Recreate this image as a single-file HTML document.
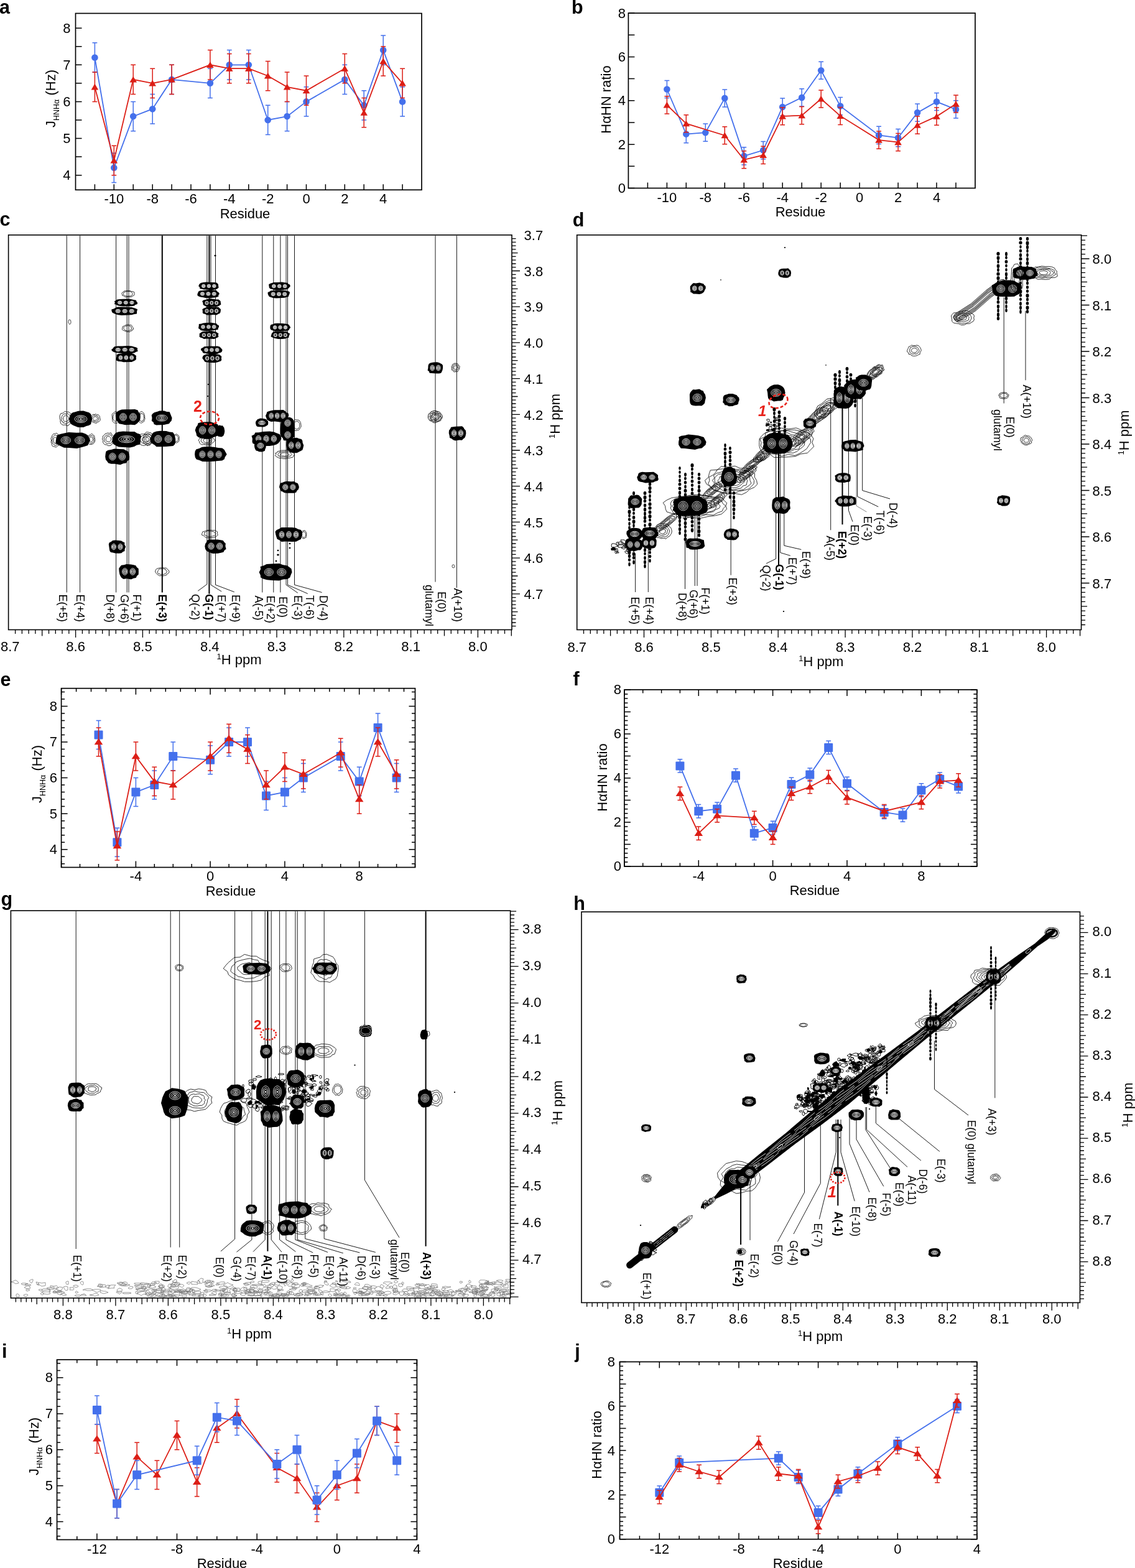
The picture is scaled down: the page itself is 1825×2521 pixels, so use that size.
<!DOCTYPE html>
<html><head><meta charset="utf-8"><style>
html,body{margin:0;padding:0;background:#fff;}
svg{display:block;}
text{font-family:'Liberation Sans', Arial, sans-serif;fill:#000;}
</style></head><body>
<svg width="1825" height="2521" viewBox="0 0 1825 2521">
<rect width="1825" height="2521" fill="#fff"/>
<rect x="121.5" y="21.5" width="556.5" height="283.8" fill="none" stroke="#000" stroke-width="1.7"/>
<path d="M152.4 305.3v-9M183.3 305.3v-9M214.2 305.3v-9M245.2 305.3v-9M276.1 305.3v-9M307.0 305.3v-9M337.9 305.3v-9M368.8 305.3v-9M399.8 305.3v-9M430.7 305.3v-9M461.6 305.3v-9M492.5 305.3v-9M523.4 305.3v-9M554.3 305.3v-9M585.2 305.3v-9M616.2 305.3v-9M647.1 305.3v-9M121.5 281.7h10M121.5 252.1h10M121.5 222.5h10M121.5 193.0h10M121.5 163.4h10M121.5 133.8h10M121.5 104.3h10M121.5 74.7h10M121.5 45.2h10" stroke="#000" stroke-width="1.5" fill="none"/>
<text x="183.3" y="326.5" text-anchor="middle" font-size="22">-10</text>
<text x="245.2" y="326.5" text-anchor="middle" font-size="22">-8</text>
<text x="307.0" y="326.5" text-anchor="middle" font-size="22">-6</text>
<text x="368.8" y="326.5" text-anchor="middle" font-size="22">-4</text>
<text x="430.7" y="326.5" text-anchor="middle" font-size="22">-2</text>
<text x="492.5" y="326.5" text-anchor="middle" font-size="22">0</text>
<text x="554.3" y="326.5" text-anchor="middle" font-size="22">2</text>
<text x="616.2" y="326.5" text-anchor="middle" font-size="22">4</text>
<text x="113.5" y="289.1" text-anchor="end" font-size="22">4</text>
<text x="113.5" y="229.9" text-anchor="end" font-size="22">5</text>
<text x="113.5" y="170.8" text-anchor="end" font-size="22">6</text>
<text x="113.5" y="111.7" text-anchor="end" font-size="22">7</text>
<text x="113.5" y="52.6" text-anchor="end" font-size="22">8</text>
<text x="394.0" y="350.5" text-anchor="middle" font-size="22">Residue</text>
<text transform="translate(88.5,158.5) rotate(-90)" text-anchor="middle" font-size="22">J<tspan font-size="12.5" dy="6">HNHα</tspan><tspan dy="-6"> (Hz)</tspan></text>
<path d="M152.4 68.8V116.1M148.5 68.8h7.8M148.5 116.1h7.8M183.3 246.2V293.5M179.4 246.2h7.8M179.4 293.5h7.8M214.2 163.4V210.7M210.3 163.4h7.8M210.3 210.7h7.8M245.2 151.6V198.9M241.3 151.6h7.8M241.3 198.9h7.8M276.1 104.3V151.6M272.2 104.3h7.8M272.2 151.6h7.8M337.9 110.2V157.5M334.0 110.2h7.8M334.0 157.5h7.8M368.8 80.6V127.9M364.9 80.6h7.8M364.9 127.9h7.8M399.8 80.6V127.9M395.9 80.6h7.8M395.9 127.9h7.8M430.7 169.3V216.6M426.8 169.3h7.8M426.8 216.6h7.8M461.6 163.4V210.7M457.7 163.4h7.8M457.7 210.7h7.8M492.5 139.8V187.1M488.6 139.8h7.8M488.6 187.1h7.8M554.3 104.3V151.6M550.4 104.3h7.8M550.4 151.6h7.8M585.2 145.7V193.0M581.4 145.7h7.8M581.4 193.0h7.8M616.2 57.0V104.3M612.3 57.0h7.8M612.3 104.3h7.8M647.1 139.8V187.1M643.2 139.8h7.8M643.2 187.1h7.8" stroke="#4470ec" stroke-width="1.5" fill="none"/>
<polyline points="152.4,92.5 183.3,269.8 214.2,187.1 245.2,175.2 276.1,127.9 337.9,133.8 368.8,104.3 399.8,104.3 430.7,193.0 461.6,187.1 492.5,163.4 554.3,127.9 585.2,169.3 616.2,80.6 647.1,163.4" stroke="#4470ec" stroke-width="1.8" fill="none"/>
<circle cx="152.4" cy="92.5" r="5.3" fill="#4470ec"/>
<circle cx="183.3" cy="269.8" r="5.3" fill="#4470ec"/>
<circle cx="214.2" cy="187.1" r="5.3" fill="#4470ec"/>
<circle cx="245.2" cy="175.2" r="5.3" fill="#4470ec"/>
<circle cx="276.1" cy="127.9" r="5.3" fill="#4470ec"/>
<circle cx="337.9" cy="133.8" r="5.3" fill="#4470ec"/>
<circle cx="368.8" cy="104.3" r="5.3" fill="#4470ec"/>
<circle cx="399.8" cy="104.3" r="5.3" fill="#4470ec"/>
<circle cx="430.7" cy="193.0" r="5.3" fill="#4470ec"/>
<circle cx="461.6" cy="187.1" r="5.3" fill="#4470ec"/>
<circle cx="492.5" cy="163.4" r="5.3" fill="#4470ec"/>
<circle cx="554.3" cy="127.9" r="5.3" fill="#4470ec"/>
<circle cx="585.2" cy="169.3" r="5.3" fill="#4470ec"/>
<circle cx="616.2" cy="80.6" r="5.3" fill="#4470ec"/>
<circle cx="647.1" cy="163.4" r="5.3" fill="#4470ec"/>
<path d="M152.4 116.1V163.4M148.5 116.1h7.8M148.5 163.4h7.8M183.3 234.3V281.7M179.4 234.3h7.8M179.4 281.7h7.8M214.2 104.3V151.6M210.3 104.3h7.8M210.3 151.6h7.8M245.2 110.2V157.5M241.3 110.2h7.8M241.3 157.5h7.8M276.1 104.3V151.6M272.2 104.3h7.8M272.2 151.6h7.8M337.9 80.6V127.9M334.0 80.6h7.8M334.0 127.9h7.8M368.8 86.5V133.8M364.9 86.5h7.8M364.9 133.8h7.8M399.8 86.5V133.8M395.9 86.5h7.8M395.9 133.8h7.8M430.7 98.4V145.7M426.8 98.4h7.8M426.8 145.7h7.8M461.6 116.1V163.4M457.7 116.1h7.8M457.7 163.4h7.8M492.5 122.0V169.3M488.6 122.0h7.8M488.6 169.3h7.8M554.3 86.5V133.8M550.4 86.5h7.8M550.4 133.8h7.8M585.2 157.5V204.8M581.4 157.5h7.8M581.4 204.8h7.8M616.2 74.7V122.0M612.3 74.7h7.8M612.3 122.0h7.8M647.1 110.2V157.5M643.2 110.2h7.8M643.2 157.5h7.8" stroke="#dc1e16" stroke-width="1.5" fill="none"/>
<polyline points="152.4,139.8 183.3,258.0 214.2,127.9 245.2,133.8 276.1,127.9 337.9,104.3 368.8,110.2 399.8,110.2 430.7,122.0 461.6,139.8 492.5,145.7 554.3,110.2 585.2,181.1 616.2,98.4 647.1,133.8" stroke="#dc1e16" stroke-width="1.8" fill="none"/>
<path d="M152.4 134.6L158.2 144.4L146.6 144.4Z" fill="#dc1e16"/>
<path d="M183.3 252.8L189.1 262.6L177.5 262.6Z" fill="#dc1e16"/>
<path d="M214.2 122.7L220.1 132.5L208.4 132.5Z" fill="#dc1e16"/>
<path d="M245.2 128.6L251.0 138.4L239.4 138.4Z" fill="#dc1e16"/>
<path d="M276.1 122.7L281.9 132.5L270.3 132.5Z" fill="#dc1e16"/>
<path d="M337.9 99.1L343.7 108.9L332.1 108.9Z" fill="#dc1e16"/>
<path d="M368.8 105.0L374.6 114.8L363.0 114.8Z" fill="#dc1e16"/>
<path d="M399.8 105.0L405.6 114.8L393.9 114.8Z" fill="#dc1e16"/>
<path d="M430.7 116.8L436.5 126.6L424.9 126.6Z" fill="#dc1e16"/>
<path d="M461.6 134.6L467.4 144.4L455.8 144.4Z" fill="#dc1e16"/>
<path d="M492.5 140.5L498.3 150.3L486.7 150.3Z" fill="#dc1e16"/>
<path d="M554.3 105.0L560.1 114.8L548.5 114.8Z" fill="#dc1e16"/>
<path d="M585.2 175.9L591.0 185.7L579.5 185.7Z" fill="#dc1e16"/>
<path d="M616.2 93.2L622.0 103.0L610.4 103.0Z" fill="#dc1e16"/>
<path d="M647.1 128.6L652.9 138.4L641.3 138.4Z" fill="#dc1e16"/>
<rect x="1010.4" y="21.1" width="557.6" height="281.4" fill="none" stroke="#000" stroke-width="1.7"/>
<path d="M1041.4 302.5v-9M1072.4 302.5v-9M1103.3 302.5v-9M1134.3 302.5v-9M1165.3 302.5v-9M1196.3 302.5v-9M1227.2 302.5v-9M1258.2 302.5v-9M1289.2 302.5v-9M1320.2 302.5v-9M1351.2 302.5v-9M1382.1 302.5v-9M1413.1 302.5v-9M1444.1 302.5v-9M1475.1 302.5v-9M1506.0 302.5v-9M1537.0 302.5v-9M1010.4 302.5h10M1010.4 267.3h10M1010.4 232.2h10M1010.4 197.0h10M1010.4 161.8h10M1010.4 126.6h10M1010.4 91.5h10M1010.4 56.3h10M1010.4 21.1h10" stroke="#000" stroke-width="1.5" fill="none"/>
<text x="1072.4" y="325.0" text-anchor="middle" font-size="22">-10</text>
<text x="1134.3" y="325.0" text-anchor="middle" font-size="22">-8</text>
<text x="1196.3" y="325.0" text-anchor="middle" font-size="22">-6</text>
<text x="1258.2" y="325.0" text-anchor="middle" font-size="22">-4</text>
<text x="1320.2" y="325.0" text-anchor="middle" font-size="22">-2</text>
<text x="1382.1" y="325.0" text-anchor="middle" font-size="22">0</text>
<text x="1444.1" y="325.0" text-anchor="middle" font-size="22">2</text>
<text x="1506.0" y="325.0" text-anchor="middle" font-size="22">4</text>
<text x="1006.0" y="309.9" text-anchor="end" font-size="22">0</text>
<text x="1006.0" y="239.6" text-anchor="end" font-size="22">2</text>
<text x="1006.0" y="169.2" text-anchor="end" font-size="22">4</text>
<text x="1006.0" y="98.9" text-anchor="end" font-size="22">6</text>
<text x="1006.0" y="28.5" text-anchor="end" font-size="22">8</text>
<text x="1287.0" y="348.0" text-anchor="middle" font-size="22">Residue</text>
<text transform="translate(982.3,160.0) rotate(-90)" text-anchor="middle" font-size="22">HαHN ratio</text>
<path d="M1072.4 129.4V157.6M1068.5 129.4h7.8M1068.5 157.6h7.8M1103.3 201.5V229.7M1099.4 201.5h7.8M1099.4 229.7h7.8M1134.3 199.1V227.2M1130.4 199.1h7.8M1130.4 227.2h7.8M1165.3 143.9V172.0M1161.4 143.9h7.8M1161.4 172.0h7.8M1196.3 236.7V264.9M1192.4 236.7h7.8M1192.4 264.9h7.8M1227.2 227.6V255.7M1223.3 227.6h7.8M1223.3 255.7h7.8M1258.2 157.9V186.1M1254.3 157.9h7.8M1254.3 186.1h7.8M1289.2 142.8V170.9M1285.3 142.8h7.8M1285.3 170.9h7.8M1320.2 99.2V127.3M1316.3 99.2h7.8M1316.3 127.3h7.8M1351.2 156.5V184.7M1347.3 156.5h7.8M1347.3 184.7h7.8M1413.1 203.3V231.4M1409.2 203.3h7.8M1409.2 231.4h7.8M1444.1 207.5V235.7M1440.2 207.5h7.8M1440.2 235.7h7.8M1475.1 167.1V195.2M1471.2 167.1h7.8M1471.2 195.2h7.8M1506.0 149.5V177.6M1502.1 149.5h7.8M1502.1 177.6h7.8M1537.0 161.8V189.9M1533.1 161.8h7.8M1533.1 189.9h7.8" stroke="#4470ec" stroke-width="1.5" fill="none"/>
<polyline points="1072.4,143.5 1103.3,215.6 1134.3,213.2 1165.3,157.9 1196.3,250.8 1227.2,241.6 1258.2,172.0 1289.2,156.9 1320.2,113.3 1351.2,170.6 1413.1,217.4 1444.1,221.6 1475.1,181.1 1506.0,163.6 1537.0,175.9" stroke="#4470ec" stroke-width="1.8" fill="none"/>
<circle cx="1072.4" cy="143.5" r="5.3" fill="#4470ec"/>
<circle cx="1103.3" cy="215.6" r="5.3" fill="#4470ec"/>
<circle cx="1134.3" cy="213.2" r="5.3" fill="#4470ec"/>
<circle cx="1165.3" cy="157.9" r="5.3" fill="#4470ec"/>
<circle cx="1196.3" cy="250.8" r="5.3" fill="#4470ec"/>
<circle cx="1227.2" cy="241.6" r="5.3" fill="#4470ec"/>
<circle cx="1258.2" cy="172.0" r="5.3" fill="#4470ec"/>
<circle cx="1289.2" cy="156.9" r="5.3" fill="#4470ec"/>
<circle cx="1320.2" cy="113.3" r="5.3" fill="#4470ec"/>
<circle cx="1351.2" cy="170.6" r="5.3" fill="#4470ec"/>
<circle cx="1413.1" cy="217.4" r="5.3" fill="#4470ec"/>
<circle cx="1444.1" cy="221.6" r="5.3" fill="#4470ec"/>
<circle cx="1475.1" cy="181.1" r="5.3" fill="#4470ec"/>
<circle cx="1506.0" cy="163.6" r="5.3" fill="#4470ec"/>
<circle cx="1537.0" cy="175.9" r="5.3" fill="#4470ec"/>
<path d="M1072.4 154.8V182.9M1068.5 154.8h7.8M1068.5 182.9h7.8M1103.3 184.7V212.8M1099.4 184.7h7.8M1099.4 212.8h7.8M1165.3 203.7V231.8M1161.4 203.7h7.8M1161.4 231.8h7.8M1196.3 242.7V270.8M1192.4 242.7h7.8M1192.4 270.8h7.8M1227.2 235.3V263.5M1223.3 235.3h7.8M1223.3 263.5h7.8M1258.2 172.7V200.8M1254.3 172.7h7.8M1254.3 200.8h7.8M1289.2 171.6V199.8M1285.3 171.6h7.8M1285.3 199.8h7.8M1320.2 144.9V173.1M1316.3 144.9h7.8M1316.3 173.1h7.8M1351.2 172.4V200.5M1347.3 172.4h7.8M1347.3 200.5h7.8M1413.1 211.0V239.2M1409.2 211.0h7.8M1409.2 239.2h7.8M1444.1 214.6V242.7M1440.2 214.6h7.8M1440.2 242.7h7.8M1475.1 187.1V215.3M1471.2 187.1h7.8M1471.2 215.3h7.8M1506.0 173.1V201.2M1502.1 173.1h7.8M1502.1 201.2h7.8M1537.0 153.0V181.1M1533.1 153.0h7.8M1533.1 181.1h7.8" stroke="#dc1e16" stroke-width="1.5" fill="none"/>
<polyline points="1072.4,168.8 1103.3,198.7 1165.3,217.7 1196.3,256.8 1227.2,249.4 1258.2,186.8 1289.2,185.7 1320.2,159.0 1351.2,186.4 1413.1,225.1 1444.1,228.6 1475.1,201.2 1506.0,187.1 1537.0,167.1" stroke="#dc1e16" stroke-width="1.8" fill="none"/>
<path d="M1072.4 163.6L1078.2 173.4L1066.6 173.4Z" fill="#dc1e16"/>
<path d="M1103.3 193.5L1109.1 203.3L1097.5 203.3Z" fill="#dc1e16"/>
<path d="M1165.3 212.5L1171.1 222.3L1159.5 222.3Z" fill="#dc1e16"/>
<path d="M1196.3 251.6L1202.1 261.4L1190.5 261.4Z" fill="#dc1e16"/>
<path d="M1227.2 244.2L1233.0 254.0L1221.4 254.0Z" fill="#dc1e16"/>
<path d="M1258.2 181.6L1264.0 191.4L1252.4 191.4Z" fill="#dc1e16"/>
<path d="M1289.2 180.5L1295.0 190.3L1283.4 190.3Z" fill="#dc1e16"/>
<path d="M1320.2 153.8L1326.0 163.6L1314.4 163.6Z" fill="#dc1e16"/>
<path d="M1351.2 181.2L1357.0 191.0L1345.4 191.0Z" fill="#dc1e16"/>
<path d="M1413.1 219.9L1418.9 229.7L1407.3 229.7Z" fill="#dc1e16"/>
<path d="M1444.1 223.4L1449.9 233.2L1438.3 233.2Z" fill="#dc1e16"/>
<path d="M1475.1 196.0L1480.9 205.8L1469.3 205.8Z" fill="#dc1e16"/>
<path d="M1506.0 181.9L1511.8 191.7L1500.2 191.7Z" fill="#dc1e16"/>
<path d="M1537.0 161.9L1542.8 171.7L1531.2 171.7Z" fill="#dc1e16"/>
<rect x="98.6" y="1106.7" width="568.9" height="287.8" fill="none" stroke="#000" stroke-width="1.7"/>
<path d="M98.6 1394.5v-10M128.5 1394.5v-5.5M158.5 1394.5v-5.5M188.4 1394.5v-5.5M218.4 1394.5v-10M248.3 1394.5v-5.5M278.3 1394.5v-5.5M308.2 1394.5v-5.5M338.1 1394.5v-10M368.1 1394.5v-5.5M398.0 1394.5v-5.5M428.0 1394.5v-5.5M457.9 1394.5v-10M487.8 1394.5v-5.5M517.8 1394.5v-5.5M547.7 1394.5v-5.5M577.7 1394.5v-10M607.6 1394.5v-5.5M637.6 1394.5v-5.5M667.5 1394.5v-5.5M98.6 1106.7v10M122.6 1106.7v5.5M146.5 1106.7v5.5M170.5 1106.7v5.5M194.4 1106.7v5.5M218.4 1106.7v10M242.3 1106.7v5.5M266.3 1106.7v5.5M290.2 1106.7v5.5M314.2 1106.7v5.5M338.1 1106.7v10M362.1 1106.7v5.5M386.0 1106.7v5.5M410.0 1106.7v5.5M434.0 1106.7v5.5M457.9 1106.7v10M481.9 1106.7v5.5M505.8 1106.7v5.5M529.8 1106.7v5.5M553.7 1106.7v5.5M577.7 1106.7v10M601.6 1106.7v5.5M625.6 1106.7v5.5M649.5 1106.7v5.5M98.6 1388.7h5.5M667.5 1388.7h-5.5M98.6 1377.2h5.5M667.5 1377.2h-5.5M98.6 1365.7h10M667.5 1365.7h-10M98.6 1354.2h5.5M667.5 1354.2h-5.5M98.6 1342.7h5.5M667.5 1342.7h-5.5M98.6 1331.2h5.5M667.5 1331.2h-5.5M98.6 1319.7h5.5M667.5 1319.7h-5.5M98.6 1308.2h10M667.5 1308.2h-10M98.6 1296.6h5.5M667.5 1296.6h-5.5M98.6 1285.1h5.5M667.5 1285.1h-5.5M98.6 1273.6h5.5M667.5 1273.6h-5.5M98.6 1262.1h5.5M667.5 1262.1h-5.5M98.6 1250.6h10M667.5 1250.6h-10M98.6 1239.1h5.5M667.5 1239.1h-5.5M98.6 1227.6h5.5M667.5 1227.6h-5.5M98.6 1216.1h5.5M667.5 1216.1h-5.5M98.6 1204.6h5.5M667.5 1204.6h-5.5M98.6 1193.0h10M667.5 1193.0h-10M98.6 1181.5h5.5M667.5 1181.5h-5.5M98.6 1170.0h5.5M667.5 1170.0h-5.5M98.6 1158.5h5.5M667.5 1158.5h-5.5M98.6 1147.0h5.5M667.5 1147.0h-5.5M98.6 1135.5h10M667.5 1135.5h-10M98.6 1124.0h5.5M667.5 1124.0h-5.5M98.6 1112.5h5.5M667.5 1112.5h-5.5" stroke="#000" stroke-width="1.5" fill="none"/>
<text x="218.4" y="1416.0" text-anchor="middle" font-size="22">-4</text>
<text x="338.1" y="1416.0" text-anchor="middle" font-size="22">0</text>
<text x="457.9" y="1416.0" text-anchor="middle" font-size="22">4</text>
<text x="577.7" y="1416.0" text-anchor="middle" font-size="22">8</text>
<text x="92.0" y="1373.1" text-anchor="end" font-size="22">4</text>
<text x="92.0" y="1315.6" text-anchor="end" font-size="22">5</text>
<text x="92.0" y="1258.0" text-anchor="end" font-size="22">6</text>
<text x="92.0" y="1200.4" text-anchor="end" font-size="22">7</text>
<text x="92.0" y="1142.9" text-anchor="end" font-size="22">8</text>
<text x="371.0" y="1440.0" text-anchor="middle" font-size="22">Residue</text>
<text transform="translate(67.0,1244.5) rotate(-90)" text-anchor="middle" font-size="22">J<tspan font-size="12.5" dy="6">HNHα</tspan><tspan dy="-6"> (Hz)</tspan></text>
<path d="M158.5 1158.5V1204.6M154.6 1158.5h7.8M154.6 1204.6h7.8M188.4 1331.2V1377.2M184.5 1331.2h7.8M184.5 1377.2h7.8M218.4 1250.6V1296.6M214.5 1250.6h7.8M214.5 1296.6h7.8M248.3 1239.1V1285.1M244.4 1239.1h7.8M244.4 1285.1h7.8M278.3 1193.0V1239.1M274.4 1193.0h7.8M274.4 1239.1h7.8M338.1 1198.8V1244.8M334.2 1198.8h7.8M334.2 1244.8h7.8M368.1 1170.0V1216.1M364.2 1170.0h7.8M364.2 1216.1h7.8M398.0 1170.0V1216.1M394.1 1170.0h7.8M394.1 1216.1h7.8M428.0 1256.4V1302.4M424.1 1256.4h7.8M424.1 1302.4h7.8M457.9 1250.6V1296.6M454.0 1250.6h7.8M454.0 1296.6h7.8M487.8 1227.6V1273.6M483.9 1227.6h7.8M483.9 1273.6h7.8M547.7 1193.0V1239.1M543.8 1193.0h7.8M543.8 1239.1h7.8M577.7 1233.3V1279.4M573.8 1233.3h7.8M573.8 1279.4h7.8M607.6 1147.0V1193.0M603.7 1147.0h7.8M603.7 1193.0h7.8M637.6 1227.6V1273.6M633.7 1227.6h7.8M633.7 1273.6h7.8" stroke="#4470ec" stroke-width="1.5" fill="none"/>
<polyline points="158.5,1181.5 188.4,1354.2 218.4,1273.6 248.3,1262.1 278.3,1216.1 338.1,1221.8 368.1,1193.0 398.0,1193.0 428.0,1279.4 457.9,1273.6 487.8,1250.6 547.7,1216.1 577.7,1256.4 607.6,1170.0 637.6,1250.6" stroke="#4470ec" stroke-width="1.8" fill="none"/>
<rect x="151.5" y="1174.5" width="14" height="14" rx="1" fill="#4470ec"/>
<rect x="181.4" y="1347.2" width="14" height="14" rx="1" fill="#4470ec"/>
<rect x="211.4" y="1266.6" width="14" height="14" rx="1" fill="#4470ec"/>
<rect x="241.3" y="1255.1" width="14" height="14" rx="1" fill="#4470ec"/>
<rect x="271.3" y="1209.1" width="14" height="14" rx="1" fill="#4470ec"/>
<rect x="331.1" y="1214.8" width="14" height="14" rx="1" fill="#4470ec"/>
<rect x="361.1" y="1186.0" width="14" height="14" rx="1" fill="#4470ec"/>
<rect x="391.0" y="1186.0" width="14" height="14" rx="1" fill="#4470ec"/>
<rect x="421.0" y="1272.4" width="14" height="14" rx="1" fill="#4470ec"/>
<rect x="450.9" y="1266.6" width="14" height="14" rx="1" fill="#4470ec"/>
<rect x="480.8" y="1243.6" width="14" height="14" rx="1" fill="#4470ec"/>
<rect x="540.7" y="1209.1" width="14" height="14" rx="1" fill="#4470ec"/>
<rect x="570.7" y="1249.4" width="14" height="14" rx="1" fill="#4470ec"/>
<rect x="600.6" y="1163.0" width="14" height="14" rx="1" fill="#4470ec"/>
<rect x="630.6" y="1243.6" width="14" height="14" rx="1" fill="#4470ec"/>
<path d="M158.5 1170.0V1216.1M154.6 1170.0h7.8M154.6 1216.1h7.8M188.4 1336.9V1383.0M184.5 1336.9h7.8M184.5 1383.0h7.8M218.4 1193.0V1239.1M214.5 1193.0h7.8M214.5 1239.1h7.8M248.3 1233.3V1279.4M244.4 1233.3h7.8M244.4 1279.4h7.8M278.3 1239.1V1285.1M274.4 1239.1h7.8M274.4 1285.1h7.8M338.1 1193.0V1239.1M334.2 1193.0h7.8M334.2 1239.1h7.8M368.1 1164.3V1210.3M364.2 1164.3h7.8M364.2 1210.3h7.8M398.0 1181.5V1227.6M394.1 1181.5h7.8M394.1 1227.6h7.8M428.0 1239.1V1285.1M424.1 1239.1h7.8M424.1 1285.1h7.8M457.9 1210.3V1256.4M454.0 1210.3h7.8M454.0 1256.4h7.8M487.8 1221.8V1267.9M483.9 1221.8h7.8M483.9 1267.9h7.8M547.7 1187.3V1233.3M543.8 1187.3h7.8M543.8 1233.3h7.8M577.7 1262.1V1308.2M573.8 1262.1h7.8M573.8 1308.2h7.8M607.6 1170.0V1216.1M603.7 1170.0h7.8M603.7 1216.1h7.8M637.6 1221.8V1267.9M633.7 1221.8h7.8M633.7 1267.9h7.8" stroke="#dc1e16" stroke-width="1.5" fill="none"/>
<polyline points="158.5,1193.0 188.4,1360.0 218.4,1216.1 248.3,1256.4 278.3,1262.1 338.1,1216.1 368.1,1187.3 398.0,1204.6 428.0,1262.1 457.9,1233.3 487.8,1244.8 547.7,1210.3 577.7,1285.1 607.6,1193.0 637.6,1244.8" stroke="#dc1e16" stroke-width="1.8" fill="none"/>
<path d="M158.5 1187.0L165.3 1197.2L151.7 1197.2Z" fill="#dc1e16"/>
<path d="M188.4 1354.0L195.2 1364.2L181.6 1364.2Z" fill="#dc1e16"/>
<path d="M218.4 1210.1L225.2 1220.3L211.6 1220.3Z" fill="#dc1e16"/>
<path d="M248.3 1250.4L255.1 1260.6L241.5 1260.6Z" fill="#dc1e16"/>
<path d="M278.3 1256.1L285.1 1266.3L271.5 1266.3Z" fill="#dc1e16"/>
<path d="M338.1 1210.1L344.9 1220.3L331.3 1220.3Z" fill="#dc1e16"/>
<path d="M368.1 1181.3L374.9 1191.5L361.3 1191.5Z" fill="#dc1e16"/>
<path d="M398.0 1198.6L404.8 1208.8L391.2 1208.8Z" fill="#dc1e16"/>
<path d="M428.0 1256.1L434.8 1266.3L421.2 1266.3Z" fill="#dc1e16"/>
<path d="M457.9 1227.3L464.7 1237.5L451.1 1237.5Z" fill="#dc1e16"/>
<path d="M487.8 1238.8L494.6 1249.0L481.0 1249.0Z" fill="#dc1e16"/>
<path d="M547.7 1204.3L554.5 1214.5L540.9 1214.5Z" fill="#dc1e16"/>
<path d="M577.7 1279.1L584.5 1289.3L570.9 1289.3Z" fill="#dc1e16"/>
<path d="M607.6 1187.0L614.4 1197.2L600.8 1197.2Z" fill="#dc1e16"/>
<path d="M637.6 1238.8L644.4 1249.0L630.8 1249.0Z" fill="#dc1e16"/>
<rect x="1003.9" y="1108.9" width="567.0" height="284.1" fill="none" stroke="#000" stroke-width="1.7"/>
<path d="M1003.9 1393.0v-10M1003.9 1108.9v10M1033.7 1393.0v-5.5M1033.7 1108.9v5.5M1063.6 1393.0v-5.5M1063.6 1108.9v5.5M1093.4 1393.0v-5.5M1093.4 1108.9v5.5M1123.3 1393.0v-10M1123.3 1108.9v10M1153.1 1393.0v-5.5M1153.1 1108.9v5.5M1183.0 1393.0v-5.5M1183.0 1108.9v5.5M1212.8 1393.0v-5.5M1212.8 1108.9v5.5M1242.6 1393.0v-10M1242.6 1108.9v10M1272.5 1393.0v-5.5M1272.5 1108.9v5.5M1302.3 1393.0v-5.5M1302.3 1108.9v5.5M1332.2 1393.0v-5.5M1332.2 1108.9v5.5M1362.0 1393.0v-10M1362.0 1108.9v10M1391.8 1393.0v-5.5M1391.8 1108.9v5.5M1421.7 1393.0v-5.5M1421.7 1108.9v5.5M1451.5 1393.0v-5.5M1451.5 1108.9v5.5M1481.4 1393.0v-10M1481.4 1108.9v10M1511.2 1393.0v-5.5M1511.2 1108.9v5.5M1541.1 1393.0v-5.5M1541.1 1108.9v5.5M1570.9 1393.0v-5.5M1570.9 1108.9v5.5M1003.9 1393.0h10M1570.9 1393.0h-10M1003.9 1385.9h5.5M1570.9 1385.9h-5.5M1003.9 1378.8h5.5M1570.9 1378.8h-5.5M1003.9 1371.7h5.5M1570.9 1371.7h-5.5M1003.9 1364.6h5.5M1570.9 1364.6h-5.5M1003.9 1357.5h10M1570.9 1357.5h-10M1003.9 1350.4h5.5M1570.9 1350.4h-5.5M1003.9 1343.3h5.5M1570.9 1343.3h-5.5M1003.9 1336.2h5.5M1570.9 1336.2h-5.5M1003.9 1329.1h5.5M1570.9 1329.1h-5.5M1003.9 1322.0h10M1570.9 1322.0h-10M1003.9 1314.9h5.5M1570.9 1314.9h-5.5M1003.9 1307.8h5.5M1570.9 1307.8h-5.5M1003.9 1300.7h5.5M1570.9 1300.7h-5.5M1003.9 1293.6h5.5M1570.9 1293.6h-5.5M1003.9 1286.5h10M1570.9 1286.5h-10M1003.9 1279.4h5.5M1570.9 1279.4h-5.5M1003.9 1272.3h5.5M1570.9 1272.3h-5.5M1003.9 1265.2h5.5M1570.9 1265.2h-5.5M1003.9 1258.1h5.5M1570.9 1258.1h-5.5M1003.9 1251.0h10M1570.9 1251.0h-10M1003.9 1243.8h5.5M1570.9 1243.8h-5.5M1003.9 1236.7h5.5M1570.9 1236.7h-5.5M1003.9 1229.6h5.5M1570.9 1229.6h-5.5M1003.9 1222.5h5.5M1570.9 1222.5h-5.5M1003.9 1215.4h10M1570.9 1215.4h-10M1003.9 1208.3h5.5M1570.9 1208.3h-5.5M1003.9 1201.2h5.5M1570.9 1201.2h-5.5M1003.9 1194.1h5.5M1570.9 1194.1h-5.5M1003.9 1187.0h5.5M1570.9 1187.0h-5.5M1003.9 1179.9h10M1570.9 1179.9h-10M1003.9 1172.8h5.5M1570.9 1172.8h-5.5M1003.9 1165.7h5.5M1570.9 1165.7h-5.5M1003.9 1158.6h5.5M1570.9 1158.6h-5.5M1003.9 1151.5h5.5M1570.9 1151.5h-5.5M1003.9 1144.4h10M1570.9 1144.4h-10M1003.9 1137.3h5.5M1570.9 1137.3h-5.5M1003.9 1130.2h5.5M1570.9 1130.2h-5.5M1003.9 1123.1h5.5M1570.9 1123.1h-5.5M1003.9 1116.0h5.5M1570.9 1116.0h-5.5M1003.9 1108.9h10M1570.9 1108.9h-10" stroke="#000" stroke-width="1.5" fill="none"/>
<text x="1123.3" y="1416.0" text-anchor="middle" font-size="22">-4</text>
<text x="1242.6" y="1416.0" text-anchor="middle" font-size="22">0</text>
<text x="1362.0" y="1416.0" text-anchor="middle" font-size="22">4</text>
<text x="1481.4" y="1416.0" text-anchor="middle" font-size="22">8</text>
<text x="999.0" y="1400.4" text-anchor="end" font-size="22">0</text>
<text x="999.0" y="1329.4" text-anchor="end" font-size="22">2</text>
<text x="999.0" y="1258.4" text-anchor="end" font-size="22">4</text>
<text x="999.0" y="1187.3" text-anchor="end" font-size="22">6</text>
<text x="999.0" y="1116.3" text-anchor="end" font-size="22">8</text>
<text x="1310.0" y="1438.5" text-anchor="middle" font-size="22">Residue</text>
<text transform="translate(975.5,1250.0) rotate(-90)" text-anchor="middle" font-size="22">HαHN ratio</text>
<path d="M1093.4 1220.8V1242.1M1089.5 1220.8h7.8M1089.5 1242.1h7.8M1123.3 1293.6V1314.9M1119.4 1293.6h7.8M1119.4 1314.9h7.8M1153.1 1290.0V1311.3M1149.2 1290.0h7.8M1149.2 1311.3h7.8M1183.0 1236.0V1257.3M1179.1 1236.0h7.8M1179.1 1257.3h7.8M1212.8 1329.1V1350.4M1208.9 1329.1h7.8M1208.9 1350.4h7.8M1242.6 1320.2V1341.5M1238.7 1320.2h7.8M1238.7 1341.5h7.8M1272.5 1250.2V1271.5M1268.6 1250.2h7.8M1268.6 1271.5h7.8M1302.3 1235.0V1256.3M1298.4 1235.0h7.8M1298.4 1256.3h7.8M1332.2 1191.3V1212.6M1328.3 1191.3h7.8M1328.3 1212.6h7.8M1362.0 1249.2V1270.5M1358.1 1249.2h7.8M1358.1 1270.5h7.8M1421.7 1295.3V1316.6M1417.8 1295.3h7.8M1417.8 1316.6h7.8M1451.5 1300.0V1321.3M1447.6 1300.0h7.8M1447.6 1321.3h7.8M1481.4 1259.8V1281.1M1477.5 1259.8h7.8M1477.5 1281.1h7.8M1511.2 1242.1V1263.4M1507.3 1242.1h7.8M1507.3 1263.4h7.8M1541.1 1253.8V1275.1M1537.2 1253.8h7.8M1537.2 1275.1h7.8" stroke="#4470ec" stroke-width="1.5" fill="none"/>
<polyline points="1093.4,1231.4 1123.3,1304.2 1153.1,1300.7 1183.0,1246.7 1212.8,1339.7 1242.6,1330.9 1272.5,1260.9 1302.3,1245.6 1332.2,1201.9 1362.0,1259.8 1421.7,1306.0 1451.5,1310.6 1481.4,1270.5 1511.2,1252.7 1541.1,1264.4" stroke="#4470ec" stroke-width="1.8" fill="none"/>
<rect x="1086.4" y="1224.4" width="14" height="14" rx="1" fill="#4470ec"/>
<rect x="1116.3" y="1297.2" width="14" height="14" rx="1" fill="#4470ec"/>
<rect x="1146.1" y="1293.7" width="14" height="14" rx="1" fill="#4470ec"/>
<rect x="1176.0" y="1239.7" width="14" height="14" rx="1" fill="#4470ec"/>
<rect x="1205.8" y="1332.7" width="14" height="14" rx="1" fill="#4470ec"/>
<rect x="1235.6" y="1323.9" width="14" height="14" rx="1" fill="#4470ec"/>
<rect x="1265.5" y="1253.9" width="14" height="14" rx="1" fill="#4470ec"/>
<rect x="1295.3" y="1238.6" width="14" height="14" rx="1" fill="#4470ec"/>
<rect x="1325.2" y="1194.9" width="14" height="14" rx="1" fill="#4470ec"/>
<rect x="1355.0" y="1252.8" width="14" height="14" rx="1" fill="#4470ec"/>
<rect x="1414.7" y="1299.0" width="14" height="14" rx="1" fill="#4470ec"/>
<rect x="1444.5" y="1303.6" width="14" height="14" rx="1" fill="#4470ec"/>
<rect x="1474.4" y="1263.5" width="14" height="14" rx="1" fill="#4470ec"/>
<rect x="1504.2" y="1245.7" width="14" height="14" rx="1" fill="#4470ec"/>
<rect x="1534.1" y="1257.4" width="14" height="14" rx="1" fill="#4470ec"/>
<path d="M1093.4 1265.2V1286.5M1089.5 1265.2h7.8M1089.5 1286.5h7.8M1123.3 1329.1V1350.4M1119.4 1329.1h7.8M1119.4 1350.4h7.8M1153.1 1300.7V1322.0M1149.2 1300.7h7.8M1149.2 1322.0h7.8M1212.8 1304.2V1325.5M1208.9 1304.2h7.8M1208.9 1325.5h7.8M1242.6 1336.2V1357.5M1238.7 1336.2h7.8M1238.7 1357.5h7.8M1272.5 1265.2V1286.5M1268.6 1265.2h7.8M1268.6 1286.5h7.8M1302.3 1254.5V1275.8M1298.4 1254.5h7.8M1298.4 1275.8h7.8M1332.2 1238.5V1259.8M1328.3 1238.5h7.8M1328.3 1259.8h7.8M1362.0 1271.5V1292.9M1358.1 1271.5h7.8M1358.1 1292.9h7.8M1421.7 1293.6V1314.9M1417.8 1293.6h7.8M1417.8 1314.9h7.8M1481.4 1279.4V1300.7M1477.5 1279.4h7.8M1477.5 1300.7h7.8M1511.2 1245.6V1266.9M1507.3 1245.6h7.8M1507.3 1266.9h7.8M1541.1 1243.8V1265.2M1537.2 1243.8h7.8M1537.2 1265.2h7.8" stroke="#dc1e16" stroke-width="1.5" fill="none"/>
<polyline points="1093.4,1275.8 1123.3,1339.7 1153.1,1311.3 1212.8,1314.9 1242.6,1346.8 1272.5,1275.8 1302.3,1265.2 1332.2,1249.2 1362.0,1282.2 1421.7,1304.2 1481.4,1290.0 1511.2,1256.3 1541.1,1254.5" stroke="#dc1e16" stroke-width="1.8" fill="none"/>
<path d="M1093.4 1269.8L1100.2 1280.0L1086.6 1280.0Z" fill="#dc1e16"/>
<path d="M1123.3 1333.7L1130.1 1343.9L1116.5 1343.9Z" fill="#dc1e16"/>
<path d="M1153.1 1305.3L1159.9 1315.5L1146.3 1315.5Z" fill="#dc1e16"/>
<path d="M1212.8 1308.9L1219.6 1319.1L1206.0 1319.1Z" fill="#dc1e16"/>
<path d="M1242.6 1340.8L1249.4 1351.0L1235.8 1351.0Z" fill="#dc1e16"/>
<path d="M1272.5 1269.8L1279.3 1280.0L1265.7 1280.0Z" fill="#dc1e16"/>
<path d="M1302.3 1259.2L1309.1 1269.4L1295.5 1269.4Z" fill="#dc1e16"/>
<path d="M1332.2 1243.2L1339.0 1253.4L1325.4 1253.4Z" fill="#dc1e16"/>
<path d="M1362.0 1276.2L1368.8 1286.4L1355.2 1286.4Z" fill="#dc1e16"/>
<path d="M1421.7 1298.2L1428.5 1308.4L1414.9 1308.4Z" fill="#dc1e16"/>
<path d="M1481.4 1284.0L1488.2 1294.2L1474.6 1294.2Z" fill="#dc1e16"/>
<path d="M1511.2 1250.3L1518.0 1260.5L1504.4 1260.5Z" fill="#dc1e16"/>
<path d="M1541.1 1248.5L1547.9 1258.7L1534.3 1258.7Z" fill="#dc1e16"/>
<rect x="91.6" y="2186.1" width="578.8" height="289.4" fill="none" stroke="#000" stroke-width="1.7"/>
<path d="M91.6 2475.5v-5.5M91.6 2186.1v5.5M123.8 2475.5v-5.5M123.8 2186.1v5.5M155.9 2475.5v-10M155.9 2186.1v10M188.1 2475.5v-5.5M188.1 2186.1v5.5M220.2 2475.5v-5.5M220.2 2186.1v5.5M252.4 2475.5v-5.5M252.4 2186.1v5.5M284.5 2475.5v-10M284.5 2186.1v10M316.7 2475.5v-5.5M316.7 2186.1v5.5M348.8 2475.5v-5.5M348.8 2186.1v5.5M381.0 2475.5v-5.5M381.0 2186.1v5.5M413.2 2475.5v-10M413.2 2186.1v10M445.3 2475.5v-5.5M445.3 2186.1v5.5M477.5 2475.5v-5.5M477.5 2186.1v5.5M509.6 2475.5v-5.5M509.6 2186.1v5.5M541.8 2475.5v-10M541.8 2186.1v10M573.9 2475.5v-5.5M573.9 2186.1v5.5M606.1 2475.5v-5.5M606.1 2186.1v5.5M638.2 2475.5v-5.5M638.2 2186.1v5.5M670.4 2475.5v-10M670.4 2186.1v10M91.6 2469.7h5.5M670.4 2469.7h-5.5M91.6 2458.1h5.5M670.4 2458.1h-5.5M91.6 2446.6h10M670.4 2446.6h-10M91.6 2435.0h5.5M670.4 2435.0h-5.5M91.6 2423.4h5.5M670.4 2423.4h-5.5M91.6 2411.8h5.5M670.4 2411.8h-5.5M91.6 2400.3h5.5M670.4 2400.3h-5.5M91.6 2388.7h10M670.4 2388.7h-10M91.6 2377.1h5.5M670.4 2377.1h-5.5M91.6 2365.5h5.5M670.4 2365.5h-5.5M91.6 2354.0h5.5M670.4 2354.0h-5.5M91.6 2342.4h5.5M670.4 2342.4h-5.5M91.6 2330.8h10M670.4 2330.8h-10M91.6 2319.2h5.5M670.4 2319.2h-5.5M91.6 2307.6h5.5M670.4 2307.6h-5.5M91.6 2296.1h5.5M670.4 2296.1h-5.5M91.6 2284.5h5.5M670.4 2284.5h-5.5M91.6 2272.9h10M670.4 2272.9h-10M91.6 2261.3h5.5M670.4 2261.3h-5.5M91.6 2249.8h5.5M670.4 2249.8h-5.5M91.6 2238.2h5.5M670.4 2238.2h-5.5M91.6 2226.6h5.5M670.4 2226.6h-5.5M91.6 2215.0h10M670.4 2215.0h-10M91.6 2203.5h5.5M670.4 2203.5h-5.5M91.6 2191.9h5.5M670.4 2191.9h-5.5" stroke="#000" stroke-width="1.5" fill="none"/>
<text x="155.9" y="2498.0" text-anchor="middle" font-size="22">-12</text>
<text x="284.5" y="2498.0" text-anchor="middle" font-size="22">-8</text>
<text x="413.2" y="2498.0" text-anchor="middle" font-size="22">-4</text>
<text x="541.8" y="2498.0" text-anchor="middle" font-size="22">0</text>
<text x="670.4" y="2498.0" text-anchor="middle" font-size="22">4</text>
<text x="85.0" y="2454.0" text-anchor="end" font-size="22">4</text>
<text x="85.0" y="2396.1" text-anchor="end" font-size="22">5</text>
<text x="85.0" y="2338.2" text-anchor="end" font-size="22">6</text>
<text x="85.0" y="2280.3" text-anchor="end" font-size="22">7</text>
<text x="85.0" y="2222.4" text-anchor="end" font-size="22">8</text>
<text x="357.0" y="2521.0" text-anchor="middle" font-size="22">Residue</text>
<text transform="translate(61.5,2325.5) rotate(-90)" text-anchor="middle" font-size="22">J<tspan font-size="12.5" dy="6">HNHα</tspan><tspan dy="-6"> (Hz)</tspan></text>
<path d="M155.9 2290.3V2336.6M152.0 2290.3h7.8M152.0 2336.6h7.8M188.1 2394.5V2440.8M184.2 2394.5h7.8M184.2 2440.8h7.8M220.2 2319.2V2365.5M216.3 2319.2h7.8M216.3 2365.5h7.8M252.4 2348.2V2394.5M248.5 2348.2h7.8M248.5 2394.5h7.8M284.5 2284.5V2330.8M280.6 2284.5h7.8M280.6 2330.8h7.8M316.7 2359.7V2406.0M312.8 2359.7h7.8M312.8 2406.0h7.8M348.8 2272.9V2319.2M344.9 2272.9h7.8M344.9 2319.2h7.8M381.0 2249.8V2296.1M377.1 2249.8h7.8M377.1 2296.1h7.8M445.3 2336.6V2382.9M441.4 2336.6h7.8M441.4 2382.9h7.8M477.5 2354.0V2400.3M473.6 2354.0h7.8M473.6 2400.3h7.8M509.6 2400.3V2446.6M505.7 2400.3h7.8M505.7 2446.6h7.8M541.8 2365.5V2411.8M537.9 2365.5h7.8M537.9 2411.8h7.8M573.9 2354.0V2400.3M570.0 2354.0h7.8M570.0 2400.3h7.8M606.1 2261.3V2307.6M602.2 2261.3h7.8M602.2 2307.6h7.8M638.2 2272.9V2319.2M634.3 2272.9h7.8M634.3 2319.2h7.8" stroke="#dc1e16" stroke-width="1.5" fill="none"/>
<polyline points="155.9,2313.4 188.1,2417.6 220.2,2342.4 252.4,2371.3 284.5,2307.6 316.7,2382.9 348.8,2296.1 381.0,2272.9 445.3,2359.7 477.5,2377.1 509.6,2423.4 541.8,2388.7 573.9,2377.1 606.1,2284.5 638.2,2296.1" stroke="#dc1e16" stroke-width="1.8" fill="none"/>
<path d="M155.9 2307.4L162.7 2317.6L149.1 2317.6Z" fill="#dc1e16"/>
<path d="M188.1 2411.6L194.9 2421.8L181.3 2421.8Z" fill="#dc1e16"/>
<path d="M220.2 2336.4L227.0 2346.6L213.4 2346.6Z" fill="#dc1e16"/>
<path d="M252.4 2365.3L259.2 2375.5L245.6 2375.5Z" fill="#dc1e16"/>
<path d="M284.5 2301.6L291.3 2311.8L277.7 2311.8Z" fill="#dc1e16"/>
<path d="M316.7 2376.9L323.5 2387.1L309.9 2387.1Z" fill="#dc1e16"/>
<path d="M348.8 2290.1L355.6 2300.3L342.0 2300.3Z" fill="#dc1e16"/>
<path d="M381.0 2266.9L387.8 2277.1L374.2 2277.1Z" fill="#dc1e16"/>
<path d="M445.3 2353.7L452.1 2363.9L438.5 2363.9Z" fill="#dc1e16"/>
<path d="M477.5 2371.1L484.3 2381.3L470.7 2381.3Z" fill="#dc1e16"/>
<path d="M509.6 2417.4L516.4 2427.6L502.8 2427.6Z" fill="#dc1e16"/>
<path d="M541.8 2382.7L548.6 2392.9L535.0 2392.9Z" fill="#dc1e16"/>
<path d="M573.9 2371.1L580.7 2381.3L567.1 2381.3Z" fill="#dc1e16"/>
<path d="M606.1 2278.5L612.9 2288.7L599.3 2288.7Z" fill="#dc1e16"/>
<path d="M638.2 2290.1L645.0 2300.3L631.4 2300.3Z" fill="#dc1e16"/>
<path d="M155.9 2244.0V2290.3M152.0 2244.0h7.8M152.0 2290.3h7.8M188.1 2394.5V2440.8M184.2 2394.5h7.8M184.2 2440.8h7.8M220.2 2348.2V2394.5M216.3 2348.2h7.8M216.3 2394.5h7.8M316.7 2325.0V2371.3M312.8 2325.0h7.8M312.8 2371.3h7.8M348.8 2255.6V2301.9M344.9 2255.6h7.8M344.9 2301.9h7.8M381.0 2261.3V2307.6M377.1 2261.3h7.8M377.1 2307.6h7.8M445.3 2330.8V2377.1M441.4 2330.8h7.8M441.4 2377.1h7.8M477.5 2307.6V2354.0M473.6 2307.6h7.8M473.6 2354.0h7.8M509.6 2388.7V2435.0M505.7 2388.7h7.8M505.7 2435.0h7.8M541.8 2348.2V2394.5M537.9 2348.2h7.8M537.9 2394.5h7.8M573.9 2313.4V2359.7M570.0 2313.4h7.8M570.0 2359.7h7.8M606.1 2261.3V2307.6M602.2 2261.3h7.8M602.2 2307.6h7.8M638.2 2325.0V2371.3M634.3 2325.0h7.8M634.3 2371.3h7.8" stroke="#4470ec" stroke-width="1.5" fill="none"/>
<polyline points="155.9,2267.1 188.1,2417.6 220.2,2371.3 316.7,2348.2 348.8,2278.7 381.0,2284.5 445.3,2354.0 477.5,2330.8 509.6,2411.8 541.8,2371.3 573.9,2336.6 606.1,2284.5 638.2,2348.2" stroke="#4470ec" stroke-width="1.8" fill="none"/>
<rect x="148.9" y="2260.1" width="14" height="14" rx="1" fill="#4470ec"/>
<rect x="181.1" y="2410.6" width="14" height="14" rx="1" fill="#4470ec"/>
<rect x="213.2" y="2364.3" width="14" height="14" rx="1" fill="#4470ec"/>
<rect x="309.7" y="2341.2" width="14" height="14" rx="1" fill="#4470ec"/>
<rect x="341.8" y="2271.7" width="14" height="14" rx="1" fill="#4470ec"/>
<rect x="374.0" y="2277.5" width="14" height="14" rx="1" fill="#4470ec"/>
<rect x="438.3" y="2347.0" width="14" height="14" rx="1" fill="#4470ec"/>
<rect x="470.5" y="2323.8" width="14" height="14" rx="1" fill="#4470ec"/>
<rect x="502.6" y="2404.8" width="14" height="14" rx="1" fill="#4470ec"/>
<rect x="534.8" y="2364.3" width="14" height="14" rx="1" fill="#4470ec"/>
<rect x="566.9" y="2329.6" width="14" height="14" rx="1" fill="#4470ec"/>
<rect x="599.1" y="2277.5" width="14" height="14" rx="1" fill="#4470ec"/>
<rect x="631.2" y="2341.2" width="14" height="14" rx="1" fill="#4470ec"/>
<rect x="996.5" y="2189.5" width="574.4" height="285.2" fill="none" stroke="#000" stroke-width="1.7"/>
<path d="M996.5 2474.7v-5.5M996.5 2189.5v5.5M1028.4 2474.7v-5.5M1028.4 2189.5v5.5M1060.3 2474.7v-10M1060.3 2189.5v10M1092.2 2474.7v-5.5M1092.2 2189.5v5.5M1124.1 2474.7v-5.5M1124.1 2189.5v5.5M1156.1 2474.7v-5.5M1156.1 2189.5v5.5M1188.0 2474.7v-10M1188.0 2189.5v10M1219.9 2474.7v-5.5M1219.9 2189.5v5.5M1251.8 2474.7v-5.5M1251.8 2189.5v5.5M1283.7 2474.7v-5.5M1283.7 2189.5v5.5M1315.6 2474.7v-10M1315.6 2189.5v10M1347.5 2474.7v-5.5M1347.5 2189.5v5.5M1379.4 2474.7v-5.5M1379.4 2189.5v5.5M1411.3 2474.7v-5.5M1411.3 2189.5v5.5M1443.3 2474.7v-10M1443.3 2189.5v10M1475.2 2474.7v-5.5M1475.2 2189.5v5.5M1507.1 2474.7v-5.5M1507.1 2189.5v5.5M1539.0 2474.7v-5.5M1539.0 2189.5v5.5M1570.9 2474.7v-10M1570.9 2189.5v10M996.5 2474.7h10M1570.9 2474.7h-10M996.5 2467.6h5.5M1570.9 2467.6h-5.5M996.5 2460.4h5.5M1570.9 2460.4h-5.5M996.5 2453.3h5.5M1570.9 2453.3h-5.5M996.5 2446.2h5.5M1570.9 2446.2h-5.5M996.5 2439.0h10M1570.9 2439.0h-10M996.5 2431.9h5.5M1570.9 2431.9h-5.5M996.5 2424.8h5.5M1570.9 2424.8h-5.5M996.5 2417.7h5.5M1570.9 2417.7h-5.5M996.5 2410.5h5.5M1570.9 2410.5h-5.5M996.5 2403.4h10M1570.9 2403.4h-10M996.5 2396.3h5.5M1570.9 2396.3h-5.5M996.5 2389.1h5.5M1570.9 2389.1h-5.5M996.5 2382.0h5.5M1570.9 2382.0h-5.5M996.5 2374.9h5.5M1570.9 2374.9h-5.5M996.5 2367.8h10M1570.9 2367.8h-10M996.5 2360.6h5.5M1570.9 2360.6h-5.5M996.5 2353.5h5.5M1570.9 2353.5h-5.5M996.5 2346.4h5.5M1570.9 2346.4h-5.5M996.5 2339.2h5.5M1570.9 2339.2h-5.5M996.5 2332.1h10M1570.9 2332.1h-10M996.5 2325.0h5.5M1570.9 2325.0h-5.5M996.5 2317.8h5.5M1570.9 2317.8h-5.5M996.5 2310.7h5.5M1570.9 2310.7h-5.5M996.5 2303.6h5.5M1570.9 2303.6h-5.5M996.5 2296.4h10M1570.9 2296.4h-10M996.5 2289.3h5.5M1570.9 2289.3h-5.5M996.5 2282.2h5.5M1570.9 2282.2h-5.5M996.5 2275.1h5.5M1570.9 2275.1h-5.5M996.5 2267.9h5.5M1570.9 2267.9h-5.5M996.5 2260.8h10M1570.9 2260.8h-10M996.5 2253.7h5.5M1570.9 2253.7h-5.5M996.5 2246.5h5.5M1570.9 2246.5h-5.5M996.5 2239.4h5.5M1570.9 2239.4h-5.5M996.5 2232.3h5.5M1570.9 2232.3h-5.5M996.5 2225.2h10M1570.9 2225.2h-10M996.5 2218.0h5.5M1570.9 2218.0h-5.5M996.5 2210.9h5.5M1570.9 2210.9h-5.5M996.5 2203.8h5.5M1570.9 2203.8h-5.5M996.5 2196.6h5.5M1570.9 2196.6h-5.5M996.5 2189.5h10M1570.9 2189.5h-10" stroke="#000" stroke-width="1.5" fill="none"/>
<text x="1060.3" y="2498.0" text-anchor="middle" font-size="22">-12</text>
<text x="1188.0" y="2498.0" text-anchor="middle" font-size="22">-8</text>
<text x="1315.6" y="2498.0" text-anchor="middle" font-size="22">-4</text>
<text x="1443.3" y="2498.0" text-anchor="middle" font-size="22">0</text>
<text x="1570.9" y="2498.0" text-anchor="middle" font-size="22">4</text>
<text x="989.0" y="2482.1" text-anchor="end" font-size="22">0</text>
<text x="989.0" y="2410.8" text-anchor="end" font-size="22">2</text>
<text x="989.0" y="2339.5" text-anchor="end" font-size="22">4</text>
<text x="989.0" y="2268.2" text-anchor="end" font-size="22">6</text>
<text x="989.0" y="2196.9" text-anchor="end" font-size="22">8</text>
<text x="1283.0" y="2521.0" text-anchor="middle" font-size="22">Residue</text>
<text transform="translate(967.0,2323.0) rotate(-90)" text-anchor="middle" font-size="22">HαHN ratio</text>
<path d="M1060.3 2389.1V2410.5M1056.4 2389.1h7.8M1056.4 2410.5h7.8M1092.2 2341.0V2362.4M1088.3 2341.0h7.8M1088.3 2362.4h7.8M1251.8 2333.9V2355.3M1247.9 2333.9h7.8M1247.9 2355.3h7.8M1283.7 2364.2V2385.6M1279.8 2364.2h7.8M1279.8 2385.6h7.8M1315.6 2421.2V2442.6M1311.7 2421.2h7.8M1311.7 2442.6h7.8M1347.5 2383.8V2405.2M1343.6 2383.8h7.8M1343.6 2405.2h7.8M1379.4 2358.8V2380.2M1375.5 2358.8h7.8M1375.5 2380.2h7.8M1443.3 2310.7V2332.1M1439.4 2310.7h7.8M1439.4 2332.1h7.8M1539.0 2250.1V2271.5M1535.1 2250.1h7.8M1535.1 2271.5h7.8" stroke="#4470ec" stroke-width="1.5" fill="none"/>
<polyline points="1060.3,2399.8 1092.2,2351.7 1251.8,2344.6 1283.7,2374.9 1315.6,2431.9 1347.5,2394.5 1379.4,2369.5 1443.3,2321.4 1539.0,2260.8" stroke="#4470ec" stroke-width="1.8" fill="none"/>
<rect x="1053.3" y="2392.8" width="14" height="14" rx="1" fill="#4470ec"/>
<rect x="1085.2" y="2344.7" width="14" height="14" rx="1" fill="#4470ec"/>
<rect x="1244.8" y="2337.6" width="14" height="14" rx="1" fill="#4470ec"/>
<rect x="1276.7" y="2367.9" width="14" height="14" rx="1" fill="#4470ec"/>
<rect x="1308.6" y="2424.9" width="14" height="14" rx="1" fill="#4470ec"/>
<rect x="1340.5" y="2387.5" width="14" height="14" rx="1" fill="#4470ec"/>
<rect x="1372.4" y="2362.5" width="14" height="14" rx="1" fill="#4470ec"/>
<rect x="1436.3" y="2314.4" width="14" height="14" rx="1" fill="#4470ec"/>
<rect x="1532.0" y="2253.8" width="14" height="14" rx="1" fill="#4470ec"/>
<path d="M1060.3 2396.3V2417.7M1056.4 2396.3h7.8M1056.4 2417.7h7.8M1092.2 2344.6V2366.0M1088.3 2344.6h7.8M1088.3 2366.0h7.8M1124.1 2355.3V2376.7M1120.2 2355.3h7.8M1120.2 2376.7h7.8M1156.1 2364.2V2385.6M1152.2 2364.2h7.8M1152.2 2385.6h7.8M1219.9 2308.9V2330.3M1216.0 2308.9h7.8M1216.0 2330.3h7.8M1251.8 2358.8V2380.2M1247.9 2358.8h7.8M1247.9 2380.2h7.8M1283.7 2362.4V2383.8M1279.8 2362.4h7.8M1279.8 2383.8h7.8M1315.6 2444.4V2465.8M1311.7 2444.4h7.8M1311.7 2465.8h7.8M1347.5 2371.3V2392.7M1343.6 2371.3h7.8M1343.6 2392.7h7.8M1379.4 2362.4V2383.8M1375.5 2362.4h7.8M1375.5 2383.8h7.8M1411.3 2349.9V2371.3M1407.4 2349.9h7.8M1407.4 2371.3h7.8M1443.3 2316.1V2337.4M1439.4 2316.1h7.8M1439.4 2337.4h7.8M1475.2 2326.8V2348.1M1471.3 2326.8h7.8M1471.3 2348.1h7.8M1507.1 2362.4V2383.8M1503.2 2362.4h7.8M1503.2 2383.8h7.8M1539.0 2241.2V2262.6M1535.1 2241.2h7.8M1535.1 2262.6h7.8" stroke="#dc1e16" stroke-width="1.5" fill="none"/>
<polyline points="1060.3,2407.0 1092.2,2355.3 1124.1,2366.0 1156.1,2374.9 1219.9,2319.6 1251.8,2369.5 1283.7,2373.1 1315.6,2455.1 1347.5,2382.0 1379.4,2373.1 1411.3,2360.6 1443.3,2326.8 1475.2,2337.4 1507.1,2373.1 1539.0,2251.9" stroke="#dc1e16" stroke-width="1.8" fill="none"/>
<path d="M1060.3 2401.0L1067.1 2411.2L1053.5 2411.2Z" fill="#dc1e16"/>
<path d="M1092.2 2349.3L1099.0 2359.5L1085.4 2359.5Z" fill="#dc1e16"/>
<path d="M1124.1 2360.0L1130.9 2370.2L1117.3 2370.2Z" fill="#dc1e16"/>
<path d="M1156.1 2368.9L1162.9 2379.1L1149.3 2379.1Z" fill="#dc1e16"/>
<path d="M1219.9 2313.6L1226.7 2323.8L1213.1 2323.8Z" fill="#dc1e16"/>
<path d="M1251.8 2363.5L1258.6 2373.7L1245.0 2373.7Z" fill="#dc1e16"/>
<path d="M1283.7 2367.1L1290.5 2377.3L1276.9 2377.3Z" fill="#dc1e16"/>
<path d="M1315.6 2449.1L1322.4 2459.3L1308.8 2459.3Z" fill="#dc1e16"/>
<path d="M1347.5 2376.0L1354.3 2386.2L1340.7 2386.2Z" fill="#dc1e16"/>
<path d="M1379.4 2367.1L1386.2 2377.3L1372.6 2377.3Z" fill="#dc1e16"/>
<path d="M1411.3 2354.6L1418.1 2364.8L1404.5 2364.8Z" fill="#dc1e16"/>
<path d="M1443.3 2320.8L1450.1 2331.0L1436.5 2331.0Z" fill="#dc1e16"/>
<path d="M1475.2 2331.4L1482.0 2341.6L1468.4 2341.6Z" fill="#dc1e16"/>
<path d="M1507.1 2367.1L1513.9 2377.3L1500.3 2377.3Z" fill="#dc1e16"/>
<path d="M1539.0 2245.9L1545.8 2256.1L1532.2 2256.1Z" fill="#dc1e16"/>
<polyline points="107.3,378.8 107.3,952.5" fill="none" stroke="#000" stroke-width="0.9"/>
<polyline points="128.6,378.8 128.6,952.5" fill="none" stroke="#000" stroke-width="0.9"/>
<polyline points="186.6,378.8 186.6,952.5" fill="none" stroke="#000" stroke-width="0.9"/>
<polyline points="204.2,378.8 204.2,952.5" fill="none" stroke="#000" stroke-width="0.9"/>
<polyline points="207.0,378.8 207.0,952.5" fill="none" stroke="#000" stroke-width="0.9"/>
<polyline points="260.8,378.8 260.8,952.5" fill="none" stroke="#000" stroke-width="2.0"/>
<polyline points="332.9,378.8 332.9,939.3 318.2,950.2" fill="none" stroke="#000" stroke-width="0.9"/>
<polyline points="336.4,378.8 336.4,954.8" fill="none" stroke="#000" stroke-width="2.0"/>
<polyline points="339.0,378.8 339.0,940.3 356.2,951.0" fill="none" stroke="#000" stroke-width="0.9"/>
<polyline points="346.5,378.8 346.5,940.3 376.8,951.8" fill="none" stroke="#000" stroke-width="0.9"/>
<polyline points="421.8,378.8 421.8,952.5" fill="none" stroke="#000" stroke-width="0.9"/>
<polyline points="439.8,378.8 439.8,952.5" fill="none" stroke="#000" stroke-width="0.9"/>
<polyline points="450.9,378.8 450.9,952.5" fill="none" stroke="#000" stroke-width="0.9"/>
<polyline points="460.1,378.8 460.1,940.3 478.8,953.3" fill="none" stroke="#000" stroke-width="0.9"/>
<polyline points="462.5,378.8 462.5,940.3 494.8,954.5" fill="none" stroke="#000" stroke-width="0.9"/>
<polyline points="473.5,378.8 473.5,940.3 517.6,952.5" fill="none" stroke="#000" stroke-width="0.9"/>
<polyline points="700.0,378.8 700.0,935.6" fill="none" stroke="#000" stroke-width="0.9"/>
<polyline points="734.4,378.8 734.4,945.0" fill="none" stroke="#000" stroke-width="0.9"/>
<path d="M115.4 673.0 115.3 675.7 115.5 678.7 113.8 680.6 111.6 681.7 110 684.2 107.4 684.4 104.8 683.1 102.2 683.4 99.7 682.8 97.9 681.0 97 678.4 97 675.6 96.3 673.0 95.9 670.0 96.5 667.3 97.7 664.9 100.5 664.4 102.4 663.2 104.6 661.3 107.3 662.6 109.9 662.1 112 663.6 113.9 665.2 115.1 667.5 115.5 670.2Z" fill="none" stroke="#000" stroke-width="0.8"/><path d="M113.6 673.0 113 675.0 112.5 676.9 111.5 678.4 110 679.2 108.5 680.0 107 681.4 105 681.3 103.5 679.9 101.5 680.1 101 677.9 99.1 677.1 98.7 675.1 99.2 673.0 98.6 670.8 99.8 669.3 100.3 667.5 101.7 666.3 103.3 665.5 105.1 665.4 106.9 665.7 108.9 664.9 110.5 666.0 111.8 667.3 112.6 669.1 112.4 671.1Z" fill="none" stroke="#000" stroke-width="0.8"/><path d="M110.7 673.0 110.1 674.2 110.1 675.5 109.6 676.5 108.4 676.7 107.7 677.6 106.6 677.9 105.4 677.5 104.4 677.5 103.3 677.3 102.4 676.5 102.1 675.3 101.8 674.2 101.6 673.0 101.7 671.7 102 670.6 102.7 669.7 103.3 668.7 104.4 668.7 105.4 668.2 106.6 668.1 107.7 668.2 108.5 669.1 109.4 669.7 109.9 670.7 110.5 671.7Z" fill="none" stroke="#000" stroke-width="0.8"/>
<path d="M160.9 673.0 161.3 674.9 160.5 676.5 159.1 677.8 157.4 678.4 156.1 679.8 154.1 680.4 152 679.7 150.2 679.1 148.6 678.5 147.1 677.6 145.3 676.6 145.2 674.8 144.4 673.0 145.8 671.3 145.5 669.4 147.2 668.5 148.3 667.2 149.9 666.2 152 666.5 154.1 665.6 155.7 667.0 158.1 666.7 159.2 668.1 160.3 669.5 160.5 671.3Z" fill="none" stroke="#000" stroke-width="0.8"/><path d="M158.4 673.0 158.9 674.4 157.7 675.2 157.5 676.5 156.5 677.3 155.3 678.0 153.8 677.9 152.3 677.6 151 677.3 149.8 677.0 148.5 676.5 147.6 675.6 147.2 674.3 147.1 673.0 147.6 671.8 148.3 670.8 148.5 669.5 149.6 668.8 150.7 668.0 152.2 667.9 153.7 668.2 155.3 668.0 156.2 669.1 157.4 669.6 158 670.6 158.5 671.7Z" fill="none" stroke="#000" stroke-width="0.8"/><path d="M156.2 673.0 156.2 673.7 156.3 674.6 155.7 675.1 155.2 675.7 154.2 675.6 153.4 675.8 152.5 676.2 151.6 676.1 150.8 675.7 150.5 675.0 149.8 674.5 149.5 673.8 149.5 673.0 149.4 672.2 149.8 671.5 150.5 671.1 150.9 670.4 151.7 670.0 152.5 670.0 153.5 669.7 154.3 670.2 155 670.5 155.8 670.8 156.3 671.5 156.7 672.2Z" fill="none" stroke="#000" stroke-width="0.8"/>
<path d="M148.3 673.7 146.8 678.5 146.2 682.0 142.9 684.0 138.8 685.0 134.3 687.0 125.6 687.1 121.1 685.2 117.4 683.8 114.3 681.8 112.2 678.8 110.9 673.7 112.4 668.6 114.1 665.4 117 663.2 121.2 662.2 125.8 660.8 134.3 660.5 138.9 662.1 143.1 663.2 145.9 665.4 147.1 668.7Z" fill="#000"/><ellipse cx="130.0" cy="673.7" rx="9.9" ry="5.8" fill="none" stroke="#fff" stroke-width="0.8"/><ellipse cx="130.0" cy="673.7" rx="6.9" ry="4.1" fill="none" stroke="#fff" stroke-width="0.8"/><ellipse cx="130.0" cy="673.7" rx="4.2" ry="2.4" fill="none" stroke="#fff" stroke-width="0.9"/><ellipse cx="130.0" cy="673.7" rx="1.5" ry="1.0" fill="#fff"/>
<path d="M95.7 708.0 95.6 710.7 95.1 713.2 94.7 716.0 92.9 716.7 91.5 717.9 90 719.2 88.1 718.2 86.5 718.0 84.7 717.5 83.5 715.7 83.1 713.0 82 710.9 82.6 708.0 81.9 705.0 82.9 702.8 83.6 700.4 85 699.0 86.3 697.2 88.1 697.9 90 696.4 91.8 696.9 93.3 698.3 94.7 700.0 95.1 702.8 96.2 705.0Z" fill="none" stroke="#000" stroke-width="0.8"/><path d="M94.3 708.0 93.7 710.0 93.8 712.1 92.5 712.9 91.8 714.4 91 715.9 89.7 716.1 88.3 716.5 87.3 714.8 86.2 714.3 85.1 713.5 84.2 712.1 84.2 710.0 83.5 708.0 84.4 706.1 84.8 704.4 84.9 702.3 86 701.4 87 700.3 88.3 699.7 89.7 699.7 91 700.1 92.1 701.0 92.7 702.8 93.6 704.1 94.1 705.9Z" fill="none" stroke="#000" stroke-width="0.8"/><path d="M91.9 708.0 92.2 709.3 91.7 710.3 91.4 711.3 90.9 712.1 90.2 712.9 89.4 713.1 88.6 713.0 87.8 712.8 87.3 711.7 86.5 711.5 86.4 710.2 86.2 709.2 86 708.0 86 706.7 86.3 705.7 86.5 704.5 87.2 703.9 87.7 703.1 88.6 702.9 89.4 703.6 90.1 703.6 90.7 704.3 91.4 704.7 91.6 705.8 92.1 706.7Z" fill="none" stroke="#000" stroke-width="0.8"/>
<path d="M152.7 706.5 152.8 708.7 152.1 710.5 151.3 712.1 150.1 713.2 148.8 714.0 147.3 714.5 145.7 714.5 144.1 714.5 142.8 713.3 141.4 712.4 140.7 710.6 140 708.8 140.4 706.5 140.7 704.5 140.4 702.2 141.7 701.0 143 700.0 144.3 699.2 145.7 698.5 147.4 697.4 149 698.3 150 700.0 151.6 700.6 152 702.6 152.3 704.5Z" fill="none" stroke="#000" stroke-width="0.8"/><path d="M150.8 706.5 151.2 708.1 150.9 709.6 150.2 710.8 149.3 711.8 148.1 711.9 147.2 713.1 145.8 713.1 144.8 712.1 144 711.1 143.3 710.3 142.4 709.4 141.9 708.1 142.1 706.5 142.3 705.0 142 703.3 143.1 702.5 143.7 701.3 144.9 701.2 145.9 700.4 147.1 700.5 148.3 700.5 149.2 701.5 150.1 702.3 150.4 703.7 151.3 704.9Z" fill="none" stroke="#000" stroke-width="0.8"/><path d="M149.4 706.5 149.4 707.5 149.1 708.3 148.7 709.0 148.2 709.7 147.6 710.2 146.9 710.3 146.1 710.5 145.5 709.9 144.9 709.4 144.1 709.2 144.1 708.2 143.9 707.4 143.7 706.5 143.8 705.5 144.1 704.8 144.3 703.9 144.7 703.2 145.4 702.8 146.1 702.5 146.9 702.6 147.5 703.2 148.1 703.4 148.8 703.8 148.9 704.8 149.3 705.5Z" fill="none" stroke="#000" stroke-width="0.8"/>
<path d="M144.9 707.8 142.7 712.6 141.3 715.9 136.1 717.7 130.6 719.2 123.6 720.9 110.9 720.0 102.8 719.7 98 717.6 94.1 715.5 89.4 712.9 89.8 707.9 90.8 703.0 92 699.6 97.5 697.8 103.3 696.5 110.5 695.1 123.2 695.7 131.9 695.4 137.4 697.4 141.1 699.8 143 703.1Z" fill="#000"/><ellipse cx="105.8" cy="707.8" rx="7.7" ry="5.8" fill="none" stroke="#fff" stroke-width="0.8"/><ellipse cx="105.8" cy="707.8" rx="5.4" ry="4.1" fill="none" stroke="#fff" stroke-width="0.8"/><ellipse cx="105.8" cy="707.8" rx="3.2" ry="2.4" fill="none" stroke="#fff" stroke-width="0.9"/><ellipse cx="105.8" cy="707.8" rx="1.2" ry="1.0" fill="#fff"/><ellipse cx="128.2" cy="707.8" rx="7.7" ry="5.8" fill="none" stroke="#fff" stroke-width="0.8"/><ellipse cx="128.2" cy="707.8" rx="5.4" ry="4.1" fill="none" stroke="#fff" stroke-width="0.8"/><ellipse cx="128.2" cy="707.8" rx="3.2" ry="2.4" fill="none" stroke="#fff" stroke-width="0.9"/><ellipse cx="128.2" cy="707.8" rx="1.2" ry="1.0" fill="#fff"/>
<path d="M191.7 671.0 191.7 673.3 191.5 675.5 190.8 677.4 189.7 678.9 188.4 680.1 186.8 680.3 185.2 680.0 183.6 680.0 182.3 678.8 181.1 677.6 180.7 675.3 180.6 673.2 180.4 671.0 180.2 668.7 180.2 666.3 181.3 664.7 182.7 663.9 183.8 662.7 185.2 661.7 186.8 661.6 188.2 662.8 189.4 663.8 190.9 664.5 191.8 666.3 192 668.6Z" fill="none" stroke="#000" stroke-width="0.8"/><path d="M190.5 671.0 190 672.6 189.8 674.1 189.4 675.6 188.6 676.7 187.6 677.2 186.5 677.0 185.4 677.2 184.4 677.1 183.4 676.4 182.6 675.5 182.2 674.1 181.5 672.8 182 671.0 181.7 669.3 182.2 667.9 182.7 666.5 183.5 665.8 184.3 664.6 185.4 664.0 186.6 664.6 187.7 664.5 188.7 665.2 189.4 666.5 190 667.8 190 669.4Z" fill="none" stroke="#000" stroke-width="0.8"/>
<path d="M232.7 671.0 233.1 673.4 232.2 675.2 231.8 677.3 230.6 678.3 229.5 679.1 228.2 679.4 226.7 680.5 225.5 679.4 224.2 678.7 223.2 677.2 222.6 675.4 221.9 673.4 221.6 671.0 221.7 668.5 222.9 666.9 223.2 664.7 224.3 663.5 225.5 662.6 226.7 661.8 228.3 661.5 229.5 662.9 230.7 663.6 231.5 665.1 232.1 666.9 232.7 668.8Z" fill="none" stroke="#000" stroke-width="0.8"/><path d="M231.5 671.0 231.5 672.7 230.9 674.1 230.3 675.1 230 676.7 228.9 676.9 228 677.6 227 677.2 226 677.0 225.3 676.2 224.3 675.6 224 674.1 223.6 672.7 223.2 671.0 223.8 669.4 223.9 667.8 224.5 666.6 225.1 665.5 226 664.9 227 664.7 228 665.1 229 664.9 229.8 665.7 230.4 666.8 231.2 667.7 231 669.5Z" fill="none" stroke="#000" stroke-width="0.8"/>
<path d="M225.8 670.5 225.2 675.5 222.8 678.3 220.3 680.9 216.8 683.2 210.4 682.8 201.4 683.3 196.1 682.1 191.3 681.2 189.4 678.2 186.9 675.5 185.9 670.6 185.8 665.3 188 662.2 191.5 660.1 195.6 658.4 201.6 658.2 210.5 658.2 216.8 658.0 221.5 659.4 222.9 662.7 225.6 665.5Z" fill="#000"/><ellipse cx="198.0" cy="670.5" rx="5.5" ry="5.8" fill="none" stroke="#fff" stroke-width="0.8"/><ellipse cx="198.0" cy="670.5" rx="3.8" ry="4.1" fill="none" stroke="#fff" stroke-width="0.8"/><ellipse cx="198.0" cy="670.5" rx="2.3" ry="2.4" fill="none" stroke="#fff" stroke-width="0.9"/><ellipse cx="198.0" cy="670.5" rx="0.8" ry="1.0" fill="#fff"/><ellipse cx="214.0" cy="670.5" rx="5.5" ry="5.8" fill="none" stroke="#fff" stroke-width="0.8"/><ellipse cx="214.0" cy="670.5" rx="3.8" ry="4.1" fill="none" stroke="#fff" stroke-width="0.8"/><ellipse cx="214.0" cy="670.5" rx="2.3" ry="2.4" fill="none" stroke="#fff" stroke-width="0.9"/><ellipse cx="214.0" cy="670.5" rx="0.8" ry="1.0" fill="#fff"/>
<path d="M183.9 706.0 183.2 708.4 182.3 710.4 181.8 712.9 179.8 713.9 178.3 716.1 175.9 716.7 173.2 716.5 171.1 714.9 168.5 715.0 166.9 713.2 165.5 711.2 165.8 708.4 164.5 706.0 165.2 703.4 165.6 700.9 167.6 699.5 168.9 697.6 171.1 697.0 173.2 696.1 175.7 696.7 178.4 695.8 179.6 698.4 181.2 699.7 182.4 701.5 184 703.4Z" fill="none" stroke="#000" stroke-width="0.8"/><path d="M181.3 706.0 181.7 708.0 180.3 709.3 179.9 711.1 178.7 712.3 177.2 713.1 175.4 712.7 173.5 713.7 171.7 713.3 170.6 711.9 169.3 710.9 167.9 709.8 168 707.8 167.3 706.0 167.5 704.1 168.4 702.5 169.2 701.0 170.6 700.2 172.1 699.7 173.6 699.0 175.4 698.8 177.1 699.1 178.9 699.5 179.3 701.5 180.4 702.7 180.9 704.2Z" fill="none" stroke="#000" stroke-width="0.8"/><path d="M178.9 706.0 178.3 707.1 178.3 708.2 177.5 708.9 176.8 709.5 176 710.1 175.1 710.5 174 710.0 172.9 710.1 171.8 710.0 171.2 709.1 170.5 708.3 170.2 707.2 170.3 706.0 170.2 704.8 171.1 704.0 171.4 703.1 171.8 702.0 172.9 701.7 173.9 701.2 175.1 701.4 176 702.1 176.8 702.5 177.4 703.2 178.1 703.9 178.4 704.9Z" fill="none" stroke="#000" stroke-width="0.8"/>
<path d="M246.8 706.5 245.4 708.9 244.8 711.2 242.5 712.5 240.9 714.3 238.4 715.2 235.5 715.1 232.3 716.3 229.2 716.1 226.4 715.0 224.2 713.4 222.4 711.5 221.7 709.1 222.1 706.5 222 704.0 223.4 701.9 224.4 699.7 226.4 698.0 229.6 697.8 232.5 697.9 235.5 697.8 238.6 697.3 241.3 698.2 243.2 700.0 245.4 701.6 245.7 704.1Z" fill="none" stroke="#000" stroke-width="0.8"/><path d="M243.4 706.5 243.1 708.4 241.7 709.8 240.4 711.1 239.3 712.4 237.4 713.4 235.1 713.2 232.8 713.7 230.9 712.7 228.9 712.3 227.7 710.9 227 709.5 225.3 708.3 225.7 706.5 225.7 704.8 226.4 703.2 227 701.6 228.8 700.7 230.7 699.9 232.7 699.1 235.2 699.5 237.5 699.6 239.1 700.7 240.3 702.0 241.2 703.4 242.6 704.7Z" fill="none" stroke="#000" stroke-width="0.8"/><path d="M239.7 706.5 239 707.5 238.4 708.4 238.2 709.4 237.1 710.0 235.8 710.1 234.8 710.9 233.2 711.0 231.9 710.8 231.1 709.8 230.2 709.2 229.5 708.4 228.8 707.6 228.3 706.5 228.5 705.4 229.5 704.6 229.7 703.5 231 703.1 232 702.6 233.3 702.2 234.7 702.5 235.8 702.9 237 703.1 238.1 703.6 238.4 704.6 239.1 705.4Z" fill="none" stroke="#000" stroke-width="0.8"/>
<path d="M225.9 706.2 225.9 711.0 225.2 714.5 219.6 715.8 215.9 718.1 209.3 719.4 197.9 718.9 190.6 718.6 186.3 716.4 182.7 714.2 180.4 711.1 180.6 706.3 181.8 701.7 183.7 698.7 185.9 695.9 190.9 694.2 197.9 693.6 208.9 694.1 216.4 694.0 220.2 696.4 224.9 698.1 227 701.3Z" fill="#000"/><ellipse cx="203.5" cy="706.2" rx="12.9" ry="5.6" fill="none" stroke="#fff" stroke-width="0.8"/><ellipse cx="203.5" cy="706.2" rx="9.0" ry="3.9" fill="none" stroke="#fff" stroke-width="0.8"/><ellipse cx="203.5" cy="706.2" rx="5.4" ry="2.4" fill="none" stroke="#fff" stroke-width="0.9"/><ellipse cx="203.5" cy="706.2" rx="1.9" ry="1.0" fill="#fff"/>
<path d="M246.3 705.5 245.6 708.1 244.9 710.4 244.2 712.8 242.3 713.5 241.1 715.8 239.1 715.7 236.8 716.8 235.1 714.9 233.6 713.8 231.5 713.1 230.7 710.7 229.7 708.4 230.1 705.5 230.8 703.0 231.1 700.6 232.4 699.0 233.2 696.6 234.8 694.9 236.9 694.8 239.1 695.1 241 695.6 243 696.1 244.3 698.2 244.9 700.6 245.4 702.9Z" fill="none" stroke="#000" stroke-width="0.8"/><path d="M243.8 705.5 244 707.6 243.2 709.2 242.5 710.7 241.5 712.0 240.1 712.3 238.8 713.5 237.3 712.7 235.8 712.8 234.9 711.3 233.5 710.8 232.7 709.3 231.9 707.6 232.7 705.5 231.9 703.4 233 701.9 233.9 700.7 234.7 699.3 235.7 698.0 237.2 697.4 238.7 698.3 240.1 698.7 241.3 699.3 242.1 700.7 243.6 701.5 243.4 703.6Z" fill="none" stroke="#000" stroke-width="0.8"/><path d="M241.8 705.5 241.6 706.8 240.9 707.6 240.7 708.6 240 709.2 239.2 709.5 238.4 709.7 237.5 710.0 236.8 709.5 235.9 709.3 235.3 708.7 234.7 707.8 234.8 706.6 234.5 705.5 234.8 704.4 235.1 703.4 235.3 702.4 235.8 701.5 236.7 701.4 237.5 701.0 238.4 701.3 239.2 701.4 240 701.8 240.6 702.4 241.1 703.3 241.2 704.4Z" fill="none" stroke="#000" stroke-width="0.8"/>
<path d="M288.1 705.0 288.1 706.9 287.8 708.7 287 710.0 286 710.9 284.8 711.5 283.7 712.4 282.4 711.4 281.2 711.4 279.9 711.3 279 710.0 278.9 708.1 278.3 706.7 277.8 705.0 278 703.2 278.6 701.6 278.9 699.9 280.3 699.7 281.1 698.5 282.4 698.6 283.7 697.6 284.7 699.0 285.9 699.3 286.9 700.1 287.7 701.4 288.2 703.1Z" fill="none" stroke="#000" stroke-width="0.8"/><path d="M286.4 705.0 286.3 706.2 286.4 707.6 285.7 708.4 285 709.0 284.4 710.1 283.5 709.7 282.5 710.2 281.7 709.4 280.8 709.4 280.2 708.5 280 707.3 279.3 706.4 279.7 705.0 279.5 703.7 279.9 702.6 280.1 701.4 280.9 700.9 281.6 700.2 282.5 700.0 283.5 700.1 284.3 700.4 285.1 700.8 285.7 701.6 286.1 702.6 286.7 703.6Z" fill="none" stroke="#000" stroke-width="0.8"/>
<path d="M282.2 705.8 282.2 710.7 281.2 714.2 278.4 716.9 272.7 717.4 267.1 718.1 257.9 718.2 251.5 718.3 248.6 715.5 245.3 713.6 242.1 710.9 241.2 705.8 243.3 700.9 244.5 697.6 247.1 694.9 251.7 693.4 257.7 692.7 267.2 693.1 272.4 694.5 277.9 694.9 279.9 697.8 281.1 701.1Z" fill="#000"/><ellipse cx="254.3" cy="705.8" rx="5.6" ry="5.8" fill="none" stroke="#fff" stroke-width="0.8"/><ellipse cx="254.3" cy="705.8" rx="3.9" ry="4.1" fill="none" stroke="#fff" stroke-width="0.8"/><ellipse cx="254.3" cy="705.8" rx="2.4" ry="2.4" fill="none" stroke="#fff" stroke-width="0.9"/><ellipse cx="254.3" cy="705.8" rx="0.8" ry="1.0" fill="#fff"/><ellipse cx="270.7" cy="705.8" rx="5.6" ry="5.8" fill="none" stroke="#fff" stroke-width="0.8"/><ellipse cx="270.7" cy="705.8" rx="3.9" ry="4.1" fill="none" stroke="#fff" stroke-width="0.8"/><ellipse cx="270.7" cy="705.8" rx="2.4" ry="2.4" fill="none" stroke="#fff" stroke-width="0.9"/><ellipse cx="270.7" cy="705.8" rx="0.8" ry="1.0" fill="#fff"/>
<path d="M276.6 672.1 275.7 676.4 273.5 678.8 271.9 681.3 268.1 682.1 263.8 683.0 256.5 683.3 251.3 683.4 247.6 682.0 246.8 678.9 243.8 676.7 244.5 672.1 243.7 667.5 245.8 664.8 248.5 663.0 252.3 662.1 256.4 660.6 264 660.5 268.2 661.9 272.7 662.3 273.9 665.2 275 668.0Z" fill="#000"/><ellipse cx="260.2" cy="672.1" rx="8.9" ry="5.1" fill="none" stroke="#fff" stroke-width="0.8"/><ellipse cx="260.2" cy="672.1" rx="6.2" ry="3.6" fill="none" stroke="#fff" stroke-width="0.8"/><ellipse cx="260.2" cy="672.1" rx="3.7" ry="2.2" fill="none" stroke="#fff" stroke-width="0.9"/><ellipse cx="260.2" cy="672.1" rx="1.3" ry="0.9" fill="#fff"/>
<path d="M208.2 734.2 207.8 739.1 204.6 741.5 202.9 744.4 198.2 745.2 193.4 747.3 184.5 745.7 178.7 745.7 174.2 744.5 172.3 741.7 170 739.0 169.2 734.2 169.7 729.4 170.5 725.8 173.9 723.7 178.8 722.9 184.1 721.6 193.1 722.0 199 722.3 202.7 724.2 206.3 726.1 207.3 729.4Z" fill="#000"/><ellipse cx="180.9" cy="734.2" rx="5.3" ry="5.6" fill="none" stroke="#fff" stroke-width="0.8"/><ellipse cx="180.9" cy="734.2" rx="3.7" ry="3.9" fill="none" stroke="#fff" stroke-width="0.8"/><ellipse cx="180.9" cy="734.2" rx="2.2" ry="2.3" fill="none" stroke="#fff" stroke-width="0.9"/><ellipse cx="180.9" cy="734.2" rx="0.8" ry="1.0" fill="#fff"/><ellipse cx="196.4" cy="734.2" rx="5.3" ry="5.6" fill="none" stroke="#fff" stroke-width="0.8"/><ellipse cx="196.4" cy="734.2" rx="3.7" ry="3.9" fill="none" stroke="#fff" stroke-width="0.8"/><ellipse cx="196.4" cy="734.2" rx="2.2" ry="2.3" fill="none" stroke="#fff" stroke-width="0.9"/><ellipse cx="196.4" cy="734.2" rx="0.8" ry="1.0" fill="#fff"/>
<path d="M202.2 879.1 200.6 883.0 200.5 886.1 197.5 887.3 195.3 889.2 191.3 889.7 185.1 889.5 181.5 888.6 178.1 888.0 176.4 885.8 175.9 883.0 175.4 879.2 174.8 875.0 175.9 872.2 178.7 870.9 181.1 869.1 185.1 868.6 191.2 869.0 195.1 869.5 197.4 871.1 200.4 872.3 200.2 875.4Z" fill="#000"/><ellipse cx="182.9" cy="879.1" rx="3.6" ry="4.7" fill="none" stroke="#fff" stroke-width="0.8"/><ellipse cx="182.9" cy="879.1" rx="2.5" ry="3.3" fill="none" stroke="#fff" stroke-width="0.8"/><ellipse cx="182.9" cy="879.1" rx="1.5" ry="2.0" fill="none" stroke="#fff" stroke-width="0.9"/><ellipse cx="182.9" cy="879.1" rx="0.6" ry="0.8" fill="#fff"/><ellipse cx="193.5" cy="879.1" rx="3.6" ry="4.7" fill="none" stroke="#fff" stroke-width="0.8"/><ellipse cx="193.5" cy="879.1" rx="2.5" ry="3.3" fill="none" stroke="#fff" stroke-width="0.8"/><ellipse cx="193.5" cy="879.1" rx="1.5" ry="2.0" fill="none" stroke="#fff" stroke-width="0.9"/><ellipse cx="193.5" cy="879.1" rx="0.6" ry="0.8" fill="#fff"/>
<path d="M222.9 919.0 222.7 923.8 220 926.1 218.8 929.1 214.8 929.8 210.8 931.4 203.6 930.3 198.5 930.9 195.5 928.9 193.8 926.4 192.4 923.5 191.6 919.0 191.2 914.1 193 911.2 195.1 908.7 199.3 908.2 203.4 906.9 210.6 907.4 214.8 908.2 218.4 909.3 219.9 911.9 222.7 914.2Z" fill="#000"/><ellipse cx="200.8" cy="919.0" rx="4.3" ry="5.4" fill="none" stroke="#fff" stroke-width="0.8"/><ellipse cx="200.8" cy="919.0" rx="3.0" ry="3.8" fill="none" stroke="#fff" stroke-width="0.8"/><ellipse cx="200.8" cy="919.0" rx="1.8" ry="2.3" fill="none" stroke="#fff" stroke-width="0.9"/><ellipse cx="200.8" cy="919.0" rx="0.6" ry="1.0" fill="#fff"/><ellipse cx="213.3" cy="919.0" rx="4.3" ry="5.4" fill="none" stroke="#fff" stroke-width="0.8"/><ellipse cx="213.3" cy="919.0" rx="3.0" ry="3.8" fill="none" stroke="#fff" stroke-width="0.8"/><ellipse cx="213.3" cy="919.0" rx="1.8" ry="2.3" fill="none" stroke="#fff" stroke-width="0.9"/><ellipse cx="213.3" cy="919.0" rx="0.6" ry="1.0" fill="#fff"/>
<path d="M271.9 919.0 271.7 920.9 269.9 922.3 268.1 923.3 267.2 925.0 264.7 925.3 262.3 925.9 259.5 925.4 256.7 925.8 254.8 924.7 253.1 923.6 251.7 922.3 250.5 920.8 249.6 919.0 250.1 917.2 250.8 915.5 252.5 914.2 255.1 913.7 257.1 912.9 259.6 912.9 262.1 912.8 264.4 913.2 267.2 913.2 268.8 914.5 269.7 915.9 271.4 917.2Z" fill="none" stroke="#000" stroke-width="0.8"/><path d="M268.9 919.0 267.5 920.2 267.4 921.4 266.2 922.1 264.9 922.8 263.5 923.3 261.8 923.9 259.9 923.7 258.1 923.6 256.8 922.8 255 922.4 253.7 921.6 253.3 920.3 253.8 919.0 253.7 917.8 254.7 916.9 255.3 915.8 256.2 914.7 258.2 914.7 259.8 914.2 261.9 913.8 263.6 914.5 265 915.2 266.7 915.7 266.9 916.9 267.5 917.9Z" fill="none" stroke="#000" stroke-width="0.8"/>
<path d="M216.3 472.5 215.9 473.8 215.3 475.0 213.7 475.9 212.3 476.9 209.8 477.3 207.2 477.2 204.5 477.6 201.8 477.6 199.8 476.8 198.7 475.6 196.6 475.0 196.6 473.7 195.9 472.5 196 471.1 197.1 470.1 198.7 469.2 199.5 467.9 202.2 467.8 204.5 467.2 207.3 467.4 209.7 467.8 211.5 468.6 214 468.9 215.9 469.8 215.9 471.1Z" fill="none" stroke="#000" stroke-width="0.8"/><path d="M213.6 472.5 212.5 473.3 212.9 474.3 211.9 475.1 210.7 475.8 208.8 476.1 206.9 476.0 204.9 476.3 203.1 476.0 201.3 475.7 200.1 475.0 199.2 474.3 198.1 473.5 198.5 472.5 198.8 471.5 198.9 470.6 200.1 469.8 201.3 469.2 202.9 468.7 204.9 468.7 207 468.5 208.9 468.7 210.7 469.1 211.8 469.9 212.3 470.7 212.8 471.6Z" fill="none" stroke="#000" stroke-width="0.8"/>
<path d="M221.1 486.5 220.8 488.9 217.6 490.1 216.2 491.6 212 492.2 206.6 492.5 198.1 492.4 193.1 491.9 189.3 491.2 187.4 490.0 183.9 488.9 184.8 486.6 183.9 484.2 186.5 482.9 188.5 481.6 192.9 481.1 198.1 480.7 206.8 480.4 211.4 481.2 215 482.0 219 482.7 219.3 484.4Z" fill="#000"/><ellipse cx="192.6" cy="486.5" rx="3.3" ry="2.6" fill="none" stroke="#fff" stroke-width="0.8"/><ellipse cx="192.6" cy="486.5" rx="2.3" ry="1.8" fill="none" stroke="#fff" stroke-width="0.8"/><ellipse cx="192.6" cy="486.5" rx="1.4" ry="1.1" fill="none" stroke="#fff" stroke-width="0.9"/><ellipse cx="192.6" cy="486.5" rx="0.6" ry="0.6" fill="#fff"/><ellipse cx="202.3" cy="486.5" rx="3.3" ry="2.6" fill="none" stroke="#fff" stroke-width="0.8"/><ellipse cx="202.3" cy="486.5" rx="2.3" ry="1.8" fill="none" stroke="#fff" stroke-width="0.8"/><ellipse cx="202.3" cy="486.5" rx="1.4" ry="1.1" fill="none" stroke="#fff" stroke-width="0.9"/><ellipse cx="202.3" cy="486.5" rx="0.6" ry="0.6" fill="#fff"/><ellipse cx="212.0" cy="486.5" rx="3.3" ry="2.6" fill="none" stroke="#fff" stroke-width="0.8"/><ellipse cx="212.0" cy="486.5" rx="2.3" ry="1.8" fill="none" stroke="#fff" stroke-width="0.8"/><ellipse cx="212.0" cy="486.5" rx="1.4" ry="1.1" fill="none" stroke="#fff" stroke-width="0.9"/><ellipse cx="212.0" cy="486.5" rx="0.6" ry="0.6" fill="#fff"/>
<path d="M220.2 500.1 220.1 502.5 220 504.5 215.3 505.2 211.6 506.2 205.5 506.6 195.6 507.0 190 506.2 186 505.2 183.3 504.0 180.5 502.6 179.5 500.1 179.3 497.4 183.6 496.2 185.6 494.8 189.3 493.6 195.7 493.4 205.4 493.8 211.4 494.1 215 495.1 218.3 496.1 221.2 497.5Z" fill="#000"/><ellipse cx="189.7" cy="500.1" rx="3.8" ry="2.9" fill="none" stroke="#fff" stroke-width="0.8"/><ellipse cx="189.7" cy="500.1" rx="2.7" ry="2.0" fill="none" stroke="#fff" stroke-width="0.8"/><ellipse cx="189.7" cy="500.1" rx="1.6" ry="1.2" fill="none" stroke="#fff" stroke-width="0.9"/><ellipse cx="189.7" cy="500.1" rx="0.6" ry="0.6" fill="#fff"/><ellipse cx="200.7" cy="500.1" rx="3.8" ry="2.9" fill="none" stroke="#fff" stroke-width="0.8"/><ellipse cx="200.7" cy="500.1" rx="2.7" ry="2.0" fill="none" stroke="#fff" stroke-width="0.8"/><ellipse cx="200.7" cy="500.1" rx="1.6" ry="1.2" fill="none" stroke="#fff" stroke-width="0.9"/><ellipse cx="200.7" cy="500.1" rx="0.6" ry="0.6" fill="#fff"/><ellipse cx="211.7" cy="500.1" rx="3.8" ry="2.9" fill="none" stroke="#fff" stroke-width="0.8"/><ellipse cx="211.7" cy="500.1" rx="2.7" ry="2.0" fill="none" stroke="#fff" stroke-width="0.8"/><ellipse cx="211.7" cy="500.1" rx="1.6" ry="1.2" fill="none" stroke="#fff" stroke-width="0.9"/><ellipse cx="211.7" cy="500.1" rx="0.6" ry="0.6" fill="#fff"/>
<path d="M214.4 527.8 214.6 529.3 212.5 530.3 212.3 531.7 210.1 532.1 209 533.6 206.6 533.3 204.2 533.6 202.4 532.7 200.6 532.2 199.2 531.4 197.2 530.6 196.3 529.3 196.8 527.8 196.9 526.3 197.4 524.9 199.3 524.2 200.6 523.3 202.3 522.7 204.2 522.0 206.6 521.8 208.5 522.6 210.9 522.6 212.2 523.8 212.6 525.2 213.8 526.3Z" fill="none" stroke="#000" stroke-width="0.8"/><path d="M211.7 527.8 211.9 528.9 211 529.7 210 530.4 208.9 531.0 207.7 531.6 206.2 531.9 204.5 532.0 203 531.7 201.8 531.1 200.5 530.6 200 529.7 199.2 528.8 198.9 527.8 198.7 526.6 199.8 525.8 200.7 525.0 201.6 524.2 203.2 524.1 204.6 523.8 206.3 523.4 207.7 524.0 209.2 524.2 210 525.0 211.2 525.7 211 526.8Z" fill="none" stroke="#000" stroke-width="0.8"/>
<path d="M220.8 562.2 221.8 564.7 218.2 565.9 216.4 567.3 211.7 567.9 205.4 568.0 196.1 567.9 190.6 567.5 186.2 566.9 182.9 565.9 180.5 564.6 179 562.3 181.8 560.1 182.6 558.5 184.6 557.1 189.4 556.4 196.1 556.6 205.8 556.0 211.8 556.5 215.3 557.6 219.1 558.5 221.3 559.9Z" fill="#000"/><ellipse cx="189.7" cy="562.2" rx="3.8" ry="2.7" fill="none" stroke="#fff" stroke-width="0.8"/><ellipse cx="189.7" cy="562.2" rx="2.7" ry="1.9" fill="none" stroke="#fff" stroke-width="0.8"/><ellipse cx="189.7" cy="562.2" rx="1.6" ry="1.1" fill="none" stroke="#fff" stroke-width="0.9"/><ellipse cx="189.7" cy="562.2" rx="0.6" ry="0.6" fill="#fff"/><ellipse cx="200.7" cy="562.2" rx="3.8" ry="2.7" fill="none" stroke="#fff" stroke-width="0.8"/><ellipse cx="200.7" cy="562.2" rx="2.7" ry="1.9" fill="none" stroke="#fff" stroke-width="0.8"/><ellipse cx="200.7" cy="562.2" rx="1.6" ry="1.1" fill="none" stroke="#fff" stroke-width="0.9"/><ellipse cx="200.7" cy="562.2" rx="0.6" ry="0.6" fill="#fff"/><ellipse cx="211.7" cy="562.2" rx="3.8" ry="2.7" fill="none" stroke="#fff" stroke-width="0.8"/><ellipse cx="211.7" cy="562.2" rx="2.7" ry="1.9" fill="none" stroke="#fff" stroke-width="0.8"/><ellipse cx="211.7" cy="562.2" rx="1.6" ry="1.1" fill="none" stroke="#fff" stroke-width="0.9"/><ellipse cx="211.7" cy="562.2" rx="0.6" ry="0.6" fill="#fff"/>
<path d="M218.8 575.0 219 577.8 217.1 579.4 214.5 580.7 211.7 581.9 206.6 582.0 198.8 582.3 194.7 581.3 190.3 581.0 187.5 579.8 186 577.9 187.2 575.0 187.6 572.3 187.6 570.2 190.3 568.9 194.7 568.6 199 567.8 206.7 567.6 211.8 567.9 215.2 568.9 217 570.5 219.1 572.1Z" fill="#000"/><ellipse cx="193.9" cy="575.0" rx="3.0" ry="3.3" fill="none" stroke="#fff" stroke-width="0.8"/><ellipse cx="193.9" cy="575.0" rx="2.1" ry="2.3" fill="none" stroke="#fff" stroke-width="0.8"/><ellipse cx="193.9" cy="575.0" rx="1.3" ry="1.4" fill="none" stroke="#fff" stroke-width="0.9"/><ellipse cx="193.9" cy="575.0" rx="0.6" ry="0.6" fill="#fff"/><ellipse cx="202.8" cy="575.0" rx="3.0" ry="3.3" fill="none" stroke="#fff" stroke-width="0.8"/><ellipse cx="202.8" cy="575.0" rx="2.1" ry="2.3" fill="none" stroke="#fff" stroke-width="0.8"/><ellipse cx="202.8" cy="575.0" rx="1.3" ry="1.4" fill="none" stroke="#fff" stroke-width="0.9"/><ellipse cx="202.8" cy="575.0" rx="0.6" ry="0.6" fill="#fff"/><ellipse cx="211.7" cy="575.0" rx="3.0" ry="3.3" fill="none" stroke="#fff" stroke-width="0.8"/><ellipse cx="211.7" cy="575.0" rx="2.1" ry="2.3" fill="none" stroke="#fff" stroke-width="0.8"/><ellipse cx="211.7" cy="575.0" rx="1.3" ry="1.4" fill="none" stroke="#fff" stroke-width="0.9"/><ellipse cx="211.7" cy="575.0" rx="0.6" ry="0.6" fill="#fff"/>
<path d="M351.1 459.9 351.7 462.3 350.1 463.8 348 465.0 344.3 465.7 339.8 466.3 332.4 465.5 327.5 465.6 324.6 464.7 321.2 463.9 321.2 462.1 319.2 459.9 320.2 457.5 321.3 455.9 323.4 454.7 327.1 453.9 331.9 453.5 339.5 453.9 344.3 454.1 348.3 454.6 350 456.0 351 457.6Z" fill="#000"/><ellipse cx="327.3" cy="459.9" rx="2.9" ry="2.7" fill="none" stroke="#fff" stroke-width="0.8"/><ellipse cx="327.3" cy="459.9" rx="2.1" ry="1.9" fill="none" stroke="#fff" stroke-width="0.8"/><ellipse cx="327.3" cy="459.9" rx="1.2" ry="1.2" fill="none" stroke="#fff" stroke-width="0.9"/><ellipse cx="327.3" cy="459.9" rx="0.6" ry="0.6" fill="#fff"/><ellipse cx="335.9" cy="459.9" rx="2.9" ry="2.7" fill="none" stroke="#fff" stroke-width="0.8"/><ellipse cx="335.9" cy="459.9" rx="2.1" ry="1.9" fill="none" stroke="#fff" stroke-width="0.8"/><ellipse cx="335.9" cy="459.9" rx="1.2" ry="1.2" fill="none" stroke="#fff" stroke-width="0.9"/><ellipse cx="335.9" cy="459.9" rx="0.6" ry="0.6" fill="#fff"/><ellipse cx="344.4" cy="459.9" rx="2.9" ry="2.7" fill="none" stroke="#fff" stroke-width="0.8"/><ellipse cx="344.4" cy="459.9" rx="2.1" ry="1.9" fill="none" stroke="#fff" stroke-width="0.8"/><ellipse cx="344.4" cy="459.9" rx="1.2" ry="1.2" fill="none" stroke="#fff" stroke-width="0.9"/><ellipse cx="344.4" cy="459.9" rx="0.6" ry="0.6" fill="#fff"/>
<path d="M352.9 472.4 351.1 474.7 351.4 476.7 348.4 477.8 344.4 478.5 339.2 479.0 330.6 479.0 326 478.1 322.4 477.4 319.6 476.4 317.4 474.9 317.5 472.5 318.6 470.1 319.3 468.5 321.9 467.3 326.2 466.9 331 466.5 339.2 465.9 344.2 466.5 348.4 467.1 349.3 468.8 351.5 470.1Z" fill="#000"/><ellipse cx="325.5" cy="472.4" rx="3.2" ry="2.8" fill="none" stroke="#fff" stroke-width="0.8"/><ellipse cx="325.5" cy="472.4" rx="2.3" ry="2.0" fill="none" stroke="#fff" stroke-width="0.8"/><ellipse cx="325.5" cy="472.4" rx="1.4" ry="1.2" fill="none" stroke="#fff" stroke-width="0.9"/><ellipse cx="325.5" cy="472.4" rx="0.6" ry="0.6" fill="#fff"/><ellipse cx="334.9" cy="472.4" rx="3.2" ry="2.8" fill="none" stroke="#fff" stroke-width="0.8"/><ellipse cx="334.9" cy="472.4" rx="2.3" ry="2.0" fill="none" stroke="#fff" stroke-width="0.8"/><ellipse cx="334.9" cy="472.4" rx="1.4" ry="1.2" fill="none" stroke="#fff" stroke-width="0.9"/><ellipse cx="334.9" cy="472.4" rx="0.6" ry="0.6" fill="#fff"/><ellipse cx="344.3" cy="472.4" rx="3.2" ry="2.8" fill="none" stroke="#fff" stroke-width="0.8"/><ellipse cx="344.3" cy="472.4" rx="2.3" ry="2.0" fill="none" stroke="#fff" stroke-width="0.8"/><ellipse cx="344.3" cy="472.4" rx="1.4" ry="1.2" fill="none" stroke="#fff" stroke-width="0.9"/><ellipse cx="344.3" cy="472.4" rx="0.6" ry="0.6" fill="#fff"/>
<path d="M354.9 487.0 355.4 489.6 353.2 491.1 351.1 492.3 348.2 493.2 343.8 493.6 336.7 493.7 332.2 493.3 330.1 492.0 327.8 490.9 326.5 489.4 326.4 487.1 325.2 484.5 326.7 482.8 329.8 482.0 332.9 481.3 336.7 480.3 343.7 480.7 347.4 481.5 351.5 481.6 353.3 483.0 354.7 484.6Z" fill="#000"/><ellipse cx="332.5" cy="487.0" rx="2.7" ry="2.9" fill="none" stroke="#fff" stroke-width="0.8"/><ellipse cx="332.5" cy="487.0" rx="1.9" ry="2.0" fill="none" stroke="#fff" stroke-width="0.8"/><ellipse cx="332.5" cy="487.0" rx="0.6" ry="0.6" fill="#fff"/><ellipse cx="340.3" cy="487.0" rx="2.7" ry="2.9" fill="none" stroke="#fff" stroke-width="0.8"/><ellipse cx="340.3" cy="487.0" rx="1.9" ry="2.0" fill="none" stroke="#fff" stroke-width="0.8"/><ellipse cx="340.3" cy="487.0" rx="0.6" ry="0.6" fill="#fff"/><ellipse cx="348.1" cy="487.0" rx="2.7" ry="2.9" fill="none" stroke="#fff" stroke-width="0.8"/><ellipse cx="348.1" cy="487.0" rx="1.9" ry="2.0" fill="none" stroke="#fff" stroke-width="0.8"/><ellipse cx="348.1" cy="487.0" rx="0.6" ry="0.6" fill="#fff"/>
<path d="M354.8 499.9 354.3 502.5 353.1 504.1 350.5 505.1 348.4 506.6 343.5 506.1 336.9 506.5 332.2 506.5 330.1 505.1 326.8 504.3 325.7 502.6 325.9 499.9 325.3 497.2 327.5 495.7 330.3 494.8 332.4 493.4 337 493.5 343.5 493.7 348.3 493.4 351.7 494.1 353.2 495.7 355 497.2Z" fill="#000"/><ellipse cx="332.5" cy="499.9" rx="2.7" ry="3.0" fill="none" stroke="#fff" stroke-width="0.8"/><ellipse cx="332.5" cy="499.9" rx="1.9" ry="2.1" fill="none" stroke="#fff" stroke-width="0.8"/><ellipse cx="332.5" cy="499.9" rx="0.6" ry="0.6" fill="#fff"/><ellipse cx="340.3" cy="499.9" rx="2.7" ry="3.0" fill="none" stroke="#fff" stroke-width="0.8"/><ellipse cx="340.3" cy="499.9" rx="1.9" ry="2.1" fill="none" stroke="#fff" stroke-width="0.8"/><ellipse cx="340.3" cy="499.9" rx="0.6" ry="0.6" fill="#fff"/><ellipse cx="348.1" cy="499.9" rx="2.7" ry="3.0" fill="none" stroke="#fff" stroke-width="0.8"/><ellipse cx="348.1" cy="499.9" rx="1.9" ry="2.1" fill="none" stroke="#fff" stroke-width="0.8"/><ellipse cx="348.1" cy="499.9" rx="0.6" ry="0.6" fill="#fff"/>
<path d="M352.1 525.5 350.6 527.9 350.8 529.8 346.7 530.4 343.4 531.2 339 531.6 331.3 532.3 326.4 531.8 322.6 531.1 321.6 529.4 319.1 528.0 319.4 525.5 319.8 523.1 319.8 521.1 323.8 520.4 326.9 519.5 331.6 519.1 339.4 518.7 343.8 519.5 348 520.0 349 521.7 351.7 522.9Z" fill="#000"/><ellipse cx="326.5" cy="525.5" rx="3.0" ry="2.9" fill="none" stroke="#fff" stroke-width="0.8"/><ellipse cx="326.5" cy="525.5" rx="2.1" ry="2.0" fill="none" stroke="#fff" stroke-width="0.8"/><ellipse cx="326.5" cy="525.5" rx="1.3" ry="1.2" fill="none" stroke="#fff" stroke-width="0.9"/><ellipse cx="326.5" cy="525.5" rx="0.6" ry="0.6" fill="#fff"/><ellipse cx="335.4" cy="525.5" rx="3.0" ry="2.9" fill="none" stroke="#fff" stroke-width="0.8"/><ellipse cx="335.4" cy="525.5" rx="2.1" ry="2.0" fill="none" stroke="#fff" stroke-width="0.8"/><ellipse cx="335.4" cy="525.5" rx="1.3" ry="1.2" fill="none" stroke="#fff" stroke-width="0.9"/><ellipse cx="335.4" cy="525.5" rx="0.6" ry="0.6" fill="#fff"/><ellipse cx="344.2" cy="525.5" rx="3.0" ry="2.9" fill="none" stroke="#fff" stroke-width="0.8"/><ellipse cx="344.2" cy="525.5" rx="2.1" ry="2.0" fill="none" stroke="#fff" stroke-width="0.8"/><ellipse cx="344.2" cy="525.5" rx="1.3" ry="1.2" fill="none" stroke="#fff" stroke-width="0.9"/><ellipse cx="344.2" cy="525.5" rx="0.6" ry="0.6" fill="#fff"/>
<path d="M350.7 538.8 351.5 541.3 349.6 542.7 347.1 543.8 344.4 544.9 339.5 544.7 332.7 544.5 327.7 544.9 325.5 543.6 322.5 542.7 320.5 541.3 320.8 538.8 320.7 536.2 322.9 534.9 324.6 533.5 328 532.8 332.6 532.7 339.8 532.1 344.3 532.7 347.5 533.5 349.3 534.9 351.5 536.2Z" fill="#000"/><ellipse cx="327.9" cy="538.8" rx="2.8" ry="2.8" fill="none" stroke="#fff" stroke-width="0.8"/><ellipse cx="327.9" cy="538.8" rx="2.0" ry="2.0" fill="none" stroke="#fff" stroke-width="0.8"/><ellipse cx="327.9" cy="538.8" rx="0.6" ry="0.6" fill="#fff"/><ellipse cx="336.1" cy="538.8" rx="2.8" ry="2.8" fill="none" stroke="#fff" stroke-width="0.8"/><ellipse cx="336.1" cy="538.8" rx="2.0" ry="2.0" fill="none" stroke="#fff" stroke-width="0.8"/><ellipse cx="336.1" cy="538.8" rx="0.6" ry="0.6" fill="#fff"/><ellipse cx="344.2" cy="538.8" rx="2.8" ry="2.8" fill="none" stroke="#fff" stroke-width="0.8"/><ellipse cx="344.2" cy="538.8" rx="2.0" ry="2.0" fill="none" stroke="#fff" stroke-width="0.8"/><ellipse cx="344.2" cy="538.8" rx="0.6" ry="0.6" fill="#fff"/>
<path d="M357.6 562.6 356.9 565.2 355.2 566.8 352 567.7 349.3 568.9 344.3 569.3 336.4 569.2 332.3 568.3 327.8 568.1 325.9 566.7 325.4 565.0 322.9 562.7 323.6 560.1 326.7 558.8 328 557.3 332.2 556.9 336.7 556.5 343.9 556.7 349.3 556.4 352.7 557.3 354.5 558.7 355.9 560.2Z" fill="#000"/><ellipse cx="331.6" cy="562.6" rx="3.0" ry="2.9" fill="none" stroke="#fff" stroke-width="0.8"/><ellipse cx="331.6" cy="562.6" rx="2.1" ry="2.0" fill="none" stroke="#fff" stroke-width="0.8"/><ellipse cx="331.6" cy="562.6" rx="1.3" ry="1.2" fill="none" stroke="#fff" stroke-width="0.9"/><ellipse cx="331.6" cy="562.6" rx="0.6" ry="0.6" fill="#fff"/><ellipse cx="340.4" cy="562.6" rx="3.0" ry="2.9" fill="none" stroke="#fff" stroke-width="0.8"/><ellipse cx="340.4" cy="562.6" rx="2.1" ry="2.0" fill="none" stroke="#fff" stroke-width="0.8"/><ellipse cx="340.4" cy="562.6" rx="1.3" ry="1.2" fill="none" stroke="#fff" stroke-width="0.9"/><ellipse cx="340.4" cy="562.6" rx="0.6" ry="0.6" fill="#fff"/><ellipse cx="349.1" cy="562.6" rx="3.0" ry="2.9" fill="none" stroke="#fff" stroke-width="0.8"/><ellipse cx="349.1" cy="562.6" rx="2.1" ry="2.0" fill="none" stroke="#fff" stroke-width="0.8"/><ellipse cx="349.1" cy="562.6" rx="1.3" ry="1.2" fill="none" stroke="#fff" stroke-width="0.9"/><ellipse cx="349.1" cy="562.6" rx="0.6" ry="0.6" fill="#fff"/>
<path d="M355.9 576.0 356.3 578.8 355.1 580.6 352.2 581.6 349.2 582.6 345 583.3 337.9 582.9 333.6 582.5 329.8 582.0 328.4 580.3 327.3 578.6 325.3 576.0 326 573.1 327.6 571.3 330 570.0 333.9 569.7 338 569.1 344.8 569.1 348.9 569.5 352.6 570.0 354.4 571.5 356.3 573.1Z" fill="#000"/><ellipse cx="333.2" cy="576.0" rx="2.8" ry="3.3" fill="none" stroke="#fff" stroke-width="0.8"/><ellipse cx="333.2" cy="576.0" rx="2.0" ry="2.3" fill="none" stroke="#fff" stroke-width="0.8"/><ellipse cx="333.2" cy="576.0" rx="0.6" ry="0.6" fill="#fff"/><ellipse cx="341.4" cy="576.0" rx="2.8" ry="3.3" fill="none" stroke="#fff" stroke-width="0.8"/><ellipse cx="341.4" cy="576.0" rx="2.0" ry="2.3" fill="none" stroke="#fff" stroke-width="0.8"/><ellipse cx="341.4" cy="576.0" rx="0.6" ry="0.6" fill="#fff"/><ellipse cx="349.5" cy="576.0" rx="2.8" ry="3.3" fill="none" stroke="#fff" stroke-width="0.8"/><ellipse cx="349.5" cy="576.0" rx="2.0" ry="2.3" fill="none" stroke="#fff" stroke-width="0.8"/><ellipse cx="349.5" cy="576.0" rx="0.6" ry="0.6" fill="#fff"/>
<path d="M350.8 691.8 352.2 697.2 350.3 700.6 346.1 702.1 342.4 703.6 337.7 705.7 328.7 705.4 323.1 704.6 319.1 702.9 316.2 700.4 315.5 696.8 313.7 691.8 315.3 686.7 317.6 683.8 318.6 680.2 323.3 679.0 328.8 678.6 337.6 678.2 342.6 679.6 346.9 680.8 350.6 682.8 350.9 686.7Z" fill="#000"/><ellipse cx="325.6" cy="691.8" rx="5.2" ry="6.1" fill="none" stroke="#fff" stroke-width="0.8"/><ellipse cx="325.6" cy="691.8" rx="3.6" ry="4.2" fill="none" stroke="#fff" stroke-width="0.8"/><ellipse cx="325.6" cy="691.8" rx="2.2" ry="2.5" fill="none" stroke="#fff" stroke-width="0.9"/><ellipse cx="325.6" cy="691.8" rx="0.8" ry="1.1" fill="#fff"/><ellipse cx="340.7" cy="691.8" rx="5.2" ry="6.1" fill="none" stroke="#fff" stroke-width="0.8"/><ellipse cx="340.7" cy="691.8" rx="3.6" ry="4.2" fill="none" stroke="#fff" stroke-width="0.8"/><ellipse cx="340.7" cy="691.8" rx="2.2" ry="2.5" fill="none" stroke="#fff" stroke-width="0.9"/><ellipse cx="340.7" cy="691.8" rx="0.8" ry="1.1" fill="#fff"/>
<path d="M361.3 693.0 360.8 696.5 360.1 698.6 359.3 700.4 357.9 701.5 356.1 702.5 353 701.9 351 701.8 349.8 700.3 348.6 698.8 348.6 696.3 347.8 693.0 348.2 689.5 348.8 687.3 349.6 685.4 351 684.4 352.9 683.6 355.9 684.6 358 684.3 359 686.0 360.2 687.3 360.7 689.6Z" fill="#000"/>
<path d="M345.5 708.3 344.2 710.2 342.4 711.5 340.9 712.8 339.3 714.1 337 715.2 333.9 715.1 330.7 715.4 328.1 714.7 324.5 714.9 322.3 713.6 320.6 712.1 320.9 710.1 319.2 708.3 320.1 706.4 321.1 704.7 323.4 703.6 324.7 701.9 327.9 701.7 330.6 700.7 333.9 701.4 337.1 701.3 339.2 702.6 341.1 703.7 342.6 705.0 345 706.3Z" fill="none" stroke="#000" stroke-width="0.8"/><path d="M340.6 708.3 340.3 709.5 340.5 710.9 338.7 711.6 337.3 712.5 335.8 713.5 333.5 713.1 331.2 713.3 328.9 713.4 327.5 712.4 325.4 711.9 324.9 710.7 323.3 709.7 323.3 708.3 323.4 706.9 323.9 705.6 325.4 704.6 327 703.8 328.9 703.2 331.1 702.8 333.5 703.3 335.6 703.4 337.4 704.0 338.9 704.8 340.8 705.6 340.6 707.0Z" fill="none" stroke="#000" stroke-width="0.8"/><path d="M338.2 708.3 337.9 709.2 336.8 709.7 336.3 710.4 335.3 710.8 334.6 711.6 333.1 711.7 331.6 711.7 330.3 711.3 329.2 711.0 328.3 710.4 327.8 709.8 327.4 709.1 327.4 708.3 326.8 707.4 327.6 706.8 327.9 705.9 329 705.5 330.3 705.3 331.7 705.4 333.1 705.1 334.4 705.3 335.5 705.6 336.3 706.2 336.9 706.8 337.5 707.5Z" fill="none" stroke="#000" stroke-width="0.8"/>
<path d="M364.7 730.6 361.7 735.0 360.8 738.2 357.2 740.6 350.6 741.0 344 741.8 332.9 742.2 325.4 741.9 320.8 740.0 315.8 738.4 313.8 735.3 313.1 730.6 313.6 725.8 315.3 722.6 320.4 720.9 324.8 718.8 332.5 718.1 344.3 718.8 351 719.9 357.3 720.6 360.6 723.0 362.2 726.1Z" fill="#000"/><ellipse cx="325.3" cy="730.6" rx="4.6" ry="5.4" fill="none" stroke="#fff" stroke-width="0.8"/><ellipse cx="325.3" cy="730.6" rx="3.2" ry="3.7" fill="none" stroke="#fff" stroke-width="0.8"/><ellipse cx="325.3" cy="730.6" rx="1.9" ry="2.2" fill="none" stroke="#fff" stroke-width="0.9"/><ellipse cx="325.3" cy="730.6" rx="0.7" ry="1.0" fill="#fff"/><ellipse cx="338.5" cy="730.6" rx="4.6" ry="5.4" fill="none" stroke="#fff" stroke-width="0.8"/><ellipse cx="338.5" cy="730.6" rx="3.2" ry="3.7" fill="none" stroke="#fff" stroke-width="0.8"/><ellipse cx="338.5" cy="730.6" rx="1.9" ry="2.2" fill="none" stroke="#fff" stroke-width="0.9"/><ellipse cx="338.5" cy="730.6" rx="0.7" ry="1.0" fill="#fff"/><ellipse cx="351.8" cy="730.6" rx="4.6" ry="5.4" fill="none" stroke="#fff" stroke-width="0.8"/><ellipse cx="351.8" cy="730.6" rx="3.2" ry="3.7" fill="none" stroke="#fff" stroke-width="0.8"/><ellipse cx="351.8" cy="730.6" rx="1.9" ry="2.2" fill="none" stroke="#fff" stroke-width="0.9"/><ellipse cx="351.8" cy="730.6" rx="0.7" ry="1.0" fill="#fff"/>
<path d="M362.4 878.1 363.6 882.7 360.7 885.0 359.3 887.8 355.2 888.8 350.4 889.8 342.2 889.9 337.7 888.4 334.4 886.9 331.6 885.2 330.1 882.4 329.3 878.2 330.3 873.9 332.2 871.4 333.3 868.6 337.5 867.6 342.6 867.6 350 867.6 354.7 868.2 358.7 869.0 360.4 871.4 362.8 873.8Z" fill="#000"/><ellipse cx="339.5" cy="878.1" rx="4.7" ry="5.1" fill="none" stroke="#fff" stroke-width="0.8"/><ellipse cx="339.5" cy="878.1" rx="3.3" ry="3.6" fill="none" stroke="#fff" stroke-width="0.8"/><ellipse cx="339.5" cy="878.1" rx="2.0" ry="2.1" fill="none" stroke="#fff" stroke-width="0.9"/><ellipse cx="339.5" cy="878.1" rx="0.7" ry="0.9" fill="#fff"/><ellipse cx="353.1" cy="878.1" rx="4.7" ry="5.1" fill="none" stroke="#fff" stroke-width="0.8"/><ellipse cx="353.1" cy="878.1" rx="3.3" ry="3.6" fill="none" stroke="#fff" stroke-width="0.8"/><ellipse cx="353.1" cy="878.1" rx="2.0" ry="2.1" fill="none" stroke="#fff" stroke-width="0.9"/><ellipse cx="353.1" cy="878.1" rx="0.7" ry="0.9" fill="#fff"/>
<path d="M349.1 858.4 350.5 860.1 348.8 861.5 347.3 862.8 345.1 863.8 342.3 864.5 339.1 864.5 335.8 864.7 332.6 864.6 330 863.8 328.8 862.3 327.3 861.2 324.5 860.1 324.6 858.4 325.3 856.7 325.6 855.1 328.5 854.3 330.7 853.4 333 852.5 335.9 852.2 339.1 852.4 341.8 852.8 345.3 852.7 347.6 853.8 349.6 855.0 349.6 856.7Z" fill="none" stroke="#000" stroke-width="0.8"/><path d="M346.2 858.4 346.5 859.6 345.6 860.6 344.3 861.4 342.4 861.9 340.6 862.3 338.6 862.6 336.2 863.2 334.3 862.4 332.6 861.9 331.2 861.2 329.8 860.5 328.2 859.6 329.3 858.4 328.9 857.2 328.8 855.9 330.7 855.3 331.9 854.3 333.9 853.7 336.2 853.4 338.6 854.1 340.7 854.3 343 854.4 343.9 855.5 345.2 856.2 346.4 857.1Z" fill="none" stroke="#000" stroke-width="0.8"/>
<path d="M466.9 460.1 464.9 462.5 463.4 464.0 460.9 465.0 457.4 465.7 453 466.3 445.5 466.2 440.8 465.9 437.8 465.0 434.4 464.2 432.8 462.6 432.5 460.1 432.1 457.5 434 455.9 437.2 455.0 440.4 454.0 445.6 454.1 453.3 453.5 457.6 454.3 461.9 454.7 463.3 456.3 465.8 457.6Z" fill="#000"/><ellipse cx="440.4" cy="460.1" rx="3.0" ry="2.8" fill="none" stroke="#fff" stroke-width="0.8"/><ellipse cx="440.4" cy="460.1" rx="2.1" ry="2.0" fill="none" stroke="#fff" stroke-width="0.8"/><ellipse cx="440.4" cy="460.1" rx="1.3" ry="1.2" fill="none" stroke="#fff" stroke-width="0.9"/><ellipse cx="440.4" cy="460.1" rx="0.6" ry="0.6" fill="#fff"/><ellipse cx="449.2" cy="460.1" rx="3.0" ry="2.8" fill="none" stroke="#fff" stroke-width="0.8"/><ellipse cx="449.2" cy="460.1" rx="2.1" ry="2.0" fill="none" stroke="#fff" stroke-width="0.8"/><ellipse cx="449.2" cy="460.1" rx="1.3" ry="1.2" fill="none" stroke="#fff" stroke-width="0.9"/><ellipse cx="449.2" cy="460.1" rx="0.6" ry="0.6" fill="#fff"/><ellipse cx="458.1" cy="460.1" rx="3.0" ry="2.8" fill="none" stroke="#fff" stroke-width="0.8"/><ellipse cx="458.1" cy="460.1" rx="2.1" ry="2.0" fill="none" stroke="#fff" stroke-width="0.8"/><ellipse cx="458.1" cy="460.1" rx="1.3" ry="1.2" fill="none" stroke="#fff" stroke-width="0.9"/><ellipse cx="458.1" cy="460.1" rx="0.6" ry="0.6" fill="#fff"/>
<path d="M465.4 472.8 464.3 475.1 463.8 476.9 460.4 477.8 457.3 478.7 452.4 479.0 444.3 479.6 439.1 479.1 435.9 478.1 433 477.0 431.8 475.3 430.7 472.8 430.6 470.1 433.6 468.7 435.5 467.3 440 467.0 444.5 466.2 452.3 466.5 457.2 466.8 460.4 467.7 464.6 468.4 466 470.1Z" fill="#000"/><ellipse cx="439.3" cy="472.8" rx="3.2" ry="2.9" fill="none" stroke="#fff" stroke-width="0.8"/><ellipse cx="439.3" cy="472.8" rx="2.2" ry="2.1" fill="none" stroke="#fff" stroke-width="0.8"/><ellipse cx="439.3" cy="472.8" rx="1.3" ry="1.2" fill="none" stroke="#fff" stroke-width="0.9"/><ellipse cx="439.3" cy="472.8" rx="0.6" ry="0.6" fill="#fff"/><ellipse cx="448.5" cy="472.8" rx="3.2" ry="2.9" fill="none" stroke="#fff" stroke-width="0.8"/><ellipse cx="448.5" cy="472.8" rx="2.2" ry="2.1" fill="none" stroke="#fff" stroke-width="0.8"/><ellipse cx="448.5" cy="472.8" rx="1.3" ry="1.2" fill="none" stroke="#fff" stroke-width="0.9"/><ellipse cx="448.5" cy="472.8" rx="0.6" ry="0.6" fill="#fff"/><ellipse cx="457.7" cy="472.8" rx="3.2" ry="2.9" fill="none" stroke="#fff" stroke-width="0.8"/><ellipse cx="457.7" cy="472.8" rx="2.2" ry="2.1" fill="none" stroke="#fff" stroke-width="0.8"/><ellipse cx="457.7" cy="472.8" rx="1.3" ry="1.2" fill="none" stroke="#fff" stroke-width="0.9"/><ellipse cx="457.7" cy="472.8" rx="0.6" ry="0.6" fill="#fff"/>
<path d="M467.3 526.4 465.3 528.8 464.7 530.5 462.5 531.8 458.2 532.0 454 532.4 446.9 532.6 442.2 532.5 439.2 531.5 436.1 530.6 434.7 528.9 434.3 526.4 434.6 523.8 435.7 522.1 439 521.2 441.8 520.0 446.7 519.7 454.2 520.0 458.5 520.6 462.5 521.0 464.6 522.3 465.6 524.0Z" fill="#000"/><ellipse cx="442.1" cy="526.4" rx="2.9" ry="2.9" fill="none" stroke="#fff" stroke-width="0.8"/><ellipse cx="442.1" cy="526.4" rx="2.0" ry="2.0" fill="none" stroke="#fff" stroke-width="0.8"/><ellipse cx="442.1" cy="526.4" rx="1.2" ry="1.2" fill="none" stroke="#fff" stroke-width="0.9"/><ellipse cx="442.1" cy="526.4" rx="0.6" ry="0.6" fill="#fff"/><ellipse cx="450.5" cy="526.4" rx="2.9" ry="2.9" fill="none" stroke="#fff" stroke-width="0.8"/><ellipse cx="450.5" cy="526.4" rx="2.0" ry="2.0" fill="none" stroke="#fff" stroke-width="0.8"/><ellipse cx="450.5" cy="526.4" rx="1.2" ry="1.2" fill="none" stroke="#fff" stroke-width="0.9"/><ellipse cx="450.5" cy="526.4" rx="0.6" ry="0.6" fill="#fff"/><ellipse cx="459.0" cy="526.4" rx="2.9" ry="2.9" fill="none" stroke="#fff" stroke-width="0.8"/><ellipse cx="459.0" cy="526.4" rx="2.0" ry="2.0" fill="none" stroke="#fff" stroke-width="0.8"/><ellipse cx="459.0" cy="526.4" rx="1.2" ry="1.2" fill="none" stroke="#fff" stroke-width="0.9"/><ellipse cx="459.0" cy="526.4" rx="0.6" ry="0.6" fill="#fff"/>
<path d="M465.3 538.8 464.4 541.0 464.4 542.8 461 543.5 458.4 544.5 454.3 544.9 447.2 545.1 443.6 544.2 440.5 543.5 438.1 542.5 435.5 541.3 436.2 538.8 436.8 536.4 437.8 534.9 439.8 533.6 442.5 532.6 447.2 532.4 454.2 532.6 458.5 533.0 462.2 533.5 463.1 535.1 466.1 536.2Z" fill="#000"/><ellipse cx="442.8" cy="538.8" rx="2.8" ry="2.8" fill="none" stroke="#fff" stroke-width="0.8"/><ellipse cx="442.8" cy="538.8" rx="1.9" ry="2.0" fill="none" stroke="#fff" stroke-width="0.8"/><ellipse cx="442.8" cy="538.8" rx="0.6" ry="0.6" fill="#fff"/><ellipse cx="450.8" cy="538.8" rx="2.8" ry="2.8" fill="none" stroke="#fff" stroke-width="0.8"/><ellipse cx="450.8" cy="538.8" rx="1.9" ry="2.0" fill="none" stroke="#fff" stroke-width="0.8"/><ellipse cx="450.8" cy="538.8" rx="0.6" ry="0.6" fill="#fff"/><ellipse cx="458.8" cy="538.8" rx="2.8" ry="2.8" fill="none" stroke="#fff" stroke-width="0.8"/><ellipse cx="458.8" cy="538.8" rx="1.9" ry="2.0" fill="none" stroke="#fff" stroke-width="0.8"/><ellipse cx="458.8" cy="538.8" rx="0.6" ry="0.6" fill="#fff"/>
<path d="M464.2 668.5 462.6 672.1 460.6 674.2 458.6 676.1 455.5 677.9 450.1 678.4 441.7 677.5 435.9 677.9 432.1 676.6 429.2 674.8 428.4 672.2 427 668.5 428.6 664.9 429.4 662.3 432.8 660.9 436.9 660.1 441.6 659.3 449.7 659.3 455.5 659.1 458.6 660.9 460.3 662.9 463.8 664.7Z" fill="#000"/><ellipse cx="436.2" cy="668.5" rx="3.3" ry="4.3" fill="none" stroke="#fff" stroke-width="0.8"/><ellipse cx="436.2" cy="668.5" rx="2.3" ry="3.0" fill="none" stroke="#fff" stroke-width="0.8"/><ellipse cx="436.2" cy="668.5" rx="1.4" ry="1.8" fill="none" stroke="#fff" stroke-width="0.9"/><ellipse cx="436.2" cy="668.5" rx="0.6" ry="0.8" fill="#fff"/><ellipse cx="445.7" cy="668.5" rx="3.3" ry="4.3" fill="none" stroke="#fff" stroke-width="0.8"/><ellipse cx="445.7" cy="668.5" rx="2.3" ry="3.0" fill="none" stroke="#fff" stroke-width="0.8"/><ellipse cx="445.7" cy="668.5" rx="1.4" ry="1.8" fill="none" stroke="#fff" stroke-width="0.9"/><ellipse cx="445.7" cy="668.5" rx="0.6" ry="0.8" fill="#fff"/><ellipse cx="455.2" cy="668.5" rx="3.3" ry="4.3" fill="none" stroke="#fff" stroke-width="0.8"/><ellipse cx="455.2" cy="668.5" rx="2.3" ry="3.0" fill="none" stroke="#fff" stroke-width="0.8"/><ellipse cx="455.2" cy="668.5" rx="1.4" ry="1.8" fill="none" stroke="#fff" stroke-width="0.9"/><ellipse cx="455.2" cy="668.5" rx="0.6" ry="0.8" fill="#fff"/>
<path d="M431.3 679.8 431 682.6 429.6 684.1 427.8 685.1 425.9 685.9 423.3 686.6 418.8 686.3 415.9 686.2 413.4 685.7 412 684.3 411.5 682.5 410.9 679.9 411.5 677.2 412.8 675.8 413.9 674.3 416 673.6 418.6 672.6 423.3 672.9 426.2 673.4 428.2 674.3 429.2 675.8 430.9 677.1Z" fill="#000"/><ellipse cx="421.0" cy="679.8" rx="5.5" ry="3.1" fill="none" stroke="#fff" stroke-width="0.8"/><ellipse cx="421.0" cy="679.8" rx="3.8" ry="2.2" fill="none" stroke="#fff" stroke-width="0.8"/><ellipse cx="421.0" cy="679.8" rx="2.3" ry="1.3" fill="none" stroke="#fff" stroke-width="0.9"/><ellipse cx="421.0" cy="679.8" rx="0.8" ry="0.6" fill="#fff"/>
<path d="M452.4 705.4 449.7 709.7 447.7 712.4 444.7 714.6 439.9 716.0 433.5 717.0 422.5 717.1 415.9 716.2 411.1 714.7 406.5 713.0 405.5 709.9 405.9 705.4 404.5 700.7 409 698.6 410.3 695.6 416.6 695.2 422.7 694.1 433.6 693.6 440.4 694.4 444.6 696.3 449.2 697.9 451.5 700.7Z" fill="#000"/><ellipse cx="415.7" cy="705.4" rx="4.2" ry="5.1" fill="none" stroke="#fff" stroke-width="0.8"/><ellipse cx="415.7" cy="705.4" rx="3.0" ry="3.6" fill="none" stroke="#fff" stroke-width="0.8"/><ellipse cx="415.7" cy="705.4" rx="1.8" ry="2.2" fill="none" stroke="#fff" stroke-width="0.9"/><ellipse cx="415.7" cy="705.4" rx="0.6" ry="0.9" fill="#fff"/><ellipse cx="428.0" cy="705.4" rx="4.2" ry="5.1" fill="none" stroke="#fff" stroke-width="0.8"/><ellipse cx="428.0" cy="705.4" rx="3.0" ry="3.6" fill="none" stroke="#fff" stroke-width="0.8"/><ellipse cx="428.0" cy="705.4" rx="1.8" ry="2.2" fill="none" stroke="#fff" stroke-width="0.9"/><ellipse cx="428.0" cy="705.4" rx="0.6" ry="0.9" fill="#fff"/><ellipse cx="440.3" cy="705.4" rx="4.2" ry="5.1" fill="none" stroke="#fff" stroke-width="0.8"/><ellipse cx="440.3" cy="705.4" rx="3.0" ry="3.6" fill="none" stroke="#fff" stroke-width="0.8"/><ellipse cx="440.3" cy="705.4" rx="1.8" ry="2.2" fill="none" stroke="#fff" stroke-width="0.9"/><ellipse cx="440.3" cy="705.4" rx="0.6" ry="0.9" fill="#fff"/>
<path d="M427.9 716.5 427.4 720.1 426.4 722.1 425.9 724.7 423.8 725.8 421 726.4 416.5 726.3 414.1 725.1 411.7 724.5 410.5 722.6 409.5 720.3 408.9 716.5 409.4 712.7 410.7 710.5 412.1 708.9 413.8 707.3 416.7 707.6 420.8 707.7 423.4 707.9 425.7 708.5 427.4 710.1 427.3 713.0Z" fill="#000"/><ellipse cx="418.8" cy="716.5" rx="5.1" ry="4.3" fill="none" stroke="#fff" stroke-width="0.8"/><ellipse cx="418.8" cy="716.5" rx="3.6" ry="3.0" fill="none" stroke="#fff" stroke-width="0.8"/><ellipse cx="418.8" cy="716.5" rx="2.1" ry="1.8" fill="none" stroke="#fff" stroke-width="0.9"/><ellipse cx="418.8" cy="716.5" rx="0.8" ry="0.8" fill="#fff"/>
<path d="M473.9 689.7 473 696.6 473.3 702.5 470.4 704.3 468.4 707.3 465.3 709.4 459.9 708.3 456.2 708.3 454.6 704.3 452 702.1 450.9 697.3 450.7 689.7 451.3 682.3 452.3 677.6 454.2 674.5 456.7 672.5 459.9 671.3 465.2 670.7 468.5 671.7 471.1 673.9 472.6 677.7 473.2 682.6Z" fill="#000"/><ellipse cx="462.5" cy="680.2" rx="4.8" ry="5.2" fill="none" stroke="#fff" stroke-width="0.8"/><ellipse cx="462.5" cy="680.2" rx="3.4" ry="3.7" fill="none" stroke="#fff" stroke-width="0.8"/><ellipse cx="462.5" cy="680.2" rx="2.0" ry="2.2" fill="none" stroke="#fff" stroke-width="0.9"/><ellipse cx="462.5" cy="680.2" rx="0.7" ry="0.9" fill="#fff"/><ellipse cx="462.5" cy="699.2" rx="4.8" ry="5.2" fill="none" stroke="#fff" stroke-width="0.8"/><ellipse cx="462.5" cy="699.2" rx="3.4" ry="3.7" fill="none" stroke="#fff" stroke-width="0.8"/><ellipse cx="462.5" cy="699.2" rx="2.0" ry="2.2" fill="none" stroke="#fff" stroke-width="0.9"/><ellipse cx="462.5" cy="699.2" rx="0.7" ry="0.9" fill="#fff"/>
<path d="M484 683.5 484.2 685.8 483.1 687.5 482.1 689.1 481.2 690.8 479.7 691.7 477.9 691.8 476 692.5 474.2 692.0 473.2 690.0 471.3 689.6 470.3 687.9 470.5 685.6 469.9 683.5 470 681.3 471.1 679.6 471.8 677.8 472.7 676.1 474.2 674.8 476.1 675.0 477.9 675.2 479.7 675.3 481.3 676.0 482.4 677.7 483.3 679.3 483.7 681.3Z" fill="none" stroke="#000" stroke-width="0.8"/><path d="M481.7 683.5 482 685.1 481.5 686.4 480.8 687.6 480.2 689.0 478.8 689.1 477.7 689.9 476.3 690.1 475.2 688.9 474.2 688.4 472.9 688.0 472.7 686.3 472.1 685.1 471.8 683.5 472.4 682.0 472.5 680.5 473 679.1 473.9 678.1 475.3 678.2 476.3 677.5 477.6 677.7 478.9 677.6 480 678.3 480.7 679.5 481.5 680.6 481.9 681.9Z" fill="none" stroke="#000" stroke-width="0.8"/>
<path d="M488.3 716.0 487.3 720.5 486.3 723.5 483.6 725.1 480.7 726.5 477.3 728.3 470.5 728.1 466.5 727.2 464.3 725.0 461.2 723.7 461.1 720.3 460.2 716.0 460.5 711.5 460.9 708.1 464.4 707.1 466.3 704.5 470.6 704.2 477.3 703.7 480.9 705.3 484.6 705.9 486.3 708.5 486.6 711.7Z" fill="#000"/><ellipse cx="468.3" cy="716.0" rx="3.8" ry="5.3" fill="none" stroke="#fff" stroke-width="0.8"/><ellipse cx="468.3" cy="716.0" rx="2.7" ry="3.7" fill="none" stroke="#fff" stroke-width="0.8"/><ellipse cx="468.3" cy="716.0" rx="1.6" ry="2.2" fill="none" stroke="#fff" stroke-width="0.9"/><ellipse cx="468.3" cy="716.0" rx="0.6" ry="0.9" fill="#fff"/><ellipse cx="479.4" cy="716.0" rx="3.8" ry="5.3" fill="none" stroke="#fff" stroke-width="0.8"/><ellipse cx="479.4" cy="716.0" rx="2.7" ry="3.7" fill="none" stroke="#fff" stroke-width="0.8"/><ellipse cx="479.4" cy="716.0" rx="1.6" ry="2.2" fill="none" stroke="#fff" stroke-width="0.9"/><ellipse cx="479.4" cy="716.0" rx="0.6" ry="0.9" fill="#fff"/>
<path d="M474 730.5 472 732.1 472 733.8 470.3 735.3 466.9 736.0 463.6 736.6 460.2 737.4 455.8 737.5 452.3 736.7 448.6 736.3 446 735.1 443.8 733.8 442.2 732.3 444.2 730.5 442.6 728.7 445.8 727.6 446.1 725.9 449.4 725.2 452.2 724.2 456 724.1 460 724.0 464.1 723.9 466.8 725.1 469 726.2 470.8 727.5 472.1 728.9Z" fill="none" stroke="#000" stroke-width="0.8"/><path d="M469.1 730.5 468 731.6 467.8 732.8 465.7 733.5 463.9 734.1 462.4 735.3 459.4 735.1 456.5 735.2 454 734.9 451.8 734.3 450.4 733.4 447.6 732.9 447.2 731.7 446.8 730.5 447.8 729.3 448.2 728.2 449.2 727.1 451.9 726.7 453.9 726.1 456.6 726.1 459.6 725.5 462.1 726.0 464.3 726.6 466.9 727.1 467 728.4 468.3 729.3Z" fill="none" stroke="#000" stroke-width="0.8"/><path d="M464.6 730.5 464.8 731.3 464 731.9 462.8 732.3 462.2 733.1 460.5 733.2 458.8 733.2 457.1 733.5 455.7 733.0 453.8 733.1 453.1 732.4 452.3 731.8 451.3 731.3 451.3 730.5 452 729.8 452.6 729.2 452.6 728.4 454 728.0 455.7 728.0 457.1 727.8 458.8 727.9 460.7 727.6 461.7 728.2 463 728.6 463.6 729.2 464.4 729.8Z" fill="none" stroke="#000" stroke-width="0.8"/>
<path d="M480.9 783.2 479.7 787.1 477.3 789.0 476.4 791.5 473 792.7 468.3 792.8 461.4 792.8 457 792.3 454.5 790.6 451.6 789.4 450.7 786.9 449 783.3 449.7 779.4 450.8 776.8 454.5 775.8 457.3 774.4 461.4 773.8 468.1 774.2 472.9 773.9 475.3 775.8 478.6 776.9 479.9 779.4Z" fill="#000"/><ellipse cx="458.8" cy="783.2" rx="4.2" ry="4.4" fill="none" stroke="#fff" stroke-width="0.8"/><ellipse cx="458.8" cy="783.2" rx="2.9" ry="3.1" fill="none" stroke="#fff" stroke-width="0.8"/><ellipse cx="458.8" cy="783.2" rx="1.7" ry="1.8" fill="none" stroke="#fff" stroke-width="0.9"/><ellipse cx="458.8" cy="783.2" rx="0.6" ry="0.8" fill="#fff"/><ellipse cx="470.9" cy="783.2" rx="4.2" ry="4.4" fill="none" stroke="#fff" stroke-width="0.8"/><ellipse cx="470.9" cy="783.2" rx="2.9" ry="3.1" fill="none" stroke="#fff" stroke-width="0.8"/><ellipse cx="470.9" cy="783.2" rx="1.7" ry="1.8" fill="none" stroke="#fff" stroke-width="0.9"/><ellipse cx="470.9" cy="783.2" rx="0.6" ry="0.8" fill="#fff"/>
<path d="M486.2 859.5 484.7 863.8 483.7 866.9 479.9 868.7 476.3 870.8 469.5 871.0 459.8 870.4 452.6 871.0 449.5 868.4 445.7 866.7 444.6 863.7 443.3 859.5 442.5 854.8 444.9 852.0 449 850.3 452.6 848.1 459.5 848.0 469.5 848.0 475.6 848.8 479.1 850.8 483.9 852.0 485.7 855.0Z" fill="#000"/><ellipse cx="453.0" cy="859.5" rx="3.9" ry="5.2" fill="none" stroke="#fff" stroke-width="0.8"/><ellipse cx="453.0" cy="859.5" rx="2.8" ry="3.6" fill="none" stroke="#fff" stroke-width="0.8"/><ellipse cx="453.0" cy="859.5" rx="1.7" ry="2.2" fill="none" stroke="#fff" stroke-width="0.9"/><ellipse cx="453.0" cy="859.5" rx="0.6" ry="0.9" fill="#fff"/><ellipse cx="464.5" cy="859.5" rx="3.9" ry="5.2" fill="none" stroke="#fff" stroke-width="0.8"/><ellipse cx="464.5" cy="859.5" rx="2.8" ry="3.6" fill="none" stroke="#fff" stroke-width="0.8"/><ellipse cx="464.5" cy="859.5" rx="1.7" ry="2.2" fill="none" stroke="#fff" stroke-width="0.9"/><ellipse cx="464.5" cy="859.5" rx="0.6" ry="0.9" fill="#fff"/><ellipse cx="476.0" cy="859.5" rx="3.9" ry="5.2" fill="none" stroke="#fff" stroke-width="0.8"/><ellipse cx="476.0" cy="859.5" rx="2.8" ry="3.6" fill="none" stroke="#fff" stroke-width="0.8"/><ellipse cx="476.0" cy="859.5" rx="1.7" ry="2.2" fill="none" stroke="#fff" stroke-width="0.9"/><ellipse cx="476.0" cy="859.5" rx="0.6" ry="0.9" fill="#fff"/>
<path d="M492.7 859.5 492.5 861.0 492.3 862.5 492.2 864.2 490.9 864.5 490 865.1 489.1 865.8 487.9 865.9 486.8 865.6 485.9 864.9 485 864.1 484.6 862.6 484.1 861.2 484.2 859.5 484 857.8 484.6 856.4 485.1 855.2 486 854.4 486.8 853.3 487.9 853.3 489.1 853.0 490.3 852.9 491 854.3 491.9 855.1 492.6 856.3 492.9 857.8Z" fill="none" stroke="#000" stroke-width="0.8"/><path d="M491.7 859.5 491.8 860.7 491.2 861.6 490.8 862.5 490.3 863.1 489.7 863.7 489 864.4 488.1 864.0 487.3 863.9 486.7 863.2 486.2 862.5 485.5 861.9 485.1 860.8 485.1 859.5 485.5 858.3 485.5 857.1 486.1 856.4 486.6 855.6 487.4 855.5 488 854.5 488.9 854.9 489.6 855.4 490.2 855.9 490.9 856.4 491.2 857.4 491.4 858.4Z" fill="none" stroke="#000" stroke-width="0.8"/>
<path d="M469.5 919.9 467.4 924.9 466.2 928.5 462 930.9 455.2 931.5 448.8 933.6 436.6 933.0 429.3 932.2 423.6 930.7 419.1 928.5 418.8 924.7 416.6 919.9 419.2 915.1 418.6 911.0 424.2 909.3 428.7 907.0 436.6 906.6 448.9 906.0 455.1 908.3 461.2 909.2 464.9 911.6 468.5 914.5Z" fill="#000"/><ellipse cx="432.4" cy="919.9" rx="7.0" ry="5.9" fill="none" stroke="#fff" stroke-width="0.8"/><ellipse cx="432.4" cy="919.9" rx="4.9" ry="4.1" fill="none" stroke="#fff" stroke-width="0.8"/><ellipse cx="432.4" cy="919.9" rx="3.0" ry="2.5" fill="none" stroke="#fff" stroke-width="0.9"/><ellipse cx="432.4" cy="919.9" rx="1.1" ry="1.1" fill="#fff"/><ellipse cx="452.8" cy="919.9" rx="7.0" ry="5.9" fill="none" stroke="#fff" stroke-width="0.8"/><ellipse cx="452.8" cy="919.9" rx="4.9" ry="4.1" fill="none" stroke="#fff" stroke-width="0.8"/><ellipse cx="452.8" cy="919.9" rx="3.0" ry="2.5" fill="none" stroke="#fff" stroke-width="0.9"/><ellipse cx="452.8" cy="919.9" rx="1.1" ry="1.1" fill="#fff"/>
<ellipse cx="447.0" cy="892.0" rx="1.8" ry="1.5" fill="#000"/>
<ellipse cx="447.0" cy="885.0" rx="1.4" ry="1.2" fill="#000"/>
<ellipse cx="444.0" cy="902.0" rx="1.4" ry="1.2" fill="#000"/>
<ellipse cx="466.0" cy="874.0" rx="1.4" ry="1.2" fill="#000"/>
<ellipse cx="466.0" cy="881.0" rx="1.4" ry="1.2" fill="#000"/>
<path d="M712.1 591.5 711.5 595.1 710.4 597.4 709.2 599.7 706.2 600.4 702.6 600.4 697.4 600.3 694.1 600.0 690.7 599.7 689.9 597.2 687.6 595.4 688.4 591.5 688.5 587.9 689.3 585.4 691.3 583.8 694.1 583.1 697.3 582.5 702.7 582.3 705.9 583.1 708.2 584.3 710.7 585.4 712.1 587.7Z" fill="#000"/><ellipse cx="695.2" cy="591.5" rx="3.3" ry="4.3" fill="none" stroke="#fff" stroke-width="0.8"/><ellipse cx="695.2" cy="591.5" rx="2.3" ry="3.0" fill="none" stroke="#fff" stroke-width="0.8"/><ellipse cx="695.2" cy="591.5" rx="1.4" ry="1.8" fill="none" stroke="#fff" stroke-width="0.9"/><ellipse cx="695.2" cy="591.5" rx="0.6" ry="0.8" fill="#fff"/><ellipse cx="704.8" cy="591.5" rx="3.3" ry="4.3" fill="none" stroke="#fff" stroke-width="0.8"/><ellipse cx="704.8" cy="591.5" rx="2.3" ry="3.0" fill="none" stroke="#fff" stroke-width="0.8"/><ellipse cx="704.8" cy="591.5" rx="1.4" ry="1.8" fill="none" stroke="#fff" stroke-width="0.9"/><ellipse cx="704.8" cy="591.5" rx="0.6" ry="0.8" fill="#fff"/>
<path d="M738.8 591.0 738.6 592.7 738 594.2 737.1 595.4 736.4 596.9 735 597.7 733.3 597.6 731.7 597.8 729.9 598.0 728.8 596.6 727.9 595.4 726.2 594.7 726.2 592.8 726.3 591.0 726 589.2 727.2 587.9 727.4 586.1 728.8 585.4 730.1 584.5 731.6 584.0 733.3 584.3 734.9 584.5 736.3 585.2 737.1 586.6 738 587.8 739.3 589.1Z" fill="none" stroke="#000" stroke-width="0.8"/><path d="M736.9 591.0 737.4 592.4 736.7 593.5 735.8 594.2 735.1 595.0 734.2 595.7 733.1 595.9 731.8 596.3 730.8 595.6 729.6 595.5 728.7 594.7 728.1 593.6 728.4 592.2 727.5 591.0 728.2 589.8 728.2 588.5 729.1 587.8 729.6 586.6 730.7 586.0 731.8 585.8 733.1 585.9 734.1 586.6 735 587.2 736.3 587.3 736.8 588.5 736.7 589.8Z" fill="none" stroke="#000" stroke-width="0.8"/><path d="M735.2 591.0 735.1 591.7 735.1 592.5 734.8 593.2 734.2 593.5 733.5 593.8 732.9 594.3 732.1 594.0 731.4 593.9 730.9 593.5 730.5 592.9 729.8 592.6 729.5 591.8 729.8 591.0 729.7 590.2 729.8 589.4 730.2 588.8 730.9 588.6 731.5 588.2 732.1 588.1 732.9 587.8 733.5 588.2 734.2 588.3 734.8 588.8 735.3 589.4 735.5 590.2Z" fill="none" stroke="#000" stroke-width="0.8"/>
<path d="M711.2 670.0 710.8 672.3 709.1 674.0 708.5 676.2 706.1 677.1 703.8 677.9 701.5 679.1 698.4 679.7 695.7 678.8 694 677.0 691.1 676.5 689.8 674.5 688.5 672.5 688.5 670.0 688.7 667.6 689.5 665.3 691.9 664.1 693.1 662.0 695.7 661.1 698.4 660.3 701.5 660.7 704 661.7 706.6 662.4 708.1 664.1 709.5 665.8 710.7 667.7Z" fill="none" stroke="#000" stroke-width="1.0"/><path d="M708.9 670.0 709.4 672.0 708.2 673.6 706.7 674.9 705.6 676.6 703.6 677.5 701.1 676.9 698.7 677.6 696.4 677.4 694.9 675.9 692.6 675.4 691.6 673.7 691.9 671.7 690.7 670.0 691.9 668.2 691.7 666.3 692.9 664.8 694.9 664.1 696.5 662.8 698.9 663.1 701.3 662.0 703.4 663.0 704.9 664.4 707.1 664.8 708 666.5 708.3 668.2Z" fill="none" stroke="#000" stroke-width="1.0"/><path d="M707.7 670.0 706.7 671.4 705.8 672.6 705.3 673.9 704.3 675.0 702.6 675.4 701 675.9 699 676.1 697.5 675.1 695.7 675.0 694.1 674.3 693.2 673.0 693.3 671.4 692.6 670.0 693.4 668.6 694 667.3 695.1 666.4 695.6 664.8 697.2 664.2 699.1 664.3 700.9 664.5 702.8 664.2 704 665.3 705.4 666.0 706 667.4 706.9 668.5Z" fill="none" stroke="#000" stroke-width="1.0"/><path d="M705.5 670.0 705.5 671.2 704.9 672.2 703.9 672.9 703 673.5 702.1 674.3 700.7 674.2 699.3 674.4 697.9 674.3 697.1 673.4 696.3 672.7 695.4 672.0 694.9 671.1 694.6 670.0 694.6 668.8 695 667.8 696 667.1 696.8 666.2 698.2 666.4 699.4 666.1 700.6 666.1 702 665.9 703.2 666.3 704.2 666.9 704.3 668.1 705.4 668.8Z" fill="none" stroke="#000" stroke-width="1.0"/><path d="M703.3 670.0 703.1 670.7 703 671.3 702.5 671.8 702 672.3 701.1 672.3 700.4 672.6 699.6 672.7 698.9 672.3 698.1 672.2 697.7 671.7 697.3 671.2 696.8 670.7 696.6 670.0 696.9 669.3 697.2 668.7 697.6 668.3 698.2 667.9 698.8 667.5 699.5 667.1 700.5 667.2 701.2 667.5 701.9 667.7 702.6 668.1 703 668.7 702.9 669.4Z" fill="none" stroke="#000" stroke-width="1.0"/>
<path d="M749.4 696.5 748.5 700.9 747.3 703.7 745 705.5 742.9 707.8 738.5 707.4 732.2 708.5 728.5 707.2 726.3 705.3 723.1 704.1 722.8 700.8 721.7 696.5 722 691.9 724 689.4 725.2 686.7 728.8 686.2 732.5 685.7 738.5 685.6 742.9 685.2 745.3 687.2 746.6 689.7 748.8 692.0Z" fill="#000"/><ellipse cx="730.1" cy="696.5" rx="3.7" ry="5.2" fill="none" stroke="#fff" stroke-width="0.8"/><ellipse cx="730.1" cy="696.5" rx="2.6" ry="3.6" fill="none" stroke="#fff" stroke-width="0.8"/><ellipse cx="730.1" cy="696.5" rx="1.6" ry="2.2" fill="none" stroke="#fff" stroke-width="0.9"/><ellipse cx="730.1" cy="696.5" rx="0.6" ry="0.9" fill="#fff"/><ellipse cx="740.9" cy="696.5" rx="3.7" ry="5.2" fill="none" stroke="#fff" stroke-width="0.8"/><ellipse cx="740.9" cy="696.5" rx="2.6" ry="3.6" fill="none" stroke="#fff" stroke-width="0.8"/><ellipse cx="740.9" cy="696.5" rx="1.6" ry="2.2" fill="none" stroke="#fff" stroke-width="0.9"/><ellipse cx="740.9" cy="696.5" rx="0.6" ry="0.9" fill="#fff"/>
<path d="M114 517.5 113.9 518.4 113.9 519.3 113.6 520.0 113.2 520.5 112.8 521.1 112.3 521.2 111.7 521.3 111.3 520.5 110.9 520.2 110.5 519.8 110.2 519.3 110 518.4 109.9 517.5 110.2 516.7 110.2 515.8 110.4 514.9 110.7 514.4 111.3 514.3 111.7 514.2 112.3 514.2 112.8 514.2 113.1 514.8 113.6 515.1 113.7 515.9 113.8 516.6Z" fill="none" stroke="#000" stroke-width="0.8"/>
<ellipse cx="346.0" cy="411.0" rx="1.6" ry="1.3" fill="#000"/>
<ellipse cx="334.0" cy="637.0" rx="1.2" ry="1.0" fill="#000"/>
<ellipse cx="335.0" cy="618.0" rx="1.2" ry="1.0" fill="#000"/>
<path d="M731.1 910.5 731 911.2 730.7 911.6 730.6 912.2 730.1 912.5 729.7 912.7 729.3 912.9 728.8 912.8 728.3 912.6 727.8 912.6 727.4 912.3 727.4 911.6 727.2 911.1 726.9 910.5 727.1 909.9 727.2 909.3 727.4 908.7 727.7 908.2 728.3 908.3 728.7 908.1 729.3 907.9 729.8 908.1 730.2 908.4 730.5 908.8 730.8 909.3 730.8 909.9Z" fill="none" stroke="#000" stroke-width="0.8"/>
<text x="311.0" y="661.5" font-size="25" font-weight="bold" fill="#e8231c" style="fill:#e8231c">2</text><ellipse cx="337.0" cy="672.0" rx="15.0" ry="10.5" fill="none" stroke="#e8231c" stroke-width="2.6" stroke-dasharray="5 3" transform="rotate(0 337.0 672.0)"/>
<rect x="13.6" y="377.8" width="809.4" height="634.7" fill="none" stroke="#000" stroke-width="1.6"/>
<path d="M822.3 1012.5v10M811.5 1012.5v6.5M800.7 1012.5v6.5M790.0 1012.5v6.5M779.2 1012.5v6.5M768.4 1012.5v12.5M757.6 1012.5v6.5M746.8 1012.5v6.5M736.1 1012.5v6.5M725.3 1012.5v6.5M714.5 1012.5v10M703.7 1012.5v6.5M692.9 1012.5v6.5M682.2 1012.5v6.5M671.4 1012.5v6.5M660.6 1012.5v12.5M649.8 1012.5v6.5M639.0 1012.5v6.5M628.3 1012.5v6.5M617.5 1012.5v6.5M606.7 1012.5v10M595.9 1012.5v6.5M585.1 1012.5v6.5M574.4 1012.5v6.5M563.6 1012.5v6.5M552.8 1012.5v12.5M542.0 1012.5v6.5M531.2 1012.5v6.5M520.5 1012.5v6.5M509.7 1012.5v6.5M498.9 1012.5v10M488.1 1012.5v6.5M477.3 1012.5v6.5M466.6 1012.5v6.5M455.8 1012.5v6.5M445.0 1012.5v12.5M434.2 1012.5v6.5M423.4 1012.5v6.5M412.7 1012.5v6.5M401.9 1012.5v6.5M391.1 1012.5v10M380.3 1012.5v6.5M369.5 1012.5v6.5M358.8 1012.5v6.5M348.0 1012.5v6.5M337.2 1012.5v12.5M326.4 1012.5v6.5M315.6 1012.5v6.5M304.9 1012.5v6.5M294.1 1012.5v6.5M283.3 1012.5v10M272.5 1012.5v6.5M261.7 1012.5v6.5M251.0 1012.5v6.5M240.2 1012.5v6.5M229.4 1012.5v12.5M218.6 1012.5v6.5M207.8 1012.5v6.5M197.1 1012.5v6.5M186.3 1012.5v6.5M175.5 1012.5v10M164.7 1012.5v6.5M153.9 1012.5v6.5M143.2 1012.5v6.5M132.4 1012.5v6.5M121.6 1012.5v12.5M110.8 1012.5v6.5M100.0 1012.5v6.5M89.3 1012.5v6.5M78.5 1012.5v6.5M67.7 1012.5v10M56.9 1012.5v6.5M46.1 1012.5v6.5M35.4 1012.5v6.5M24.6 1012.5v6.5M823.0 383.6h6.5M823.0 389.3h6.5M823.0 395.1h6.5M823.0 400.9h6.5M823.0 406.6h9.5M823.0 412.4h6.5M823.0 418.2h6.5M823.0 424.0h6.5M823.0 429.7h6.5M823.0 435.5h13M823.0 441.3h6.5M823.0 447.0h6.5M823.0 452.8h6.5M823.0 458.6h6.5M823.0 464.3h9.5M823.0 470.1h6.5M823.0 475.9h6.5M823.0 481.7h6.5M823.0 487.4h6.5M823.0 493.2h13M823.0 499.0h6.5M823.0 504.7h6.5M823.0 510.5h6.5M823.0 516.3h6.5M823.0 522.0h9.5M823.0 527.8h6.5M823.0 533.6h6.5M823.0 539.4h6.5M823.0 545.1h6.5M823.0 550.9h13M823.0 556.7h6.5M823.0 562.4h6.5M823.0 568.2h6.5M823.0 574.0h6.5M823.0 579.7h9.5M823.0 585.5h6.5M823.0 591.3h6.5M823.0 597.1h6.5M823.0 602.8h6.5M823.0 608.6h13M823.0 614.4h6.5M823.0 620.1h6.5M823.0 625.9h6.5M823.0 631.7h6.5M823.0 637.5h9.5M823.0 643.2h6.5M823.0 649.0h6.5M823.0 654.8h6.5M823.0 660.5h6.5M823.0 666.3h13M823.0 672.1h6.5M823.0 677.8h6.5M823.0 683.6h6.5M823.0 689.4h6.5M823.0 695.1h9.5M823.0 700.9h6.5M823.0 706.7h6.5M823.0 712.5h6.5M823.0 718.2h6.5M823.0 724.0h13M823.0 729.8h6.5M823.0 735.5h6.5M823.0 741.3h6.5M823.0 747.1h6.5M823.0 752.8h9.5M823.0 758.6h6.5M823.0 764.4h6.5M823.0 770.2h6.5M823.0 775.9h6.5M823.0 781.7h13M823.0 787.5h6.5M823.0 793.2h6.5M823.0 799.0h6.5M823.0 804.8h6.5M823.0 810.5h9.5M823.0 816.3h6.5M823.0 822.1h6.5M823.0 827.9h6.5M823.0 833.6h6.5M823.0 839.4h13M823.0 845.2h6.5M823.0 850.9h6.5M823.0 856.7h6.5M823.0 862.5h6.5M823.0 868.2h9.5M823.0 874.0h6.5M823.0 879.8h6.5M823.0 885.6h6.5M823.0 891.3h6.5M823.0 897.1h13M823.0 902.9h6.5M823.0 908.6h6.5M823.0 914.4h6.5M823.0 920.2h6.5M823.0 926.0h9.5M823.0 931.7h6.5M823.0 937.5h6.5M823.0 943.3h6.5M823.0 949.0h6.5M823.0 954.8h13M823.0 960.6h6.5M823.0 966.3h6.5M823.0 972.1h6.5M823.0 977.9h6.5M823.0 983.6h9.5M823.0 989.4h6.5M823.0 995.2h6.5M823.0 1001.0h6.5M823.0 1006.7h6.5" stroke="#000" stroke-width="1.3" fill="none"/>
<text x="16.2" y="1046.5" text-anchor="middle" font-size="22">8.7</text>
<text x="121.6" y="1046.5" text-anchor="middle" font-size="22">8.6</text>
<text x="229.4" y="1046.5" text-anchor="middle" font-size="22">8.5</text>
<text x="337.2" y="1046.5" text-anchor="middle" font-size="22">8.4</text>
<text x="445.0" y="1046.5" text-anchor="middle" font-size="22">8.3</text>
<text x="552.8" y="1046.5" text-anchor="middle" font-size="22">8.2</text>
<text x="660.6" y="1046.5" text-anchor="middle" font-size="22">8.1</text>
<text x="768.4" y="1046.5" text-anchor="middle" font-size="22">8.0</text>
<text x="842.6" y="386.0" font-size="22">3.7</text>
<text x="842.6" y="443.7" font-size="22">3.8</text>
<text x="842.6" y="501.4" font-size="22">3.9</text>
<text x="842.6" y="559.1" font-size="22">4.0</text>
<text x="842.6" y="616.8" font-size="22">4.1</text>
<text x="842.6" y="674.5" font-size="22">4.2</text>
<text x="842.6" y="732.2" font-size="22">4.3</text>
<text x="842.6" y="789.9" font-size="22">4.4</text>
<text x="842.6" y="847.6" font-size="22">4.5</text>
<text x="842.6" y="905.3" font-size="22">4.6</text>
<text x="842.6" y="963.0" font-size="22">4.7</text>
<text x="348.5" y="1067.5" font-size="22"><tspan font-size="13" dy="-8">1</tspan><tspan dy="8">H ppm</tspan></text>
<text transform="translate(900.1,705.0) rotate(-90)" font-size="22"><tspan font-size="13" dy="-8">1</tspan><tspan dy="8">H ppm</tspan></text>
<text transform="translate(95.0,955.5) rotate(90)" font-size="18" text-anchor="start">E(+5)</text>
<text transform="translate(123.0,955.5) rotate(90)" font-size="18" text-anchor="start">E(+4)</text>
<text transform="translate(170.6,955.5) rotate(90)" font-size="18" text-anchor="start">D(+8)</text>
<text transform="translate(194.4,955.5) rotate(90)" font-size="18" text-anchor="start">G(+6)</text>
<text transform="translate(214.0,955.5) rotate(90)" font-size="18" text-anchor="start">F(+1)</text>
<text transform="translate(254.6,955.5) rotate(90)" font-size="18" font-weight="bold" text-anchor="start">E(+3)</text>
<text transform="translate(308.3,955.0) rotate(90)" font-size="18" text-anchor="start">Q(-2)</text>
<text transform="translate(330.4,955.0) rotate(90)" font-size="18" font-weight="bold" text-anchor="start">G(-1)</text>
<text transform="translate(350.1,956.0) rotate(90)" font-size="18" text-anchor="start">E(+7)</text>
<text transform="translate(372.8,956.0) rotate(90)" font-size="18" text-anchor="start">E(+9)</text>
<text transform="translate(409.6,957.5) rotate(90)" font-size="18" text-anchor="start">A(-5)</text>
<text transform="translate(429.4,957.5) rotate(90)" font-size="18" text-anchor="start">E(+2)</text>
<text transform="translate(449.1,959.0) rotate(90)" font-size="18" text-anchor="start">E(0)</text>
<text transform="translate(472.7,957.0) rotate(90)" font-size="18" text-anchor="start">E(-3)</text>
<text transform="translate(491.8,957.0) rotate(90)" font-size="18" text-anchor="start">T(-6)</text>
<text transform="translate(513.9,957.0) rotate(90)" font-size="18" text-anchor="start">D(-4)</text>
<text transform="translate(729.5,945.5) rotate(90)" font-size="18" text-anchor="start">A(+10)</text>
<text transform="translate(703.5,951.0) rotate(90)" font-size="18" text-anchor="start">E(0)</text>
<text transform="translate(683.5,940.0) rotate(90)" font-size="18" text-anchor="start">glutamyl</text>
<polyline points="1021.6,889.7 1021.6,952.0" fill="none" stroke="#000" stroke-width="0.9"/>
<polyline points="1042.3,870.0 1042.3,952.0" fill="none" stroke="#000" stroke-width="0.9"/>
<polyline points="1101.5,829.8 1101.5,947.0" fill="none" stroke="#000" stroke-width="0.9"/>
<polyline points="1117.3,820.0 1117.3,942.0" fill="none" stroke="#000" stroke-width="0.9"/>
<polyline points="1121.0,820.0 1121.0,942.0" fill="none" stroke="#000" stroke-width="0.9"/>
<polyline points="1175.2,780.0 1175.2,924.7" fill="none" stroke="#000" stroke-width="0.9"/>
<polyline points="1247.6,726.0 1247.6,898.4 1232.1,906.0" fill="none" stroke="#000" stroke-width="0.9"/>
<polyline points="1252.0,726.0 1252.0,908.4" fill="none" stroke="#000" stroke-width="2.0"/>
<polyline points="1254.6,726.0 1254.6,888.5 1270.8,893.4" fill="none" stroke="#000" stroke-width="0.9"/>
<polyline points="1260.8,726.0 1260.8,877.2 1288.3,883.5" fill="none" stroke="#000" stroke-width="0.9"/>
<polyline points="1335.7,640.0 1335.7,852.3" fill="none" stroke="#000" stroke-width="0.9"/>
<polyline points="1354.5,640.0 1354.5,843.3" fill="none" stroke="#000" stroke-width="2.0"/>
<polyline points="1364.5,640.0 1364.5,820.8 1371.0,838.8" fill="none" stroke="#000" stroke-width="0.9"/>
<polyline points="1377.0,640.0 1377.0,813.3 1393.4,823.0" fill="none" stroke="#777" stroke-width="0.9"/>
<polyline points="1378.6,640.0 1378.6,798.3 1412.2,814.8" fill="none" stroke="#000" stroke-width="0.9"/>
<polyline points="1386.7,640.0 1386.7,788.6 1431.0,802.0" fill="none" stroke="#000" stroke-width="0.9"/>
<polyline points="1614.2,478.0 1614.2,648.5" fill="none" stroke="#000" stroke-width="0.9"/>
<polyline points="1649.0,500.0 1649.0,611.3" fill="none" stroke="#000" stroke-width="0.9"/>
<g transform="rotate(-38 1072.0 840.0)"><path d="M1094.5 840.0 1093.3 841.4 1093.9 843.0 1088.7 843.7 1086.7 845.2 1080.6 845.4 1075.3 846.1 1068.9 845.7 1062.9 845.7 1058.3 844.9 1052.4 844.4 1049.9 843.0 1049.5 841.5 1049.6 840.0 1048.7 838.5 1051.9 837.3 1053.5 835.9 1057.2 834.8 1063 834.4 1068.9 834.2 1075.3 833.9 1081.3 834.2 1086.4 834.9 1090.5 835.9 1093.3 837.1 1094.1 838.5Z" fill="none" stroke="#000" stroke-width="0.8"/><path d="M1091.7 840.0 1090.1 841.2 1091.2 842.6 1086.5 843.2 1083.7 844.2 1079.9 845.0 1074.5 844.6 1069.2 845.2 1065.3 844.2 1060.5 844.1 1056.5 843.5 1053.3 842.5 1053.3 841.2 1051.3 840.0 1052.1 838.7 1054.6 837.6 1055.7 836.4 1061.4 836.2 1064.7 835.4 1069.6 835.5 1074.8 834.8 1079.7 835.2 1083.6 835.9 1088.1 836.4 1089 837.7 1092.8 838.6Z" fill="none" stroke="#000" stroke-width="0.8"/><path d="M1087.7 840.0 1088.1 841.1 1085.5 841.8 1084.2 842.7 1080.9 843.2 1077.7 843.6 1073.9 843.6 1070 843.8 1066.3 843.6 1062.4 843.4 1060.2 842.6 1059.1 841.8 1056.8 841.0 1057.2 840.0 1057.2 839.0 1057.1 838.0 1060.9 837.5 1063.3 836.9 1065.9 836.2 1069.7 835.8 1074.2 835.9 1077.4 836.6 1080.9 836.8 1084.1 837.3 1086.5 838.0 1086.2 839.1Z" fill="none" stroke="#000" stroke-width="0.8"/><path d="M1082.8 840.0 1083.3 840.7 1082.4 841.4 1080.4 841.9 1078.1 842.2 1075.9 842.4 1073.6 843.0 1070.5 842.8 1067.7 842.7 1065.4 842.4 1064.1 841.8 1062 841.4 1060 840.8 1060.6 840.0 1060.5 839.2 1061.9 838.6 1063.6 838.1 1065.9 837.8 1067.7 837.3 1070.5 837.3 1073.5 837.3 1076.3 837.3 1078.7 837.6 1080.4 838.1 1081.8 838.7 1082.5 839.3Z" fill="none" stroke="#000" stroke-width="0.8"/><path d="M1078.9 840.0 1078.6 840.4 1077.9 840.8 1077 841.1 1076.3 841.5 1074.5 841.6 1072.9 841.6 1071.1 841.7 1069.4 841.7 1067.6 841.6 1066.2 841.3 1066.2 840.8 1065.1 840.5 1065 840.0 1064.7 839.5 1065.4 839.1 1067 838.9 1068.2 838.6 1069.3 838.3 1071 838.1 1072.9 838.3 1074.6 838.4 1075.8 838.6 1077.6 838.8 1078.6 839.1 1078.7 839.6Z" fill="none" stroke="#000" stroke-width="0.8"/></g>
<g transform="rotate(-38 1152.0 805.0)"><path d="M1172.1 805.0 1171.2 806.5 1171.3 808.1 1166.1 808.8 1163.6 809.9 1160 811.0 1154.5 810.5 1149.1 811.3 1143.9 811.1 1140.1 810.1 1137.8 808.8 1133.9 807.9 1134 806.4 1130.9 805.0 1131.2 803.4 1134.5 802.1 1137.2 801.0 1139.5 799.7 1144.8 799.6 1149.4 799.2 1154.6 799.3 1159.7 799.2 1164.7 799.6 1166.2 801.2 1170.3 802.0 1172.8 803.3Z" fill="none" stroke="#000" stroke-width="0.8"/><path d="M1167.1 805.0 1168.1 806.3 1166.6 807.4 1164.1 808.2 1161.9 809.2 1158.2 809.7 1154.3 810.2 1150 809.5 1145.8 809.7 1141.7 809.4 1140.3 808.1 1136.2 807.6 1137 806.2 1136.1 805.0 1135.4 803.7 1136.1 802.4 1138.5 801.4 1143.1 801.2 1145.9 800.4 1149.8 800.1 1154.1 800.3 1158.1 800.4 1162.1 800.7 1164.2 801.7 1166.9 802.6 1168.7 803.7Z" fill="none" stroke="#000" stroke-width="0.8"/><path d="M1164.7 805.0 1165 806.0 1162.6 806.7 1162 807.7 1159.9 808.4 1156.9 808.7 1153.7 808.8 1150.3 808.8 1147.1 808.7 1144.7 808.1 1141.7 807.8 1141.3 806.7 1138.6 806.1 1139.6 805.0 1138.5 803.9 1141.1 803.2 1142.2 802.4 1144.2 801.7 1147.2 801.4 1150.1 800.8 1153.9 800.9 1156.9 801.3 1159.7 801.7 1161.1 802.6 1164.3 803.0 1163.9 804.1Z" fill="none" stroke="#000" stroke-width="0.8"/><path d="M1160.7 805.0 1160.6 805.7 1159.9 806.3 1158.7 806.8 1157.3 807.3 1155.4 807.5 1153.2 807.7 1150.7 807.9 1148.7 807.5 1146.7 807.3 1145 806.9 1143.8 806.3 1142.3 805.8 1142.5 805.0 1143 804.3 1143.2 803.6 1144.9 803.1 1146.6 802.7 1148.6 802.4 1150.8 802.4 1153.4 802.0 1155.6 802.3 1157.4 802.7 1158.6 803.2 1160.3 803.6 1161.3 804.3Z" fill="none" stroke="#000" stroke-width="0.8"/><path d="M1157.4 805.0 1157.9 805.5 1157.5 805.9 1156.5 806.2 1155.4 806.4 1154.4 806.8 1152.7 806.7 1151.2 806.8 1149.9 806.5 1148.6 806.4 1147.3 806.3 1146.4 805.9 1145.9 805.5 1145.9 805.0 1146.4 804.6 1147.1 804.2 1147.5 803.8 1148.5 803.5 1150 803.5 1151.2 803.2 1152.8 803.3 1154.4 803.2 1155.4 803.6 1156.1 803.9 1157.4 804.1 1158.2 804.5Z" fill="none" stroke="#000" stroke-width="0.8"/></g>
<g transform="rotate(-38 1146.0 788.0)"><path d="M1167.8 788.0 1168.3 789.6 1166.8 791.1 1163 792.1 1159.1 793.1 1154.3 793.7 1148.9 793.9 1143.1 793.9 1137.5 793.8 1133.6 792.8 1128.1 792.3 1128.1 790.7 1123 789.7 1123.1 788.0 1124.3 786.4 1126.7 785.1 1130.4 784.2 1133.8 783.3 1138.1 782.6 1143.1 782.2 1148.8 782.4 1154.2 782.4 1159.3 782.8 1161.9 784.1 1166.8 784.9 1167.2 786.5Z" fill="none" stroke="#000" stroke-width="0.8"/><path d="M1163.6 788.0 1162.1 789.2 1163.2 790.5 1159.5 791.3 1157.3 792.4 1153.4 793.1 1148.3 792.6 1143.4 793.3 1139.8 792.2 1136.1 791.8 1132.4 791.3 1129.8 790.4 1129.3 789.2 1126.6 788.0 1127.8 786.7 1129.8 785.6 1131.6 784.5 1135.7 784.0 1138.8 783.1 1143.8 783.5 1148.4 783.2 1152.9 783.3 1156 784.1 1159.9 784.6 1161.6 785.7 1162.2 786.8Z" fill="none" stroke="#000" stroke-width="0.8"/><path d="M1159 788.0 1161 789.1 1158.9 789.9 1157.2 790.7 1154.8 791.4 1151.5 791.7 1147.8 791.7 1144.2 791.7 1140.8 791.6 1137.2 791.4 1135.9 790.5 1133.9 789.8 1133.1 788.9 1132.1 788.0 1131.1 786.9 1132.8 786.0 1135.6 785.5 1137.3 784.6 1140.8 784.4 1144 784.0 1148.1 783.8 1151.2 784.4 1153.8 785.0 1156.6 785.4 1157.8 786.3 1160.3 787.0Z" fill="none" stroke="#000" stroke-width="0.8"/><path d="M1155.9 788.0 1155.4 788.7 1155.7 789.4 1153.3 789.8 1151.5 790.1 1149.9 790.7 1147.3 790.6 1144.6 790.8 1142.1 790.7 1139.9 790.4 1137.8 790.0 1137.5 789.3 1136.6 788.7 1135.9 788.0 1135.4 787.2 1136.4 786.6 1138.3 786.1 1139.8 785.6 1142.1 785.3 1144.5 784.9 1147.5 785.0 1150 785.2 1152.6 785.4 1154.4 785.9 1154.9 786.7 1155.7 787.3Z" fill="none" stroke="#000" stroke-width="0.8"/><path d="M1152 788.0 1151.8 788.4 1151.5 788.8 1150.8 789.2 1149.5 789.4 1148.3 789.6 1146.9 789.7 1145.2 789.6 1143.6 789.7 1142.3 789.4 1141.1 789.2 1140 788.9 1139.8 788.4 1139.7 788.0 1139.2 787.5 1139.7 787.1 1140.8 786.7 1142.4 786.6 1143.5 786.3 1145.1 786.2 1146.9 786.3 1148.5 786.3 1149.8 786.5 1151.2 786.7 1151.8 787.1 1152.8 787.5Z" fill="none" stroke="#000" stroke-width="0.8"/></g>
<g transform="rotate(-38 1200.0 762.0)"><path d="M1219.5 762.0 1220.7 763.9 1217 765.2 1216.3 767.1 1212.5 768.2 1207.8 768.8 1202.7 768.9 1197.5 768.6 1192 769.0 1187.4 768.3 1183.9 767.0 1182.5 765.3 1180.9 763.8 1181.5 762.0 1181.4 760.3 1180.9 758.4 1186.1 757.7 1187.4 755.7 1191.9 754.9 1197.4 755.3 1202.5 755.6 1207.5 755.4 1212.6 755.7 1216.2 757.0 1218.5 758.5 1218.9 760.2Z" fill="none" stroke="#000" stroke-width="0.8"/><path d="M1216.7 762.0 1217.9 763.7 1215.1 764.9 1212.9 766.0 1209.3 766.6 1206.9 768.1 1202.1 767.5 1197.7 768.0 1193.7 767.5 1190.4 766.8 1187 766.1 1184.7 764.9 1184.7 763.4 1184.4 762.0 1184.9 760.6 1185.7 759.3 1187.6 758.1 1189.5 756.8 1193.1 756.0 1197.7 756.0 1202.2 756.2 1206.5 756.3 1209.2 757.4 1213 757.9 1216.4 758.9 1215.4 760.6Z" fill="none" stroke="#000" stroke-width="0.8"/><path d="M1213 762.0 1214.3 763.3 1212.1 764.3 1210.6 765.3 1207.7 765.8 1205.1 766.5 1201.8 766.7 1198 767.2 1194.3 767.0 1191.5 766.2 1189.1 765.4 1187.1 764.5 1185.2 763.4 1184.7 762.0 1185.4 760.7 1187.6 759.6 1189.4 758.7 1191.4 757.7 1195 757.6 1198 756.7 1201.8 757.3 1205.4 757.3 1208.4 757.8 1211.6 758.4 1211.7 759.8 1214.4 760.7Z" fill="none" stroke="#000" stroke-width="0.8"/><path d="M1211.1 762.0 1210.3 763.0 1210.7 764.0 1208.2 764.6 1206.3 765.1 1204.3 765.8 1201.5 765.8 1198.6 765.8 1195.9 765.6 1193.8 765.1 1191.3 764.7 1189.5 764.0 1188.9 763.0 1188 762.0 1188.7 761.0 1189.1 759.9 1191.1 759.2 1193.1 758.6 1196.1 758.6 1198.6 758.4 1201.6 757.9 1203.8 758.6 1206.7 758.7 1207.9 759.5 1210.1 760.1 1210.5 761.0Z" fill="none" stroke="#000" stroke-width="0.8"/><path d="M1207.8 762.0 1208.7 762.8 1207.4 763.4 1206 763.9 1204.7 764.4 1203.4 765.0 1201 764.7 1199 764.7 1196.8 764.8 1195 764.5 1193.4 764.1 1192.4 763.4 1192.5 762.7 1191.2 762.0 1192 761.3 1192.2 760.5 1193.6 760.0 1195.5 759.8 1196.9 759.2 1198.8 758.9 1201.1 759.2 1203.3 759.1 1204.6 759.7 1206.8 759.9 1207.2 760.6 1207.7 761.3Z" fill="none" stroke="#000" stroke-width="0.8"/><path d="M1205.2 762.0 1204.9 762.5 1204.3 762.8 1204.3 763.3 1203.1 763.6 1202 763.7 1200.7 763.8 1199.3 763.8 1198.2 763.6 1197 763.5 1196.1 763.2 1194.8 763.0 1194.4 762.5 1194.2 762.0 1195.2 761.6 1195.6 761.2 1196 760.7 1196.7 760.4 1198.1 760.3 1199.3 760.2 1200.7 760.2 1201.9 760.4 1202.9 760.6 1203.7 760.8 1205 761.0 1204.9 761.5Z" fill="none" stroke="#000" stroke-width="0.8"/></g>
<g transform="rotate(-38 1210.0 746.0)"><path d="M1233.1 746.0 1232.3 747.4 1233.4 749.0 1230.3 750.3 1223.5 750.6 1218.7 751.2 1213.2 751.7 1206.7 751.8 1200.8 751.5 1195.4 751.0 1190.3 750.2 1189 748.7 1185.2 747.6 1183.3 746.0 1187.1 744.5 1186.1 742.9 1190.9 741.9 1196.3 741.3 1200.5 740.3 1206.6 739.9 1213.2 740.4 1219.2 740.5 1225 740.9 1229.4 741.8 1231.9 743.1 1234.4 744.5Z" fill="none" stroke="#000" stroke-width="0.8"/><path d="M1229.2 746.0 1229.2 747.2 1226.7 748.2 1226.4 749.5 1222.6 750.3 1217.8 750.7 1212.9 751.1 1207.4 750.6 1202.3 750.6 1197.6 750.2 1193.6 749.5 1192.7 748.2 1189.3 747.3 1188.1 746.0 1188.4 744.6 1191.9 743.7 1194.1 742.6 1199 742.2 1202.3 741.3 1207.4 741.3 1213 740.7 1217.3 741.6 1221.2 742.2 1225.4 742.7 1228 743.7 1230.9 744.7Z" fill="none" stroke="#000" stroke-width="0.8"/><path d="M1227 746.0 1224.6 746.9 1225.5 748.0 1223.3 748.8 1218.7 749.0 1216 749.6 1212.1 749.7 1207.8 749.9 1204 749.6 1201.2 749.0 1198.1 748.5 1195 748.0 1193.2 747.1 1193.8 746.0 1194.1 745.0 1195.4 744.1 1197.9 743.4 1200.7 742.8 1203.6 742.2 1208 742.5 1212.2 742.1 1215.6 742.6 1219.6 742.7 1222.3 743.4 1225.3 744.0 1224.9 745.1Z" fill="none" stroke="#000" stroke-width="0.8"/><path d="M1220.9 746.0 1221.3 746.7 1221.5 747.5 1218.4 747.8 1216.6 748.3 1214.8 748.9 1211.5 748.6 1208.4 748.8 1205.8 748.6 1203.1 748.4 1200.7 748.0 1199.7 747.3 1199.4 746.7 1198.8 746.0 1198.9 745.3 1198.8 744.5 1200.4 743.9 1202.7 743.5 1205.3 743.2 1208.4 743.2 1211.7 743.0 1214.1 743.5 1217.5 743.4 1218.6 744.2 1221.2 744.5 1222.3 745.2Z" fill="none" stroke="#000" stroke-width="0.8"/><path d="M1217.2 746.0 1216.6 746.4 1216.8 746.9 1215.5 747.2 1214.2 747.4 1212.5 747.5 1211.1 747.9 1209.1 747.6 1207.1 747.7 1205.7 747.5 1204.1 747.3 1204 746.8 1203.1 746.4 1202.3 746.0 1203.1 745.6 1203.1 745.1 1204.8 744.9 1205.7 744.5 1207.4 744.4 1209 744.2 1211 744.2 1212.7 744.4 1214.4 744.5 1215.5 744.8 1217 745.1 1217.5 745.5Z" fill="none" stroke="#000" stroke-width="0.8"/></g>
<g transform="rotate(-38 1290.0 702.0)"><path d="M1312.9 702.0 1310.5 704.2 1310.9 706.6 1305.9 707.8 1303.1 709.6 1298.4 710.7 1292.9 710.8 1286.9 711.4 1282 710.2 1277.5 709.3 1271.9 708.6 1270.6 706.3 1268.7 704.3 1269.2 702.0 1268.4 699.7 1270.2 697.6 1272.8 695.7 1277.3 694.6 1281.1 692.8 1286.8 692.4 1293.1 692.7 1297.6 694.2 1303 694.5 1305.3 696.4 1310.3 697.5 1312.3 699.6Z" fill="none" stroke="#000" stroke-width="0.8"/><path d="M1310.3 702.0 1308.7 704.0 1307.2 705.8 1305.3 707.6 1300.4 708.1 1297.7 709.9 1292.5 709.5 1287.2 710.5 1283.4 708.7 1278 709.0 1274.5 707.6 1273.3 705.7 1271.3 704.0 1269.2 702.0 1270.5 699.9 1274.1 698.5 1275.5 696.7 1279.1 695.7 1283.2 695.0 1287.3 693.8 1292.7 693.9 1297.7 694.1 1301 695.6 1304 696.9 1308.4 697.9 1308.4 700.0Z" fill="none" stroke="#000" stroke-width="0.8"/><path d="M1307.9 702.0 1306.2 703.7 1304.1 705.1 1301.8 706.3 1299.1 707.3 1295.6 707.8 1292.1 708.4 1287.8 708.7 1283.9 708.3 1279.6 708.0 1276.7 706.9 1276.2 705.1 1273.1 703.8 1274.4 702.0 1274.2 700.3 1275.1 698.7 1278.5 697.8 1280.3 696.3 1284.2 696.0 1287.7 695.1 1292.2 695.4 1295.9 695.9 1299.5 696.5 1302 697.6 1303.7 699.0 1306.3 700.2Z" fill="none" stroke="#000" stroke-width="0.8"/><path d="M1304.5 702.0 1302.4 703.3 1302.1 704.7 1301 706.0 1297.8 706.5 1295.2 707.3 1291.7 707.1 1288.1 707.7 1285 707.2 1281.5 707.0 1279 706.0 1277.4 704.8 1276.6 703.5 1276.6 702.0 1276.2 700.5 1277.3 699.2 1280.1 698.4 1282 697.4 1284.5 696.4 1288.3 696.8 1291.8 696.4 1294.8 697.1 1297.4 697.7 1299.9 698.4 1303.1 699.1 1303.9 700.5Z" fill="none" stroke="#000" stroke-width="0.8"/><path d="M1300.5 702.0 1301.1 703.2 1299.8 704.2 1298 704.9 1295.9 705.4 1294.3 706.5 1291.4 706.4 1288.6 706.4 1286.2 705.9 1283.5 705.8 1281.7 705.0 1281.1 704.0 1279.4 703.2 1278.9 702.0 1278.9 700.8 1279.9 699.8 1281.5 698.9 1283.9 698.5 1286.2 698.1 1288.6 697.7 1291.5 697.5 1294.2 697.7 1296.6 698.1 1298.2 699.0 1299.2 700.0 1301.3 700.8Z" fill="none" stroke="#000" stroke-width="0.8"/><path d="M1298.7 702.0 1297.4 702.8 1296.7 703.5 1296.6 704.4 1295.1 705.0 1293.2 705.3 1291.2 705.5 1288.8 705.6 1287 705.1 1285.4 704.7 1283.7 704.3 1283.3 703.5 1281.6 702.9 1281.9 702.0 1281.6 701.1 1282.6 700.4 1284.1 699.8 1285.1 699.1 1287.1 699.0 1288.9 698.6 1291 698.9 1292.9 699.1 1295.1 699.1 1296.6 699.6 1297.6 700.3 1298.4 701.1Z" fill="none" stroke="#000" stroke-width="0.8"/><path d="M1295.1 702.0 1295.3 702.6 1294.6 703.0 1293.9 703.4 1293.3 703.9 1291.9 703.9 1290.7 704.0 1289.3 704.0 1287.8 704.3 1286.9 703.8 1285.9 703.5 1285.3 703.0 1284.7 702.6 1284.9 702.0 1285.1 701.5 1285.2 700.9 1286.1 700.6 1286.6 700.0 1287.8 699.8 1289.2 699.6 1290.8 699.7 1292 699.9 1293 700.3 1294.2 700.5 1295 700.9 1294.9 701.5Z" fill="none" stroke="#000" stroke-width="0.8"/></g>
<g transform="rotate(-38 1226.0 732.0)"><path d="M1242.3 732.0 1242.3 734.2 1239.6 735.7 1237.6 737.2 1235.1 738.5 1232.3 739.9 1228.1 739.7 1223.9 739.9 1220.5 738.9 1217.1 738.3 1214.6 737.1 1211.8 735.9 1210.9 734.0 1208.7 732.0 1209.9 729.9 1210.6 727.8 1213.1 726.3 1217.1 725.7 1220.1 724.6 1224 724.4 1228.1 724.1 1232.4 723.9 1234.8 725.8 1237.6 726.8 1240 728.2 1242.3 729.8Z" fill="none" stroke="#000" stroke-width="0.8"/><path d="M1238.8 732.0 1238.8 733.7 1239.2 735.6 1236.9 736.9 1233.4 737.2 1230.8 738.1 1227.9 739.0 1224 739.3 1221.2 738.1 1218.5 737.4 1216.4 736.3 1213.8 735.3 1212.4 733.8 1212.5 732.0 1213.3 730.3 1214.2 728.8 1215.8 727.5 1218.1 726.4 1221.3 726.1 1224.2 725.3 1227.9 724.8 1231.5 725.1 1234.6 725.9 1236.5 727.3 1238.7 728.6 1239 730.3Z" fill="none" stroke="#000" stroke-width="0.8"/><path d="M1236.4 732.0 1236.4 733.4 1235.8 734.7 1235.2 736.1 1233 737.0 1230.5 737.6 1227.6 738.0 1224.4 737.9 1221.7 737.4 1219.5 736.6 1218.1 735.5 1216.4 734.6 1215.4 733.4 1214.2 732.0 1216 730.7 1215.3 729.1 1218 728.4 1219.3 727.3 1221.8 726.8 1224.4 726.2 1227.5 726.5 1230 726.9 1232.1 727.7 1234.3 728.3 1237 729.0 1236.6 730.6Z" fill="none" stroke="#000" stroke-width="0.8"/><path d="M1235.1 732.0 1235.3 733.2 1234.7 734.4 1232.3 734.8 1231.7 736.0 1229.6 736.5 1227.2 736.4 1224.7 736.7 1222.6 736.3 1221.1 735.5 1219.3 735.0 1218 734.2 1216.5 733.3 1216.5 732.0 1217.3 730.8 1217.4 729.7 1218.8 728.8 1221.2 728.6 1222.8 728.0 1224.8 727.5 1227.2 727.5 1229.5 727.6 1231 728.4 1233.4 728.7 1233.8 729.9 1234.1 730.9Z" fill="none" stroke="#000" stroke-width="0.8"/><path d="M1232.7 732.0 1233 732.9 1231.8 733.6 1231.4 734.4 1230.2 735.0 1228.4 735.1 1226.9 735.4 1225.1 735.4 1223.4 735.2 1222.4 734.6 1220.9 734.3 1219.9 733.6 1219.6 732.8 1219.2 732.0 1219 731.1 1219.8 730.3 1220.6 729.6 1222.2 729.3 1223.7 729.1 1225.1 728.7 1226.9 728.6 1228.7 728.6 1229.9 729.2 1230.7 729.9 1232 730.4 1232.1 731.2Z" fill="none" stroke="#000" stroke-width="0.8"/><path d="M1230 732.0 1230 732.5 1229.7 733.0 1229.4 733.5 1228.3 733.6 1227.6 734.0 1226.5 734.0 1225.4 734.1 1224.4 734.0 1223.4 733.9 1222.6 733.5 1222.1 733.1 1222.1 732.5 1221.4 732.0 1221.9 731.5 1222.2 731.0 1222.9 730.6 1223.7 730.4 1224.3 729.9 1225.5 730.0 1226.6 729.8 1227.6 730.0 1228.4 730.3 1229.5 730.5 1229.9 730.9 1229.9 731.5Z" fill="none" stroke="#000" stroke-width="0.8"/></g>
<g transform="rotate(-38 1318.0 667.0)"><path d="M1348 667.0 1346.2 669.2 1343.1 671.1 1342.4 673.5 1335.7 674.5 1329.3 675.5 1322.1 676.2 1314.3 675.2 1307.6 674.8 1299.9 674.7 1293.2 673.6 1292.9 671.1 1286.9 669.5 1289.3 667.0 1288.9 664.7 1290.9 662.6 1296.7 661.3 1300.5 659.5 1307 658.7 1313.9 657.9 1322.4 657.3 1328.2 659.3 1335.7 659.5 1342.3 660.5 1343 662.9 1346.8 664.7Z" fill="none" stroke="#000" stroke-width="0.8"/><path d="M1346.2 667.0 1342.3 668.9 1341.7 670.9 1339.3 672.7 1333.8 673.7 1328.6 675.0 1321.5 674.7 1314.2 675.3 1307.6 674.8 1301.5 674.1 1299.7 671.9 1295.2 670.7 1290.5 669.2 1291 667.0 1293.6 665.1 1296.3 663.5 1297.4 661.5 1302.8 660.5 1307.8 659.3 1314.2 658.5 1321.7 658.8 1327 660.2 1332.5 660.8 1336.6 662.0 1343.3 662.9 1343.8 665.0Z" fill="none" stroke="#000" stroke-width="0.8"/><path d="M1339.5 667.0 1340.8 668.8 1339.8 670.5 1336.1 671.8 1332.1 673.0 1326.3 673.2 1321.2 674.1 1315.2 673.2 1309.4 673.5 1304.8 672.6 1302 671.3 1299.1 670.1 1295.2 668.8 1295.4 667.0 1297.3 665.4 1299.4 664.0 1300.3 662.3 1304.7 661.3 1309.4 660.5 1315.1 660.5 1321.1 660.2 1326.1 660.9 1332 661.0 1335.6 662.3 1336.6 664.0 1339.8 665.3Z" fill="none" stroke="#000" stroke-width="0.8"/><path d="M1335 667.0 1336.4 668.5 1333.9 669.6 1331.6 670.6 1328.2 671.3 1324.4 671.8 1320.7 673.0 1315.6 672.3 1311 672.3 1306.7 671.8 1303.5 670.9 1302.3 669.5 1298.6 668.5 1299 667.0 1300 665.6 1301.6 664.3 1303.9 663.2 1307.5 662.5 1311.4 662.0 1315.6 661.6 1320.6 661.3 1324.4 662.1 1329.8 662.0 1332.4 663.2 1334.3 664.3 1334.6 665.7Z" fill="none" stroke="#000" stroke-width="0.8"/><path d="M1332.6 667.0 1333.8 668.3 1332.4 669.3 1329.3 670.0 1326.1 670.5 1323.7 671.3 1320 671.5 1316.1 671.2 1312.2 671.4 1309.4 670.7 1306.9 670.0 1304.7 669.2 1302.3 668.2 1303.7 667.0 1303.3 665.8 1304.1 664.7 1306.7 664.0 1310 663.6 1312.8 663.1 1315.9 662.4 1319.8 662.9 1323.3 663.0 1326.1 663.6 1328.4 664.2 1330.9 664.9 1333.3 665.8Z" fill="none" stroke="#000" stroke-width="0.8"/><path d="M1330.1 667.0 1329.1 667.9 1327.1 668.5 1326.6 669.3 1324.1 669.6 1321.8 669.9 1319.4 670.1 1316.6 670.1 1313.7 670.2 1311.5 669.8 1310 669.1 1307.9 668.6 1307.6 667.8 1307.6 667.0 1307 666.1 1307.4 665.3 1310 664.9 1311.4 664.2 1313.6 663.7 1316.6 663.9 1319.4 663.8 1322 664.0 1324.9 664.1 1325.7 664.9 1327.9 665.4 1328.1 666.2Z" fill="none" stroke="#000" stroke-width="0.8"/><path d="M1325.3 667.0 1325 667.6 1324 668.0 1324.1 668.6 1322.6 668.9 1321 669.2 1319 669.2 1316.9 669.4 1315.4 669.0 1313.7 668.8 1312.3 668.5 1311.1 668.1 1310.9 667.6 1311.2 667.0 1311 666.4 1311.9 666.0 1312.3 665.5 1314 665.3 1315.1 664.8 1317 664.7 1318.9 664.9 1320.5 665.1 1322.2 665.2 1323.8 665.5 1324.4 666.0 1325.7 666.4Z" fill="none" stroke="#000" stroke-width="0.8"/></g>
<g transform="rotate(-38 1408.0 598.0)"><path d="M1421 598.0 1420.6 599.7 1419.6 601.1 1419.5 603.1 1415.5 603.3 1413.6 605.0 1409.7 604.4 1406.1 604.9 1403.1 604.1 1399.3 604.2 1397.5 602.7 1395.9 601.3 1395.3 599.7 1394.6 598.0 1394.1 596.2 1394.8 594.4 1396.6 592.9 1399.3 591.8 1402.5 591.0 1406.2 591.4 1410 590.7 1412.8 591.9 1416.5 591.9 1418.9 593.2 1419.4 594.9 1421.6 596.2Z" fill="none" stroke="#000" stroke-width="0.8"/><path d="M1418.8 598.0 1419.5 599.5 1419 601.0 1416.2 601.6 1415.3 603.2 1412.6 603.8 1409.5 603.6 1406.6 603.4 1403.4 603.7 1401.5 602.6 1398.9 602.0 1397.1 601.0 1397.2 599.4 1396.3 598.0 1395.8 596.4 1398.5 595.4 1399.8 594.4 1401.2 593.2 1403.9 592.8 1406.6 592.6 1409.7 591.8 1411.9 593.1 1414.5 593.4 1416.2 594.4 1417.4 595.4 1418.7 596.6Z" fill="none" stroke="#000" stroke-width="0.8"/><path d="M1416.5 598.0 1416.1 599.1 1416.1 600.2 1414.8 601.0 1413.2 601.7 1411.3 602.2 1409.2 602.3 1406.8 602.6 1404.4 602.5 1402.6 601.8 1401.5 600.9 1400.5 600.0 1398.9 599.2 1398.7 598.0 1398.7 596.8 1400.6 596.0 1401.3 595.0 1402.9 594.4 1404.7 593.9 1406.8 593.7 1409.2 593.7 1411.7 593.4 1413.1 594.4 1415 594.9 1415.8 595.9 1416.7 596.8Z" fill="none" stroke="#000" stroke-width="0.8"/><path d="M1414.3 598.0 1414.8 598.9 1413.9 599.6 1413 600.2 1412 600.8 1410.6 601.3 1408.9 601.5 1407.1 601.3 1405.3 601.4 1404.1 600.8 1402.5 600.4 1402.3 599.6 1401.2 598.9 1401.6 598.0 1401.6 597.2 1401.9 596.3 1403.4 595.9 1404.3 595.4 1405.3 594.6 1407.1 594.6 1408.9 594.6 1410.3 595.2 1411.9 595.3 1413.4 595.6 1414.2 596.3 1414.1 597.2Z" fill="none" stroke="#000" stroke-width="0.8"/><path d="M1412.3 598.0 1412.2 598.6 1411.9 599.1 1411 599.3 1410.4 599.7 1409.5 599.9 1408.5 600.0 1407.5 600.0 1406.6 599.8 1405.5 599.8 1404.7 599.5 1404.6 598.9 1404.1 598.5 1403.6 598.0 1403.6 597.4 1404 596.9 1404.8 596.6 1405.7 596.4 1406.6 596.2 1407.4 595.9 1408.6 595.8 1409.5 596.1 1410.6 596.1 1411.4 596.5 1411.6 597.0 1411.8 597.5Z" fill="none" stroke="#000" stroke-width="0.8"/></g>
<g transform="rotate(-38 1115.0 818.0)"><path d="M1135.5 818.0 1136.2 820.0 1134.9 821.9 1130.5 823.0 1128.3 824.9 1123.9 826.2 1117.9 825.9 1112.2 825.6 1107 825.3 1101.8 824.8 1098.2 823.4 1094.2 822.1 1092.3 820.2 1094.2 818.0 1094.4 816.0 1093.9 813.8 1097.5 812.3 1101.9 811.2 1106.7 810.4 1111.8 809.3 1118 809.9 1123.8 810.0 1127.7 811.4 1131.5 812.6 1134.7 814.1 1136.3 816.0Z" fill="none" stroke="#000" stroke-width="0.8"/><path d="M1134.2 818.0 1133.2 819.7 1131.4 821.2 1129.7 822.8 1125.7 823.5 1121.8 824.2 1117.7 825.3 1112.3 825.3 1107.6 824.8 1104.3 823.6 1101.7 822.3 1099.6 821.0 1096.9 819.7 1096.8 818.0 1096.9 816.3 1099.3 814.9 1101.4 813.6 1103.5 812.1 1108.2 811.8 1112.7 811.8 1117.3 811.8 1121.9 811.7 1125.8 812.4 1129.1 813.4 1131.1 814.8 1131.8 816.4Z" fill="none" stroke="#000" stroke-width="0.8"/><path d="M1129.5 818.0 1129.2 819.4 1128.4 820.6 1126 821.6 1123.8 822.6 1120.3 822.9 1117.2 823.8 1113 823.4 1108.7 823.8 1105.7 822.8 1103.9 821.6 1101.3 820.7 1100.4 819.4 1098.5 818.0 1100.5 816.6 1101.1 815.3 1102.7 814.0 1105.7 813.2 1108.8 812.3 1112.8 812.1 1117.2 812.0 1120.5 813.0 1124.7 813.0 1127.4 814.0 1129.6 815.1 1130.1 816.6Z" fill="none" stroke="#000" stroke-width="0.8"/><path d="M1126.3 818.0 1126.1 819.1 1126.2 820.2 1124.5 821.1 1121.8 821.5 1119.6 822.2 1116.6 822.2 1113.4 822.4 1110 822.6 1107.3 822.0 1106 820.9 1103.8 820.2 1103.8 819.1 1101.9 818.0 1102.8 816.8 1104.9 816.0 1104.8 814.7 1108.2 814.5 1110.1 813.5 1113.4 813.7 1116.5 813.9 1119.9 813.6 1122.1 814.3 1124.9 814.8 1126 815.8 1126.8 816.9Z" fill="none" stroke="#000" stroke-width="0.8"/><path d="M1124 818.0 1123.5 818.8 1122.8 819.5 1121.5 820.1 1120.6 820.9 1118.3 821.0 1116.2 821.3 1113.7 821.5 1111.3 821.3 1109.2 821.0 1108.1 820.2 1106.9 819.6 1106.4 818.8 1105.3 818.0 1105.4 817.1 1106.6 816.3 1107.5 815.6 1109.3 815.0 1111.6 814.9 1113.7 814.5 1116.2 814.9 1118.3 815.0 1120.7 815.1 1121.9 815.8 1123.1 816.4 1123.9 817.1Z" fill="none" stroke="#000" stroke-width="0.8"/><path d="M1120.5 818.0 1120.8 818.6 1120 819.0 1119.1 819.3 1118.5 819.8 1117.2 820.0 1115.8 820.1 1114.2 820.2 1112.9 820.0 1111.7 819.7 1110.9 819.3 1110.2 818.9 1109.5 818.5 1109.5 818.0 1109.7 817.5 1109.9 817.0 1110.4 816.5 1111.4 816.1 1113 816.2 1114.2 815.8 1115.8 816.0 1117.2 816.0 1118.4 816.2 1119.7 816.5 1119.9 817.0 1120.3 817.5Z" fill="none" stroke="#000" stroke-width="0.8"/></g>
<path d="M1237 682 1236 684 1234 684 1232 684 1232 682 1232 680 1234 680 1236 680ZM1252 678 1252 680 1249 680 1247 680 1246 678 1248 677 1249 676 1252 677ZM1242 684 1241 685 1238 685 1236 685 1236 684 1237 683 1238 682 1241 682ZM1250 674 1250 674 1249 676 1246 675 1247 674 1247 672 1249 671 1251 672ZM1241 688 1241 690 1238 691 1237 690 1236 688 1237 687 1238 686 1241 686ZM1249 685 1247 686 1246 687 1245 686 1245 685 1244 683 1246 683 1248 683ZM1237 676 1237 678 1235 678 1234 677 1233 676 1233 674 1235 674 1237 674ZM1248 674 1248 676 1246 676 1245 676 1245 674 1245 673 1246 672 1248 672ZM1253 688 1253 690 1250 690 1248 690 1247 688 1249 686 1250 685 1253 686Z" fill="none" stroke="#000" stroke-width="0.9"/><path d="M1237 691 1237 693 1235 693 1232 693 1232 691 1233 690 1235 690 1237 690ZM1237 683 1235 684 1233 686 1231 685 1231 683 1232 682 1233 681 1236 681ZM1254 685 1253 686 1252 686 1250 686 1251 685 1250 684 1252 684 1253 684ZM1241 679 1241 680 1239 680 1238 679 1238 679 1238 678 1239 678 1241 678ZM1246 691 1245 693 1243 693 1241 693 1240 691 1241 689 1243 689 1244 690Z" fill="#000"/>
<ellipse cx="1012.0" cy="803.3" rx="1.9" ry="3.3" fill="#000"/><ellipse cx="1012.0" cy="809.5" rx="1.9" ry="3.0" fill="#000"/><ellipse cx="1012.0" cy="815.7" rx="1.8" ry="2.7" fill="#000"/><ellipse cx="1012.0" cy="822.9" rx="2.5" ry="3.4" fill="#000"/><ellipse cx="1012.0" cy="828.9" rx="1.8" ry="2.9" fill="#000"/><ellipse cx="1012.0" cy="835.2" rx="2.1" ry="2.7" fill="#000"/><ellipse cx="1012.0" cy="842.1" rx="1.7" ry="3.1" fill="#000"/><ellipse cx="1012.0" cy="848.6" rx="1.8" ry="3.1" fill="#000"/><ellipse cx="1012.0" cy="855.3" rx="1.7" ry="3.3" fill="#000"/><ellipse cx="1012.0" cy="861.6" rx="2.6" ry="3.1" fill="#000"/><ellipse cx="1012.0" cy="868.3" rx="2.3" ry="3.3" fill="#000"/><ellipse cx="1012.0" cy="874.7" rx="2.2" ry="3.2" fill="#000"/><ellipse cx="1012.0" cy="881.3" rx="2.4" ry="3.3" fill="#000"/><ellipse cx="1012.0" cy="887.9" rx="2.4" ry="3.4" fill="#000"/><ellipse cx="1012.0" cy="894.1" rx="2.2" ry="3.1" fill="#000"/><ellipse cx="1012.0" cy="900.2" rx="2.1" ry="2.7" fill="#000"/><ellipse cx="1012.0" cy="907.3" rx="1.7" ry="3.3" fill="#000"/>
<ellipse cx="1019.0" cy="793.2" rx="2.0" ry="3.2" fill="#000"/><ellipse cx="1019.0" cy="799.4" rx="2.0" ry="2.9" fill="#000"/><ellipse cx="1019.0" cy="806.1" rx="1.9" ry="3.1" fill="#000"/><ellipse cx="1019.0" cy="812.3" rx="2.4" ry="2.8" fill="#000"/><ellipse cx="1019.0" cy="819.0" rx="2.2" ry="3.0" fill="#000"/><ellipse cx="1019.0" cy="825.2" rx="1.9" ry="2.7" fill="#000"/><ellipse cx="1019.0" cy="831.9" rx="2.3" ry="2.9" fill="#000"/><ellipse cx="1019.0" cy="838.8" rx="2.5" ry="3.3" fill="#000"/><ellipse cx="1019.0" cy="845.1" rx="1.7" ry="3.1" fill="#000"/><ellipse cx="1019.0" cy="851.7" rx="1.8" ry="3.2" fill="#000"/><ellipse cx="1019.0" cy="858.2" rx="1.9" ry="3.2" fill="#000"/><ellipse cx="1019.0" cy="864.7" rx="1.9" ry="3.2" fill="#000"/><ellipse cx="1019.0" cy="870.8" rx="2.1" ry="2.8" fill="#000"/><ellipse cx="1019.0" cy="877.2" rx="1.7" ry="2.7" fill="#000"/><ellipse cx="1019.0" cy="884.0" rx="2.0" ry="3.0" fill="#000"/><ellipse cx="1019.0" cy="890.8" rx="2.4" ry="3.3" fill="#000"/><ellipse cx="1019.0" cy="896.7" rx="2.2" ry="2.7" fill="#000"/><ellipse cx="1019.0" cy="903.9" rx="1.8" ry="3.4" fill="#000"/>
<ellipse cx="1037.0" cy="792.9" rx="2.4" ry="2.9" fill="#000"/><ellipse cx="1037.0" cy="799.7" rx="2.5" ry="3.2" fill="#000"/><ellipse cx="1037.0" cy="805.6" rx="2.3" ry="2.6" fill="#000"/><ellipse cx="1037.0" cy="812.5" rx="2.2" ry="3.0" fill="#000"/><ellipse cx="1037.0" cy="819.3" rx="2.2" ry="3.3" fill="#000"/><ellipse cx="1037.0" cy="825.9" rx="1.9" ry="3.4" fill="#000"/><ellipse cx="1037.0" cy="832.4" rx="2.2" ry="3.4" fill="#000"/><ellipse cx="1037.0" cy="838.1" rx="2.3" ry="2.6" fill="#000"/><ellipse cx="1037.0" cy="844.8" rx="1.8" ry="2.8" fill="#000"/><ellipse cx="1037.0" cy="851.6" rx="1.8" ry="3.1" fill="#000"/><ellipse cx="1037.0" cy="858.3" rx="2.2" ry="3.3" fill="#000"/><ellipse cx="1037.0" cy="864.4" rx="2.4" ry="2.9" fill="#000"/><ellipse cx="1037.0" cy="871.3" rx="1.9" ry="3.3" fill="#000"/><ellipse cx="1037.0" cy="877.7" rx="2.4" ry="3.2" fill="#000"/><ellipse cx="1037.0" cy="884.3" rx="2.1" ry="3.3" fill="#000"/><ellipse cx="1037.0" cy="890.3" rx="1.8" ry="2.8" fill="#000"/><ellipse cx="1037.0" cy="897.1" rx="1.9" ry="3.1" fill="#000"/><ellipse cx="1037.0" cy="903.7" rx="2.1" ry="3.2" fill="#000"/><ellipse cx="1037.0" cy="910.2" rx="1.8" ry="3.2" fill="#000"/>
<ellipse cx="1045.0" cy="778.2" rx="2.2" ry="3.2" fill="#000"/><ellipse cx="1045.0" cy="784.7" rx="2.5" ry="3.2" fill="#000"/><ellipse cx="1045.0" cy="790.7" rx="2.4" ry="2.7" fill="#000"/><ellipse cx="1045.0" cy="797.6" rx="1.8" ry="3.1" fill="#000"/><ellipse cx="1045.0" cy="803.8" rx="1.9" ry="2.8" fill="#000"/><ellipse cx="1045.0" cy="810.5" rx="2.5" ry="3.0" fill="#000"/><ellipse cx="1045.0" cy="816.8" rx="2.6" ry="2.8" fill="#000"/><ellipse cx="1045.0" cy="823.5" rx="2.4" ry="3.0" fill="#000"/><ellipse cx="1045.0" cy="830.3" rx="2.5" ry="3.3" fill="#000"/><ellipse cx="1045.0" cy="836.1" rx="2.0" ry="2.6" fill="#000"/><ellipse cx="1045.0" cy="843.3" rx="2.5" ry="3.3" fill="#000"/><ellipse cx="1045.0" cy="849.5" rx="2.2" ry="3.0" fill="#000"/><ellipse cx="1045.0" cy="856.0" rx="2.2" ry="3.0" fill="#000"/><ellipse cx="1045.0" cy="862.7" rx="1.9" ry="3.2" fill="#000"/><ellipse cx="1045.0" cy="868.7" rx="1.9" ry="2.7" fill="#000"/><ellipse cx="1045.0" cy="875.1" rx="2.1" ry="2.6" fill="#000"/><ellipse cx="1045.0" cy="882.3" rx="2.3" ry="3.3" fill="#000"/><ellipse cx="1045.0" cy="888.2" rx="1.9" ry="2.7" fill="#000"/><ellipse cx="1045.0" cy="894.6" rx="2.3" ry="2.6" fill="#000"/><ellipse cx="1045.0" cy="901.5" rx="1.7" ry="3.0" fill="#000"/>
<ellipse cx="1093.0" cy="752.8" rx="1.8" ry="2.8" fill="#000"/><ellipse cx="1093.0" cy="759.2" rx="1.7" ry="2.7" fill="#000"/><ellipse cx="1093.0" cy="765.9" rx="1.7" ry="2.9" fill="#000"/><ellipse cx="1093.0" cy="772.5" rx="1.9" ry="3.0" fill="#000"/><ellipse cx="1093.0" cy="778.6" rx="2.4" ry="2.6" fill="#000"/><ellipse cx="1093.0" cy="785.3" rx="2.3" ry="2.8" fill="#000"/><ellipse cx="1093.0" cy="792.4" rx="2.1" ry="3.4" fill="#000"/><ellipse cx="1093.0" cy="798.4" rx="2.2" ry="2.9" fill="#000"/><ellipse cx="1093.0" cy="804.9" rx="2.0" ry="2.9" fill="#000"/><ellipse cx="1093.0" cy="811.6" rx="2.3" ry="3.1" fill="#000"/><ellipse cx="1093.0" cy="818.4" rx="2.4" ry="3.4" fill="#000"/><ellipse cx="1093.0" cy="824.3" rx="2.0" ry="2.8" fill="#000"/><ellipse cx="1093.0" cy="831.4" rx="2.6" ry="3.4" fill="#000"/><ellipse cx="1093.0" cy="837.8" rx="1.9" ry="3.3" fill="#000"/><ellipse cx="1093.0" cy="844.1" rx="1.9" ry="3.1" fill="#000"/><ellipse cx="1093.0" cy="850.7" rx="2.1" ry="3.2" fill="#000"/><ellipse cx="1093.0" cy="857.0" rx="1.8" ry="3.0" fill="#000"/>
<ellipse cx="1102.0" cy="763.1" rx="2.0" ry="3.1" fill="#000"/><ellipse cx="1102.0" cy="769.3" rx="1.9" ry="2.8" fill="#000"/><ellipse cx="1102.0" cy="775.7" rx="2.2" ry="2.7" fill="#000"/><ellipse cx="1102.0" cy="782.5" rx="1.8" ry="3.0" fill="#000"/><ellipse cx="1102.0" cy="789.0" rx="2.5" ry="3.0" fill="#000"/><ellipse cx="1102.0" cy="795.4" rx="2.2" ry="2.9" fill="#000"/><ellipse cx="1102.0" cy="802.2" rx="2.3" ry="3.2" fill="#000"/><ellipse cx="1102.0" cy="808.7" rx="2.0" ry="3.2" fill="#000"/><ellipse cx="1102.0" cy="815.3" rx="2.3" ry="3.3" fill="#000"/><ellipse cx="1102.0" cy="821.4" rx="2.3" ry="2.9" fill="#000"/><ellipse cx="1102.0" cy="828.0" rx="2.1" ry="3.0" fill="#000"/><ellipse cx="1102.0" cy="834.2" rx="2.4" ry="2.7" fill="#000"/><ellipse cx="1102.0" cy="841.3" rx="2.3" ry="3.3" fill="#000"/><ellipse cx="1102.0" cy="847.2" rx="2.1" ry="2.7" fill="#000"/><ellipse cx="1102.0" cy="853.9" rx="1.9" ry="2.9" fill="#000"/><ellipse cx="1102.0" cy="860.8" rx="2.1" ry="3.3" fill="#000"/><ellipse cx="1102.0" cy="866.9" rx="2.5" ry="2.9" fill="#000"/>
<ellipse cx="1113.0" cy="748.2" rx="2.5" ry="3.2" fill="#000"/><ellipse cx="1113.0" cy="754.3" rx="1.9" ry="2.8" fill="#000"/><ellipse cx="1113.0" cy="761.1" rx="1.8" ry="3.1" fill="#000"/><ellipse cx="1113.0" cy="767.3" rx="1.7" ry="2.8" fill="#000"/><ellipse cx="1113.0" cy="773.7" rx="2.3" ry="2.7" fill="#000"/><ellipse cx="1113.0" cy="780.2" rx="2.1" ry="2.7" fill="#000"/><ellipse cx="1113.0" cy="787.0" rx="2.0" ry="3.0" fill="#000"/><ellipse cx="1113.0" cy="793.2" rx="2.3" ry="2.7" fill="#000"/><ellipse cx="1113.0" cy="800.3" rx="2.5" ry="3.3" fill="#000"/><ellipse cx="1113.0" cy="806.1" rx="2.0" ry="2.6" fill="#000"/><ellipse cx="1113.0" cy="812.7" rx="2.2" ry="2.7" fill="#000"/><ellipse cx="1113.0" cy="819.4" rx="2.5" ry="2.9" fill="#000"/><ellipse cx="1113.0" cy="826.2" rx="1.8" ry="3.2" fill="#000"/><ellipse cx="1113.0" cy="832.5" rx="2.3" ry="3.0" fill="#000"/><ellipse cx="1113.0" cy="838.8" rx="2.4" ry="2.8" fill="#000"/><ellipse cx="1113.0" cy="845.3" rx="2.2" ry="2.8" fill="#000"/><ellipse cx="1113.0" cy="852.4" rx="2.2" ry="3.4" fill="#000"/>
<ellipse cx="1124.0" cy="762.8" rx="2.1" ry="2.8" fill="#000"/><ellipse cx="1124.0" cy="769.2" rx="2.3" ry="2.7" fill="#000"/><ellipse cx="1124.0" cy="775.7" rx="2.3" ry="2.7" fill="#000"/><ellipse cx="1124.0" cy="782.7" rx="1.9" ry="3.2" fill="#000"/><ellipse cx="1124.0" cy="789.0" rx="2.5" ry="3.0" fill="#000"/><ellipse cx="1124.0" cy="795.3" rx="2.0" ry="2.8" fill="#000"/><ellipse cx="1124.0" cy="801.6" rx="2.4" ry="2.6" fill="#000"/><ellipse cx="1124.0" cy="808.8" rx="2.0" ry="3.3" fill="#000"/><ellipse cx="1124.0" cy="814.6" rx="1.9" ry="2.6" fill="#000"/><ellipse cx="1124.0" cy="821.8" rx="1.7" ry="3.3" fill="#000"/><ellipse cx="1124.0" cy="827.6" rx="2.0" ry="2.6" fill="#000"/><ellipse cx="1124.0" cy="834.4" rx="2.3" ry="2.9" fill="#000"/><ellipse cx="1124.0" cy="840.9" rx="2.1" ry="2.9" fill="#000"/><ellipse cx="1124.0" cy="847.8" rx="1.8" ry="3.3" fill="#000"/><ellipse cx="1124.0" cy="854.3" rx="2.4" ry="3.3" fill="#000"/><ellipse cx="1124.0" cy="860.4" rx="2.1" ry="2.9" fill="#000"/>
<ellipse cx="1166.0" cy="716.1" rx="1.7" ry="3.1" fill="#000"/><ellipse cx="1166.0" cy="722.1" rx="2.3" ry="2.6" fill="#000"/><ellipse cx="1166.0" cy="729.2" rx="2.3" ry="3.2" fill="#000"/><ellipse cx="1166.0" cy="735.6" rx="1.9" ry="3.1" fill="#000"/><ellipse cx="1166.0" cy="742.4" rx="1.9" ry="3.4" fill="#000"/><ellipse cx="1166.0" cy="748.6" rx="1.7" ry="3.1" fill="#000"/><ellipse cx="1166.0" cy="755.2" rx="2.2" ry="3.2" fill="#000"/><ellipse cx="1166.0" cy="761.2" rx="2.2" ry="2.7" fill="#000"/><ellipse cx="1166.0" cy="768.2" rx="2.2" ry="3.2" fill="#000"/><ellipse cx="1166.0" cy="774.6" rx="2.4" ry="3.1" fill="#000"/><ellipse cx="1166.0" cy="780.8" rx="2.5" ry="2.8" fill="#000"/><ellipse cx="1166.0" cy="787.2" rx="2.4" ry="2.7" fill="#000"/>
<ellipse cx="1174.0" cy="720.8" rx="1.9" ry="2.8" fill="#000"/><ellipse cx="1174.0" cy="727.3" rx="2.5" ry="2.8" fill="#000"/><ellipse cx="1174.0" cy="734.3" rx="1.8" ry="3.3" fill="#000"/><ellipse cx="1174.0" cy="740.3" rx="2.2" ry="2.8" fill="#000"/><ellipse cx="1174.0" cy="746.8" rx="2.3" ry="2.8" fill="#000"/><ellipse cx="1174.0" cy="753.3" rx="2.1" ry="2.8" fill="#000"/><ellipse cx="1174.0" cy="759.6" rx="2.1" ry="2.6" fill="#000"/><ellipse cx="1174.0" cy="766.4" rx="2.5" ry="2.9" fill="#000"/><ellipse cx="1174.0" cy="772.7" rx="1.9" ry="2.7" fill="#000"/><ellipse cx="1174.0" cy="779.6" rx="1.8" ry="3.1" fill="#000"/><ellipse cx="1174.0" cy="786.3" rx="2.2" ry="3.3" fill="#000"/><ellipse cx="1174.0" cy="792.3" rx="2.3" ry="2.8" fill="#000"/><ellipse cx="1174.0" cy="798.9" rx="2.2" ry="2.9" fill="#000"/>
<ellipse cx="1180.0" cy="792.8" rx="2.1" ry="2.8" fill="#000"/><ellipse cx="1180.0" cy="799.7" rx="2.1" ry="3.2" fill="#000"/><ellipse cx="1180.0" cy="806.4" rx="2.3" ry="3.4" fill="#000"/><ellipse cx="1180.0" cy="812.5" rx="2.5" ry="3.0" fill="#000"/><ellipse cx="1180.0" cy="819.0" rx="2.4" ry="3.0" fill="#000"/><ellipse cx="1180.0" cy="825.4" rx="1.8" ry="2.9" fill="#000"/><ellipse cx="1180.0" cy="831.9" rx="1.8" ry="2.9" fill="#000"/>
<ellipse cx="1245.0" cy="658.3" rx="2.5" ry="3.3" fill="#000"/><ellipse cx="1245.0" cy="664.6" rx="1.9" ry="3.1" fill="#000"/><ellipse cx="1245.0" cy="670.6" rx="1.8" ry="2.6" fill="#000"/><ellipse cx="1245.0" cy="677.3" rx="2.2" ry="2.8" fill="#000"/><ellipse cx="1245.0" cy="683.6" rx="2.3" ry="2.6" fill="#000"/><ellipse cx="1245.0" cy="690.6" rx="2.5" ry="3.1" fill="#000"/><ellipse cx="1245.0" cy="696.8" rx="2.5" ry="2.8" fill="#000"/>
<ellipse cx="1253.0" cy="663.0" rx="2.4" ry="3.0" fill="#000"/><ellipse cx="1253.0" cy="669.4" rx="2.4" ry="2.9" fill="#000"/><ellipse cx="1253.0" cy="675.8" rx="2.5" ry="2.8" fill="#000"/><ellipse cx="1253.0" cy="682.2" rx="2.5" ry="2.7" fill="#000"/><ellipse cx="1253.0" cy="688.8" rx="1.9" ry="2.8" fill="#000"/><ellipse cx="1253.0" cy="695.2" rx="2.4" ry="2.7" fill="#000"/><ellipse cx="1253.0" cy="702.1" rx="2.2" ry="3.1" fill="#000"/>
<ellipse cx="1262.0" cy="673.0" rx="2.2" ry="3.0" fill="#000"/><ellipse cx="1262.0" cy="679.4" rx="1.9" ry="2.9" fill="#000"/><ellipse cx="1262.0" cy="685.7" rx="1.9" ry="2.7" fill="#000"/><ellipse cx="1262.0" cy="692.8" rx="2.4" ry="3.3" fill="#000"/><ellipse cx="1262.0" cy="699.0" rx="1.9" ry="3.0" fill="#000"/>
<ellipse cx="1343.0" cy="603.1" rx="2.6" ry="3.1" fill="#000"/><ellipse cx="1343.0" cy="609.4" rx="2.6" ry="2.9" fill="#000"/><ellipse cx="1343.0" cy="616.2" rx="2.3" ry="3.2" fill="#000"/><ellipse cx="1343.0" cy="622.7" rx="1.9" ry="3.2" fill="#000"/><ellipse cx="1343.0" cy="629.4" rx="2.2" ry="3.4" fill="#000"/><ellipse cx="1343.0" cy="635.6" rx="1.7" ry="3.1" fill="#000"/><ellipse cx="1343.0" cy="642.4" rx="2.1" ry="3.4" fill="#000"/>
<ellipse cx="1350.0" cy="598.3" rx="2.0" ry="3.3" fill="#000"/><ellipse cx="1350.0" cy="604.3" rx="1.9" ry="2.8" fill="#000"/><ellipse cx="1350.0" cy="611.4" rx="2.3" ry="3.4" fill="#000"/><ellipse cx="1350.0" cy="617.8" rx="2.1" ry="3.3" fill="#000"/><ellipse cx="1350.0" cy="623.9" rx="2.2" ry="2.9" fill="#000"/><ellipse cx="1350.0" cy="630.5" rx="2.2" ry="3.0" fill="#000"/><ellipse cx="1350.0" cy="637.3" rx="1.8" ry="3.3" fill="#000"/>
<ellipse cx="1362.0" cy="593.1" rx="2.4" ry="3.1" fill="#000"/><ellipse cx="1362.0" cy="599.3" rx="1.8" ry="2.8" fill="#000"/><ellipse cx="1362.0" cy="605.7" rx="2.3" ry="2.7" fill="#000"/><ellipse cx="1362.0" cy="612.4" rx="2.0" ry="2.9" fill="#000"/><ellipse cx="1362.0" cy="618.9" rx="2.0" ry="2.9" fill="#000"/><ellipse cx="1362.0" cy="625.5" rx="2.5" ry="3.0" fill="#000"/><ellipse cx="1362.0" cy="632.0" rx="2.3" ry="3.0" fill="#000"/><ellipse cx="1362.0" cy="638.8" rx="2.1" ry="3.3" fill="#000"/><ellipse cx="1362.0" cy="645.3" rx="2.1" ry="3.3" fill="#000"/>
<ellipse cx="1368.0" cy="602.8" rx="2.4" ry="2.8" fill="#000"/><ellipse cx="1368.0" cy="609.2" rx="2.0" ry="2.7" fill="#000"/><ellipse cx="1368.0" cy="616.4" rx="2.1" ry="3.4" fill="#000"/><ellipse cx="1368.0" cy="622.6" rx="2.1" ry="3.1" fill="#000"/><ellipse cx="1368.0" cy="628.8" rx="2.0" ry="2.8" fill="#000"/><ellipse cx="1368.0" cy="635.6" rx="2.5" ry="3.1" fill="#000"/><ellipse cx="1368.0" cy="642.4" rx="1.7" ry="3.4" fill="#000"/>
<ellipse cx="1375.0" cy="613.2" rx="2.5" ry="3.2" fill="#000"/><ellipse cx="1375.0" cy="619.2" rx="1.9" ry="2.7" fill="#000"/><ellipse cx="1375.0" cy="626.2" rx="1.9" ry="3.2" fill="#000"/><ellipse cx="1375.0" cy="632.6" rx="2.2" ry="3.1" fill="#000"/><ellipse cx="1375.0" cy="639.3" rx="2.4" ry="3.3" fill="#000"/><ellipse cx="1375.0" cy="645.2" rx="2.4" ry="2.7" fill="#000"/><ellipse cx="1375.0" cy="652.0" rx="1.8" ry="3.0" fill="#000"/>
<ellipse cx="1605.0" cy="407.9" rx="2.6" ry="2.9" fill="#000"/><ellipse cx="1605.0" cy="414.8" rx="2.4" ry="3.3" fill="#000"/><ellipse cx="1605.0" cy="420.9" rx="1.7" ry="2.9" fill="#000"/><ellipse cx="1605.0" cy="427.8" rx="2.3" ry="3.3" fill="#000"/><ellipse cx="1605.0" cy="434.0" rx="1.9" ry="3.0" fill="#000"/><ellipse cx="1605.0" cy="440.4" rx="2.6" ry="2.9" fill="#000"/><ellipse cx="1605.0" cy="447.3" rx="2.5" ry="3.3" fill="#000"/><ellipse cx="1605.0" cy="453.4" rx="1.9" ry="2.9" fill="#000"/><ellipse cx="1605.0" cy="460.1" rx="2.4" ry="3.1" fill="#000"/><ellipse cx="1605.0" cy="466.2" rx="1.8" ry="2.7" fill="#000"/><ellipse cx="1605.0" cy="473.4" rx="2.1" ry="3.4" fill="#000"/><ellipse cx="1605.0" cy="479.7" rx="1.8" ry="3.2" fill="#000"/><ellipse cx="1605.0" cy="485.7" rx="2.3" ry="2.7" fill="#000"/><ellipse cx="1605.0" cy="492.8" rx="2.1" ry="3.3" fill="#000"/><ellipse cx="1605.0" cy="499.3" rx="1.7" ry="3.3" fill="#000"/><ellipse cx="1605.0" cy="505.9" rx="2.1" ry="3.4" fill="#000"/><ellipse cx="1605.0" cy="512.0" rx="2.2" ry="3.0" fill="#000"/>
<ellipse cx="1618.0" cy="408.4" rx="2.0" ry="3.4" fill="#000"/><ellipse cx="1618.0" cy="414.3" rx="1.8" ry="2.8" fill="#000"/><ellipse cx="1618.0" cy="420.8" rx="2.4" ry="2.8" fill="#000"/><ellipse cx="1618.0" cy="427.3" rx="1.8" ry="2.8" fill="#000"/><ellipse cx="1618.0" cy="433.7" rx="1.8" ry="2.7" fill="#000"/><ellipse cx="1618.0" cy="440.9" rx="2.1" ry="3.4" fill="#000"/><ellipse cx="1618.0" cy="446.9" rx="1.9" ry="2.9" fill="#000"/><ellipse cx="1618.0" cy="453.7" rx="2.2" ry="3.2" fill="#000"/><ellipse cx="1618.0" cy="459.8" rx="2.4" ry="2.8" fill="#000"/><ellipse cx="1618.0" cy="466.7" rx="1.9" ry="3.2" fill="#000"/><ellipse cx="1618.0" cy="472.7" rx="2.2" ry="2.7" fill="#000"/><ellipse cx="1618.0" cy="479.7" rx="2.2" ry="3.2" fill="#000"/><ellipse cx="1618.0" cy="485.9" rx="1.9" ry="2.9" fill="#000"/><ellipse cx="1618.0" cy="492.8" rx="1.7" ry="3.3" fill="#000"/><ellipse cx="1618.0" cy="499.0" rx="1.8" ry="3.0" fill="#000"/>
<ellipse cx="1641.0" cy="383.7" rx="2.3" ry="2.7" fill="#000"/><ellipse cx="1641.0" cy="390.2" rx="2.6" ry="2.7" fill="#000"/><ellipse cx="1641.0" cy="396.7" rx="1.7" ry="2.7" fill="#000"/><ellipse cx="1641.0" cy="403.3" rx="2.1" ry="2.8" fill="#000"/><ellipse cx="1641.0" cy="410.2" rx="2.1" ry="3.2" fill="#000"/><ellipse cx="1641.0" cy="416.2" rx="2.5" ry="2.7" fill="#000"/><ellipse cx="1641.0" cy="423.2" rx="1.9" ry="3.2" fill="#000"/><ellipse cx="1641.0" cy="429.2" rx="2.4" ry="2.7" fill="#000"/><ellipse cx="1641.0" cy="435.8" rx="2.2" ry="2.8" fill="#000"/><ellipse cx="1641.0" cy="442.8" rx="2.4" ry="3.3" fill="#000"/><ellipse cx="1641.0" cy="448.6" rx="1.7" ry="2.6" fill="#000"/><ellipse cx="1641.0" cy="455.2" rx="1.9" ry="2.7" fill="#000"/><ellipse cx="1641.0" cy="461.9" rx="1.9" ry="2.9" fill="#000"/><ellipse cx="1641.0" cy="468.7" rx="2.4" ry="3.2" fill="#000"/><ellipse cx="1641.0" cy="474.7" rx="2.2" ry="2.7" fill="#000"/><ellipse cx="1641.0" cy="481.2" rx="2.0" ry="2.7" fill="#000"/><ellipse cx="1641.0" cy="488.2" rx="1.9" ry="3.2" fill="#000"/><ellipse cx="1641.0" cy="494.7" rx="2.0" ry="3.2" fill="#000"/><ellipse cx="1641.0" cy="501.2" rx="1.7" ry="3.2" fill="#000"/>
<ellipse cx="1652.0" cy="383.9" rx="2.2" ry="2.9" fill="#000"/><ellipse cx="1652.0" cy="390.9" rx="2.5" ry="3.4" fill="#000"/><ellipse cx="1652.0" cy="397.4" rx="2.1" ry="3.4" fill="#000"/><ellipse cx="1652.0" cy="403.5" rx="1.7" ry="3.0" fill="#000"/><ellipse cx="1652.0" cy="410.1" rx="1.8" ry="3.1" fill="#000"/><ellipse cx="1652.0" cy="416.8" rx="1.9" ry="3.3" fill="#000"/><ellipse cx="1652.0" cy="423.2" rx="2.3" ry="3.2" fill="#000"/><ellipse cx="1652.0" cy="429.2" rx="1.7" ry="2.7" fill="#000"/><ellipse cx="1652.0" cy="436.3" rx="2.0" ry="3.3" fill="#000"/><ellipse cx="1652.0" cy="442.5" rx="2.4" ry="3.0" fill="#000"/><ellipse cx="1652.0" cy="449.4" rx="1.8" ry="3.4" fill="#000"/><ellipse cx="1652.0" cy="455.3" rx="2.0" ry="2.8" fill="#000"/><ellipse cx="1652.0" cy="461.8" rx="2.1" ry="2.8" fill="#000"/><ellipse cx="1652.0" cy="468.2" rx="2.1" ry="2.7" fill="#000"/><ellipse cx="1652.0" cy="475.3" rx="2.5" ry="3.3" fill="#000"/><ellipse cx="1652.0" cy="481.4" rx="2.0" ry="2.9" fill="#000"/><ellipse cx="1652.0" cy="487.7" rx="2.3" ry="2.7" fill="#000"/><ellipse cx="1652.0" cy="494.7" rx="2.5" ry="3.2" fill="#000"/><ellipse cx="1652.0" cy="500.9" rx="2.1" ry="2.9" fill="#000"/>
<path d="M993 884 994 886 991 887 988 885 987 884 989 882 991 882 993 882ZM994 875 994 878 993 879 992 876 991 875 991 872 993 872 994 871ZM992 886 992 889 990 890 989 889 989 886 989 885 990 882 991 884ZM1016 885 1013 886 1011 888 1008 887 1008 885 1007 883 1011 882 1014 883ZM1002 878 1001 879 999 880 994 880 994 878 995 876 999 876 1003 876ZM1006 881 1005 882 1003 883 1001 882 999 881 1001 880 1003 880 1005 880ZM1013 877 1011 880 1008 880 1004 880 1003 877 1005 875 1008 874 1010 875ZM995 888 995 889 993 889 991 889 992 888 992 887 993 887 994 887ZM993 877 991 879 988 880 984 880 983 877 984 874 988 874 990 875ZM1012 888 1011 890 1008 890 1006 889 1005 888 1005 886 1008 886 1011 886ZM1002 873 1002 875 999 875 995 875 995 873 996 871 999 871 1001 871ZM1006 871 1005 874 1001 873 999 873 999 871 998 868 1001 868 1004 868ZM1007 876 1007 878 1006 878 1004 878 1004 876 1004 874 1006 875 1007 875Z" fill="none" stroke="#000" stroke-width="0.9"/><path d="M990 882 989 884 987 885 983 885 982 882 985 880 987 879 988 880Z" fill="#000"/>
<path d="M1080.3 854.0 1079.8 857.1 1078.2 859.7 1076.5 862.2 1073.4 863.6 1071.1 866.3 1066.9 865.2 1063 865.9 1059.8 864.4 1056.1 864.2 1054.1 861.8 1051.7 859.8 1049.9 857.2 1049.2 854.0 1050.5 850.9 1052.4 848.5 1054.6 846.6 1056.2 844.0 1059.3 842.5 1062.8 841.2 1067 842.4 1070.9 842.1 1074.3 843.5 1075.7 846.3 1078.5 848.2 1079.6 850.9Z" fill="none" stroke="#000" stroke-width="0.8"/><path d="M1076.8 854.0 1075.8 856.3 1075.2 858.4 1074 860.4 1072 862.0 1069.6 863.3 1066.5 862.6 1063.3 863.9 1060.8 862.5 1058.3 861.6 1056.3 860.2 1053.9 858.8 1053 856.5 1054.2 854.0 1054.5 851.8 1055.2 849.7 1055.4 847.2 1058.4 846.5 1060.6 845.2 1063.6 845.5 1066.5 844.9 1069.5 844.9 1072.2 845.8 1073.5 848.0 1074.7 849.8 1076 851.7Z" fill="none" stroke="#000" stroke-width="0.8"/><path d="M1073.4 854.0 1072.5 855.6 1072.7 857.4 1071.1 858.3 1070 859.6 1067.9 859.9 1066.1 860.5 1063.8 861.0 1061.9 860.2 1060.3 859.3 1058.8 858.4 1057.6 857.2 1056.2 855.9 1057 854.0 1056.4 852.2 1057.5 850.7 1058.9 849.6 1059.9 848.1 1062 847.9 1063.9 847.7 1066.1 847.6 1068 848.0 1069.5 848.9 1071 849.7 1072.4 850.8 1073.5 852.2Z" fill="none" stroke="#000" stroke-width="0.8"/><path d="M1070.3 854.0 1069.6 855.0 1069.9 856.1 1068.7 856.6 1068.2 857.7 1067 858.0 1065.7 858.1 1064.3 858.4 1063.2 857.6 1062.1 857.3 1061.5 856.5 1060.9 855.8 1059.9 855.1 1060 854.0 1060.2 853.0 1060.7 852.1 1061 851.1 1062.3 850.9 1063.2 850.4 1064.3 849.7 1065.7 849.7 1066.8 850.5 1067.9 850.6 1068.7 851.4 1069.9 851.9 1069.7 853.0Z" fill="none" stroke="#000" stroke-width="0.8"/>
<path d="M1032.4 858.5 1032.8 862.2 1031.4 864.4 1029.6 866.2 1027.3 867.9 1023.6 868.6 1017.5 868.4 1014.4 866.8 1012 865.7 1010.3 864.1 1008.9 862.0 1007.3 858.5 1007.6 854.6 1009.7 852.6 1011.6 851.0 1013.9 849.4 1017.5 848.7 1023.4 848.9 1027 849.6 1029.6 850.8 1031 852.8 1033.4 854.6Z" fill="#000"/><ellipse cx="1020.5" cy="858.5" rx="6.9" ry="4.3" fill="none" stroke="#fff" stroke-width="0.8"/><ellipse cx="1020.5" cy="858.5" rx="4.8" ry="3.0" fill="none" stroke="#fff" stroke-width="0.8"/><ellipse cx="1020.5" cy="858.5" rx="2.9" ry="1.8" fill="none" stroke="#fff" stroke-width="0.9"/><ellipse cx="1020.5" cy="858.5" rx="1.0" ry="0.8" fill="#fff"/>
<path d="M1058.5 857.5 1058.2 861.4 1055.6 863.1 1054.8 865.6 1051.2 866.0 1047.4 866.3 1041.5 866.7 1037.2 866.7 1034.2 865.5 1032.6 863.5 1031.9 861.0 1031.2 857.5 1031.7 853.9 1032.9 851.6 1034 849.3 1037.2 848.3 1041.3 848.0 1047.7 848.0 1051.9 848.1 1055 849.3 1055.7 851.9 1057.1 854.0Z" fill="#000"/><ellipse cx="1044.5" cy="857.5" rx="7.4" ry="4.3" fill="none" stroke="#fff" stroke-width="0.8"/><ellipse cx="1044.5" cy="857.5" rx="5.2" ry="3.0" fill="none" stroke="#fff" stroke-width="0.8"/><ellipse cx="1044.5" cy="857.5" rx="3.1" ry="1.8" fill="none" stroke="#fff" stroke-width="0.9"/><ellipse cx="1044.5" cy="857.5" rx="1.1" ry="0.8" fill="#fff"/>
<path d="M1032 875.5 1033.2 879.7 1031.7 882.3 1029.8 884.5 1025.8 884.6 1022.2 885.8 1015.9 885.5 1011.6 885.5 1008.6 884.2 1007.4 881.7 1005.4 879.6 1004.7 875.5 1006.1 871.6 1006 868.5 1008.3 866.5 1011.9 865.9 1015.5 864.4 1022 865.7 1025.8 866.3 1028.7 867.4 1031.5 868.7 1033.1 871.3Z" fill="#000"/><ellipse cx="1013.4" cy="875.5" rx="3.9" ry="4.7" fill="none" stroke="#fff" stroke-width="0.8"/><ellipse cx="1013.4" cy="875.5" rx="2.7" ry="3.3" fill="none" stroke="#fff" stroke-width="0.8"/><ellipse cx="1013.4" cy="875.5" rx="1.6" ry="2.0" fill="none" stroke="#fff" stroke-width="0.9"/><ellipse cx="1013.4" cy="875.5" rx="0.6" ry="0.9" fill="#fff"/><ellipse cx="1024.6" cy="875.5" rx="3.9" ry="4.7" fill="none" stroke="#fff" stroke-width="0.8"/><ellipse cx="1024.6" cy="875.5" rx="2.7" ry="3.3" fill="none" stroke="#fff" stroke-width="0.8"/><ellipse cx="1024.6" cy="875.5" rx="1.6" ry="2.0" fill="none" stroke="#fff" stroke-width="0.9"/><ellipse cx="1024.6" cy="875.5" rx="0.6" ry="0.9" fill="#fff"/>
<path d="M1055.5 873.0 1055.3 876.4 1054.4 878.6 1053 880.6 1050.1 881.6 1046.3 881.7 1040.6 881.9 1037.4 880.9 1034.9 879.9 1032.6 878.6 1031.3 876.5 1030.9 873.0 1031.9 869.7 1032.9 867.5 1034 865.4 1036.6 864.1 1040.6 864.0 1046.3 864.3 1049.9 864.8 1053.1 865.3 1055 867.1 1055.7 869.5Z" fill="#000"/><ellipse cx="1038.5" cy="873.0" rx="3.4" ry="4.0" fill="none" stroke="#fff" stroke-width="0.8"/><ellipse cx="1038.5" cy="873.0" rx="2.4" ry="2.8" fill="none" stroke="#fff" stroke-width="0.8"/><ellipse cx="1038.5" cy="873.0" rx="1.4" ry="1.7" fill="none" stroke="#fff" stroke-width="0.9"/><ellipse cx="1038.5" cy="873.0" rx="0.6" ry="0.7" fill="#fff"/><ellipse cx="1048.5" cy="873.0" rx="3.4" ry="4.0" fill="none" stroke="#fff" stroke-width="0.8"/><ellipse cx="1048.5" cy="873.0" rx="2.4" ry="2.8" fill="none" stroke="#fff" stroke-width="0.8"/><ellipse cx="1048.5" cy="873.0" rx="1.4" ry="1.7" fill="none" stroke="#fff" stroke-width="0.9"/><ellipse cx="1048.5" cy="873.0" rx="0.6" ry="0.7" fill="#fff"/>
<path d="M1166.9 813.5 1168.7 818.3 1164.8 822.5 1159.9 826.7 1149.4 829.1 1138 830.6 1126.7 833.1 1112.6 832.4 1101.3 830.2 1092.4 827.6 1081.4 825.9 1072 822.9 1070.2 818.3 1069.6 813.5 1066.2 808.3 1072 804.1 1079.8 800.5 1091.3 798.8 1102.2 797.6 1112.9 795.6 1126.1 795.6 1136.8 797.6 1147.4 799.0 1160.7 800.0 1164.3 804.6 1168.7 808.7Z" fill="none" stroke="#000" stroke-width="0.8"/><path d="M1166.8 813.5 1162.9 817.7 1161.3 821.8 1153.6 824.6 1147.4 828.1 1134.8 827.6 1125.6 830.2 1113.6 829.4 1102.9 828.8 1092.7 827.5 1083 825.4 1080.9 821.2 1078.3 817.5 1079.2 813.5 1078.2 809.5 1080 805.7 1084.9 802.2 1093 799.7 1103.7 798.9 1113.9 798.4 1125.8 796.4 1137 797.4 1145.6 799.9 1154.2 802.2 1160.3 805.4 1162.1 809.4Z" fill="none" stroke="#000" stroke-width="0.8"/><path d="M1158.1 813.5 1156.4 817.1 1150.1 819.6 1147.5 822.6 1139.7 824.0 1134.2 827.0 1124.5 827.1 1114 828.4 1104.3 827.5 1099 824.2 1090.5 823.0 1087.7 819.8 1083.3 817.0 1080.7 813.5 1084 810.1 1085.9 806.8 1090.4 804.0 1098.1 802.3 1106.2 801.3 1114.3 799.4 1125 798.7 1132.5 801.5 1143.5 801.0 1149.1 803.8 1156 806.3 1155 810.1Z" fill="none" stroke="#000" stroke-width="0.8"/><path d="M1151.8 813.5 1151.3 816.6 1149.3 819.4 1145 821.8 1138.5 823.4 1131.2 824.3 1123.9 825.3 1114.9 825.9 1107.5 824.5 1099.7 823.8 1094.8 821.6 1093.9 818.6 1090.3 816.3 1089.8 813.5 1091.6 810.8 1092.3 808.1 1094 805.2 1100.9 803.8 1108.3 803.2 1115.2 801.8 1123.8 801.8 1131.4 802.5 1137.1 804.3 1145 805.2 1149.1 807.6 1147.9 810.8Z" fill="none" stroke="#000" stroke-width="0.8"/><path d="M1142.4 813.5 1144.8 816.0 1140.3 817.6 1137.9 819.5 1134.9 821.5 1128.3 821.6 1122.9 822.6 1116.4 822.0 1110.6 821.7 1104.4 821.4 1100.2 819.8 1099 817.6 1093.7 816.0 1092.8 813.5 1093.2 811.0 1099.1 809.5 1101.7 807.7 1104.8 805.8 1110.3 805.1 1116.3 804.7 1122.8 804.5 1129.6 804.2 1134.2 805.8 1138.5 807.3 1141.6 809.1 1144.1 811.1Z" fill="none" stroke="#000" stroke-width="0.8"/><path d="M1136.9 813.5 1138.2 815.3 1136.2 816.8 1132.6 817.8 1129.5 818.7 1126.4 819.9 1122.1 820.6 1117.1 820.1 1112 820.4 1109.3 818.8 1104.4 818.4 1103.3 816.7 1101.5 815.2 1102.3 813.5 1101 811.7 1102.4 810.1 1105 808.8 1107.7 807.3 1112.9 807.4 1117 806.6 1121.8 807.2 1126 807.5 1131.2 807.4 1133.6 808.9 1136.6 810.1 1137 811.8Z" fill="none" stroke="#000" stroke-width="0.8"/><path d="M1132.5 813.5 1131.8 814.7 1130.6 815.7 1129.2 816.7 1126.2 817.0 1124.5 818.1 1121.1 817.8 1118 817.7 1114.6 818.1 1112.4 817.2 1110.8 816.3 1108.4 815.7 1107.1 814.7 1106.2 813.5 1108.1 812.4 1109 811.4 1109.4 810.2 1112.2 809.7 1114.5 808.9 1117.9 809.1 1121 809.4 1124 809.4 1126.7 809.8 1129.7 810.2 1131.5 811.1 1132.3 812.3Z" fill="none" stroke="#000" stroke-width="0.8"/>
<path d="M1137.2 813.5 1138 820.3 1134.9 824.4 1129.1 826.6 1123.3 828.4 1115.4 828.7 1103.5 828.8 1094.5 829.7 1088.3 827.7 1085.8 823.7 1081.7 820.2 1083.6 813.5 1082.3 807.0 1084.6 802.8 1090.7 800.9 1095.7 798.6 1103.5 798.1 1116.1 796.5 1124.6 797.2 1128.6 800.7 1133.9 803.0 1137.1 806.9Z" fill="#000"/><ellipse cx="1098.5" cy="813.5" rx="7.6" ry="7.4" fill="none" stroke="#fff" stroke-width="0.8"/><ellipse cx="1098.5" cy="813.5" rx="5.3" ry="5.2" fill="none" stroke="#fff" stroke-width="0.8"/><ellipse cx="1098.5" cy="813.5" rx="3.2" ry="3.1" fill="none" stroke="#fff" stroke-width="0.9"/><ellipse cx="1098.5" cy="813.5" rx="1.1" ry="1.3" fill="#fff"/><ellipse cx="1120.5" cy="813.5" rx="7.6" ry="7.4" fill="none" stroke="#fff" stroke-width="0.8"/><ellipse cx="1120.5" cy="813.5" rx="5.3" ry="5.2" fill="none" stroke="#fff" stroke-width="0.8"/><ellipse cx="1120.5" cy="813.5" rx="3.2" ry="3.1" fill="none" stroke="#fff" stroke-width="0.9"/><ellipse cx="1120.5" cy="813.5" rx="1.1" ry="1.3" fill="#fff"/>
<path d="M1216.6 772.5 1217.7 778.5 1213 783.5 1205.2 786.8 1200.3 791.5 1192.5 795.3 1181.1 793.3 1170.6 794.4 1161.6 792.3 1153.7 789.9 1146.1 787.1 1142.3 782.5 1136.1 778.3 1133.4 772.5 1139.3 767.2 1140.2 761.8 1142.3 756.0 1153.9 755.3 1159.6 749.9 1170.7 750.9 1181.7 749.3 1190.2 752.9 1201.3 752.7 1206.6 757.5 1213.5 761.3 1213.3 767.1Z" fill="none" stroke="#000" stroke-width="0.8"/><path d="M1212.5 772.5 1212.2 777.8 1208.2 782.1 1204 786.2 1196.4 788.4 1188.6 789.8 1181 792.8 1171.1 792.6 1162.1 791.6 1153.8 789.9 1146.6 786.9 1142.7 782.4 1138.7 777.9 1140.9 772.5 1139.9 767.3 1146.4 763.7 1150.4 760.0 1153.4 754.8 1162.4 753.8 1171.4 753.8 1180.4 754.6 1188.9 754.8 1196.9 756.2 1204.8 758.4 1206.5 763.4 1209.9 767.6Z" fill="none" stroke="#000" stroke-width="0.8"/><path d="M1206 772.5 1208 777.1 1204.1 780.9 1199.5 784.0 1195.2 787.5 1187.5 788.4 1179.9 788.3 1171.9 789.3 1163.6 789.5 1158.5 786.2 1153.9 783.3 1147.7 780.9 1148.5 776.5 1145.4 772.5 1148.6 768.5 1147.5 764.0 1152.3 760.9 1158.9 759.2 1165 757.4 1172 756.4 1179.9 756.8 1187.6 756.4 1192.5 759.6 1199.8 760.9 1205 763.9 1205.6 768.2Z" fill="none" stroke="#000" stroke-width="0.8"/><path d="M1201.8 772.5 1200.9 776.1 1200.2 779.7 1194.2 781.4 1191.9 784.9 1185.7 785.9 1179.7 787.6 1172.5 786.8 1165.7 786.7 1162.4 783.1 1156.7 781.9 1154.2 779.0 1149.8 776.3 1149.2 772.5 1149.3 768.6 1151.6 765.3 1155.4 762.4 1162.3 761.8 1165.9 758.6 1172.5 758.2 1179.7 757.6 1186 758.7 1191.1 760.7 1193.8 763.8 1198.3 765.9 1199.7 769.1Z" fill="none" stroke="#000" stroke-width="0.8"/><path d="M1196.7 772.5 1196.5 775.5 1193.3 777.7 1191.1 779.9 1188.3 782.1 1184.1 783.7 1178.9 784.5 1173.5 782.7 1167.9 783.7 1163.1 782.5 1159.7 780.5 1157.4 778.0 1155.4 775.5 1154.2 772.5 1156.8 769.7 1157.1 766.9 1161.4 765.4 1163.8 763.0 1168.7 762.4 1173.3 761.6 1178.9 760.7 1183.4 762.3 1188.3 762.9 1190.5 765.4 1192.8 767.5 1196.8 769.5Z" fill="none" stroke="#000" stroke-width="0.8"/><path d="M1192.5 772.5 1190.2 774.6 1190 776.7 1188.4 778.6 1185.6 780.0 1181.9 780.6 1178 780.7 1173.8 781.4 1170.4 780.2 1166.6 779.8 1163.8 778.5 1162 776.7 1161.9 774.5 1161.5 772.5 1161.3 770.4 1162.7 768.5 1164.5 766.9 1167.4 765.8 1170.8 765.3 1173.9 763.9 1178.2 763.5 1181.7 764.7 1184.2 766.1 1187.3 767.0 1189.8 768.4 1190.5 770.4Z" fill="none" stroke="#000" stroke-width="0.8"/><path d="M1185.3 772.5 1185 773.8 1185.2 775.2 1183.5 776.2 1181.9 777.1 1179.9 777.9 1177.3 777.6 1174.6 778.2 1171.9 778.1 1170 777.1 1167.8 776.5 1167.4 775.1 1165.8 774.0 1166.4 772.5 1167 771.2 1167.6 770.0 1168.9 769.0 1169.8 767.7 1172.4 767.5 1174.8 767.4 1177.4 766.9 1179.5 767.6 1182.2 767.6 1183.9 768.6 1185 769.8 1185.8 771.1Z" fill="none" stroke="#000" stroke-width="0.8"/>
<path d="M1185.5 766.6 1184.2 772.7 1183.4 776.7 1181.2 779.1 1178.6 781.1 1175 781.9 1169.3 782.2 1166.2 780.3 1163.6 778.7 1161.1 776.7 1159.3 773.1 1159.3 766.7 1160.8 760.9 1161.8 757.3 1163.4 754.4 1165.7 752.1 1169.3 751.2 1175.3 750.2 1178.5 752.4 1181.7 753.4 1182.7 757.2 1183.5 761.0Z" fill="#000"/><ellipse cx="1172.2" cy="766.6" rx="6.9" ry="7.0" fill="none" stroke="#fff" stroke-width="0.8"/><ellipse cx="1172.2" cy="766.6" rx="4.8" ry="4.9" fill="none" stroke="#fff" stroke-width="0.8"/><ellipse cx="1172.2" cy="766.6" rx="2.9" ry="3.0" fill="none" stroke="#fff" stroke-width="0.9"/><ellipse cx="1172.2" cy="766.6" rx="1.0" ry="1.3" fill="#fff"/>
<path d="M1305.9 711.5 1308.6 717.9 1303.4 723.2 1298.2 728.3 1287.2 730.0 1279.2 733.7 1268.4 734.6 1256.4 735.3 1244.5 735.4 1237.7 730.1 1226.2 728.6 1222.7 722.9 1220.9 717.3 1220.8 711.5 1221.1 705.7 1224.8 700.7 1230 696.2 1237.6 692.8 1245.1 688.4 1256.5 688.2 1268 689.8 1280.2 688.0 1289 691.6 1297.6 695.0 1304.3 699.5 1307.9 705.2Z" fill="none" stroke="#000" stroke-width="0.8"/><path d="M1303.6 711.5 1300.1 716.8 1297.2 721.4 1291.8 725.3 1285.8 729.0 1278.2 732.4 1267.4 730.6 1256.9 733.5 1248.4 730.2 1238.5 729.5 1232 725.9 1227 721.6 1223.2 717.0 1224.2 711.5 1221.8 705.8 1230.2 702.2 1230.7 696.5 1238.1 693.2 1248.9 693.5 1257.6 692.2 1267.7 691.2 1277.8 691.2 1286.9 693.2 1291 698.1 1296.1 701.9 1303.4 705.8Z" fill="none" stroke="#000" stroke-width="0.8"/><path d="M1293.9 711.5 1293.3 715.8 1289.9 719.3 1285.6 722.4 1281.5 725.8 1275.2 728.4 1266.6 727.7 1258.1 728.9 1249.2 729.1 1241.5 727.3 1237.1 723.4 1231.9 720.2 1230.1 716.0 1226.8 711.5 1233 707.4 1231.1 702.5 1235 698.5 1243.1 697.0 1249 693.6 1257.7 692.8 1267.3 692.7 1274.9 695.0 1281.9 697.0 1288.6 699.2 1293.7 702.6 1292.1 707.4Z" fill="none" stroke="#000" stroke-width="0.8"/><path d="M1292.6 711.5 1289.8 715.3 1285.6 718.1 1284.8 722.0 1277.4 722.7 1272.7 725.0 1266.3 726.5 1258.7 726.6 1252.5 724.8 1246.7 723.3 1241.2 721.5 1236.1 719.1 1236 715.2 1233 711.5 1234.5 707.6 1236 703.9 1243 702.3 1246.9 699.8 1252.2 697.8 1258.7 696.7 1266.5 695.8 1272 698.9 1278.4 699.6 1282 702.3 1286.8 704.5 1289.1 707.8Z" fill="none" stroke="#000" stroke-width="0.8"/><path d="M1283.1 711.5 1285.6 714.7 1280.5 716.7 1279.6 719.6 1275.6 721.3 1271.3 723.2 1265.2 722.1 1259.3 724.1 1254.2 722.6 1250.5 720.5 1247 718.8 1241.6 717.5 1241 714.5 1238.4 711.5 1242.6 708.7 1244 706.2 1245.6 703.6 1249.1 701.4 1253.8 699.9 1259.4 699.4 1265.4 700.1 1270.7 700.6 1275.1 702.1 1278.7 703.9 1280.5 706.4 1285.1 708.3Z" fill="none" stroke="#000" stroke-width="0.8"/><path d="M1280 711.5 1279.1 713.8 1277 715.7 1275.6 717.7 1271.3 718.1 1268.2 719.1 1264.6 719.9 1260.4 719.7 1256.7 719.2 1252.6 719.0 1250.1 717.4 1246.7 716.0 1245.8 713.8 1246.4 711.5 1247.1 709.3 1248.9 707.6 1251 706.1 1253.2 704.5 1256.8 704.0 1260.5 703.6 1264.7 703.0 1269 702.9 1272.8 703.8 1274.6 705.8 1278.3 707.0 1279.7 709.1Z" fill="none" stroke="#000" stroke-width="0.8"/><path d="M1273.3 711.5 1274 713.1 1271.6 714.1 1270.2 715.1 1269.1 716.5 1267 717.4 1264 717.5 1261.1 717.0 1258.7 716.5 1256 716.4 1254.3 715.4 1252.2 714.4 1251.5 713.0 1250.9 711.5 1251.7 710.0 1252.1 708.5 1254.9 707.9 1255.9 706.5 1258.7 706.5 1261 705.5 1264 705.7 1266.9 705.7 1269.4 706.3 1270.1 707.9 1271.4 708.9 1273.7 709.9Z" fill="none" stroke="#000" stroke-width="0.8"/>
<path d="M1274.6 713.0 1273.1 719.8 1270.5 723.9 1266.2 726.3 1261.9 728.8 1255.2 729.3 1244.7 729.8 1238.8 728.0 1232.2 727.6 1230 723.6 1226.5 719.9 1228 713.0 1226.5 706.1 1229.6 702.2 1233.5 699.4 1237.9 696.9 1244.5 695.5 1255.2 696.6 1261.1 698.2 1267.1 698.9 1269.9 702.4 1272.9 706.2Z" fill="#000"/><ellipse cx="1240.8" cy="713.0" rx="6.3" ry="7.7" fill="none" stroke="#fff" stroke-width="0.8"/><ellipse cx="1240.8" cy="713.0" rx="4.4" ry="5.4" fill="none" stroke="#fff" stroke-width="0.8"/><ellipse cx="1240.8" cy="713.0" rx="2.7" ry="3.2" fill="none" stroke="#fff" stroke-width="0.9"/><ellipse cx="1240.8" cy="713.0" rx="0.9" ry="1.4" fill="#fff"/><ellipse cx="1259.2" cy="713.0" rx="6.3" ry="7.7" fill="none" stroke="#fff" stroke-width="0.8"/><ellipse cx="1259.2" cy="713.0" rx="4.4" ry="5.4" fill="none" stroke="#fff" stroke-width="0.8"/><ellipse cx="1259.2" cy="713.0" rx="2.7" ry="3.2" fill="none" stroke="#fff" stroke-width="0.9"/><ellipse cx="1259.2" cy="713.0" rx="0.9" ry="1.4" fill="#fff"/>
<path d="M1312.4 680.7 1312.2 683.9 1311.6 686.2 1309.5 687.2 1307.7 688.6 1304.7 689.1 1299.9 688.8 1296.9 688.5 1295.1 687.2 1292.7 686.2 1292 684.0 1291.9 680.7 1291.6 677.3 1293.1 675.4 1294.3 673.5 1296.9 672.9 1299.8 672.2 1304.5 672.8 1307.4 673.2 1309.3 674.4 1311.6 675.3 1311.9 677.6Z" fill="#000"/><ellipse cx="1302.2" cy="680.7" rx="5.6" ry="3.7" fill="none" stroke="#fff" stroke-width="0.8"/><ellipse cx="1302.2" cy="680.7" rx="3.9" ry="2.6" fill="none" stroke="#fff" stroke-width="0.8"/><ellipse cx="1302.2" cy="680.7" rx="2.4" ry="1.6" fill="none" stroke="#fff" stroke-width="0.9"/><ellipse cx="1302.2" cy="680.7" rx="0.8" ry="0.7" fill="#fff"/>
<g transform="rotate(-38 1329.0 656.0)"><path d="M1352.7 656.0 1349.7 658.6 1350.2 661.5 1345.1 662.9 1343.5 665.9 1337 665.6 1332 666.7 1326.1 666.3 1319.8 667.0 1315.6 665.1 1312.4 663.1 1307.9 661.5 1307.8 658.7 1307.8 656.0 1306.4 653.1 1308.6 650.7 1312 648.8 1315.6 646.9 1319.7 644.8 1326.1 645.7 1331.9 645.6 1338.1 645.0 1342.2 647.0 1345.3 649.0 1350.6 650.4 1349.5 653.4Z" fill="none" stroke="#000" stroke-width="0.8"/><path d="M1345.4 656.0 1347.7 658.4 1346.2 660.5 1343.6 662.2 1340.2 663.6 1335.9 664.3 1331.2 664.0 1326.4 665.2 1322.7 663.6 1318.5 663.1 1314.7 662.1 1313.3 660.1 1310.5 658.3 1310 656.0 1311.3 653.8 1312.5 651.7 1314.9 650.0 1318.1 648.6 1321.8 647.4 1326.6 647.4 1331.4 647.6 1335.6 648.1 1339.5 648.9 1342.6 650.2 1345.3 651.8 1345 654.0Z" fill="none" stroke="#000" stroke-width="0.8"/><path d="M1341.7 656.0 1341.4 657.6 1341.4 659.2 1338.5 660.0 1336.6 661.2 1333.7 661.6 1330.9 662.6 1327.4 661.8 1323.8 662.3 1321 661.4 1318.4 660.5 1316.7 659.2 1315.5 657.7 1315.5 656.0 1316.3 654.4 1317.5 653.0 1319.2 651.8 1321.5 650.9 1323.9 649.9 1327.4 650.3 1330.7 650.0 1334.1 649.8 1336 651.3 1339 651.7 1340.2 653.1 1341.9 654.4Z" fill="none" stroke="#000" stroke-width="0.8"/><path d="M1336.2 656.0 1337 657.0 1336.4 657.9 1334.7 658.4 1333.7 659.2 1331.9 659.5 1330.1 659.8 1328 659.7 1326.2 659.4 1324.8 658.9 1322.6 658.7 1321.7 657.9 1321.1 657.0 1321.9 656.0 1321.4 655.0 1321.4 654.0 1322.6 653.3 1324.7 653.1 1326.2 652.7 1328 652.5 1330.1 652.3 1332.2 652.2 1333.2 653.1 1334.7 653.6 1335.4 654.3 1336 655.1Z" fill="none" stroke="#000" stroke-width="0.8"/></g>
<g transform="rotate(-38 1408.0 598.0)"><path d="M1422.8 598.0 1422.5 599.9 1421.3 601.6 1421.2 603.9 1416.6 604.1 1414.4 606.0 1410 605.4 1405.9 605.9 1402.4 605.0 1398 605.1 1396 603.4 1394.1 601.8 1393.5 599.9 1392.7 598.0 1392.1 595.9 1392.9 593.9 1395 592.2 1398.1 591.0 1401.7 590.0 1406 590.5 1410.3 589.6 1413.5 591.1 1417.8 591.1 1420.4 592.5 1421 594.5 1423.6 595.9Z" fill="none" stroke="#000" stroke-width="0.8"/><path d="M1418.8 598.0 1419.5 599.5 1418.9 601.0 1416.2 601.6 1415.3 603.2 1412.6 603.8 1409.5 603.6 1406.6 603.4 1403.5 603.7 1401.5 602.6 1398.9 602.0 1397.1 601.0 1397.2 599.4 1396.3 598.0 1395.8 596.4 1398.5 595.4 1399.8 594.4 1401.2 593.2 1403.9 592.8 1406.6 592.7 1409.7 591.8 1411.9 593.1 1414.5 593.4 1416.1 594.4 1417.4 595.5 1418.7 596.6Z" fill="none" stroke="#000" stroke-width="0.8"/><path d="M1414.6 598.0 1414.3 598.8 1414.3 599.7 1413.3 600.4 1412 600.9 1410.6 601.3 1408.9 601.3 1407 601.5 1405.2 601.5 1403.8 601.0 1402.9 600.3 1402.1 599.6 1400.9 598.9 1400.7 598.0 1400.8 597.0 1402.2 596.4 1402.8 595.7 1404.1 595.2 1405.5 594.8 1407.1 594.7 1408.9 594.6 1410.9 594.4 1412 595.2 1413.4 595.6 1414.1 596.4 1414.8 597.1Z" fill="none" stroke="#000" stroke-width="0.8"/></g>
<path d="M1363 627 1363 630 1361 630 1360 629 1359 627 1360 625 1361 623 1362 624ZM1359 629 1358 630 1355 630 1354 629 1353 629 1353 627 1355 626 1357 627ZM1399 615 1399 617 1396 618 1393 617 1392 615 1393 613 1396 612 1398 614ZM1359 645 1359 646 1358 646 1357 646 1356 645 1357 644 1358 643 1359 644ZM1380 626 1377 627 1375 629 1371 629 1370 626 1372 623 1375 622 1377 624ZM1376 620 1376 622 1373 623 1371 622 1370 620 1371 618 1373 618 1376 618ZM1397 619 1395 620 1393 620 1391 620 1390 619 1391 619 1393 618 1395 619ZM1369 620 1370 622 1367 622 1365 621 1363 620 1364 618 1367 618 1368 618ZM1383 629 1381 630 1380 630 1378 630 1377 629 1377 627 1380 626 1382 627ZM1351 642 1350 644 1349 646 1348 644 1347 642 1348 641 1349 639 1350 640ZM1350 634 1350 637 1349 637 1347 637 1347 634 1347 631 1349 630 1350 631ZM1355 636 1354 637 1353 637 1350 637 1349 636 1351 635 1353 634 1355 635ZM1367 621 1366 623 1363 624 1359 624 1357 621 1359 618 1363 619 1366 618ZM1371 628 1370 629 1368 629 1366 629 1365 628 1366 628 1368 627 1370 628ZM1377 643 1376 646 1373 647 1371 645 1370 643 1369 640 1373 641 1375 642ZM1368 619 1367 622 1364 621 1362 622 1362 619 1362 616 1364 617 1366 617ZM1382 611 1381 612 1380 612 1378 612 1377 611 1378 609 1380 608 1382 609ZM1359 632 1358 633 1357 634 1355 633 1354 632 1355 630 1357 630 1359 630ZM1369 622 1368 623 1368 625 1367 623 1366 622 1367 621 1368 620 1369 620ZM1371 643 1370 643 1369 644 1367 643 1365 643 1366 642 1369 642 1370 642ZM1360 639 1359 639 1358 640 1355 640 1354 639 1355 638 1358 638 1360 638ZM1390 624 1389 626 1387 628 1386 626 1384 624 1386 622 1387 620 1390 621ZM1367 646 1368 649 1365 649 1364 648 1363 646 1364 645 1365 644 1367 644ZM1401 608 1401 609 1399 610 1398 609 1396 608 1397 606 1399 606 1401 607ZM1391 620 1389 622 1388 623 1386 622 1385 620 1387 619 1388 618 1390 619ZM1394 622 1394 623 1391 624 1387 624 1386 622 1388 621 1391 619 1395 620Z" fill="none" stroke="#000" stroke-width="0.9"/><path d="M1364 623 1364 625 1363 626 1362 624 1361 623 1362 622 1363 619 1364 620ZM1389 624 1390 626 1388 627 1386 626 1387 624 1387 622 1388 621 1389 622ZM1383 635 1382 636 1381 636 1378 636 1376 635 1378 633 1381 633 1383 633ZM1362 644 1362 647 1360 647 1358 647 1357 644 1358 642 1360 642 1361 642ZM1377 630 1376 632 1374 632 1373 631 1371 630 1372 628 1374 626 1376 627ZM1399 620 1397 620 1396 621 1393 621 1393 620 1394 619 1396 618 1397 619ZM1392 629 1391 631 1389 631 1388 631 1387 629 1388 627 1389 625 1391 627ZM1362 634 1362 636 1360 636 1357 637 1357 634 1357 631 1360 631 1362 632ZM1352 646 1352 648 1350 648 1349 648 1348 646 1349 643 1350 643 1352 643ZM1382 609 1381 611 1380 612 1378 611 1378 609 1379 607 1380 608 1381 608ZM1374 637 1373 638 1370 639 1368 638 1365 637 1368 636 1370 635 1373 636ZM1361 629 1361 630 1359 630 1357 630 1357 629 1357 628 1359 628 1361 628ZM1364 646 1361 648 1359 650 1357 648 1353 646 1357 644 1359 644 1361 644ZM1401 616 1401 618 1399 618 1398 617 1398 616 1398 615 1399 614 1401 614Z" fill="#000"/>
<path d="M1372.4 639.5 1372.2 646.6 1370.3 650.7 1367.7 653.8 1364.5 656.2 1359.7 657.0 1352.3 656.6 1347.5 656.2 1344.2 653.8 1341.1 651.2 1340.1 646.4 1340.7 639.5 1340.4 632.7 1342.1 628.6 1343.7 624.6 1347.2 622.2 1352.1 621.2 1359.6 622.7 1364.7 622.3 1367.6 625.4 1370.5 628.1 1370.7 633.1Z" fill="#000"/><ellipse cx="1349.6" cy="639.5" rx="4.4" ry="7.9" fill="none" stroke="#fff" stroke-width="0.8"/><ellipse cx="1349.6" cy="639.5" rx="3.1" ry="5.5" fill="none" stroke="#fff" stroke-width="0.8"/><ellipse cx="1349.6" cy="639.5" rx="1.8" ry="3.3" fill="none" stroke="#fff" stroke-width="0.9"/><ellipse cx="1349.6" cy="639.5" rx="0.7" ry="1.4" fill="#fff"/><ellipse cx="1362.4" cy="639.5" rx="4.4" ry="7.9" fill="none" stroke="#fff" stroke-width="0.8"/><ellipse cx="1362.4" cy="639.5" rx="3.1" ry="5.5" fill="none" stroke="#fff" stroke-width="0.8"/><ellipse cx="1362.4" cy="639.5" rx="1.8" ry="3.3" fill="none" stroke="#fff" stroke-width="0.9"/><ellipse cx="1362.4" cy="639.5" rx="0.7" ry="1.4" fill="#fff"/>
<path d="M1391.6 626.0 1392.1 632.4 1390 636.1 1387.2 638.8 1384.3 641.7 1378.8 641.3 1371.2 641.2 1366.6 640.2 1362.7 638.8 1359.9 636.2 1359 632.0 1358.8 626.0 1357.7 619.5 1360.4 616.1 1362.6 613.0 1366.4 611.5 1371.1 610.2 1378.8 610.6 1383.2 612.0 1387.7 612.7 1389.3 616.3 1391.2 619.9Z" fill="#000"/><ellipse cx="1368.2" cy="626.0" rx="4.7" ry="7.2" fill="none" stroke="#fff" stroke-width="0.8"/><ellipse cx="1368.2" cy="626.0" rx="3.3" ry="5.0" fill="none" stroke="#fff" stroke-width="0.8"/><ellipse cx="1368.2" cy="626.0" rx="2.0" ry="3.0" fill="none" stroke="#fff" stroke-width="0.9"/><ellipse cx="1368.2" cy="626.0" rx="0.7" ry="1.3" fill="#fff"/><ellipse cx="1381.8" cy="626.0" rx="4.7" ry="7.2" fill="none" stroke="#fff" stroke-width="0.8"/><ellipse cx="1381.8" cy="626.0" rx="3.3" ry="5.0" fill="none" stroke="#fff" stroke-width="0.8"/><ellipse cx="1381.8" cy="626.0" rx="2.0" ry="3.0" fill="none" stroke="#fff" stroke-width="0.9"/><ellipse cx="1381.8" cy="626.0" rx="0.7" ry="1.3" fill="#fff"/>
<path d="M1401.7 615.5 1401.3 620.2 1400.4 623.4 1398.8 626.1 1395.2 626.7 1391.7 628.3 1385.5 627.5 1381.7 626.9 1378.5 625.8 1377 623.1 1375.6 620.3 1375.9 615.5 1376.1 610.9 1375.9 607.1 1378.9 605.6 1381.3 603.5 1385.2 602.6 1391.8 602.5 1395.4 604.0 1398.1 605.6 1400 607.8 1402.4 610.4Z" fill="#000"/><ellipse cx="1388.5" cy="615.5" rx="7.4" ry="5.6" fill="none" stroke="#fff" stroke-width="0.8"/><ellipse cx="1388.5" cy="615.5" rx="5.2" ry="3.9" fill="none" stroke="#fff" stroke-width="0.8"/><ellipse cx="1388.5" cy="615.5" rx="3.1" ry="2.4" fill="none" stroke="#fff" stroke-width="0.9"/><ellipse cx="1388.5" cy="615.5" rx="1.1" ry="1.0" fill="#fff"/>
<path d="M1134.8 463.6 1133 466.8 1132.1 468.9 1130.6 470.5 1128.4 472.1 1124.8 472.9 1118.8 472.5 1114.9 472.4 1112.7 470.7 1110.1 469.5 1110.3 466.9 1109.7 463.7 1109.8 460.3 1111.4 458.4 1112.9 456.7 1115 455.1 1119 455.4 1124.8 454.5 1128.2 455.4 1131.1 456.3 1132.4 458.3 1134.5 460.1Z" fill="#000"/><ellipse cx="1116.8" cy="463.6" rx="3.4" ry="3.9" fill="none" stroke="#fff" stroke-width="0.8"/><ellipse cx="1116.8" cy="463.6" rx="2.4" ry="2.8" fill="none" stroke="#fff" stroke-width="0.8"/><ellipse cx="1116.8" cy="463.6" rx="1.4" ry="1.7" fill="none" stroke="#fff" stroke-width="0.9"/><ellipse cx="1116.8" cy="463.6" rx="0.6" ry="0.7" fill="#fff"/><ellipse cx="1126.7" cy="463.6" rx="3.4" ry="3.9" fill="none" stroke="#fff" stroke-width="0.8"/><ellipse cx="1126.7" cy="463.6" rx="2.4" ry="2.8" fill="none" stroke="#fff" stroke-width="0.8"/><ellipse cx="1126.7" cy="463.6" rx="1.4" ry="1.7" fill="none" stroke="#fff" stroke-width="0.9"/><ellipse cx="1126.7" cy="463.6" rx="0.6" ry="0.7" fill="#fff"/>
<path d="M1272.1 438.9 1271.5 441.9 1271.2 444.1 1268.9 445.0 1267.3 446.5 1264.2 446.8 1259.5 446.4 1256.9 445.7 1254.3 445.3 1253 443.7 1251.6 442.1 1251.3 439.0 1252.1 436.0 1252.8 434.0 1254.6 432.8 1256.8 432.1 1259.6 431.8 1264 431.7 1267.4 431.3 1268.8 433.0 1270.6 434.2 1271.6 436.0Z" fill="#000"/><ellipse cx="1257.7" cy="438.9" rx="2.8" ry="3.5" fill="none" stroke="#fff" stroke-width="0.8"/><ellipse cx="1257.7" cy="438.9" rx="2.0" ry="2.4" fill="none" stroke="#fff" stroke-width="0.8"/><ellipse cx="1257.7" cy="438.9" rx="0.6" ry="0.6" fill="#fff"/><ellipse cx="1265.9" cy="438.9" rx="2.8" ry="3.5" fill="none" stroke="#fff" stroke-width="0.8"/><ellipse cx="1265.9" cy="438.9" rx="2.0" ry="2.4" fill="none" stroke="#fff" stroke-width="0.8"/><ellipse cx="1265.9" cy="438.9" rx="0.6" ry="0.6" fill="#fff"/>
<path d="M1134.9 639.5 1133.7 644.6 1133.1 648.3 1130.9 650.6 1128.2 652.4 1124.2 652.2 1118.5 652.4 1114.6 652.1 1111.5 650.9 1109.7 648.2 1109.1 644.6 1109 639.5 1108.9 634.3 1110 630.9 1112 628.6 1114.3 626.2 1118.4 626.4 1124.5 625.5 1127.7 627.5 1130.7 628.6 1131.9 631.6 1133.9 634.2Z" fill="#000"/><ellipse cx="1121.3" cy="639.5" rx="7.1" ry="6.1" fill="none" stroke="#fff" stroke-width="0.8"/><ellipse cx="1121.3" cy="639.5" rx="4.9" ry="4.2" fill="none" stroke="#fff" stroke-width="0.8"/><ellipse cx="1121.3" cy="639.5" rx="3.0" ry="2.5" fill="none" stroke="#fff" stroke-width="0.9"/><ellipse cx="1121.3" cy="639.5" rx="1.1" ry="1.1" fill="#fff"/>
<path d="M1188.8 643.1 1187.3 646.8 1187 649.6 1184.5 651.1 1181.3 651.6 1178.1 652.9 1172 653.3 1168.9 651.6 1165.4 651.3 1164.5 648.9 1162.2 647.0 1162.8 643.2 1162.6 639.4 1163.5 636.8 1165.4 635.0 1168.5 634.2 1172 633.1 1178.2 633.1 1181.6 634.3 1184.6 635.2 1186 637.3 1188.2 639.2Z" fill="#000"/><ellipse cx="1175.1" cy="643.1" rx="7.1" ry="4.4" fill="none" stroke="#fff" stroke-width="0.8"/><ellipse cx="1175.1" cy="643.1" rx="5.0" ry="3.1" fill="none" stroke="#fff" stroke-width="0.8"/><ellipse cx="1175.1" cy="643.1" rx="3.0" ry="1.8" fill="none" stroke="#fff" stroke-width="0.9"/><ellipse cx="1175.1" cy="643.1" rx="1.1" ry="0.8" fill="#fff"/>
<path d="M1262.6 631.5 1261.5 636.6 1259.8 639.5 1258.8 642.9 1255.4 644.4 1251 644.4 1244.2 645.4 1240.5 643.4 1236.9 642.6 1235.1 639.9 1234.6 636.4 1234.2 631.6 1233 626.2 1235.7 623.7 1238 621.6 1240.8 620.1 1244.4 618.6 1251.1 618.2 1254.9 619.6 1257.8 621.2 1260.1 623.4 1261.6 626.5Z" fill="#000"/><ellipse cx="1247.7" cy="631.5" rx="7.9" ry="5.9" fill="none" stroke="#fff" stroke-width="0.8"/><ellipse cx="1247.7" cy="631.5" rx="5.5" ry="4.1" fill="none" stroke="#fff" stroke-width="0.8"/><ellipse cx="1247.7" cy="631.5" rx="3.3" ry="2.5" fill="none" stroke="#fff" stroke-width="0.9"/><ellipse cx="1247.7" cy="631.5" rx="1.2" ry="1.1" fill="#fff"/>
<path d="M1135.6 710.5 1134.5 715.3 1131.3 717.9 1128.5 720.4 1123.2 721.3 1117.5 723.0 1107.1 721.7 1101.1 721.1 1094.8 720.8 1092.9 717.9 1091.1 715.0 1091.1 710.6 1092 706.3 1091.4 702.7 1095.4 700.7 1101.2 700.1 1106.8 698.6 1116.9 699.4 1122.8 700.2 1127.1 701.6 1131.7 703.0 1133.2 706.0Z" fill="#000"/><ellipse cx="1103.1" cy="710.5" rx="6.1" ry="5.3" fill="none" stroke="#fff" stroke-width="0.8"/><ellipse cx="1103.1" cy="710.5" rx="4.3" ry="3.7" fill="none" stroke="#fff" stroke-width="0.8"/><ellipse cx="1103.1" cy="710.5" rx="2.6" ry="2.2" fill="none" stroke="#fff" stroke-width="0.9"/><ellipse cx="1103.1" cy="710.5" rx="0.9" ry="1.0" fill="#fff"/><ellipse cx="1120.9" cy="710.5" rx="6.1" ry="5.3" fill="none" stroke="#fff" stroke-width="0.8"/><ellipse cx="1120.9" cy="710.5" rx="4.3" ry="3.7" fill="none" stroke="#fff" stroke-width="0.8"/><ellipse cx="1120.9" cy="710.5" rx="2.6" ry="2.2" fill="none" stroke="#fff" stroke-width="0.9"/><ellipse cx="1120.9" cy="710.5" rx="0.9" ry="1.0" fill="#fff"/>
<path d="M1058 767.3 1058.9 770.8 1057.3 773.1 1053.3 774.0 1050.6 775.5 1045.7 776.0 1037.7 776.4 1033.2 775.3 1029 774.6 1026.2 773.1 1025.2 770.7 1024.2 767.3 1026 764.1 1026.4 761.6 1028.7 759.8 1032.5 758.7 1038.1 759.2 1045.5 759.1 1050.9 758.8 1053.7 760.4 1055.9 762.1 1058.1 763.9Z" fill="#000"/><ellipse cx="1035.0" cy="767.3" rx="4.6" ry="3.9" fill="none" stroke="#fff" stroke-width="0.8"/><ellipse cx="1035.0" cy="767.3" rx="3.2" ry="2.7" fill="none" stroke="#fff" stroke-width="0.8"/><ellipse cx="1035.0" cy="767.3" rx="1.9" ry="1.6" fill="none" stroke="#fff" stroke-width="0.9"/><ellipse cx="1035.0" cy="767.3" rx="0.7" ry="0.7" fill="#fff"/><ellipse cx="1048.5" cy="767.3" rx="4.6" ry="3.9" fill="none" stroke="#fff" stroke-width="0.8"/><ellipse cx="1048.5" cy="767.3" rx="3.2" ry="2.7" fill="none" stroke="#fff" stroke-width="0.8"/><ellipse cx="1048.5" cy="767.3" rx="1.9" ry="1.6" fill="none" stroke="#fff" stroke-width="0.9"/><ellipse cx="1048.5" cy="767.3" rx="0.7" ry="0.7" fill="#fff"/>
<path d="M1031.9 806.6 1031.7 810.6 1030.5 813.0 1029.1 815.0 1027 816.5 1023.6 816.6 1018.6 817.1 1015 817.1 1012.5 815.8 1010.7 813.7 1009.6 811.0 1009.8 806.7 1010.6 802.7 1011.7 800.2 1012.8 797.8 1015.1 796.3 1018.7 796.7 1023.9 795.4 1027.3 796.2 1029.1 798.2 1030.9 800.0 1032.3 802.4Z" fill="#000"/><ellipse cx="1021.2" cy="806.6" rx="6.2" ry="4.8" fill="none" stroke="#fff" stroke-width="0.8"/><ellipse cx="1021.2" cy="806.6" rx="4.3" ry="3.4" fill="none" stroke="#fff" stroke-width="0.8"/><ellipse cx="1021.2" cy="806.6" rx="2.6" ry="2.0" fill="none" stroke="#fff" stroke-width="0.9"/><ellipse cx="1021.2" cy="806.6" rx="0.9" ry="0.9" fill="#fff"/>
<path d="M1132.6 874.4 1133.3 878.1 1131.4 880.3 1129.1 882.1 1125.2 882.7 1121 883.5 1113.8 883.8 1109.3 883.2 1107.1 881.3 1103.4 880.4 1103.2 877.8 1102.8 874.4 1102.2 870.7 1104.5 868.7 1105.8 866.5 1109.3 865.4 1114.1 865.7 1121 865.4 1125.1 866.1 1128 867.3 1131.7 868.2 1132.1 870.8Z" fill="#000"/><ellipse cx="1117.5" cy="874.4" rx="8.4" ry="4.1" fill="none" stroke="#fff" stroke-width="0.8"/><ellipse cx="1117.5" cy="874.4" rx="5.9" ry="2.9" fill="none" stroke="#fff" stroke-width="0.8"/><ellipse cx="1117.5" cy="874.4" rx="3.5" ry="1.7" fill="none" stroke="#fff" stroke-width="0.9"/><ellipse cx="1117.5" cy="874.4" rx="1.3" ry="0.7" fill="#fff"/>
<path d="M1187.7 859.1 1188.2 862.8 1186.2 864.7 1184.7 866.4 1182.8 868.1 1179.1 868.4 1173.6 868.0 1170 867.9 1168 866.3 1165.6 865.1 1164.4 862.8 1163.7 859.2 1164.7 855.6 1166.2 853.5 1167.8 851.8 1170.4 850.9 1173.5 849.8 1179 850.1 1182.3 850.9 1185 851.7 1186.6 853.4 1188.1 855.5Z" fill="#000"/><ellipse cx="1171.5" cy="859.1" rx="3.3" ry="4.2" fill="none" stroke="#fff" stroke-width="0.8"/><ellipse cx="1171.5" cy="859.1" rx="2.3" ry="2.9" fill="none" stroke="#fff" stroke-width="0.8"/><ellipse cx="1171.5" cy="859.1" rx="1.4" ry="1.8" fill="none" stroke="#fff" stroke-width="0.9"/><ellipse cx="1171.5" cy="859.1" rx="0.6" ry="0.8" fill="#fff"/><ellipse cx="1181.1" cy="859.1" rx="3.3" ry="4.2" fill="none" stroke="#fff" stroke-width="0.8"/><ellipse cx="1181.1" cy="859.1" rx="2.3" ry="2.9" fill="none" stroke="#fff" stroke-width="0.8"/><ellipse cx="1181.1" cy="859.1" rx="1.4" ry="1.8" fill="none" stroke="#fff" stroke-width="0.9"/><ellipse cx="1181.1" cy="859.1" rx="0.6" ry="0.8" fill="#fff"/>
<path d="M1270.1 812.3 1270.9 817.8 1268.3 820.5 1266.5 823.2 1263.7 825.3 1259.4 826.3 1252.6 825.1 1247.9 825.4 1245 823.4 1243.1 820.7 1241.5 817.6 1241.2 812.3 1241.7 807.1 1242.4 803.5 1244.9 801.1 1247.9 799.2 1252.6 799.6 1259.4 798.3 1263.1 800.4 1266.4 801.6 1269.3 803.5 1270.6 806.9Z" fill="#000"/><ellipse cx="1249.9" cy="812.3" rx="4.1" ry="6.2" fill="none" stroke="#fff" stroke-width="0.8"/><ellipse cx="1249.9" cy="812.3" rx="2.9" ry="4.3" fill="none" stroke="#fff" stroke-width="0.8"/><ellipse cx="1249.9" cy="812.3" rx="1.7" ry="2.6" fill="none" stroke="#fff" stroke-width="0.9"/><ellipse cx="1249.9" cy="812.3" rx="0.6" ry="1.1" fill="#fff"/><ellipse cx="1261.8" cy="812.3" rx="4.1" ry="6.2" fill="none" stroke="#fff" stroke-width="0.8"/><ellipse cx="1261.8" cy="812.3" rx="2.9" ry="4.3" fill="none" stroke="#fff" stroke-width="0.8"/><ellipse cx="1261.8" cy="812.3" rx="1.7" ry="2.6" fill="none" stroke="#fff" stroke-width="0.9"/><ellipse cx="1261.8" cy="812.3" rx="0.6" ry="1.1" fill="#fff"/>
<path d="M1389.6 717.0 1387.5 720.4 1387.8 723.3 1383.9 724.4 1379.9 725.2 1375.5 726.5 1367.5 725.8 1362.2 725.8 1357.7 725.1 1356.6 722.6 1353.5 720.8 1353 717.0 1354 713.3 1355.2 710.8 1358.4 709.3 1362.4 708.4 1367.1 707.3 1375.7 707.1 1380.1 708.6 1384 709.5 1387.3 710.9 1388.4 713.4Z" fill="#000"/><ellipse cx="1361.9" cy="717.0" rx="3.2" ry="4.2" fill="none" stroke="#fff" stroke-width="0.8"/><ellipse cx="1361.9" cy="717.0" rx="2.3" ry="3.0" fill="none" stroke="#fff" stroke-width="0.8"/><ellipse cx="1361.9" cy="717.0" rx="1.4" ry="1.8" fill="none" stroke="#fff" stroke-width="0.9"/><ellipse cx="1361.9" cy="717.0" rx="0.6" ry="0.8" fill="#fff"/><ellipse cx="1371.3" cy="717.0" rx="3.2" ry="4.2" fill="none" stroke="#fff" stroke-width="0.8"/><ellipse cx="1371.3" cy="717.0" rx="2.3" ry="3.0" fill="none" stroke="#fff" stroke-width="0.8"/><ellipse cx="1371.3" cy="717.0" rx="1.4" ry="1.8" fill="none" stroke="#fff" stroke-width="0.9"/><ellipse cx="1371.3" cy="717.0" rx="0.6" ry="0.8" fill="#fff"/><ellipse cx="1380.8" cy="717.0" rx="3.2" ry="4.2" fill="none" stroke="#fff" stroke-width="0.8"/><ellipse cx="1380.8" cy="717.0" rx="2.3" ry="3.0" fill="none" stroke="#fff" stroke-width="0.8"/><ellipse cx="1380.8" cy="717.0" rx="1.4" ry="1.8" fill="none" stroke="#fff" stroke-width="0.9"/><ellipse cx="1380.8" cy="717.0" rx="0.6" ry="0.8" fill="#fff"/>
<path d="M1367.9 768.0 1367.5 771.0 1367.2 773.3 1365.2 774.8 1361.6 775.1 1358.2 775.9 1352.4 775.7 1348.5 775.5 1345.9 774.4 1344 773.0 1342.8 771.0 1343.2 768.0 1342.3 764.7 1344.7 763.2 1346.5 761.9 1349.1 761.0 1352.5 760.5 1358.1 760.3 1361.7 760.7 1364 761.9 1366.8 762.8 1367.5 764.9Z" fill="#000"/><ellipse cx="1350.2" cy="768.0" rx="3.5" ry="3.6" fill="none" stroke="#fff" stroke-width="0.8"/><ellipse cx="1350.2" cy="768.0" rx="2.5" ry="2.5" fill="none" stroke="#fff" stroke-width="0.8"/><ellipse cx="1350.2" cy="768.0" rx="1.5" ry="1.5" fill="none" stroke="#fff" stroke-width="0.9"/><ellipse cx="1350.2" cy="768.0" rx="0.6" ry="0.6" fill="#fff"/><ellipse cx="1360.3" cy="768.0" rx="3.5" ry="3.6" fill="none" stroke="#fff" stroke-width="0.8"/><ellipse cx="1360.3" cy="768.0" rx="2.5" ry="2.5" fill="none" stroke="#fff" stroke-width="0.8"/><ellipse cx="1360.3" cy="768.0" rx="1.5" ry="1.5" fill="none" stroke="#fff" stroke-width="0.9"/><ellipse cx="1360.3" cy="768.0" rx="0.6" ry="0.6" fill="#fff"/>
<path d="M1376.6 805.4 1376.5 808.7 1375.9 811.2 1371.8 812.1 1368.4 813.0 1364.2 814.3 1355.9 814.5 1350.8 813.9 1347.6 812.5 1345.5 810.7 1344.7 808.5 1342.1 805.4 1344.6 802.3 1346.2 800.3 1348.5 798.8 1352 797.9 1356 796.5 1363.9 797.2 1369.1 797.2 1371.9 798.7 1375.4 799.8 1376.2 802.1Z" fill="#000"/><ellipse cx="1351.1" cy="805.4" rx="3.1" ry="3.9" fill="none" stroke="#fff" stroke-width="0.8"/><ellipse cx="1351.1" cy="805.4" rx="2.2" ry="2.7" fill="none" stroke="#fff" stroke-width="0.8"/><ellipse cx="1351.1" cy="805.4" rx="1.3" ry="1.6" fill="none" stroke="#fff" stroke-width="0.9"/><ellipse cx="1351.1" cy="805.4" rx="0.6" ry="0.7" fill="#fff"/><ellipse cx="1360.1" cy="805.4" rx="3.1" ry="3.9" fill="none" stroke="#fff" stroke-width="0.8"/><ellipse cx="1360.1" cy="805.4" rx="2.2" ry="2.7" fill="none" stroke="#fff" stroke-width="0.8"/><ellipse cx="1360.1" cy="805.4" rx="1.3" ry="1.6" fill="none" stroke="#fff" stroke-width="0.9"/><ellipse cx="1360.1" cy="805.4" rx="0.6" ry="0.7" fill="#fff"/><ellipse cx="1369.1" cy="805.4" rx="3.1" ry="3.9" fill="none" stroke="#fff" stroke-width="0.8"/><ellipse cx="1369.1" cy="805.4" rx="2.2" ry="2.7" fill="none" stroke="#fff" stroke-width="0.8"/><ellipse cx="1369.1" cy="805.4" rx="1.3" ry="1.6" fill="none" stroke="#fff" stroke-width="0.9"/><ellipse cx="1369.1" cy="805.4" rx="0.6" ry="0.7" fill="#fff"/>
<path d="M1481.3 563.4 1480.2 565.4 1479.2 567.1 1479.2 569.5 1476.6 570.4 1474.5 571.7 1471.7 572.3 1468.5 572.4 1465.7 571.7 1464.2 569.7 1461 569.4 1460.8 567.1 1458.7 565.6 1458.7 563.4 1459.7 561.3 1460.5 559.4 1461.2 557.4 1463.8 556.6 1465.7 555.0 1468.7 555.7 1471.5 555.6 1474.5 555.0 1477.1 555.9 1478.7 557.6 1479.9 559.4 1480.7 561.2Z" fill="none" stroke="#000" stroke-width="0.8"/><path d="M1478.1 563.4 1477.8 564.9 1477 566.2 1476.2 567.5 1474.5 568.0 1473.3 569.4 1471.1 568.8 1469.1 569.1 1467.1 569.1 1465.3 568.5 1464.2 567.3 1462.8 566.3 1462.9 564.8 1462.3 563.4 1462.8 561.9 1463.3 560.6 1463.6 559.0 1465.3 558.2 1467 557.4 1469 557.1 1471.2 557.0 1473.1 557.7 1474.9 558.2 1476 559.4 1476.6 560.7 1477.3 561.9Z" fill="none" stroke="#000" stroke-width="0.8"/><path d="M1475 563.4 1474.7 564.3 1474.6 565.2 1473.6 565.7 1473 566.5 1472 566.9 1470.7 566.8 1469.4 567.1 1468.4 566.6 1467.4 566.2 1466.3 565.9 1465.5 565.2 1465.5 564.3 1465.1 563.4 1465.4 562.4 1466.1 561.7 1466.4 560.9 1467.4 560.5 1468.4 560.1 1469.5 559.9 1470.8 559.5 1471.8 560.1 1473.1 560.1 1473.7 560.9 1474.5 561.5 1474.8 562.4Z" fill="none" stroke="#000" stroke-width="0.8"/>
<path d="M1659.7 707.9 1658.5 709.8 1658.8 711.9 1657 713.2 1655 713.9 1653.3 714.8 1651.3 715.6 1649 715.5 1646.9 715.0 1645.2 714.0 1643.7 712.9 1642.2 711.6 1642 709.8 1640.6 707.9 1641.4 705.9 1641.5 703.9 1643.8 703.0 1645.2 701.9 1646.7 700.4 1648.9 699.7 1651.3 700.7 1653.4 700.9 1655.5 701.3 1656.8 702.8 1658.3 704.1 1659 705.9Z" fill="none" stroke="#000" stroke-width="0.8"/><path d="M1656.5 707.9 1656.9 709.4 1655.5 710.4 1655.5 712.0 1654.1 712.8 1652.7 713.3 1651.1 714.0 1649.3 713.5 1647.7 713.3 1646.1 712.8 1644.7 712.1 1644 710.8 1643.3 709.5 1644.1 707.9 1643.3 706.3 1644.7 705.3 1645 703.9 1646.3 703.2 1647.5 702.2 1649.3 702.3 1651.1 702.0 1652.5 702.7 1653.8 703.4 1655.4 703.9 1655.8 705.2 1656.5 706.5Z" fill="none" stroke="#000" stroke-width="0.8"/><path d="M1653.9 707.9 1654.2 708.8 1653.8 709.6 1653.3 710.3 1652.7 711.0 1651.7 711.2 1650.7 711.1 1649.6 711.1 1648.6 711.2 1647.7 710.9 1646.9 710.4 1646.7 709.5 1646.5 708.7 1646.1 707.9 1646 706.9 1646.7 706.3 1647.4 705.8 1647.8 705.0 1648.7 704.7 1649.6 704.6 1650.7 704.5 1651.6 704.8 1652.4 705.2 1653 705.7 1654 706.1 1654.1 707.0Z" fill="none" stroke="#000" stroke-width="0.8"/>
<path d="M1624.2 804.9 1623.5 807.9 1623 810.0 1621.5 811.5 1619.6 813.0 1616.4 813.6 1611.1 813.6 1608.5 812.1 1605.7 811.8 1604.6 809.9 1602.9 808.2 1603.7 804.9 1603.5 801.7 1604.4 799.6 1605.7 797.8 1608.4 797.4 1611.1 796.2 1616.2 796.7 1619.2 797.2 1621.6 798.0 1623.7 799.3 1624.1 801.6Z" fill="#000"/><ellipse cx="1609.5" cy="804.9" rx="3.0" ry="3.8" fill="none" stroke="#fff" stroke-width="0.8"/><ellipse cx="1609.5" cy="804.9" rx="2.1" ry="2.6" fill="none" stroke="#fff" stroke-width="0.8"/><ellipse cx="1609.5" cy="804.9" rx="1.2" ry="1.6" fill="none" stroke="#fff" stroke-width="0.9"/><ellipse cx="1609.5" cy="804.9" rx="0.6" ry="0.7" fill="#fff"/><ellipse cx="1618.0" cy="804.9" rx="3.0" ry="3.8" fill="none" stroke="#fff" stroke-width="0.8"/><ellipse cx="1618.0" cy="804.9" rx="2.1" ry="2.6" fill="none" stroke="#fff" stroke-width="0.8"/><ellipse cx="1618.0" cy="804.9" rx="1.2" ry="1.6" fill="none" stroke="#fff" stroke-width="0.9"/><ellipse cx="1618.0" cy="804.9" rx="0.6" ry="0.7" fill="#fff"/>
<path d="M1621.9 636.0 1621.2 637.2 1621.2 638.4 1620.1 639.4 1618.9 640.4 1617.1 640.8 1615.1 641.1 1612.9 641.2 1611.1 640.6 1609.1 640.4 1607.4 639.7 1607.1 638.3 1606.9 637.2 1605.8 636.0 1605.9 634.7 1607.4 633.8 1607.5 632.4 1609.2 631.8 1611 631.2 1612.9 631.1 1615.1 630.9 1616.9 631.4 1619 631.6 1619.6 632.9 1620.5 633.8 1622.1 634.7Z" fill="none" stroke="#000" stroke-width="0.8"/><path d="M1619.7 636.0 1619.9 637.0 1619.5 637.8 1618.1 638.3 1617.2 638.9 1616.1 639.3 1614.8 639.8 1613.3 639.3 1611.7 639.6 1610.8 638.8 1609.5 638.5 1608.6 637.8 1608.3 636.9 1607.8 636.0 1608.1 635.0 1608.5 634.1 1609.8 633.6 1610.9 633.3 1611.9 632.6 1613.2 632.2 1614.8 632.4 1616.3 632.4 1617.5 632.8 1618.1 633.7 1619.1 634.3 1620 635.0Z" fill="none" stroke="#000" stroke-width="0.8"/>
<path d="M1540.0 510.0 L1565.0 494.0 L1590.0 472.0 L1612.0 456.0" fill="none" stroke="#000" stroke-width="14.0" stroke-linecap="round" stroke-linejoin="round" opacity="1"/><path d="M1540.0 510.0 L1565.0 494.0 L1590.0 472.0 L1612.0 456.0" fill="none" stroke="#fff" stroke-width="12.4" stroke-linecap="round" stroke-linejoin="round" opacity="1"/><path d="M1540.0 510.0 L1565.0 494.0 L1590.0 472.0 L1612.0 456.0" fill="none" stroke="#000" stroke-width="10.5" stroke-linecap="round" stroke-linejoin="round" opacity="1"/><path d="M1540.0 510.0 L1565.0 494.0 L1590.0 472.0 L1612.0 456.0" fill="none" stroke="#fff" stroke-width="8.9" stroke-linecap="round" stroke-linejoin="round" opacity="1"/><path d="M1540.0 510.0 L1565.0 494.0 L1590.0 472.0 L1612.0 456.0" fill="none" stroke="#000" stroke-width="7.0" stroke-linecap="round" stroke-linejoin="round" opacity="1"/><path d="M1540.0 510.0 L1565.0 494.0 L1590.0 472.0 L1612.0 456.0" fill="none" stroke="#fff" stroke-width="5.4" stroke-linecap="round" stroke-linejoin="round" opacity="1"/><path d="M1540.0 510.0 L1565.0 494.0 L1590.0 472.0 L1612.0 456.0" fill="none" stroke="#000" stroke-width="3.5" stroke-linecap="round" stroke-linejoin="round" opacity="1"/><path d="M1540.0 510.0 L1565.0 494.0 L1590.0 472.0 L1612.0 456.0" fill="none" stroke="#fff" stroke-width="1.9" stroke-linecap="round" stroke-linejoin="round" opacity="1"/>
<path d="M1565.7 511.0 1566.4 513.9 1565.1 516.5 1562 518.4 1559 520.3 1554.5 520.4 1550.8 522.3 1545.6 522.6 1541.9 520.6 1537.8 520.0 1533.2 519.1 1530.8 516.7 1530.6 513.8 1530.2 511.0 1529.5 508.0 1531.1 505.4 1533.3 503.0 1538.5 502.7 1541.9 501.4 1546 500.7 1550.8 499.7 1555.7 499.8 1559.4 501.4 1561.8 503.7 1565.3 505.4 1566.5 508.1Z" fill="none" stroke="#000" stroke-width="0.8"/><path d="M1561.9 511.0 1561.8 513.2 1559.9 514.8 1559.8 517.2 1556.8 518.3 1553.8 519.4 1550.3 520.1 1546.2 520.2 1542.9 519.0 1540.2 517.9 1537.4 516.8 1536.1 515.0 1535.6 513.0 1533 511.0 1533.3 508.6 1536.3 507.1 1537.7 505.3 1540.5 504.4 1543.3 503.5 1546.4 502.8 1550 503.1 1553.5 503.1 1556.7 503.8 1559.4 505.0 1560.5 507.0 1561.5 508.9Z" fill="none" stroke="#000" stroke-width="0.8"/><path d="M1558.3 511.0 1557.3 512.4 1557.9 514.1 1556.2 515.3 1554 516.0 1551.9 516.6 1549.7 517.5 1546.9 517.1 1544.3 516.9 1542.5 515.9 1540.1 515.4 1538.4 514.2 1537.5 512.7 1537.8 511.0 1537.7 509.3 1538.6 507.9 1540 506.6 1542.7 506.2 1544.2 504.9 1546.9 505.0 1549.7 504.7 1552.2 505.0 1554.1 506.0 1556 506.9 1556.6 508.3 1557.8 509.5Z" fill="none" stroke="#000" stroke-width="0.8"/><path d="M1554.1 511.0 1553.9 511.9 1553.4 512.7 1553.1 513.6 1551.6 513.9 1550.5 514.4 1549.1 514.8 1547.4 514.6 1546 514.4 1544.9 513.9 1543.9 513.3 1542.9 512.7 1542.1 512.0 1542.5 511.0 1542.6 510.1 1543.1 509.3 1543.6 508.5 1544.6 507.8 1545.8 507.2 1547.5 507.4 1549.1 507.1 1550.7 507.3 1552 507.8 1553 508.4 1553.5 509.3 1554.8 510.0Z" fill="none" stroke="#000" stroke-width="0.8"/>
<path d="M1641 464.2 1641.7 469.4 1638.9 472.4 1634.8 474.4 1631 476.7 1624 477.1 1613.5 477.1 1606.5 476.8 1600.7 475.6 1598.1 472.6 1595.8 469.4 1595.5 464.3 1594.6 458.8 1599.2 456.3 1602.3 453.9 1607.1 452.4 1613 450.4 1624.4 450.5 1631.1 451.6 1634.9 454.1 1639.5 455.8 1642.9 458.8Z" fill="#000"/><ellipse cx="1609.2" cy="464.2" rx="6.5" ry="6.1" fill="none" stroke="#fff" stroke-width="0.8"/><ellipse cx="1609.2" cy="464.2" rx="4.6" ry="4.2" fill="none" stroke="#fff" stroke-width="0.8"/><ellipse cx="1609.2" cy="464.2" rx="2.7" ry="2.5" fill="none" stroke="#fff" stroke-width="0.9"/><ellipse cx="1609.2" cy="464.2" rx="1.0" ry="1.1" fill="#fff"/><ellipse cx="1628.2" cy="464.2" rx="6.5" ry="6.1" fill="none" stroke="#fff" stroke-width="0.8"/><ellipse cx="1628.2" cy="464.2" rx="4.6" ry="4.2" fill="none" stroke="#fff" stroke-width="0.8"/><ellipse cx="1628.2" cy="464.2" rx="2.7" ry="2.5" fill="none" stroke="#fff" stroke-width="0.9"/><ellipse cx="1628.2" cy="464.2" rx="1.0" ry="1.1" fill="#fff"/>
<path d="M1699.2 438.5 1699.7 441.1 1700.3 444.0 1696.9 446.2 1690.3 446.5 1687.1 449.0 1681.2 449.5 1674.9 449.0 1668.6 449.2 1665 446.9 1660.9 445.5 1656.6 443.8 1657 441.0 1654 438.5 1654.6 435.7 1655.7 433.0 1661.7 431.9 1664 429.4 1669.8 429.1 1674.9 427.9 1680.9 428.5 1686.8 428.4 1692.1 429.3 1695.8 431.2 1696.8 433.8 1699.4 435.9Z" fill="none" stroke="#000" stroke-width="0.8"/><path d="M1695.4 438.5 1698 440.9 1695.1 442.7 1692.4 444.4 1689.4 445.9 1685.2 446.8 1680.4 446.6 1675.4 447.4 1671.3 446.2 1666 446.3 1662.9 444.7 1661.6 442.6 1659.6 440.7 1657.7 438.5 1658.4 436.1 1661.3 434.4 1664.9 433.2 1666.2 430.8 1670.4 429.7 1675.5 430.0 1680.4 430.3 1684.5 431.0 1688.5 431.7 1691.5 433.0 1694.7 434.4 1695.9 436.3Z" fill="none" stroke="#000" stroke-width="0.8"/><path d="M1694.1 438.5 1693.7 440.4 1691.5 441.8 1689.5 443.2 1686.4 443.9 1683.5 444.8 1679.9 444.9 1675.9 445.6 1672.8 444.5 1669.2 444.2 1665.8 443.4 1665.4 441.6 1662.2 440.4 1662.7 438.5 1664.3 436.9 1664.8 435.2 1667 434.0 1668.9 432.6 1672.8 432.5 1676.1 432.1 1680 431.9 1683.3 432.4 1687.4 432.4 1688.8 434.1 1690.5 435.4 1693.3 436.7Z" fill="none" stroke="#000" stroke-width="0.8"/><path d="M1688.9 438.5 1688.2 439.7 1688.4 441.1 1686.3 441.9 1684.1 442.4 1681.9 442.9 1679.6 443.8 1676.7 443.0 1674.2 442.8 1671.7 442.6 1670.4 441.6 1669.1 440.7 1668.3 439.7 1666.8 438.5 1667.6 437.2 1667.5 435.9 1669.7 435.1 1671.5 434.3 1673.7 433.6 1676.4 433.2 1679.4 433.6 1682.4 433.5 1684.7 434.1 1686.3 435.1 1687.9 436.0 1689 437.2Z" fill="none" stroke="#000" stroke-width="0.8"/><path d="M1684.7 438.5 1684.2 439.3 1683.9 440.0 1683.4 440.7 1681.8 441.0 1680.7 441.6 1678.9 441.6 1677.1 441.6 1675.3 441.6 1673.7 441.3 1673.2 440.4 1671.7 440.1 1671.8 439.2 1670.8 438.5 1671 437.7 1671.5 436.9 1672.5 436.3 1673.7 435.7 1675.6 435.8 1677 435.2 1678.9 435.3 1680.5 435.7 1681.8 436.0 1683.1 436.4 1683.9 437.0 1684.3 437.7Z" fill="none" stroke="#000" stroke-width="0.8"/>
<path d="M1668.3 438.9 1668.6 443.1 1664.8 445.1 1663.5 447.8 1658.3 448.5 1652.9 449.8 1643 449.8 1638.2 448.0 1633 447.5 1629.4 445.8 1629.2 442.8 1629.2 438.9 1628.5 434.9 1629.4 432.0 1633.4 430.5 1637 428.7 1643.2 428.4 1652.5 428.9 1658.8 428.9 1662.4 430.6 1665.8 432.3 1666.1 435.2Z" fill="#000"/><ellipse cx="1640.0" cy="438.9" rx="5.5" ry="4.6" fill="none" stroke="#fff" stroke-width="0.8"/><ellipse cx="1640.0" cy="438.9" rx="3.8" ry="3.2" fill="none" stroke="#fff" stroke-width="0.8"/><ellipse cx="1640.0" cy="438.9" rx="2.3" ry="1.9" fill="none" stroke="#fff" stroke-width="0.9"/><ellipse cx="1640.0" cy="438.9" rx="0.8" ry="0.8" fill="#fff"/><ellipse cx="1656.0" cy="438.9" rx="5.5" ry="4.6" fill="none" stroke="#fff" stroke-width="0.8"/><ellipse cx="1656.0" cy="438.9" rx="3.8" ry="3.2" fill="none" stroke="#fff" stroke-width="0.8"/><ellipse cx="1656.0" cy="438.9" rx="2.3" ry="1.9" fill="none" stroke="#fff" stroke-width="0.9"/><ellipse cx="1656.0" cy="438.9" rx="0.8" ry="0.8" fill="#fff"/>
<path d="M1645.3 447.5 1644 452.9 1644.5 459.1 1643.2 463.9 1640.8 466.0 1638.4 466.8 1636.2 468.3 1633.7 469.3 1631.2 469.1 1628.8 467.4 1626.8 464.0 1625.5 459.1 1624.7 453.6 1625.8 447.5 1626.1 442.2 1626.4 437.0 1626.8 431.0 1629.1 428.6 1631 425.0 1633.6 424.5 1636.4 424.1 1638.5 427.7 1640.8 429.0 1642 433.4 1644.4 436.0 1644.2 442.0Z" fill="none" stroke="#000" stroke-width="0.8"/><path d="M1642.6 447.5 1641.7 451.5 1641.7 455.6 1640.4 458.3 1639 460.4 1637.9 464.0 1635.9 462.4 1634 464.6 1632.3 462.9 1630.5 462.0 1629.6 458.4 1628 456.0 1628.3 451.5 1627.9 447.5 1628.3 443.5 1628.1 439.1 1629.4 436.2 1630.7 433.7 1632.3 432.3 1634 431.6 1636 430.8 1637.9 431.0 1638.9 434.9 1640.3 436.9 1641.9 439.1 1642.6 443.0Z" fill="none" stroke="#000" stroke-width="0.8"/><path d="M1639.1 447.5 1639.4 450.1 1638.9 452.3 1638.4 454.3 1637.7 456.1 1636.6 456.4 1635.5 456.6 1634.4 456.9 1633.2 457.6 1632.3 456.2 1631.9 453.7 1630.8 452.6 1630.9 450.0 1630.8 447.5 1630.8 445.0 1630.8 442.3 1631.5 440.5 1632.3 438.8 1633.4 438.6 1634.4 437.7 1635.6 437.0 1636.6 438.2 1637.6 439.2 1638.4 440.6 1638.9 442.7 1639.6 444.8Z" fill="none" stroke="#000" stroke-width="0.8"/>
<ellipse cx="1262.0" cy="398.0" rx="1.2" ry="1.0" fill="#000"/>
<ellipse cx="1159.0" cy="450.0" rx="1.0" ry="0.8" fill="#000"/>
<ellipse cx="1328.0" cy="587.0" rx="1.0" ry="0.8" fill="#000"/>
<ellipse cx="1260.0" cy="983.0" rx="1.2" ry="1.0" fill="#000"/>
<text x="1219.0" y="668.5" font-size="24" font-weight="bold" fill="#e8231c" style="fill:#e8231c" font-style="italic">1</text><ellipse cx="1251.5" cy="645.0" rx="15.5" ry="10.5" fill="none" stroke="#e8231c" stroke-width="2.6" stroke-dasharray="5 3" transform="rotate(-20 1251.5 645.0)"/>
<rect x="927.7" y="377.8" width="810.9" height="634.7" fill="none" stroke="#000" stroke-width="1.6"/>
<path d="M1736.6 1012.5v10M1725.8 1012.5v6.5M1715.0 1012.5v6.5M1704.2 1012.5v6.5M1693.4 1012.5v6.5M1682.6 1012.5v12.5M1671.9 1012.5v6.5M1661.1 1012.5v6.5M1650.3 1012.5v6.5M1639.5 1012.5v6.5M1628.7 1012.5v10M1617.9 1012.5v6.5M1607.2 1012.5v6.5M1596.4 1012.5v6.5M1585.6 1012.5v6.5M1574.8 1012.5v12.5M1564.0 1012.5v6.5M1553.2 1012.5v6.5M1542.4 1012.5v6.5M1531.7 1012.5v6.5M1520.9 1012.5v10M1510.1 1012.5v6.5M1499.3 1012.5v6.5M1488.5 1012.5v6.5M1477.7 1012.5v6.5M1467.0 1012.5v12.5M1456.2 1012.5v6.5M1445.4 1012.5v6.5M1434.6 1012.5v6.5M1423.8 1012.5v6.5M1413.0 1012.5v10M1402.2 1012.5v6.5M1391.5 1012.5v6.5M1380.7 1012.5v6.5M1369.9 1012.5v6.5M1359.1 1012.5v12.5M1348.3 1012.5v6.5M1337.5 1012.5v6.5M1326.7 1012.5v6.5M1316.0 1012.5v6.5M1305.2 1012.5v10M1294.4 1012.5v6.5M1283.6 1012.5v6.5M1272.8 1012.5v6.5M1262.0 1012.5v6.5M1251.2 1012.5v12.5M1240.5 1012.5v6.5M1229.7 1012.5v6.5M1218.9 1012.5v6.5M1208.1 1012.5v6.5M1197.3 1012.5v10M1186.5 1012.5v6.5M1175.8 1012.5v6.5M1165.0 1012.5v6.5M1154.2 1012.5v6.5M1143.4 1012.5v12.5M1132.6 1012.5v6.5M1121.8 1012.5v6.5M1111.0 1012.5v6.5M1100.3 1012.5v6.5M1089.5 1012.5v10M1078.7 1012.5v6.5M1067.9 1012.5v6.5M1057.1 1012.5v6.5M1046.3 1012.5v6.5M1035.5 1012.5v12.5M1024.8 1012.5v6.5M1014.0 1012.5v6.5M1003.2 1012.5v6.5M992.4 1012.5v6.5M981.6 1012.5v10M970.8 1012.5v6.5M960.1 1012.5v6.5M949.3 1012.5v6.5M938.5 1012.5v6.5M1738.6 378.8h9.5M1738.6 386.2h6.5M1738.6 393.6h6.5M1738.6 401.1h6.5M1738.6 408.6h6.5M1738.6 416.0h13M1738.6 423.4h6.5M1738.6 430.9h6.5M1738.6 438.3h6.5M1738.6 445.8h6.5M1738.6 453.3h9.5M1738.6 460.7h6.5M1738.6 468.2h6.5M1738.6 475.6h6.5M1738.6 483.0h6.5M1738.6 490.5h13M1738.6 497.9h6.5M1738.6 505.4h6.5M1738.6 512.9h6.5M1738.6 520.3h6.5M1738.6 527.8h9.5M1738.6 535.2h6.5M1738.6 542.6h6.5M1738.6 550.1h6.5M1738.6 557.5h6.5M1738.6 565.0h13M1738.6 572.5h6.5M1738.6 579.9h6.5M1738.6 587.4h6.5M1738.6 594.8h6.5M1738.6 602.2h9.5M1738.6 609.7h6.5M1738.6 617.1h6.5M1738.6 624.6h6.5M1738.6 632.0h6.5M1738.6 639.5h13M1738.6 647.0h6.5M1738.6 654.4h6.5M1738.6 661.9h6.5M1738.6 669.3h6.5M1738.6 676.7h9.5M1738.6 684.2h6.5M1738.6 691.6h6.5M1738.6 699.1h6.5M1738.6 706.6h6.5M1738.6 714.0h13M1738.6 721.5h6.5M1738.6 728.9h6.5M1738.6 736.3h6.5M1738.6 743.8h6.5M1738.6 751.2h9.5M1738.6 758.7h6.5M1738.6 766.2h6.5M1738.6 773.6h6.5M1738.6 781.1h6.5M1738.6 788.5h13M1738.6 795.9h6.5M1738.6 803.4h6.5M1738.6 810.8h6.5M1738.6 818.3h6.5M1738.6 825.8h9.5M1738.6 833.2h6.5M1738.6 840.7h6.5M1738.6 848.1h6.5M1738.6 855.5h6.5M1738.6 863.0h13M1738.6 870.4h6.5M1738.6 877.9h6.5M1738.6 885.4h6.5M1738.6 892.8h6.5M1738.6 900.3h9.5M1738.6 907.7h6.5M1738.6 915.1h6.5M1738.6 922.6h6.5M1738.6 930.0h6.5M1738.6 937.5h13M1738.6 945.0h6.5M1738.6 952.4h6.5M1738.6 959.9h6.5M1738.6 967.3h6.5M1738.6 974.8h9.5M1738.6 982.2h6.5M1738.6 989.6h6.5M1738.6 997.1h6.5M1738.6 1004.5h6.5" stroke="#000" stroke-width="1.3" fill="none"/>
<text x="927.7" y="1047.5" text-anchor="middle" font-size="22">8.7</text>
<text x="1035.5" y="1047.5" text-anchor="middle" font-size="22">8.6</text>
<text x="1143.4" y="1047.5" text-anchor="middle" font-size="22">8.5</text>
<text x="1251.2" y="1047.5" text-anchor="middle" font-size="22">8.4</text>
<text x="1359.1" y="1047.5" text-anchor="middle" font-size="22">8.3</text>
<text x="1467.0" y="1047.5" text-anchor="middle" font-size="22">8.2</text>
<text x="1574.8" y="1047.5" text-anchor="middle" font-size="22">8.1</text>
<text x="1682.6" y="1047.5" text-anchor="middle" font-size="22">8.0</text>
<text x="1756.6" y="424.0" font-size="22">8.0</text>
<text x="1756.6" y="498.5" font-size="22">8.1</text>
<text x="1756.6" y="573.0" font-size="22">8.2</text>
<text x="1756.6" y="647.5" font-size="22">8.3</text>
<text x="1756.6" y="722.0" font-size="22">8.4</text>
<text x="1756.6" y="796.5" font-size="22">8.5</text>
<text x="1756.6" y="871.0" font-size="22">8.6</text>
<text x="1756.6" y="945.5" font-size="22">8.7</text>
<text x="1284.3" y="1070.5" font-size="22"><tspan font-size="13" dy="-8">1</tspan><tspan dy="8">H ppm</tspan></text>
<text transform="translate(1815.0,731.5) rotate(-90)" font-size="22"><tspan font-size="13" dy="-8">1</tspan><tspan dy="8">H ppm</tspan></text>
<text transform="translate(1015.0,959.6) rotate(90)" font-size="18" text-anchor="start">E(+5)</text>
<text transform="translate(1038.2,959.6) rotate(90)" font-size="18" text-anchor="start">E(+4)</text>
<text transform="translate(1090.6,953.0) rotate(90)" font-size="18" text-anchor="start">D(+8)</text>
<text transform="translate(1109.4,948.0) rotate(90)" font-size="18" text-anchor="start">G(+6)</text>
<text transform="translate(1128.0,944.6) rotate(90)" font-size="18" text-anchor="start">F(+1)</text>
<text transform="translate(1171.8,928.4) rotate(90)" font-size="18" text-anchor="start">E(+3)</text>
<text transform="translate(1225.5,908.4) rotate(90)" font-size="18" text-anchor="start">Q(-2)</text>
<text transform="translate(1246.7,907.0) rotate(90)" font-size="18" font-weight="bold" text-anchor="start">G(-1)</text>
<text transform="translate(1268.0,896.0) rotate(90)" font-size="18" text-anchor="start">E(+7)</text>
<text transform="translate(1290.4,886.0) rotate(90)" font-size="18" text-anchor="start">E(+9)</text>
<text transform="translate(1328.8,861.3) rotate(90)" font-size="18" text-anchor="start">A(-5)</text>
<text transform="translate(1347.5,853.8) rotate(90)" font-size="18" font-weight="bold" text-anchor="start">E(+2)</text>
<text transform="translate(1368.0,843.3) rotate(90)" font-size="18" text-anchor="start">E(0)</text>
<text transform="translate(1388.8,829.8) rotate(90)" font-size="18" text-anchor="start">E(-3)</text>
<text transform="translate(1409.0,820.8) rotate(90)" font-size="18" text-anchor="start">T(-6)</text>
<text transform="translate(1430.0,808.0) rotate(90)" font-size="18" text-anchor="start">D(-4)</text>
<text transform="translate(1644.8,618.4) rotate(90)" font-size="18" text-anchor="start">A(+10)</text>
<text transform="translate(1617.5,669.8) rotate(90)" font-size="18" text-anchor="start">E(0)</text>
<text transform="translate(1598.0,658.0) rotate(90)" font-size="18" text-anchor="start">glutamyl</text>
<polyline points="122.2,1465.2 122.2,2008.0" fill="none" stroke="#000" stroke-width="0.9"/>
<polyline points="274.2,1465.2 274.2,2005.5" fill="none" stroke="#000" stroke-width="0.9"/>
<polyline points="288.7,1465.2 288.7,2005.5" fill="none" stroke="#000" stroke-width="0.9"/>
<polyline points="377.6,1465.2 377.6,1992.1 355.0,2011.8" fill="none" stroke="#000" stroke-width="0.9"/>
<polyline points="404.9,1465.2 404.9,1993.2 380.5,2013.0" fill="none" stroke="#000" stroke-width="0.9"/>
<polyline points="426.2,1465.2 426.2,1993.2 407.1,2012.5" fill="none" stroke="#000" stroke-width="0.9"/>
<polyline points="430.4,1465.2 430.4,2011.8" fill="none" stroke="#000" stroke-width="2.0"/>
<polyline points="436.2,1465.2 436.2,1993.2 452.9,2013.0" fill="none" stroke="#000" stroke-width="0.9"/>
<polyline points="449.6,1465.2 449.6,1993.2 475.4,2012.5" fill="none" stroke="#000" stroke-width="0.9"/>
<polyline points="459.9,1465.2 459.9,1993.2 503.2,2014.0" fill="none" stroke="#000" stroke-width="0.9"/>
<polyline points="474.9,1465.2 474.9,1993.2 527.0,2013.4" fill="none" stroke="#000" stroke-width="0.9"/>
<polyline points="478.2,1465.2 478.2,1993.2 551.8,2014.8" fill="none" stroke="#000" stroke-width="0.9"/>
<polyline points="490.7,1465.2 490.7,1991.6 578.4,2014.0" fill="none" stroke="#000" stroke-width="0.9"/>
<polyline points="521.2,1465.2 521.2,1991.6 603.8,2013.4" fill="none" stroke="#000" stroke-width="0.9"/>
<polyline points="586.4,1465.2 586.4,1897.2 642.0,1989.8" fill="none" stroke="#000" stroke-width="0.9"/>
<polyline points="684.6,1465.2 684.6,2003.7" fill="none" stroke="#000" stroke-width="2.0"/>
<path d="M320 2083 321 2084 315 2084 309 2084 309 2083 310 2081 315 2081 320 2081ZM720 2083 718 2084 713 2084 711 2084 706 2083 710 2083 713 2082 719 2082ZM596 2079 592 2081 590 2081 588 2081 584 2079 588 2077 590 2075 593 2077ZM431 2074 430 2077 425 2078 420 2077 419 2074 422 2072 425 2069 430 2070ZM746 2080 747 2081 743 2082 741 2080 737 2080 740 2079 743 2078 746 2079ZM636 2074 636 2077 634 2078 633 2076 631 2074 633 2073 634 2073 636 2072ZM48 2074 46 2075 44 2076 42 2075 42 2074 42 2073 44 2073 46 2073ZM502 2067 501 2069 496 2068 492 2068 486 2067 491 2065 496 2064 498 2066ZM357 2074 355 2075 351 2076 348 2075 345 2074 347 2073 351 2074 353 2074ZM564 2070 563 2071 560 2072 556 2072 556 2070 557 2069 560 2068 562 2070ZM479 2065 478 2066 474 2066 472 2065 469 2065 471 2064 474 2062 479 2063ZM708 2075 707 2076 703 2077 700 2076 695 2075 697 2073 703 2074 707 2074ZM667 2081 667 2083 665 2084 663 2083 662 2081 662 2078 665 2079 666 2080ZM779 2080 776 2082 774 2084 770 2083 769 2080 771 2078 774 2077 776 2078ZM209 2066 206 2067 201 2068 195 2067 193 2066 196 2065 201 2066 206 2065ZM162 2074 160 2076 156 2078 152 2076 148 2074 152 2073 156 2073 161 2073ZM681 2082 675 2084 672 2085 666 2085 668 2082 669 2081 672 2080 677 2080ZM359 2081 360 2082 357 2083 356 2081 355 2081 356 2080 357 2080 359 2080ZM540 2064 540 2065 537 2065 535 2064 534 2064 534 2063 537 2062 540 2063ZM327 2084 327 2085 323 2085 320 2085 319 2084 321 2083 323 2082 327 2082ZM366 2070 363 2071 360 2072 355 2071 352 2070 354 2068 360 2068 365 2068ZM472 2059 471 2060 470 2061 468 2062 468 2059 469 2058 470 2055 471 2058ZM703 2070 697 2071 694 2073 689 2071 686 2070 691 2069 694 2067 701 2067ZM70 2080 70 2081 68 2082 66 2081 65 2080 66 2079 68 2078 70 2079ZM803 2076 802 2078 797 2079 792 2079 793 2076 795 2075 797 2073 803 2074ZM435 2072 435 2073 433 2073 431 2073 430 2072 430 2070 433 2070 435 2070ZM352 2066 351 2066 350 2066 348 2066 347 2066 347 2065 350 2065 353 2065ZM409 2080 408 2082 403 2083 399 2081 395 2080 396 2077 403 2078 406 2079ZM563 2084 562 2085 559 2085 558 2085 555 2084 557 2083 559 2082 562 2082ZM91 2078 90 2079 88 2079 86 2079 85 2078 85 2077 88 2076 90 2076ZM785 2062 786 2064 783 2066 782 2063 779 2062 781 2060 783 2059 786 2060ZM262 2081 260 2084 255 2084 251 2084 250 2081 250 2079 255 2078 260 2079ZM531 2077 526 2078 524 2078 519 2078 518 2077 520 2076 524 2075 527 2076ZM276 2077 273 2078 269 2079 265 2078 261 2077 266 2076 269 2075 272 2076ZM638 2069 638 2072 634 2071 631 2071 631 2069 632 2068 634 2065 638 2067ZM174 2078 170 2079 167 2080 164 2079 161 2078 162 2075 167 2076 170 2076ZM648 2066 647 2068 644 2069 641 2068 641 2066 641 2064 644 2064 647 2064ZM606 2069 604 2071 600 2071 597 2071 597 2069 597 2068 600 2067 604 2068ZM476 2073 475 2074 472 2074 468 2074 465 2073 469 2072 472 2071 476 2072ZM507 2071 506 2073 500 2074 496 2073 493 2071 496 2070 500 2070 502 2071ZM87 2071 86 2073 81 2073 78 2073 75 2071 78 2070 81 2070 87 2069ZM598 2072 597 2073 595 2074 592 2073 590 2072 592 2071 595 2071 597 2071ZM344 2062 343 2063 342 2064 340 2063 339 2062 341 2061 342 2060 344 2060ZM198 2063 196 2064 194 2065 191 2064 188 2063 191 2062 194 2061 197 2062ZM222 2078 221 2080 219 2080 218 2079 218 2078 218 2077 219 2076 220 2077ZM548 2083 547 2085 542 2085 540 2085 538 2083 538 2080 542 2081 545 2082ZM703 2067 704 2070 699 2071 694 2070 693 2067 694 2064 699 2064 703 2065ZM408 2077 407 2079 403 2079 399 2079 401 2077 400 2075 403 2074 408 2075ZM104 2078 100 2080 97 2082 92 2080 92 2078 93 2076 97 2076 100 2076ZM785 2062 785 2063 784 2064 782 2064 781 2062 783 2061 784 2060 786 2059ZM356 2081 357 2083 355 2082 354 2082 351 2081 353 2080 355 2079 356 2081ZM398 2073 396 2075 391 2075 387 2075 386 2073 389 2071 391 2069 395 2071ZM676 2071 675 2071 671 2071 667 2072 664 2071 667 2070 671 2069 675 2070ZM820 2061 818 2062 816 2063 813 2063 812 2061 813 2060 816 2060 818 2060ZM783 2068 780 2070 777 2073 775 2070 775 2068 774 2065 777 2065 780 2065ZM533 2082 533 2084 530 2085 529 2084 528 2082 528 2081 530 2080 532 2081ZM582 2078 581 2079 579 2079 578 2079 576 2078 578 2076 579 2076 582 2076ZM667 2079 666 2080 665 2080 664 2080 663 2079 663 2078 665 2078 667 2078ZM649 2064 648 2065 647 2066 647 2065 646 2064 646 2062 647 2061 649 2062ZM234 2075 230 2076 227 2077 223 2077 220 2075 223 2072 227 2071 231 2072ZM249 2075 248 2078 243 2079 237 2078 235 2075 238 2073 243 2072 246 2073ZM817 2068 817 2071 813 2070 810 2070 808 2068 810 2066 813 2064 817 2065ZM768 2073 768 2075 764 2076 762 2074 759 2073 761 2072 764 2071 769 2071ZM791 2082 789 2083 787 2084 785 2084 783 2082 786 2081 787 2080 789 2081ZM126 2078 125 2078 124 2079 122 2079 121 2078 122 2076 124 2076 125 2077ZM249 2066 247 2066 245 2067 240 2067 242 2066 241 2064 245 2064 249 2064ZM563 2060 564 2062 559 2062 556 2061 550 2060 554 2059 559 2059 561 2060ZM333 2062 333 2064 331 2063 330 2063 327 2062 328 2061 331 2060 332 2062ZM306 2077 306 2078 302 2078 300 2077 299 2077 300 2076 302 2076 305 2076ZM694 2082 691 2084 685 2083 682 2083 681 2082 683 2082 685 2080 690 2081ZM724 2081 722 2083 717 2085 714 2082 711 2081 713 2078 717 2078 722 2078ZM283 2067 281 2069 278 2070 274 2069 275 2067 274 2064 278 2065 279 2066ZM423 2075 422 2077 420 2079 417 2078 415 2075 417 2073 420 2072 422 2073ZM700 2080 699 2082 697 2084 693 2084 693 2080 693 2077 697 2076 699 2078ZM265 2068 262 2070 259 2071 256 2070 254 2068 257 2067 259 2066 263 2066ZM251 2082 250 2085 245 2085 242 2084 240 2082 243 2081 245 2078 248 2080ZM403 2064 402 2065 399 2066 397 2065 391 2064 396 2062 399 2062 403 2062ZM431 2079 429 2080 428 2082 426 2081 425 2079 427 2077 428 2077 430 2076ZM361 2075 360 2077 357 2077 354 2077 354 2075 354 2074 357 2074 360 2073ZM442 2065 440 2067 438 2069 434 2067 434 2065 436 2063 438 2062 442 2062ZM518 2068 519 2069 515 2070 512 2069 507 2068 512 2067 515 2066 521 2067ZM343 2060 341 2062 337 2061 334 2061 333 2060 334 2059 337 2058 339 2059ZM578 2065 578 2067 574 2066 571 2066 570 2065 572 2063 574 2062 577 2063ZM456 2074 455 2075 451 2075 447 2075 447 2074 447 2073 451 2073 453 2073ZM678 2084 676 2085 673 2085 670 2085 670 2084 670 2083 673 2082 676 2083ZM454 2071 453 2073 450 2075 447 2074 446 2071 446 2068 450 2067 454 2069ZM814 2084 814 2085 810 2085 807 2085 803 2084 806 2082 810 2081 812 2082ZM464 2083 464 2084 462 2085 461 2084 461 2083 460 2081 462 2081 464 2081ZM159 2082 156 2083 153 2084 149 2083 144 2082 150 2081 153 2079 157 2080ZM370 2079 371 2081 366 2081 362 2081 360 2079 364 2078 366 2077 370 2078ZM801 2073 800 2075 799 2075 796 2075 795 2073 797 2071 799 2070 800 2071ZM665 2074 666 2075 662 2075 659 2075 659 2074 659 2072 662 2072 666 2073ZM322 2078 324 2079 317 2080 312 2079 309 2078 314 2077 317 2076 323 2076ZM506 2075 505 2075 502 2076 498 2076 496 2075 495 2073 502 2073 506 2074ZM583 2076 581 2077 580 2078 579 2077 576 2076 578 2076 580 2075 582 2076ZM558 2070 557 2072 553 2072 549 2071 546 2070 548 2069 553 2068 556 2069ZM45 2064 43 2065 39 2066 35 2065 34 2064 36 2063 39 2063 41 2063ZM659 2082 657 2083 655 2085 652 2083 650 2082 649 2080 655 2080 658 2080ZM408 2083 407 2084 403 2084 401 2083 398 2083 400 2082 403 2082 405 2082ZM264 2083 265 2085 263 2085 262 2085 260 2083 261 2081 263 2079 265 2081ZM526 2060 525 2061 523 2061 522 2061 522 2060 522 2059 523 2059 525 2059ZM45 2082 44 2083 42 2085 39 2084 38 2082 40 2081 42 2081 44 2081ZM68 2074 67 2075 66 2076 64 2075 62 2074 63 2073 66 2073 68 2073ZM623 2083 622 2084 620 2085 618 2084 616 2083 618 2082 620 2082 622 2082ZM369 2075 371 2078 365 2079 360 2078 357 2075 362 2074 365 2071 371 2072ZM781 2077 780 2079 777 2080 772 2079 771 2077 772 2076 777 2075 780 2076ZM277 2083 279 2085 273 2084 266 2085 267 2083 269 2082 273 2082 277 2082ZM475 2066 473 2069 467 2068 464 2068 462 2066 464 2065 467 2062 473 2063ZM752 2070 752 2072 750 2074 749 2071 747 2070 749 2068 750 2066 751 2068ZM741 2075 741 2077 738 2076 733 2077 733 2075 735 2075 738 2074 740 2075ZM277 2067 275 2069 272 2070 270 2069 270 2067 271 2066 272 2064 275 2066ZM328 2080 326 2081 325 2082 322 2081 321 2080 322 2079 325 2078 328 2078ZM236 2080 230 2081 227 2083 224 2081 220 2080 223 2078 227 2076 233 2077ZM822 2080 824 2081 818 2081 813 2081 814 2080 815 2080 818 2079 821 2080ZM435 2077 432 2079 427 2078 425 2078 421 2077 422 2074 427 2075 432 2075ZM378 2083 377 2085 375 2085 374 2084 373 2083 373 2080 375 2080 377 2081ZM440 2067 438 2069 435 2071 430 2070 429 2067 432 2066 435 2063 439 2065ZM197 2074 195 2076 192 2078 189 2077 188 2074 190 2072 192 2071 195 2072ZM686 2079 686 2080 684 2080 683 2080 683 2079 682 2077 684 2076 685 2078ZM165 2066 165 2068 161 2070 158 2068 159 2066 158 2065 161 2064 163 2065ZM658 2075 655 2076 651 2077 649 2076 646 2075 648 2073 651 2072 654 2073ZM29 2061 30 2063 25 2064 22 2062 17 2061 21 2060 25 2058 28 2060ZM251 2079 249 2080 248 2082 245 2081 244 2079 246 2077 248 2077 250 2077ZM240 2064 236 2064 233 2065 227 2065 225 2064 227 2062 233 2063 236 2063ZM323 2073 319 2075 314 2075 309 2075 306 2073 308 2070 314 2070 318 2071ZM515 2070 514 2071 511 2072 506 2072 506 2070 506 2069 511 2068 513 2070ZM685 2084 686 2085 681 2085 676 2085 675 2084 676 2082 681 2082 684 2083ZM747 2073 745 2074 743 2077 739 2075 737 2073 740 2072 743 2071 746 2071ZM682 2077 680 2078 677 2079 673 2079 670 2077 675 2076 677 2075 681 2075ZM549 2068 549 2069 545 2069 541 2069 541 2068 540 2065 545 2064 548 2066ZM631 2063 626 2064 623 2067 620 2064 616 2063 618 2061 623 2061 627 2061ZM732 2079 730 2081 729 2084 727 2081 726 2079 725 2077 729 2077 731 2077ZM713 2078 710 2079 706 2080 700 2080 697 2078 704 2077 706 2076 710 2077ZM656 2078 656 2081 653 2082 652 2080 650 2078 652 2076 653 2076 654 2077ZM583 2080 583 2081 582 2083 580 2081 580 2080 580 2079 582 2077 583 2079ZM733 2081 731 2082 729 2083 725 2083 726 2081 726 2079 729 2077 734 2078ZM709 2081 706 2082 704 2082 701 2082 699 2081 701 2080 704 2078 708 2079ZM616 2081 618 2083 611 2083 605 2083 605 2081 606 2080 611 2080 615 2080ZM356 2082 356 2085 354 2085 352 2085 352 2082 352 2079 354 2079 356 2079ZM495 2083 496 2084 493 2084 490 2083 489 2083 490 2082 493 2081 495 2082ZM227 2064 225 2065 220 2066 218 2065 216 2064 216 2063 220 2063 225 2063ZM796 2081 795 2084 791 2085 788 2082 786 2081 787 2078 791 2078 795 2078ZM749 2075 749 2077 746 2080 743 2077 740 2075 742 2072 746 2072 750 2073ZM472 2079 472 2081 469 2082 467 2080 464 2079 466 2077 469 2077 471 2077ZM100 2072 99 2074 96 2075 93 2075 90 2072 93 2071 96 2069 101 2070ZM253 2074 252 2075 250 2075 248 2075 246 2074 247 2073 250 2073 251 2073ZM792 2063 792 2065 787 2065 783 2065 780 2063 782 2062 787 2062 792 2062ZM274 2075 273 2076 267 2076 263 2075 258 2075 264 2074 267 2073 271 2073ZM263 2078 263 2080 261 2080 260 2079 259 2078 259 2076 261 2077 262 2077ZM381 2083 378 2084 376 2084 373 2085 373 2083 372 2081 376 2080 378 2081ZM289 2076 287 2077 285 2078 283 2077 283 2076 283 2075 285 2074 287 2075ZM681 2065 681 2067 676 2067 671 2066 671 2065 669 2064 676 2064 680 2064ZM812 2081 811 2082 810 2085 807 2084 808 2081 808 2079 810 2077 811 2079ZM269 2084 265 2085 261 2085 256 2085 255 2084 257 2082 261 2081 265 2082ZM753 2083 751 2085 749 2085 745 2085 745 2083 744 2081 749 2081 753 2081ZM126 2068 125 2069 122 2070 120 2069 118 2068 118 2067 122 2066 125 2067ZM820 2059 819 2061 817 2063 815 2061 814 2059 813 2057 817 2057 820 2057ZM704 2075 704 2075 700 2076 697 2075 694 2075 697 2074 700 2073 703 2074ZM202 2064 203 2066 196 2067 191 2066 191 2064 192 2063 196 2062 200 2063ZM302 2078 301 2079 297 2080 295 2079 290 2078 293 2076 297 2076 302 2076ZM627 2070 627 2071 624 2071 621 2072 620 2070 622 2069 624 2067 627 2069ZM94 2070 90 2071 87 2072 83 2071 81 2070 81 2067 87 2068 91 2067ZM363 2074 361 2075 359 2076 357 2075 357 2074 358 2073 359 2071 361 2072ZM176 2069 176 2070 173 2071 171 2070 169 2069 171 2068 173 2066 177 2067ZM303 2076 302 2079 295 2079 290 2079 288 2076 289 2074 295 2072 299 2075ZM494 2076 495 2078 491 2077 486 2078 486 2076 488 2074 491 2074 494 2074ZM395 2081 393 2083 390 2083 388 2082 386 2081 388 2080 390 2079 394 2079ZM119 2072 118 2074 115 2074 112 2074 113 2072 112 2070 115 2070 118 2070ZM266 2074 264 2076 262 2078 258 2077 259 2074 260 2073 262 2070 265 2071ZM766 2079 767 2081 763 2082 760 2080 760 2079 761 2078 763 2077 768 2077ZM618 2068 616 2070 614 2071 612 2070 611 2068 612 2066 614 2065 616 2067ZM50 2066 48 2067 46 2067 42 2067 40 2066 41 2064 46 2065 48 2065ZM528 2064 528 2066 525 2066 523 2065 522 2064 521 2061 525 2061 526 2062ZM311 2074 307 2075 303 2077 297 2076 297 2074 301 2073 303 2072 309 2072ZM716 2073 714 2074 713 2075 711 2075 710 2073 711 2071 713 2071 715 2070ZM769 2078 765 2079 761 2079 759 2078 754 2078 756 2076 761 2076 764 2077ZM277 2084 276 2085 274 2085 272 2085 271 2084 272 2082 274 2081 275 2082ZM784 2071 785 2073 781 2074 779 2072 774 2071 778 2070 781 2069 786 2070ZM243 2067 241 2069 237 2070 234 2068 230 2067 232 2065 237 2065 239 2066ZM365 2082 364 2083 359 2084 354 2083 355 2082 355 2081 359 2080 362 2081ZM79 2077 81 2080 76 2081 70 2080 67 2077 70 2075 76 2074 81 2074ZM459 2082 458 2084 455 2085 452 2084 451 2082 453 2081 455 2081 456 2081ZM450 2075 450 2076 449 2076 446 2077 447 2075 447 2073 449 2073 450 2074ZM695 2075 696 2077 691 2079 684 2078 685 2075 688 2074 691 2073 697 2073ZM235 2071 233 2072 231 2073 229 2073 227 2071 230 2069 231 2069 234 2069ZM501 2081 499 2082 496 2082 493 2082 490 2081 492 2079 496 2079 499 2080ZM785 2061 782 2062 779 2064 771 2063 770 2061 772 2058 779 2058 783 2059ZM165 2068 164 2069 162 2070 161 2069 161 2068 161 2067 162 2067 164 2068ZM432 2073 432 2074 429 2074 426 2074 426 2073 427 2073 429 2072 431 2073ZM390 2078 388 2079 382 2080 377 2079 376 2078 377 2076 382 2076 386 2077ZM543 2081 542 2083 539 2083 536 2083 537 2081 536 2080 539 2079 542 2079ZM708 2082 709 2084 705 2083 703 2083 702 2082 703 2081 705 2080 708 2080ZM450 2064 449 2066 445 2066 443 2065 441 2064 442 2062 445 2062 448 2062ZM744 2076 741 2077 738 2077 735 2077 733 2076 732 2075 738 2075 743 2075ZM801 2075 799 2076 795 2077 791 2077 790 2075 790 2073 795 2072 799 2074ZM593 2071 590 2073 588 2073 585 2073 583 2071 584 2069 588 2069 591 2069ZM380 2074 380 2078 378 2079 377 2076 376 2074 377 2073 378 2070 380 2072ZM795 2078 795 2080 792 2080 789 2080 788 2078 789 2077 792 2077 794 2077ZM466 2079 465 2081 463 2082 461 2081 461 2079 462 2078 463 2078 465 2078ZM600 2078 599 2081 597 2081 595 2080 594 2078 595 2076 597 2073 598 2076ZM453 2080 453 2082 449 2082 445 2081 444 2080 444 2079 449 2079 454 2079ZM548 2074 547 2075 545 2076 544 2075 542 2074 543 2072 545 2072 546 2073ZM306 2063 305 2064 304 2065 302 2064 300 2063 301 2062 304 2061 307 2062ZM421 2081 418 2082 416 2083 410 2084 408 2081 412 2079 416 2078 421 2078ZM804 2081 805 2083 801 2084 799 2082 799 2081 799 2080 801 2079 805 2078ZM400 2065 398 2066 396 2067 394 2067 393 2065 393 2064 396 2063 399 2064ZM368 2084 364 2085 361 2085 356 2085 355 2084 357 2082 361 2081 367 2082ZM236 2071 236 2072 234 2072 233 2072 233 2071 233 2071 234 2070 235 2071ZM809 2059 807 2061 804 2062 802 2060 798 2059 801 2058 804 2058 806 2058ZM492 2065 490 2067 489 2067 488 2068 487 2065 488 2064 489 2062 491 2063ZM596 2071 595 2073 591 2074 588 2073 582 2071 586 2069 591 2068 596 2070ZM422 2079 420 2082 416 2083 414 2081 413 2079 413 2076 416 2076 419 2077ZM289 2083 288 2084 286 2085 282 2085 280 2083 282 2081 286 2082 288 2082ZM381 2083 379 2085 377 2085 375 2085 375 2083 376 2082 377 2081 379 2082ZM617 2078 616 2079 613 2079 611 2079 609 2078 611 2077 613 2077 615 2077ZM672 2078 670 2080 668 2081 665 2081 666 2078 667 2077 668 2076 672 2076ZM806 2069 806 2071 801 2071 797 2071 794 2069 798 2069 801 2068 805 2068ZM478 2071 477 2072 473 2072 470 2072 469 2071 470 2070 473 2070 475 2070ZM780 2075 779 2077 778 2077 777 2076 775 2075 777 2075 778 2074 779 2074ZM814 2066 812 2067 809 2068 807 2067 805 2066 805 2065 809 2065 813 2065ZM252 2063 250 2064 247 2064 245 2064 243 2063 245 2061 247 2061 250 2061ZM285 2064 283 2066 280 2066 277 2066 277 2064 277 2062 280 2062 282 2062ZM767 2074 767 2077 765 2077 764 2076 762 2074 764 2073 765 2073 766 2073ZM756 2073 754 2074 753 2075 750 2075 750 2073 750 2071 753 2072 755 2071ZM469 2079 468 2081 467 2082 465 2082 465 2079 465 2076 467 2077 469 2076ZM281 2082 280 2083 276 2084 272 2083 269 2082 270 2081 276 2081 279 2081ZM348 2079 347 2082 344 2081 343 2080 340 2079 342 2077 344 2077 347 2077ZM486 2076 487 2077 483 2078 481 2077 481 2076 481 2075 483 2073 486 2074ZM375 2066 370 2068 366 2070 362 2068 359 2066 363 2064 366 2062 369 2064ZM713 2080 710 2081 707 2084 704 2082 699 2080 703 2078 707 2077 712 2078ZM461 2063 458 2064 455 2064 452 2064 451 2063 451 2062 455 2062 458 2062ZM366 2075 366 2077 362 2077 359 2077 359 2075 360 2074 362 2073 366 2073ZM100 2077 100 2078 95 2078 93 2077 88 2077 93 2076 95 2076 98 2076ZM692 2073 691 2073 687 2074 684 2073 681 2073 682 2072 687 2072 691 2072ZM31 2083 31 2085 28 2085 26 2085 26 2083 26 2081 28 2080 30 2081ZM590 2074 589 2077 583 2078 579 2076 577 2074 577 2072 583 2072 588 2073ZM450 2084 450 2085 449 2085 447 2085 444 2084 445 2081 449 2081 450 2082ZM757 2060 757 2062 755 2063 754 2062 754 2060 754 2059 755 2058 756 2059ZM298 2077 295 2078 289 2078 286 2078 280 2077 286 2076 289 2076 292 2076ZM674 2066 675 2068 671 2069 668 2067 667 2066 668 2065 671 2065 674 2064ZM240 2081 241 2082 238 2083 236 2082 233 2081 235 2079 238 2079 240 2080ZM607 2077 605 2078 601 2078 596 2078 596 2077 598 2076 601 2076 605 2076ZM242 2078 241 2081 238 2081 235 2081 234 2078 235 2075 238 2074 240 2077ZM321 2061 321 2064 319 2063 318 2063 317 2061 318 2060 319 2058 321 2060ZM721 2076 720 2078 717 2078 714 2077 714 2076 712 2075 717 2075 720 2075ZM307 2078 302 2080 298 2081 294 2080 288 2078 295 2077 298 2076 304 2076ZM213 2071 212 2072 210 2072 207 2072 206 2071 207 2070 210 2068 214 2069ZM326 2059 326 2062 323 2064 321 2061 318 2059 320 2058 323 2055 327 2056ZM729 2075 729 2077 725 2077 722 2077 719 2075 723 2074 725 2073 728 2075ZM573 2071 572 2072 571 2073 569 2072 568 2071 569 2070 571 2070 572 2070ZM414 2069 413 2071 409 2071 406 2070 402 2069 404 2066 409 2066 412 2067ZM724 2081 718 2081 715 2082 713 2081 711 2081 711 2080 715 2080 718 2080ZM73 2065 73 2067 67 2068 64 2066 60 2065 63 2062 67 2063 73 2062ZM747 2082 747 2083 743 2084 739 2084 736 2082 738 2080 743 2080 749 2080ZM744 2061 743 2062 742 2063 740 2063 739 2061 740 2060 742 2060 742 2061ZM283 2078 279 2079 276 2081 271 2081 270 2078 271 2075 276 2076 281 2075ZM342 2068 340 2069 336 2069 332 2069 330 2068 333 2067 336 2067 339 2067ZM811 2080 809 2082 806 2082 804 2081 804 2080 804 2078 806 2076 809 2078ZM542 2060 543 2061 541 2061 540 2060 539 2060 540 2059 541 2059 542 2059ZM291 2075 289 2075 288 2076 287 2075 285 2075 287 2074 288 2074 290 2073ZM256 2062 256 2063 253 2064 251 2063 248 2062 249 2060 253 2060 256 2060ZM639 2074 639 2077 635 2077 634 2076 631 2074 633 2072 635 2071 639 2072ZM640 2077 638 2078 636 2079 633 2078 632 2077 632 2075 636 2074 640 2075ZM554 2068 554 2070 551 2070 547 2070 546 2068 548 2066 551 2065 554 2066ZM437 2080 439 2083 434 2083 433 2082 432 2080 430 2078 434 2077 438 2078ZM347 2082 345 2082 343 2083 338 2083 336 2082 339 2081 343 2081 345 2081ZM228 2067 228 2070 223 2070 220 2069 216 2067 220 2066 223 2066 229 2064ZM404 2077 400 2078 396 2078 393 2078 392 2077 392 2076 396 2076 401 2076ZM822 2078 820 2080 816 2081 814 2079 811 2078 813 2076 816 2076 819 2077ZM782 2072 784 2074 777 2075 772 2074 770 2072 772 2069 777 2069 784 2069ZM595 2081 592 2082 589 2083 584 2082 580 2081 582 2079 589 2079 594 2080ZM345 2067 342 2068 340 2068 338 2068 335 2067 337 2066 340 2064 343 2066ZM450 2083 448 2084 443 2085 436 2084 439 2083 438 2081 443 2080 448 2081ZM433 2060 432 2061 427 2062 420 2062 422 2060 421 2058 427 2059 432 2058ZM677 2080 675 2082 672 2084 668 2083 669 2080 669 2079 672 2076 676 2078ZM629 2079 628 2080 624 2081 619 2081 617 2079 619 2077 624 2076 628 2077ZM306 2074 304 2075 303 2077 300 2077 299 2074 300 2071 303 2070 306 2071ZM261 2072 260 2073 258 2074 256 2073 255 2072 256 2071 258 2070 260 2070ZM293 2079 292 2081 291 2083 289 2082 288 2079 289 2077 291 2075 292 2077ZM284 2060 283 2061 281 2063 279 2061 277 2060 280 2059 281 2057 284 2058ZM487 2081 486 2083 483 2084 479 2083 476 2081 481 2080 483 2078 485 2080ZM697 2081 697 2083 694 2083 691 2083 690 2081 692 2079 694 2077 696 2079ZM149 2074 146 2075 140 2075 137 2074 133 2074 135 2073 140 2072 146 2072ZM205 2063 204 2064 202 2066 200 2064 196 2063 199 2061 202 2061 204 2062ZM698 2077 699 2079 695 2079 691 2079 688 2077 691 2075 695 2075 697 2075ZM348 2074 349 2076 345 2076 343 2076 341 2074 343 2073 345 2073 348 2073ZM686 2066 684 2067 680 2067 677 2067 674 2066 678 2065 680 2064 683 2065ZM412 2076 412 2077 410 2077 408 2077 408 2076 408 2075 410 2075 412 2075ZM232 2069 228 2071 224 2072 219 2072 218 2069 220 2068 224 2067 228 2068ZM267 2083 264 2085 258 2084 255 2084 252 2083 253 2081 258 2079 260 2082ZM586 2078 583 2079 579 2080 576 2079 571 2078 576 2078 579 2077 583 2077ZM300 2084 300 2085 296 2085 292 2085 293 2084 293 2082 296 2082 300 2082ZM554 2082 552 2083 546 2083 543 2083 538 2082 542 2081 546 2081 552 2081ZM778 2078 779 2081 772 2081 766 2081 766 2078 768 2076 772 2077 775 2077ZM766 2069 765 2070 762 2070 757 2070 759 2069 758 2068 762 2067 766 2068ZM138 2082 139 2083 135 2082 133 2082 130 2082 133 2081 135 2080 137 2081ZM183 2069 184 2071 179 2071 174 2072 174 2069 175 2067 179 2066 186 2066ZM509 2077 509 2079 503 2080 496 2079 496 2077 499 2077 503 2075 506 2077ZM510 2078 504 2079 501 2080 496 2080 495 2078 495 2075 501 2075 504 2077ZM404 2077 404 2079 400 2079 394 2080 395 2077 395 2075 400 2073 403 2076ZM488 2066 488 2068 486 2068 484 2068 483 2066 484 2065 486 2064 487 2065ZM689 2079 688 2080 686 2081 684 2080 681 2079 684 2078 686 2078 688 2078ZM417 2078 416 2078 413 2078 411 2078 409 2078 409 2076 413 2076 416 2077ZM48 2070 49 2071 45 2072 41 2071 39 2070 42 2068 45 2067 48 2068ZM554 2080 551 2082 549 2082 548 2081 546 2080 547 2079 549 2078 551 2079ZM276 2072 274 2072 273 2073 271 2072 271 2072 272 2071 273 2070 273 2071ZM379 2072 377 2073 375 2075 373 2073 371 2072 373 2070 375 2068 377 2070ZM614 2080 613 2081 611 2084 610 2082 609 2080 609 2077 611 2076 613 2078ZM803 2072 802 2073 799 2074 795 2073 794 2072 795 2071 799 2071 801 2071ZM423 2066 418 2067 414 2067 408 2067 405 2066 409 2065 414 2065 417 2065ZM619 2078 614 2080 611 2082 607 2080 607 2078 607 2076 611 2076 615 2076ZM681 2079 684 2081 677 2080 673 2081 673 2079 673 2078 677 2077 680 2078ZM418 2073 417 2074 416 2075 415 2074 414 2073 415 2072 416 2071 418 2071ZM263 2075 262 2078 257 2079 252 2078 250 2075 252 2072 257 2071 260 2073ZM251 2069 249 2070 245 2071 239 2070 241 2069 241 2068 245 2066 249 2068ZM809 2063 806 2065 800 2065 794 2065 796 2063 794 2061 800 2061 804 2062ZM482 2083 481 2084 479 2085 476 2084 473 2083 476 2081 479 2079 482 2081ZM768 2078 768 2079 764 2080 760 2079 759 2078 760 2077 764 2076 768 2077ZM99 2076 95 2078 90 2078 85 2077 86 2076 87 2075 90 2073 94 2074ZM797 2064 794 2065 792 2067 789 2065 782 2064 788 2063 792 2061 798 2062ZM257 2075 253 2075 250 2076 244 2076 244 2075 245 2073 250 2073 255 2074ZM339 2060 337 2062 334 2062 330 2062 330 2060 331 2059 334 2058 336 2059ZM340 2065 341 2068 336 2070 332 2068 329 2065 334 2064 336 2061 339 2064ZM196 2078 194 2079 192 2081 190 2079 187 2078 188 2076 192 2076 196 2076ZM699 2069 698 2071 695 2071 692 2071 692 2069 693 2068 695 2068 698 2068ZM518 2081 515 2082 512 2083 509 2083 506 2081 509 2080 512 2080 514 2081ZM466 2077 466 2078 464 2079 463 2078 461 2077 462 2076 464 2075 466 2076ZM382 2073 381 2075 378 2075 374 2075 376 2073 375 2072 378 2071 380 2072ZM245 2084 244 2085 242 2085 239 2085 237 2084 238 2083 242 2081 244 2083ZM488 2081 482 2082 479 2083 474 2083 471 2081 476 2080 479 2079 485 2080ZM693 2070 693 2072 689 2072 686 2071 683 2070 682 2067 689 2065 692 2068ZM519 2080 520 2082 518 2082 516 2081 516 2080 515 2079 518 2078 520 2079ZM775 2079 775 2081 773 2083 772 2080 771 2079 771 2076 773 2076 775 2076ZM598 2068 595 2069 592 2071 590 2069 586 2068 587 2065 592 2065 595 2067ZM462 2064 460 2066 458 2068 457 2065 456 2064 457 2063 458 2062 461 2062ZM241 2068 241 2069 240 2070 239 2069 237 2068 238 2065 240 2064 242 2065ZM249 2081 248 2082 246 2083 244 2082 242 2081 243 2080 246 2080 248 2080ZM542 2074 539 2075 536 2077 531 2076 531 2074 531 2072 536 2072 539 2073ZM289 2065 287 2066 284 2069 277 2068 275 2065 278 2063 284 2061 289 2063ZM341 2075 339 2076 335 2077 331 2076 327 2075 331 2074 335 2074 338 2074ZM575 2075 574 2077 571 2078 568 2078 567 2075 568 2073 571 2072 573 2074ZM170 2068 169 2069 164 2070 162 2069 156 2068 160 2066 164 2065 170 2066ZM110 2063 110 2065 108 2065 107 2065 106 2063 106 2061 108 2060 110 2060ZM819 2074 816 2075 811 2076 805 2075 803 2074 807 2074 811 2073 817 2073ZM211 2079 207 2080 204 2080 199 2080 197 2079 200 2078 204 2078 208 2078ZM322 2084 322 2085 321 2085 320 2085 318 2084 320 2083 321 2081 322 2082ZM482 2067 481 2070 476 2070 470 2070 469 2067 470 2064 476 2065 481 2065ZM561 2083 559 2085 554 2085 550 2085 549 2083 550 2082 554 2082 557 2083ZM817 2078 818 2081 813 2082 808 2081 810 2078 808 2076 813 2076 815 2077ZM287 2071 285 2072 281 2073 276 2073 273 2071 276 2068 281 2069 287 2068ZM665 2070 665 2072 660 2072 654 2072 654 2070 654 2069 660 2069 663 2070ZM575 2079 572 2080 571 2082 569 2080 569 2079 569 2078 571 2078 573 2078ZM422 2084 421 2084 420 2085 419 2085 419 2084 418 2083 420 2083 421 2083ZM397 2072 397 2074 394 2074 392 2073 392 2072 392 2070 394 2070 397 2070ZM768 2077 765 2078 763 2079 760 2080 759 2077 760 2074 763 2073 766 2074ZM106 2081 107 2082 102 2083 99 2081 97 2081 99 2080 102 2079 104 2080ZM332 2083 330 2085 329 2085 327 2085 327 2083 327 2081 329 2081 331 2081ZM419 2081 417 2083 413 2083 408 2083 409 2081 409 2079 413 2077 417 2079ZM410 2071 408 2073 405 2073 402 2074 402 2071 403 2069 405 2070 408 2069ZM467 2060 465 2061 463 2062 459 2061 461 2060 459 2057 463 2058 465 2058ZM787 2083 787 2085 781 2085 777 2084 775 2083 778 2082 781 2082 786 2082ZM53 2059 52 2061 51 2063 49 2062 47 2059 49 2058 51 2057 53 2057ZM408 2074 409 2077 405 2077 402 2077 401 2074 403 2073 405 2072 407 2073ZM451 2084 450 2085 443 2085 439 2085 436 2084 437 2082 443 2083 448 2082ZM130 2083 129 2084 125 2085 122 2084 120 2083 122 2082 125 2082 129 2082ZM498 2079 497 2081 494 2082 491 2081 490 2079 492 2077 494 2075 496 2077ZM315 2082 310 2082 308 2082 304 2082 305 2082 303 2081 308 2080 313 2080ZM540 2067 540 2069 536 2070 533 2069 530 2067 533 2065 536 2064 539 2065ZM784 2074 783 2075 780 2076 776 2075 776 2074 776 2073 780 2073 784 2073ZM296 2075 292 2076 287 2076 282 2077 281 2075 284 2074 287 2073 293 2074ZM772 2073 771 2074 769 2075 766 2074 765 2073 766 2072 769 2072 771 2073ZM410 2075 409 2078 404 2079 400 2077 396 2075 399 2073 404 2071 407 2073ZM616 2072 613 2075 608 2075 604 2075 602 2072 605 2070 608 2068 612 2070ZM446 2070 445 2072 440 2073 437 2071 430 2070 433 2066 440 2065 443 2068ZM459 2082 460 2083 456 2083 453 2083 451 2082 452 2081 456 2080 460 2081ZM428 2067 426 2069 425 2070 424 2069 423 2067 424 2065 425 2065 427 2066ZM760 2067 757 2068 754 2070 750 2069 749 2067 751 2065 754 2064 756 2066ZM518 2076 517 2078 515 2079 514 2078 513 2076 512 2073 515 2074 517 2075ZM588 2082 585 2083 581 2084 577 2083 577 2082 577 2080 581 2080 585 2080ZM134 2062 134 2065 132 2066 130 2064 129 2062 130 2061 132 2060 134 2061ZM725 2069 721 2070 716 2071 712 2070 711 2069 712 2069 716 2068 721 2069ZM420 2063 422 2065 418 2064 416 2064 415 2063 415 2061 418 2060 421 2060ZM760 2075 760 2078 756 2078 754 2077 752 2075 751 2072 756 2073 758 2074ZM668 2079 667 2081 666 2081 664 2081 663 2079 665 2077 666 2075 667 2078ZM284 2084 281 2084 279 2085 275 2085 275 2084 277 2083 279 2082 282 2083ZM785 2084 781 2085 778 2085 775 2085 772 2084 775 2082 778 2081 784 2081ZM663 2082 661 2083 659 2083 656 2083 656 2082 656 2081 659 2080 663 2080ZM310 2074 310 2075 308 2077 305 2076 304 2074 306 2072 308 2073 310 2073ZM313 2076 313 2078 312 2079 310 2078 309 2076 310 2073 312 2073 313 2075ZM509 2070 510 2071 508 2072 507 2070 506 2070 506 2068 508 2068 510 2068ZM409 2061 408 2062 406 2062 402 2063 403 2061 404 2060 406 2059 408 2060ZM296 2067 295 2068 293 2070 291 2069 287 2067 289 2065 293 2065 295 2066ZM234 2073 231 2075 226 2075 222 2074 218 2073 222 2072 226 2072 231 2071ZM317 2063 318 2065 313 2065 308 2065 308 2063 308 2060 313 2061 316 2061ZM778 2068 777 2070 774 2070 773 2069 772 2068 771 2065 774 2065 777 2066ZM491 2064 490 2065 488 2065 486 2065 484 2064 486 2063 488 2063 491 2063ZM281 2076 280 2078 278 2079 275 2078 276 2076 276 2074 278 2073 279 2074ZM333 2077 333 2079 331 2078 330 2078 329 2077 330 2075 331 2072 333 2074ZM643 2079 639 2080 637 2082 632 2081 632 2079 634 2077 637 2076 640 2077ZM441 2084 437 2085 436 2085 432 2085 432 2084 434 2083 436 2082 438 2082ZM436 2080 434 2082 430 2082 425 2082 423 2080 426 2079 430 2079 433 2079ZM464 2083 462 2084 460 2085 455 2085 454 2083 456 2082 460 2082 463 2082ZM640 2061 638 2062 636 2063 634 2062 634 2061 634 2060 636 2058 638 2059ZM386 2073 385 2076 379 2076 374 2075 375 2073 374 2071 379 2071 385 2071ZM80 2074 81 2077 75 2077 70 2077 67 2074 70 2072 75 2072 80 2072ZM767 2083 765 2085 764 2085 762 2085 762 2083 762 2082 764 2080 766 2081ZM775 2067 775 2069 773 2069 771 2069 770 2067 772 2066 773 2065 775 2065ZM109 2071 109 2074 106 2075 104 2073 103 2071 102 2069 106 2068 109 2069ZM711 2084 709 2085 708 2085 705 2085 705 2084 706 2083 708 2081 710 2082ZM631 2070 631 2071 629 2072 628 2071 627 2070 627 2068 629 2068 631 2068ZM594 2081 592 2082 590 2082 588 2082 589 2081 589 2080 590 2080 593 2079ZM776 2074 771 2076 768 2079 765 2077 764 2074 764 2071 768 2072 773 2071ZM729 2084 723 2085 719 2085 713 2085 715 2084 715 2082 719 2082 725 2082ZM814 2075 812 2077 809 2078 802 2078 804 2075 805 2073 809 2072 814 2073ZM649 2080 649 2082 645 2083 643 2082 642 2080 641 2077 645 2077 650 2077ZM545 2077 545 2080 542 2081 541 2078 539 2077 539 2074 542 2073 544 2075ZM362 2063 359 2064 355 2065 351 2064 348 2063 353 2062 355 2061 361 2061ZM795 2064 790 2065 786 2066 782 2065 778 2064 780 2063 786 2062 790 2063ZM686 2074 682 2075 678 2076 675 2075 673 2074 673 2071 678 2072 681 2072ZM557 2080 555 2082 554 2081 552 2082 551 2080 553 2079 554 2077 556 2078ZM262 2068 260 2070 258 2072 257 2069 256 2068 256 2066 258 2064 261 2065ZM264 2069 263 2070 259 2071 257 2070 255 2069 257 2068 259 2067 262 2068ZM444 2082 443 2084 440 2085 439 2083 438 2082 439 2081 440 2081 443 2081ZM460 2082 458 2083 456 2083 453 2083 452 2082 452 2080 456 2080 461 2079ZM290 2065 286 2066 284 2066 282 2066 279 2065 282 2064 284 2061 286 2064ZM750 2075 750 2077 748 2077 747 2077 747 2075 747 2074 748 2073 749 2074ZM494 2064 492 2065 490 2065 488 2065 487 2064 487 2062 490 2062 492 2062ZM62 2064 63 2066 61 2066 59 2065 59 2064 58 2061 61 2062 62 2062ZM512 2082 510 2082 508 2083 506 2082 503 2082 505 2080 508 2081 510 2081ZM507 2076 506 2078 504 2080 502 2078 503 2076 503 2074 504 2074 506 2074Z" fill="none" stroke="#7a7a7a" stroke-width="0.75"/>
<path d="M163.4 1751.0 161.8 1753.2 161.6 1755.4 159.1 1756.9 156.1 1757.9 154 1760.0 150.1 1760.4 145.8 1760.7 142.2 1759.7 139.1 1758.6 135.9 1757.5 134.2 1755.5 132.3 1753.5 132 1751.0 134.2 1748.8 134.6 1746.7 137.4 1745.4 139.1 1743.4 142.4 1742.5 146.1 1742.7 150 1742.3 153.8 1742.2 156.9 1743.4 159.1 1745.0 160.5 1746.9 163.6 1748.5Z" fill="none" stroke="#000" stroke-width="0.8"/><path d="M158.3 1751.0 157.9 1752.6 158.3 1754.3 155.7 1755.1 153.8 1755.9 152.3 1757.4 149.5 1757.9 146.4 1757.9 143.6 1757.6 141.3 1756.7 140.4 1755.1 138.3 1754.2 137.3 1752.7 136.2 1751.0 137.2 1749.3 138.9 1748.1 139.9 1746.7 142.2 1746.1 144.3 1745.4 146.7 1745.1 149.3 1745.1 152.4 1744.4 154 1745.9 156.1 1746.7 157.8 1747.8 157.8 1749.4Z" fill="none" stroke="#000" stroke-width="0.8"/><path d="M154.4 1751.0 154.1 1752.0 154.1 1753.0 152.8 1753.6 151.6 1754.1 150.7 1755.0 148.9 1755.1 147 1755.3 145.7 1754.4 144.3 1754.2 143.1 1753.6 141.9 1753.0 142.1 1751.9 142 1751.0 142.2 1750.1 141.6 1748.9 143.2 1748.4 143.8 1747.4 145.6 1747.4 147.1 1747.1 148.8 1747.2 150.5 1747.2 152 1747.6 153.3 1748.1 154 1749.1 155 1749.9Z" fill="none" stroke="#000" stroke-width="0.8"/>
<path d="M135.6 1752.3 136.1 1757.0 133.9 1759.4 132.3 1761.7 129.7 1763.5 125.6 1763.7 119.2 1764.4 115.6 1763.1 113.4 1761.1 110.7 1759.7 110.1 1756.6 109.7 1752.4 109.5 1747.9 110.7 1745.0 112 1742.3 115.2 1740.9 119.3 1740.7 125.7 1740.4 129.7 1741.1 132.1 1743.1 134.8 1744.8 136.5 1747.5Z" fill="#000"/><ellipse cx="117.1" cy="1752.3" rx="3.7" ry="5.2" fill="none" stroke="#fff" stroke-width="0.8"/><ellipse cx="117.1" cy="1752.3" rx="2.6" ry="3.7" fill="none" stroke="#fff" stroke-width="0.8"/><ellipse cx="117.1" cy="1752.3" rx="1.6" ry="2.2" fill="none" stroke="#fff" stroke-width="0.9"/><ellipse cx="117.1" cy="1752.3" rx="0.6" ry="0.9" fill="#fff"/><ellipse cx="127.9" cy="1752.3" rx="3.7" ry="5.2" fill="none" stroke="#fff" stroke-width="0.8"/><ellipse cx="127.9" cy="1752.3" rx="2.6" ry="3.7" fill="none" stroke="#fff" stroke-width="0.8"/><ellipse cx="127.9" cy="1752.3" rx="1.6" ry="2.2" fill="none" stroke="#fff" stroke-width="0.9"/><ellipse cx="127.9" cy="1752.3" rx="0.6" ry="0.9" fill="#fff"/>
<path d="M134.5 1777.2 134.5 1781.5 132 1783.4 131 1786.0 128.1 1786.9 124.2 1786.8 118.7 1787.1 115.1 1786.8 112 1785.9 110.4 1783.8 109.6 1781.1 108.8 1777.3 109.4 1773.3 110.7 1770.9 112.3 1768.8 115.4 1768.3 118.6 1766.9 124.6 1766.4 127.6 1768.3 131.1 1768.4 131.9 1771.1 134.4 1773.0Z" fill="#000"/><ellipse cx="121.5" cy="1777.2" rx="6.9" ry="4.6" fill="none" stroke="#fff" stroke-width="0.8"/><ellipse cx="121.5" cy="1777.2" rx="4.8" ry="3.2" fill="none" stroke="#fff" stroke-width="0.8"/><ellipse cx="121.5" cy="1777.2" rx="2.9" ry="1.9" fill="none" stroke="#fff" stroke-width="0.9"/><ellipse cx="121.5" cy="1777.2" rx="1.0" ry="0.8" fill="#fff"/>
<path d="M339.6 1768.5 340.8 1773.3 336.9 1776.8 334 1780.2 330.5 1783.5 324.7 1784.5 319.1 1785.4 312.6 1786.9 307 1784.9 300.7 1784.3 297.6 1780.4 294.4 1777.0 294.5 1772.6 293.2 1768.5 292.7 1764.0 294.7 1760.1 297.6 1756.6 301.3 1753.2 306.5 1751.0 313 1752.1 319.3 1750.7 325.4 1751.4 330.8 1753.2 333 1757.4 336 1760.6 340.9 1763.7Z" fill="none" stroke="#000" stroke-width="0.8"/><path d="M333.5 1768.5 333.4 1771.8 332.2 1774.9 331 1778.2 327.8 1780.7 323.2 1781.8 318.4 1781.4 313.7 1781.2 309.3 1780.7 305.9 1779.0 302.1 1777.5 298 1775.6 296.6 1772.2 296.9 1768.5 298.9 1765.2 298.1 1761.4 302.7 1759.9 304.3 1756.4 309 1755.7 313.3 1754.1 318.4 1755.8 322.7 1756.3 327.6 1756.5 330.6 1759.0 333.7 1761.5 335.7 1764.7Z" fill="none" stroke="#000" stroke-width="0.8"/><path d="M330.5 1768.5 328.7 1770.9 329 1773.7 326.9 1775.6 324.5 1777.3 320.9 1777.4 317.8 1778.1 314.2 1778.1 311 1777.7 308.7 1776.1 306 1775.0 303.9 1773.3 303.8 1770.9 303.1 1768.5 303.4 1766.1 303.8 1763.7 305.2 1761.5 307.6 1759.8 310.8 1758.9 314.3 1759.6 317.8 1758.9 321.3 1758.7 323.9 1760.3 327.1 1761.3 328.6 1763.5 328.1 1766.2Z" fill="none" stroke="#000" stroke-width="0.8"/><path d="M324.5 1768.5 324.2 1770.1 322.8 1771.2 322 1772.4 320.8 1773.5 319.1 1774.2 317.2 1774.9 315 1774.1 313.1 1773.7 311.4 1773.3 309.5 1772.8 309 1771.3 307.6 1770.1 308 1768.5 308.4 1767.0 308.7 1765.6 310.2 1764.7 310.8 1763.1 312.7 1762.5 315 1762.9 317.1 1762.8 319.1 1762.8 320.4 1764.0 321.7 1764.8 322.8 1765.8 324 1767.0Z" fill="none" stroke="#000" stroke-width="0.8"/>
<path d="M302.4 1773.6 301.2 1782.4 299.3 1788.0 297.3 1793.4 292.2 1795.4 286.3 1797.0 276.2 1798.3 270.5 1795.4 265.9 1792.9 263.2 1788.1 261.8 1782.3 259 1773.6 261.2 1764.6 263.5 1759.2 266 1754.4 270.8 1752.3 276.3 1749.2 286.2 1750.6 292.1 1752.1 297.1 1754.1 299.6 1759.0 302.8 1764.1Z" fill="#000"/><ellipse cx="281.4" cy="1761.5" rx="9.1" ry="6.6" fill="none" stroke="#fff" stroke-width="0.8"/><ellipse cx="281.4" cy="1761.5" rx="6.4" ry="4.6" fill="none" stroke="#fff" stroke-width="0.8"/><ellipse cx="281.4" cy="1761.5" rx="3.8" ry="2.8" fill="none" stroke="#fff" stroke-width="0.9"/><ellipse cx="281.4" cy="1761.5" rx="1.4" ry="1.2" fill="#fff"/><ellipse cx="281.4" cy="1785.6" rx="9.1" ry="6.6" fill="none" stroke="#fff" stroke-width="0.8"/><ellipse cx="281.4" cy="1785.6" rx="6.4" ry="4.6" fill="none" stroke="#fff" stroke-width="0.8"/><ellipse cx="281.4" cy="1785.6" rx="3.8" ry="2.8" fill="none" stroke="#fff" stroke-width="0.9"/><ellipse cx="281.4" cy="1785.6" rx="1.4" ry="1.2" fill="#fff"/>
<path d="M294.7 1555.8 294.6 1557.1 294 1558.3 293.5 1559.4 292.3 1560.3 290.9 1560.9 289.2 1561.0 287.4 1561.0 285.8 1560.7 284.5 1560.1 283.2 1559.4 282.4 1558.3 282.4 1557.1 282.1 1555.8 281.7 1554.5 282 1553.2 283.2 1552.3 284.3 1551.4 285.9 1551.2 287.4 1550.5 289.1 1551.2 290.8 1551.0 292.1 1551.7 292.9 1552.7 294.5 1553.2 294.3 1554.6Z" fill="none" stroke="#000" stroke-width="0.8"/><path d="M293.5 1555.8 292.7 1556.8 292.6 1557.7 292 1558.4 291 1558.8 290.1 1559.4 289 1559.8 287.7 1559.3 286.7 1559.1 285.5 1559.0 284.9 1558.2 284.2 1557.6 283.3 1556.9 283.6 1555.8 283.5 1554.9 284 1554.0 285 1553.5 285.4 1552.6 286.4 1552.1 287.7 1552.1 289 1552.0 290.1 1552.3 290.9 1552.9 291.9 1553.3 292.4 1554.1 292.5 1555.0Z" fill="none" stroke="#000" stroke-width="0.8"/>
<path d="M436.6 1557.2 431.7 1562.4 433.3 1568.2 425 1571.0 420.7 1575.6 412.4 1577.6 403.4 1578.5 393.6 1578.5 385.7 1576.0 377.9 1574.3 372.1 1570.9 367.4 1567.1 365.9 1562.3 359.2 1557.2 363.3 1551.8 367.4 1547.4 372 1543.5 376.9 1539.4 386 1538.9 393.2 1534.4 403.1 1537.2 412.2 1537.3 418 1541.1 424.2 1543.9 432.6 1546.5 431.5 1552.2Z" fill="none" stroke="#000" stroke-width="0.8"/><path d="M423.3 1557.2 422.8 1561.0 423.2 1565.0 418.8 1567.8 413.6 1569.7 408.7 1572.2 402.2 1573.0 394.8 1573.4 388.9 1571.2 383 1570.1 379.1 1567.3 374.7 1564.8 370.8 1561.5 371.7 1557.2 373.1 1553.3 377 1550.5 378.9 1547.1 383.6 1545.0 389.1 1543.5 395 1542.1 402.3 1540.9 408.3 1542.9 414.8 1543.8 416.7 1547.8 422.2 1549.8 422.5 1553.6Z" fill="none" stroke="#000" stroke-width="0.8"/><path d="M414.8 1557.2 414 1559.6 412.9 1561.8 410.2 1563.3 408.3 1565.3 404.1 1565.4 400.6 1566.3 396.3 1566.8 392.1 1566.6 388.9 1565.2 387.2 1563.1 385.3 1561.4 382.9 1559.6 381.8 1557.2 382.1 1554.7 384.9 1553.0 386.5 1551.0 389.4 1549.8 392.9 1549.1 396.5 1548.5 400.8 1547.3 404.1 1549.1 407.3 1549.9 411 1550.8 412.2 1552.9 413.6 1554.9Z" fill="none" stroke="#000" stroke-width="0.8"/>
<path d="M434.6 1557.3 434.4 1561.2 431.9 1563.6 427.4 1564.9 423.6 1566.5 417.1 1567.0 407 1566.3 400.1 1566.5 396.6 1564.7 391.6 1563.6 391.4 1560.8 390.8 1557.3 390.2 1553.5 392 1551.1 395.5 1549.4 400.7 1548.6 406.9 1548.2 416.9 1548.0 423.1 1548.5 428.4 1549.3 431.1 1551.3 433.7 1553.5Z" fill="#000"/><ellipse cx="403.1" cy="1557.3" rx="6.0" ry="4.3" fill="none" stroke="#fff" stroke-width="0.8"/><ellipse cx="403.1" cy="1557.3" rx="4.2" ry="3.0" fill="none" stroke="#fff" stroke-width="0.8"/><ellipse cx="403.1" cy="1557.3" rx="2.5" ry="1.8" fill="none" stroke="#fff" stroke-width="0.9"/><ellipse cx="403.1" cy="1557.3" rx="0.9" ry="0.8" fill="#fff"/><ellipse cx="420.6" cy="1557.3" rx="6.0" ry="4.3" fill="none" stroke="#fff" stroke-width="0.8"/><ellipse cx="420.6" cy="1557.3" rx="4.2" ry="3.0" fill="none" stroke="#fff" stroke-width="0.8"/><ellipse cx="420.6" cy="1557.3" rx="2.5" ry="1.8" fill="none" stroke="#fff" stroke-width="0.9"/><ellipse cx="420.6" cy="1557.3" rx="0.9" ry="0.8" fill="#fff"/>
<path d="M469.1 1555.7 469.2 1557.6 467.8 1559.0 466.7 1560.4 464.4 1560.8 462.9 1562.1 460.5 1561.9 458 1562.3 455.7 1562.1 453.4 1561.6 452.6 1559.9 451.1 1558.8 449.6 1557.5 450.5 1555.7 449.9 1554.0 450.4 1552.3 452.2 1551.2 453.8 1550.2 455.9 1549.6 458.1 1549.4 460.5 1549.5 462.7 1549.6 465 1550.0 466.4 1551.3 468 1552.4 468.4 1554.0Z" fill="none" stroke="#000" stroke-width="0.8"/><path d="M466.4 1555.7 465.7 1556.9 465.3 1558.0 464.7 1559.1 463.6 1560.1 461.9 1560.4 460.2 1560.5 458.3 1560.9 456.8 1560.1 455.6 1559.4 454.6 1558.7 453.5 1557.9 452.8 1556.9 452.9 1555.7 452.4 1554.4 453.2 1553.4 454.3 1552.6 455.3 1551.7 456.7 1551.1 458.4 1551.1 460.2 1551.2 461.9 1551.1 463.2 1551.7 464.1 1552.7 465.2 1553.5 465.5 1554.5Z" fill="none" stroke="#000" stroke-width="0.8"/>
<path d="M544.2 1558.0 543.1 1563.7 542.3 1569.4 539.5 1574.1 534.7 1576.6 530.3 1579.4 524.8 1578.2 519.5 1578.1 514.4 1578.2 509.9 1576.2 506.1 1572.8 504 1568.2 499.8 1564.2 501.3 1558.0 502.3 1552.5 504.2 1547.9 504.7 1541.9 510.1 1540.2 514.9 1539.0 519.1 1534.9 525.2 1534.2 530.4 1536.4 535.4 1538.4 538.4 1542.9 540.1 1547.9 543.5 1552.1Z" fill="none" stroke="#000" stroke-width="0.8"/><path d="M536.9 1558.0 536.7 1562.0 535.4 1565.5 533.4 1568.4 531.5 1571.9 527.6 1572.2 524.4 1575.1 520.1 1573.7 516.9 1571.6 513.7 1570.6 511.5 1567.9 509 1565.4 508.5 1561.8 507.1 1558.0 507.4 1553.9 509.5 1550.9 510.4 1547.1 512.7 1544.0 516.2 1542.5 520.2 1543.3 524.2 1542.3 527.6 1543.7 530.8 1545.2 533.9 1547.1 535.4 1550.5 537.4 1553.8Z" fill="none" stroke="#000" stroke-width="0.8"/><path d="M531.8 1558.0 530.9 1560.4 530.5 1562.7 528.7 1564.0 527.2 1565.5 525.6 1567.0 523.5 1568.4 520.9 1567.7 518.8 1566.7 516.8 1565.9 515.6 1564.1 513.2 1563.1 512.9 1560.5 513.1 1558.0 512.3 1555.3 514.3 1553.6 515.1 1551.5 516.5 1549.7 518.4 1548.2 520.9 1548.4 523.3 1549.0 525.6 1548.9 527.8 1549.7 529.8 1550.9 530.4 1553.3 530.6 1555.7Z" fill="none" stroke="#000" stroke-width="0.8"/>
<path d="M542.2 1557.0 540.7 1560.7 538.5 1562.9 537 1565.3 533 1566.7 527 1566.8 518 1567.0 512.6 1566.1 508 1565.3 504.9 1563.5 504.4 1560.7 502 1557.0 504.7 1553.4 505.4 1550.7 508 1548.7 512.5 1547.8 518.2 1547.5 526.7 1547.7 533.1 1547.2 537.4 1548.5 540.8 1550.3 541 1553.2Z" fill="#000"/><ellipse cx="514.7" cy="1557.0" rx="5.4" ry="4.5" fill="none" stroke="#fff" stroke-width="0.8"/><ellipse cx="514.7" cy="1557.0" rx="3.8" ry="3.1" fill="none" stroke="#fff" stroke-width="0.8"/><ellipse cx="514.7" cy="1557.0" rx="2.3" ry="1.9" fill="none" stroke="#fff" stroke-width="0.9"/><ellipse cx="514.7" cy="1557.0" rx="0.8" ry="0.8" fill="#fff"/><ellipse cx="530.3" cy="1557.0" rx="5.4" ry="4.5" fill="none" stroke="#fff" stroke-width="0.8"/><ellipse cx="530.3" cy="1557.0" rx="3.8" ry="3.1" fill="none" stroke="#fff" stroke-width="0.8"/><ellipse cx="530.3" cy="1557.0" rx="2.3" ry="1.9" fill="none" stroke="#fff" stroke-width="0.9"/><ellipse cx="530.3" cy="1557.0" rx="0.8" ry="0.8" fill="#fff"/>
<path d="M437.7 1690.2 437.7 1694.5 436.7 1697.1 435.1 1698.8 433.4 1700.7 430.5 1701.0 425.8 1701.8 422.9 1701.2 421.1 1699.2 419.7 1697.2 418.6 1694.6 418.1 1690.3 419.3 1686.2 419.5 1683.2 420.7 1680.8 423.5 1680.6 426.1 1679.8 430.4 1679.7 433.4 1679.8 435.4 1681.4 436.8 1683.4 437.5 1686.1Z" fill="#000"/><ellipse cx="428.2" cy="1690.2" rx="5.4" ry="4.9" fill="none" stroke="#fff" stroke-width="0.8"/><ellipse cx="428.2" cy="1690.2" rx="3.8" ry="3.4" fill="none" stroke="#fff" stroke-width="0.8"/><ellipse cx="428.2" cy="1690.2" rx="2.3" ry="2.1" fill="none" stroke="#fff" stroke-width="0.9"/><ellipse cx="428.2" cy="1690.2" rx="0.8" ry="0.9" fill="#fff"/>
<path d="M468.8 1688.7 468.3 1690.3 468.7 1692.2 466.6 1693.1 464.8 1693.8 463.5 1695.2 461.2 1695.4 458.8 1695.6 456.8 1694.6 454.8 1694.2 453.1 1693.3 451.4 1692.2 450.5 1690.6 450.7 1688.7 451.3 1687.0 451.8 1685.4 453 1684.1 454.4 1682.8 456.8 1682.6 458.8 1682.0 461.1 1682.4 463.7 1681.9 465.3 1683.1 466.4 1684.5 468.7 1685.2 469.2 1686.9Z" fill="none" stroke="#000" stroke-width="0.8"/><path d="M466.7 1688.7 465.9 1689.9 465.7 1691.0 464.9 1691.9 464.1 1693.1 462.3 1693.0 460.9 1693.8 459.2 1693.3 457.6 1693.1 456 1693.0 455.4 1691.7 453.8 1691.2 454.2 1689.8 453.3 1688.7 453.4 1687.4 454.7 1686.5 455 1685.4 456.4 1684.9 457.5 1684.0 459.1 1683.8 460.8 1684.2 462.3 1684.4 463.7 1684.8 465.3 1685.2 466 1686.3 466.8 1687.4Z" fill="none" stroke="#000" stroke-width="0.8"/>
<path d="M539.9 1689.5 538.8 1692.1 538.1 1694.7 534 1696.0 532.1 1698.6 527.8 1699.8 522.7 1699.8 517.2 1700.5 512.5 1699.3 509.3 1697.5 506 1696.0 503.1 1694.3 500.5 1692.2 499 1689.5 499.9 1686.7 503.2 1684.7 505.9 1682.9 507.7 1680.3 512.6 1679.8 517.1 1678.3 522.8 1678.7 527.8 1679.2 532.1 1680.4 535 1682.5 538.1 1684.3 540.3 1686.7Z" fill="none" stroke="#000" stroke-width="0.8"/><path d="M535.3 1689.5 533.2 1691.3 532.5 1693.1 530.6 1694.5 527.7 1695.3 525.4 1696.6 521.9 1697.0 517.9 1697.7 514.4 1696.9 511.7 1695.7 508.5 1694.9 506.5 1693.3 504.9 1691.6 504.7 1689.5 505.6 1687.5 507 1685.8 509.5 1684.6 511.4 1683.1 514.7 1682.5 518.2 1682.5 521.9 1682.2 525 1682.9 528.9 1682.8 531 1684.3 533 1685.8 533.8 1687.6Z" fill="none" stroke="#000" stroke-width="0.8"/><path d="M529 1689.5 529.1 1690.8 527.2 1691.5 526.3 1692.5 525.1 1693.3 523.2 1693.7 521.2 1694.3 518.9 1693.9 516.9 1693.6 514.9 1693.3 513.2 1692.7 512.5 1691.6 511.6 1690.7 511.7 1689.5 511.4 1688.3 511.9 1687.2 513.8 1686.6 515 1685.8 516.5 1684.9 518.8 1684.9 521.3 1684.6 523.4 1685.0 524.9 1685.8 526.7 1686.4 528.2 1687.2 527.9 1688.4Z" fill="none" stroke="#000" stroke-width="0.8"/>
<path d="M505.9 1690.3 505.5 1695.3 505.6 1699.4 502 1701.0 498.9 1702.7 494.7 1704.7 487 1704.2 482.9 1702.4 479.1 1701.5 475.7 1699.6 475.4 1695.6 474.6 1690.3 475.7 1685.1 476.1 1681.2 479 1679.0 481.9 1676.5 487.2 1677.1 494.6 1676.5 499.3 1677.2 501.8 1679.7 504.5 1681.9 506.6 1684.9Z" fill="#000"/><ellipse cx="484.3" cy="1690.3" rx="4.5" ry="6.3" fill="none" stroke="#fff" stroke-width="0.8"/><ellipse cx="484.3" cy="1690.3" rx="3.1" ry="4.4" fill="none" stroke="#fff" stroke-width="0.8"/><ellipse cx="484.3" cy="1690.3" rx="1.9" ry="2.6" fill="none" stroke="#fff" stroke-width="0.9"/><ellipse cx="484.3" cy="1690.3" rx="0.7" ry="1.1" fill="#fff"/><ellipse cx="497.3" cy="1690.3" rx="4.5" ry="6.3" fill="none" stroke="#fff" stroke-width="0.8"/><ellipse cx="497.3" cy="1690.3" rx="3.1" ry="4.4" fill="none" stroke="#fff" stroke-width="0.8"/><ellipse cx="497.3" cy="1690.3" rx="1.9" ry="2.6" fill="none" stroke="#fff" stroke-width="0.9"/><ellipse cx="497.3" cy="1690.3" rx="0.7" ry="1.1" fill="#fff"/>
<path d="M434 1770 434 1771 432 1771 431 1771 430 1770 431 1769 432 1768 433 1769ZM492 1768 490 1770 489 1772 488 1770 488 1768 488 1765 489 1765 491 1765ZM482 1746 481 1748 480 1748 479 1747 477 1746 478 1743 480 1742 481 1744ZM461 1739 460 1741 459 1743 457 1742 456 1739 457 1736 459 1736 460 1737ZM439 1735 438 1737 436 1737 434 1736 433 1735 434 1733 436 1733 437 1734ZM494 1743 494 1745 492 1747 491 1745 491 1743 491 1741 492 1739 494 1740ZM458 1738 456 1740 454 1741 451 1740 451 1738 452 1736 454 1735 456 1736ZM436 1779 436 1782 434 1782 433 1781 431 1779 432 1776 434 1777 436 1777ZM392 1746 392 1748 391 1748 390 1747 389 1746 390 1744 391 1744 392 1744ZM475 1748 473 1748 472 1749 470 1749 470 1748 471 1747 472 1746 474 1746ZM460 1782 458 1783 455 1783 451 1783 451 1782 452 1781 455 1781 458 1781ZM453 1757 451 1759 450 1761 448 1759 447 1757 448 1755 450 1753 451 1755ZM463 1780 462 1783 458 1783 455 1782 452 1780 455 1778 458 1778 463 1778ZM421 1731 419 1732 416 1732 413 1732 411 1731 414 1730 416 1729 418 1730ZM432 1751 431 1753 428 1755 425 1753 424 1751 423 1748 428 1748 432 1748ZM459 1748 460 1751 456 1752 453 1750 452 1748 454 1746 456 1744 460 1745ZM437 1745 435 1746 435 1747 434 1746 433 1745 434 1744 435 1744 436 1744ZM456 1785 455 1786 452 1786 449 1786 448 1785 450 1784 452 1784 454 1784ZM445 1748 443 1749 441 1752 437 1751 435 1748 437 1744 441 1744 444 1745ZM503 1744 501 1745 498 1746 495 1745 492 1744 493 1742 498 1743 502 1743ZM503 1770 500 1771 498 1772 495 1771 494 1770 494 1769 498 1769 501 1769ZM431 1787 428 1788 426 1789 424 1788 422 1787 423 1785 426 1785 428 1785ZM472 1775 472 1777 470 1777 469 1777 467 1775 469 1773 470 1772 472 1773ZM487 1744 486 1748 485 1747 484 1746 483 1744 483 1741 485 1741 486 1741ZM499 1763 498 1765 495 1767 493 1764 492 1763 493 1760 495 1758 498 1760ZM435 1749 435 1750 432 1750 431 1749 430 1749 430 1748 432 1748 434 1748ZM468 1751 467 1754 465 1755 464 1753 463 1751 464 1749 465 1748 467 1748ZM407 1777 406 1780 402 1781 400 1779 398 1777 399 1775 402 1773 405 1775ZM441 1764 439 1766 437 1767 434 1766 435 1764 434 1761 437 1761 441 1760ZM486 1774 486 1774 484 1775 482 1775 482 1774 483 1773 484 1773 487 1772ZM417 1784 415 1787 414 1787 412 1786 410 1784 412 1782 414 1779 416 1781ZM449 1772 449 1773 446 1774 443 1774 442 1772 443 1770 446 1770 449 1770ZM490 1761 489 1763 487 1765 484 1764 483 1761 484 1759 487 1759 491 1759ZM480 1757 480 1759 478 1759 477 1758 477 1757 477 1755 478 1754 479 1755ZM502 1774 499 1777 496 1779 493 1778 492 1774 494 1773 496 1771 499 1772ZM406 1766 403 1766 401 1767 398 1767 396 1766 399 1765 401 1765 403 1765ZM434 1781 430 1782 427 1784 422 1783 420 1781 424 1780 427 1779 431 1779ZM397 1769 395 1772 391 1772 388 1771 387 1769 389 1767 391 1766 395 1766ZM445 1783 444 1784 441 1784 437 1784 436 1783 437 1782 441 1782 444 1782ZM449 1742 450 1744 447 1744 444 1744 444 1742 444 1740 447 1740 449 1741ZM431 1789 431 1791 428 1792 425 1792 424 1789 425 1785 428 1785 430 1787ZM414 1779 412 1781 410 1782 407 1781 406 1779 407 1776 410 1774 412 1776ZM402 1754 401 1756 399 1758 396 1757 395 1754 397 1753 399 1751 402 1752ZM470 1752 470 1755 467 1758 464 1756 464 1752 464 1749 467 1747 470 1749ZM414 1771 411 1774 407 1776 403 1775 402 1771 404 1768 407 1767 410 1768ZM436 1787 436 1790 435 1791 434 1790 433 1787 434 1785 435 1784 436 1786ZM456 1741 456 1743 454 1743 453 1742 452 1741 452 1739 454 1738 456 1739ZM412 1736 412 1737 410 1737 408 1737 407 1736 407 1734 410 1734 412 1734ZM454 1766 454 1768 451 1769 448 1769 447 1766 448 1764 451 1764 455 1763ZM445 1734 444 1736 443 1738 442 1735 441 1734 442 1732 443 1731 444 1732ZM496 1758 495 1760 493 1761 491 1761 489 1758 490 1755 493 1756 495 1756ZM450 1773 447 1774 445 1774 442 1774 441 1773 440 1772 445 1772 448 1772ZM476 1731 476 1733 475 1733 474 1733 474 1731 474 1729 475 1729 476 1730ZM411 1745 411 1747 408 1748 406 1747 405 1745 406 1744 408 1743 409 1744ZM447 1784 445 1785 442 1785 440 1785 439 1784 439 1783 442 1783 446 1783ZM440 1784 439 1787 437 1789 436 1787 435 1784 436 1781 437 1780 439 1781ZM410 1747 410 1750 408 1750 405 1750 405 1747 405 1745 408 1745 409 1746ZM423 1778 421 1780 418 1780 416 1780 414 1778 416 1776 418 1776 421 1776ZM475 1770 474 1772 471 1771 470 1771 469 1770 469 1768 471 1768 473 1769ZM475 1767 475 1769 473 1769 472 1768 471 1767 472 1766 473 1765 474 1765ZM437 1764 437 1765 435 1765 432 1765 432 1764 432 1762 435 1762 436 1763ZM504 1752 504 1753 502 1753 501 1753 499 1752 500 1750 502 1749 504 1750ZM432 1756 432 1758 429 1759 426 1758 424 1756 427 1754 429 1753 432 1754ZM440 1738 438 1740 436 1741 434 1740 434 1738 435 1736 436 1735 438 1737ZM464 1782 464 1784 460 1785 457 1784 454 1782 457 1780 460 1779 465 1779ZM479 1745 477 1747 476 1748 474 1747 472 1745 474 1742 476 1741 477 1743ZM408 1739 406 1740 404 1741 401 1741 400 1739 400 1737 404 1736 407 1737ZM474 1774 472 1775 470 1775 466 1775 465 1774 468 1773 470 1771 472 1773ZM457 1727 455 1728 452 1728 448 1728 447 1727 449 1726 452 1726 455 1726ZM484 1741 484 1743 482 1744 479 1744 479 1741 478 1737 482 1738 485 1738ZM448 1774 448 1776 445 1776 442 1776 441 1774 441 1771 445 1770 447 1772ZM483 1753 482 1755 481 1755 480 1755 479 1753 479 1751 481 1752 483 1752ZM506 1761 506 1762 503 1762 500 1761 497 1761 499 1759 503 1760 506 1760ZM488 1751 487 1753 484 1754 481 1753 478 1751 481 1749 484 1746 488 1747ZM473 1766 471 1768 466 1768 463 1767 461 1766 464 1766 466 1765 470 1765ZM438 1784 438 1786 436 1787 435 1785 434 1784 435 1783 436 1782 438 1783ZM504 1768 503 1771 499 1770 494 1771 492 1768 496 1766 499 1765 501 1766ZM455 1772 454 1773 451 1773 447 1773 445 1772 447 1771 451 1771 454 1771ZM469 1765 468 1766 466 1767 464 1766 464 1765 464 1764 466 1763 468 1763ZM425 1762 423 1765 421 1767 420 1765 418 1762 420 1760 421 1758 424 1760ZM408 1742 406 1744 404 1746 401 1745 400 1742 402 1740 404 1739 406 1740ZM431 1776 432 1779 427 1778 423 1779 423 1776 425 1774 427 1773 431 1773ZM426 1763 425 1764 424 1765 422 1764 422 1763 422 1761 424 1761 426 1762ZM403 1760 402 1762 401 1764 399 1762 399 1760 399 1757 401 1755 403 1757ZM483 1768 482 1770 480 1771 478 1770 476 1768 477 1766 480 1766 482 1766ZM491 1769 489 1769 488 1770 485 1770 484 1769 485 1768 488 1767 490 1768ZM474 1734 473 1736 469 1736 465 1736 465 1734 466 1733 469 1733 471 1733ZM429 1785 428 1788 425 1790 423 1788 422 1785 424 1784 425 1783 427 1784Z" fill="none" stroke="#000" stroke-width="0.9"/><path d="M437 1739 435 1740 433 1740 431 1740 431 1739 431 1737 433 1736 435 1737ZM499 1768 499 1769 494 1769 490 1769 489 1768 492 1767 494 1766 499 1766ZM412 1747 411 1750 408 1752 406 1750 405 1747 405 1745 408 1743 410 1746ZM406 1772 404 1775 402 1777 398 1776 398 1772 400 1771 402 1769 404 1770ZM443 1772 443 1773 440 1774 437 1773 437 1772 438 1771 440 1771 443 1771ZM419 1766 417 1768 415 1768 413 1767 412 1766 413 1764 415 1763 416 1765ZM433 1774 432 1777 431 1779 429 1777 428 1774 428 1771 431 1770 432 1772ZM476 1755 475 1758 473 1759 470 1758 470 1755 470 1752 473 1751 475 1752ZM429 1738 427 1739 426 1740 425 1739 423 1738 425 1737 426 1736 428 1737ZM492 1771 493 1773 488 1773 484 1773 484 1771 485 1770 488 1769 493 1769ZM434 1741 433 1744 429 1744 426 1743 425 1741 426 1739 429 1738 433 1738ZM444 1770 443 1772 441 1773 439 1772 438 1770 440 1768 441 1768 443 1768ZM434 1771 433 1772 432 1772 431 1772 431 1771 431 1770 432 1769 433 1770ZM418 1772 418 1775 414 1774 411 1775 409 1772 411 1770 414 1770 417 1770ZM410 1749 410 1752 407 1751 404 1752 405 1749 405 1747 407 1744 411 1746ZM433 1785 433 1786 432 1787 430 1786 430 1785 430 1782 432 1782 433 1783ZM498 1763 499 1764 496 1764 494 1764 494 1763 494 1762 496 1762 498 1763ZM486 1742 486 1744 484 1746 481 1745 479 1742 481 1739 484 1739 486 1739ZM422 1774 420 1775 419 1775 418 1775 417 1774 418 1773 419 1772 420 1773ZM494 1755 492 1757 489 1758 486 1757 484 1755 487 1753 489 1751 491 1753ZM480 1735 480 1737 478 1738 475 1737 474 1735 475 1732 478 1731 480 1732ZM414 1779 414 1782 412 1783 411 1782 411 1779 411 1776 412 1776 414 1776Z" fill="#000"/>
<path d="M490 1759 490 1761 488 1763 486 1761 484 1759 486 1757 488 1757 489 1758ZM493 1733 493 1736 491 1737 489 1735 489 1733 489 1730 491 1729 492 1731ZM489 1741 490 1742 488 1742 486 1742 486 1741 486 1740 488 1739 490 1740ZM510 1762 509 1764 506 1764 504 1763 502 1762 504 1761 506 1760 507 1761ZM519 1748 519 1751 517 1750 514 1751 515 1748 516 1747 517 1744 519 1745ZM518 1741 518 1742 516 1742 515 1742 514 1741 514 1739 516 1739 517 1739ZM493 1753 491 1754 489 1754 488 1753 486 1753 487 1752 489 1752 491 1752ZM528 1741 527 1742 525 1743 524 1742 523 1741 524 1739 525 1738 527 1739ZM492 1762 492 1763 489 1763 487 1763 487 1762 487 1760 489 1760 492 1761ZM528 1738 528 1739 525 1740 522 1740 521 1738 523 1736 525 1734 529 1735ZM508 1730 507 1731 504 1731 502 1730 499 1730 501 1728 504 1728 508 1728ZM505 1737 504 1738 503 1740 502 1739 501 1737 501 1735 503 1734 504 1736ZM495 1742 494 1743 491 1743 488 1743 487 1742 489 1741 491 1740 493 1741ZM484 1732 482 1733 480 1734 478 1733 477 1732 478 1729 480 1730 482 1730ZM489 1731 488 1733 486 1735 483 1734 483 1731 484 1729 486 1729 488 1730ZM517 1731 517 1733 515 1734 514 1733 513 1731 514 1730 515 1729 517 1730ZM488 1742 487 1743 487 1744 485 1744 485 1742 485 1740 487 1739 488 1740ZM492 1732 491 1734 489 1734 488 1733 487 1732 487 1729 489 1730 491 1730ZM529 1753 529 1754 527 1754 524 1754 525 1753 525 1751 527 1750 529 1751ZM480 1750 479 1751 476 1751 474 1750 474 1750 473 1749 476 1749 478 1749ZM509 1744 508 1746 505 1746 502 1746 503 1744 503 1743 505 1742 507 1743ZM499 1731 499 1732 497 1732 496 1732 494 1731 495 1729 497 1729 499 1729ZM483 1749 482 1750 481 1750 479 1750 478 1749 479 1748 481 1747 482 1748ZM515 1759 514 1761 512 1761 509 1762 508 1759 509 1756 512 1756 515 1757ZM528 1750 526 1752 524 1752 523 1752 522 1750 523 1749 524 1748 526 1749ZM530 1744 528 1745 525 1746 521 1745 521 1744 523 1743 525 1742 528 1742ZM520 1750 518 1751 516 1753 513 1752 513 1750 513 1747 516 1747 518 1748ZM476 1742 475 1745 472 1745 471 1744 469 1742 470 1741 472 1740 475 1740ZM518 1754 516 1756 514 1758 512 1756 510 1754 512 1752 514 1751 517 1751ZM529 1743 529 1744 527 1744 526 1744 526 1743 526 1740 527 1740 528 1741Z" fill="none" stroke="#000" stroke-width="0.9"/><path d="M517 1757 516 1759 514 1760 510 1761 511 1757 512 1756 514 1755 516 1756ZM488 1741 488 1743 485 1744 482 1743 480 1741 483 1740 485 1740 488 1740ZM502 1735 503 1738 501 1738 499 1737 497 1735 499 1733 501 1733 502 1734ZM505 1732 505 1735 503 1736 502 1734 502 1732 502 1729 503 1727 504 1729ZM515 1760 515 1761 513 1761 511 1761 510 1760 511 1759 513 1758 515 1759ZM512 1729 511 1730 510 1730 509 1730 509 1729 509 1728 510 1728 511 1729ZM504 1749 503 1750 501 1752 499 1750 496 1749 499 1747 501 1746 505 1746ZM516 1759 515 1761 512 1761 509 1761 509 1759 510 1758 512 1757 516 1757ZM517 1750 516 1752 514 1751 513 1751 512 1750 513 1749 514 1748 516 1749ZM509 1738 508 1739 507 1739 505 1739 504 1738 504 1737 507 1737 508 1738Z" fill="#000"/>
<path d="M393 1756.0 393.1 1761.1 391.5 1764.1 388.8 1765.9 385.9 1767.4 382.1 1768.4 375.5 1769.2 371.6 1767.8 368.3 1766.6 367.2 1763.6 366.1 1760.6 365.9 1756.1 364.6 1751.0 367.2 1748.6 369.5 1746.6 371.6 1744.3 375.8 1744.1 382.2 1743.5 386.1 1744.4 388.5 1746.5 391.8 1747.7 393.2 1750.9Z" fill="#000"/><ellipse cx="378.9" cy="1756.0" rx="7.6" ry="5.6" fill="none" stroke="#fff" stroke-width="0.8"/><ellipse cx="378.9" cy="1756.0" rx="5.4" ry="3.9" fill="none" stroke="#fff" stroke-width="0.8"/><ellipse cx="378.9" cy="1756.0" rx="3.2" ry="2.4" fill="none" stroke="#fff" stroke-width="0.9"/><ellipse cx="378.9" cy="1756.0" rx="1.1" ry="1.0" fill="#fff"/>
<path d="M400.9 1788.0 397.6 1792.7 397.2 1797.5 394.9 1801.8 390.4 1804.3 385.5 1806.0 380.7 1809.1 374.5 1807.7 369.4 1806.1 364.3 1804.7 359.2 1802.5 356.9 1797.9 356.8 1792.9 353.2 1788.0 354.6 1782.6 356.9 1778.1 359.8 1773.9 365.2 1772.4 369.6 1770.3 374.6 1769.1 380.7 1766.8 386.7 1767.6 389.8 1772.5 395.8 1773.5 397 1778.6 399.1 1782.9Z" fill="none" stroke="#000" stroke-width="0.8"/><path d="M393.5 1788.0 394.5 1792.0 391 1794.5 389.6 1797.6 387.5 1800.6 383.4 1801.3 379.5 1801.1 375.5 1801.0 371.4 1801.7 367.6 1800.5 366.2 1797.0 362.4 1795.3 361.6 1791.7 361.2 1788.0 361.9 1784.3 363.9 1781.4 365 1778.1 367.9 1775.9 371.5 1774.5 375.4 1774.1 379.8 1772.6 384 1773.4 386.8 1776.2 388.7 1779.1 391.8 1781.1 392.3 1784.5Z" fill="none" stroke="#000" stroke-width="0.8"/><path d="M388.2 1788.0 387.2 1790.3 386.3 1792.3 384.5 1793.6 383.2 1795.2 381.3 1796.4 378.8 1796.5 376.1 1797.1 373.6 1796.6 371.5 1795.5 370.4 1793.6 369.3 1791.9 368 1790.2 366.8 1788.0 367.8 1785.7 368.4 1783.6 369.3 1781.5 372.1 1781.2 374 1780.3 376.2 1779.2 378.7 1780.0 381.4 1779.4 383.7 1780.2 384.7 1782.3 386 1783.9 387.1 1785.8Z" fill="none" stroke="#000" stroke-width="0.8"/>
<path d="M389.1 1788.2 388.9 1794.4 388.5 1799.0 386.7 1802.5 383.7 1804.8 379.5 1806.0 372.9 1804.3 369 1803.3 365.9 1801.7 364.3 1798.3 362.7 1794.6 361.5 1788.2 363.3 1782.1 364.5 1778.3 366.5 1775.5 368.9 1772.9 372.8 1771.5 379.1 1772.4 383.7 1771.6 386.8 1773.8 388.4 1777.5 390 1781.5Z" fill="#000"/><ellipse cx="376.0" cy="1788.2" rx="7.7" ry="7.6" fill="none" stroke="#fff" stroke-width="0.8"/><ellipse cx="376.0" cy="1788.2" rx="5.4" ry="5.3" fill="none" stroke="#fff" stroke-width="0.8"/><ellipse cx="376.0" cy="1788.2" rx="3.2" ry="3.2" fill="none" stroke="#fff" stroke-width="0.9"/><ellipse cx="376.0" cy="1788.2" rx="1.2" ry="1.4" fill="#fff"/>
<path d="M460.5 1755.5 458 1763.4 456 1768.3 452.6 1771.9 449.4 1776.8 441.8 1776.1 430.7 1778.2 424.6 1775.1 420.2 1772.1 415.8 1769.1 412.2 1764.4 411.9 1755.5 412.7 1746.8 415.1 1741.4 418.4 1737.0 423.9 1734.8 430.9 1733.7 441.7 1735.1 449 1735.0 453 1738.7 458.1 1741.3 458 1747.7Z" fill="#000"/><ellipse cx="427.1" cy="1755.5" rx="6.5" ry="9.7" fill="none" stroke="#fff" stroke-width="0.8"/><ellipse cx="427.1" cy="1755.5" rx="4.5" ry="6.8" fill="none" stroke="#fff" stroke-width="0.8"/><ellipse cx="427.1" cy="1755.5" rx="2.7" ry="4.1" fill="none" stroke="#fff" stroke-width="0.9"/><ellipse cx="427.1" cy="1755.5" rx="1.0" ry="1.7" fill="#fff"/><ellipse cx="445.9" cy="1755.5" rx="6.5" ry="9.7" fill="none" stroke="#fff" stroke-width="0.8"/><ellipse cx="445.9" cy="1755.5" rx="4.5" ry="6.8" fill="none" stroke="#fff" stroke-width="0.8"/><ellipse cx="445.9" cy="1755.5" rx="2.7" ry="4.1" fill="none" stroke="#fff" stroke-width="0.9"/><ellipse cx="445.9" cy="1755.5" rx="1.0" ry="1.7" fill="#fff"/>
<path d="M454.2 1794.7 454.6 1801.9 452.4 1806.2 449.9 1809.7 446 1811.8 440.5 1812.0 432.3 1812.9 427.5 1810.9 423.3 1809.5 421.7 1805.3 419.5 1801.5 419.5 1794.7 418.7 1787.5 422.1 1784.2 423.2 1779.7 427.2 1777.8 432.5 1777.6 440.6 1776.8 445.5 1778.2 450 1779.5 452.3 1783.2 453 1788.0Z" fill="#000"/><ellipse cx="429.5" cy="1794.7" rx="4.8" ry="7.9" fill="none" stroke="#fff" stroke-width="0.8"/><ellipse cx="429.5" cy="1794.7" rx="3.4" ry="5.6" fill="none" stroke="#fff" stroke-width="0.8"/><ellipse cx="429.5" cy="1794.7" rx="2.0" ry="3.3" fill="none" stroke="#fff" stroke-width="0.9"/><ellipse cx="429.5" cy="1794.7" rx="0.7" ry="1.4" fill="#fff"/><ellipse cx="443.5" cy="1794.7" rx="4.8" ry="7.9" fill="none" stroke="#fff" stroke-width="0.8"/><ellipse cx="443.5" cy="1794.7" rx="3.4" ry="5.6" fill="none" stroke="#fff" stroke-width="0.8"/><ellipse cx="443.5" cy="1794.7" rx="2.0" ry="3.3" fill="none" stroke="#fff" stroke-width="0.9"/><ellipse cx="443.5" cy="1794.7" rx="0.7" ry="1.4" fill="#fff"/>
<path d="M489.4 1734.0 489.8 1739.8 487.5 1742.8 486 1745.9 482.1 1746.2 478.8 1748.5 472.2 1748.0 468 1747.4 465 1745.6 462.6 1743.3 462.5 1739.2 460.9 1734.0 461.1 1728.2 462.9 1725.0 464.7 1722.0 468.1 1720.7 472.4 1720.8 478.7 1719.7 482.4 1721.3 485.2 1723.0 487.7 1725.1 489.3 1728.4Z" fill="#000"/><ellipse cx="475.4" cy="1734.0" rx="7.6" ry="6.3" fill="none" stroke="#fff" stroke-width="0.8"/><ellipse cx="475.4" cy="1734.0" rx="5.4" ry="4.4" fill="none" stroke="#fff" stroke-width="0.8"/><ellipse cx="475.4" cy="1734.0" rx="3.2" ry="2.6" fill="none" stroke="#fff" stroke-width="0.9"/><ellipse cx="475.4" cy="1734.0" rx="1.1" ry="1.1" fill="#fff"/>
<path d="M488.7 1771.3 488.2 1775.6 488.1 1778.8 486.2 1780.8 484.1 1782.6 480.6 1782.2 475.4 1783.7 472.3 1782.3 470.2 1780.6 468.6 1778.5 466.9 1776.0 466.6 1771.4 467.9 1767.1 468.8 1764.4 470.3 1762.2 472.2 1760.2 475.6 1759.8 480.6 1760.2 483.9 1760.6 486.2 1762.0 488.5 1763.6 488.9 1766.9Z" fill="#000"/><ellipse cx="478.1" cy="1771.3" rx="6.1" ry="5.2" fill="none" stroke="#fff" stroke-width="0.8"/><ellipse cx="478.1" cy="1771.3" rx="4.3" ry="3.7" fill="none" stroke="#fff" stroke-width="0.8"/><ellipse cx="478.1" cy="1771.3" rx="2.6" ry="2.2" fill="none" stroke="#fff" stroke-width="0.9"/><ellipse cx="478.1" cy="1771.3" rx="0.9" ry="0.9" fill="#fff"/>
<path d="M488 1795.5 488 1800.5 486.1 1802.9 485.1 1805.8 482.6 1807.0 479.5 1807.9 474.6 1807.3 470.9 1807.9 468.5 1806.2 467.6 1803.1 465.9 1800.5 465.4 1795.5 466.5 1790.7 466.7 1787.1 469.1 1785.6 471.3 1783.8 474.4 1782.6 479.4 1783.8 482.3 1784.6 485.3 1785.0 486 1788.1 488.2 1790.4Z" fill="#000"/>
<path d="M538 1782.1 538.2 1787.4 536.4 1790.6 535.1 1794.0 531 1794.9 526.9 1797.0 519.2 1795.8 514.3 1795.7 511.7 1793.0 509.1 1790.7 506.4 1787.9 505.8 1782.1 506.8 1776.5 508.8 1773.2 510.6 1770.1 514.6 1769.0 519.4 1768.9 526.4 1768.8 531.6 1768.4 535 1770.3 536.8 1773.3 538.2 1776.8Z" fill="#000"/><ellipse cx="522.9" cy="1782.1" rx="8.9" ry="6.3" fill="none" stroke="#fff" stroke-width="0.8"/><ellipse cx="522.9" cy="1782.1" rx="6.2" ry="4.4" fill="none" stroke="#fff" stroke-width="0.8"/><ellipse cx="522.9" cy="1782.1" rx="3.7" ry="2.7" fill="none" stroke="#fff" stroke-width="0.9"/><ellipse cx="522.9" cy="1782.1" rx="1.3" ry="1.1" fill="#fff"/>
<path d="M551 1751.8 550.4 1754.2 550.2 1756.5 549.1 1758.3 547.2 1759.2 545.9 1761.0 543.9 1761.3 541.8 1760.2 539.6 1761.0 538.3 1759.1 537 1757.7 535.3 1756.5 534.7 1754.3 534.7 1751.8 535.4 1749.6 536.1 1747.7 537.2 1746.2 538.2 1744.4 539.6 1742.9 541.8 1743.4 543.8 1742.6 545.5 1744.0 547.1 1744.7 548.6 1745.9 549.2 1747.8 550.1 1749.6Z" fill="none" stroke="#000" stroke-width="0.8"/><path d="M548.9 1751.8 548 1753.5 548.1 1755.2 546.8 1756.0 546 1757.1 544.9 1757.9 543.6 1758.8 541.9 1758.8 540.7 1757.9 539.5 1757.1 538.3 1756.4 537.9 1754.9 537.2 1753.5 537.2 1751.8 537 1750.1 538 1748.9 538.5 1747.5 539.2 1746.0 540.7 1746.0 542 1745.7 543.5 1745.7 544.8 1746.0 546.1 1746.4 547.3 1747.2 547.9 1748.7 547.9 1750.3Z" fill="none" stroke="#000" stroke-width="0.8"/>
<path d="M536.5 1853.8 536.1 1857.6 535.1 1860.0 534 1862.3 531.1 1862.4 528.5 1863.7 523.6 1864.1 520.7 1863.1 518.5 1861.9 517 1860.1 515.8 1857.7 515.3 1853.8 515.5 1849.8 517.4 1847.8 519 1846.2 521.1 1845.1 523.9 1844.7 528.3 1844.6 531.3 1844.8 533.5 1845.9 534.6 1847.9 536.6 1849.8Z" fill="#000"/><ellipse cx="522.0" cy="1853.8" rx="2.8" ry="4.4" fill="none" stroke="#fff" stroke-width="0.8"/><ellipse cx="522.0" cy="1853.8" rx="2.0" ry="3.1" fill="none" stroke="#fff" stroke-width="0.8"/><ellipse cx="522.0" cy="1853.8" rx="0.6" ry="0.8" fill="#fff"/><ellipse cx="530.2" cy="1853.8" rx="2.8" ry="4.4" fill="none" stroke="#fff" stroke-width="0.8"/><ellipse cx="530.2" cy="1853.8" rx="2.0" ry="3.1" fill="none" stroke="#fff" stroke-width="0.8"/><ellipse cx="530.2" cy="1853.8" rx="0.6" ry="0.8" fill="#fff"/>
<path d="M413.1 1944.0 412.9 1947.1 411.9 1948.8 410.4 1950.1 408.8 1951.2 406.2 1951.3 402.1 1951.9 399.5 1951.5 397.6 1950.4 396.7 1948.7 396.2 1946.8 395.6 1944.1 395.5 1941.0 396.4 1939.2 398.1 1938.2 399.7 1937.0 402.2 1936.6 406.1 1937.0 408.7 1937.1 410.6 1937.9 411.5 1939.5 413.1 1941.0Z" fill="#000"/><ellipse cx="404.2" cy="1944.0" rx="4.8" ry="3.4" fill="none" stroke="#fff" stroke-width="0.8"/><ellipse cx="404.2" cy="1944.0" rx="3.3" ry="2.4" fill="none" stroke="#fff" stroke-width="0.8"/><ellipse cx="404.2" cy="1944.0" rx="2.0" ry="1.4" fill="none" stroke="#fff" stroke-width="0.9"/><ellipse cx="404.2" cy="1944.0" rx="0.7" ry="0.6" fill="#fff"/>
<path d="M533.4 1944.0 531.2 1946.5 530.3 1948.9 527.1 1950.6 524.3 1952.3 520.1 1952.9 516.2 1954.8 511.2 1953.2 506.8 1953.1 503.2 1951.9 498.4 1951.3 497.7 1948.6 495.4 1946.6 493.9 1944.0 496.3 1941.5 495.6 1938.8 498.4 1936.7 502.1 1935.2 507.2 1935.5 510.9 1933.8 515.9 1934.6 520.6 1934.3 525 1935.2 528.6 1936.7 528.9 1939.5 529.9 1941.7Z" fill="none" stroke="#000" stroke-width="0.8"/><path d="M528 1944.0 527.2 1946.0 525.9 1947.6 523.8 1949.0 521.9 1950.4 518.1 1950.3 515.1 1950.6 511.6 1951.7 508.2 1951.2 505.6 1950.1 503.3 1948.9 502 1947.4 499.6 1946.0 499.8 1944.0 501.1 1942.2 501.7 1940.5 503.4 1939.1 505.6 1937.9 508.1 1936.7 511.8 1937.1 515.2 1937.3 518.7 1936.9 521.5 1937.9 522.8 1939.5 524.7 1940.7 526.7 1942.1Z" fill="none" stroke="#000" stroke-width="0.8"/><path d="M521.6 1944.0 521 1945.1 521 1946.2 519.2 1946.7 518 1947.5 516.5 1948.1 514.6 1948.3 512.4 1948.3 510.4 1948.2 508.7 1947.7 507.1 1947.1 506.4 1946.1 505.6 1945.1 504.8 1944.0 505.6 1942.9 506.2 1941.9 506.9 1940.8 508.5 1940.2 510.5 1939.9 512.4 1939.6 514.5 1939.8 516.5 1940.0 518.4 1940.3 519.6 1941.1 520.3 1942.0 520.9 1942.9Z" fill="none" stroke="#000" stroke-width="0.8"/>
<path d="M500.8 1945.2 500.4 1950.6 496.7 1953.6 492.2 1955.7 487.2 1957.7 479.7 1959.0 467 1958.6 459.9 1957.2 454.6 1955.5 448.2 1954.2 449.1 1950.0 447.4 1945.3 447.5 1940.2 448.2 1936.3 454.1 1934.7 459.3 1932.9 467 1931.9 479.7 1931.5 486.6 1933.3 493.9 1933.9 496.1 1937.1 500.6 1939.8Z" fill="#000"/><ellipse cx="459.0" cy="1945.2" rx="4.9" ry="6.0" fill="none" stroke="#fff" stroke-width="0.8"/><ellipse cx="459.0" cy="1945.2" rx="3.4" ry="4.2" fill="none" stroke="#fff" stroke-width="0.8"/><ellipse cx="459.0" cy="1945.2" rx="2.1" ry="2.5" fill="none" stroke="#fff" stroke-width="0.9"/><ellipse cx="459.0" cy="1945.2" rx="0.7" ry="1.1" fill="#fff"/><ellipse cx="473.2" cy="1945.2" rx="4.9" ry="6.0" fill="none" stroke="#fff" stroke-width="0.8"/><ellipse cx="473.2" cy="1945.2" rx="3.4" ry="4.2" fill="none" stroke="#fff" stroke-width="0.8"/><ellipse cx="473.2" cy="1945.2" rx="2.1" ry="2.5" fill="none" stroke="#fff" stroke-width="0.9"/><ellipse cx="473.2" cy="1945.2" rx="0.7" ry="1.1" fill="#fff"/><ellipse cx="487.5" cy="1945.2" rx="4.9" ry="6.0" fill="none" stroke="#fff" stroke-width="0.8"/><ellipse cx="487.5" cy="1945.2" rx="3.4" ry="4.2" fill="none" stroke="#fff" stroke-width="0.8"/><ellipse cx="487.5" cy="1945.2" rx="2.1" ry="2.5" fill="none" stroke="#fff" stroke-width="0.9"/><ellipse cx="487.5" cy="1945.2" rx="0.7" ry="1.1" fill="#fff"/>
<path d="M439.4 1974.0 438.9 1976.6 439.7 1979.8 438 1981.8 435.7 1982.9 434 1985.1 431.2 1984.1 428.6 1985.5 426.4 1984.0 424.6 1982.5 422 1981.8 421.1 1979.3 419.5 1977.0 420.3 1974.0 420.7 1971.3 421.1 1968.7 421.9 1966.0 424.5 1965.4 426.3 1963.8 428.7 1963.7 431.3 1963.0 434 1962.8 435.6 1965.2 437.9 1966.3 439.3 1968.4 440.3 1971.0Z" fill="none" stroke="#000" stroke-width="0.8"/><path d="M436.6 1974.0 437.3 1976.1 436.8 1978.0 435.9 1979.8 434.1 1980.4 432.7 1981.3 431 1982.2 429 1982.4 427.1 1981.9 426.1 1980.2 424.4 1979.4 423.6 1977.8 422.8 1976.1 422.3 1974.0 422.6 1971.8 423 1969.8 424.3 1968.4 425.8 1967.4 427.1 1966.1 429 1965.8 431 1965.7 432.8 1966.3 434.5 1966.9 435.8 1968.4 436.3 1970.2 437 1972.0Z" fill="none" stroke="#000" stroke-width="0.8"/>
<path d="M424.1 1974.8 423.2 1979.4 422.1 1982.5 419 1984.5 415.3 1985.8 410.7 1987.9 401.7 1987.9 396.6 1986.5 393 1984.7 390.5 1982.4 386.7 1980.0 387 1974.8 388.3 1969.9 390.6 1967.2 393.4 1965.1 396.4 1962.8 401.9 1962.1 410.5 1962.3 415.9 1962.9 419.6 1964.6 423.1 1966.5 424.6 1969.8Z" fill="#000"/><ellipse cx="406.2" cy="1974.8" rx="10.3" ry="5.7" fill="none" stroke="#fff" stroke-width="0.8"/><ellipse cx="406.2" cy="1974.8" rx="7.2" ry="4.0" fill="none" stroke="#fff" stroke-width="0.8"/><ellipse cx="406.2" cy="1974.8" rx="4.3" ry="2.4" fill="none" stroke="#fff" stroke-width="0.9"/><ellipse cx="406.2" cy="1974.8" rx="1.6" ry="1.0" fill="#fff"/>
<path d="M500.5 1973.5 500.4 1976.6 497.5 1978.7 495.4 1980.6 493.6 1982.9 490.2 1983.5 487 1984.9 483.1 1984.2 479.5 1984.0 476.5 1982.8 472.8 1981.8 471.2 1979.2 470.3 1976.5 471 1973.5 470.5 1970.6 471.6 1967.9 473.6 1965.7 475.8 1963.4 479.7 1963.3 483.1 1962.7 486.9 1962.6 490.1 1963.7 493.4 1964.3 495.5 1966.3 497.8 1968.2 499.4 1970.6Z" fill="none" stroke="#000" stroke-width="0.8"/><path d="M495.6 1973.5 495.5 1975.6 495.3 1977.8 493.8 1979.5 491.5 1980.6 488.9 1981.0 486.4 1981.6 483.5 1982.1 481.1 1981.1 479.2 1979.8 476.2 1979.5 475 1977.7 475.1 1975.5 474.9 1973.5 475.3 1971.5 475.8 1969.7 476.6 1967.8 479.1 1967.0 481.3 1966.3 483.6 1965.4 486.4 1965.7 488.9 1965.9 491.6 1966.3 492.7 1968.3 494.8 1969.4 496.4 1971.2Z" fill="none" stroke="#000" stroke-width="0.8"/>
<path d="M477.2 1974.2 475.8 1978.8 474.5 1981.7 472.1 1983.7 469.5 1985.7 464.8 1985.5 457.9 1986.6 453.2 1986.3 450.9 1983.7 449.2 1981.3 446.8 1978.9 445.6 1974.2 446.9 1969.4 447.5 1966.0 450.9 1964.6 453.8 1962.9 457.8 1961.5 465.2 1961.3 468.9 1963.4 472.1 1964.6 474.9 1966.3 476.1 1969.4Z" fill="#000"/><ellipse cx="455.5" cy="1974.2" rx="4.1" ry="5.5" fill="none" stroke="#fff" stroke-width="0.8"/><ellipse cx="455.5" cy="1974.2" rx="2.9" ry="3.8" fill="none" stroke="#fff" stroke-width="0.8"/><ellipse cx="455.5" cy="1974.2" rx="1.7" ry="2.3" fill="none" stroke="#fff" stroke-width="0.9"/><ellipse cx="455.5" cy="1974.2" rx="0.6" ry="1.0" fill="#fff"/><ellipse cx="467.5" cy="1974.2" rx="4.1" ry="5.5" fill="none" stroke="#fff" stroke-width="0.8"/><ellipse cx="467.5" cy="1974.2" rx="2.9" ry="3.8" fill="none" stroke="#fff" stroke-width="0.8"/><ellipse cx="467.5" cy="1974.2" rx="1.7" ry="2.3" fill="none" stroke="#fff" stroke-width="0.9"/><ellipse cx="467.5" cy="1974.2" rx="0.6" ry="1.0" fill="#fff"/>
<path d="M526.5 1974.2 525.9 1975.5 525.7 1976.7 525.1 1977.9 524 1978.9 522.2 1978.9 520.8 1979.5 519.1 1979.1 517.7 1978.9 515.9 1978.9 515 1977.8 514.5 1976.6 514.1 1975.5 513 1974.2 513.5 1972.8 514 1971.5 515.4 1970.9 516.3 1969.9 517.8 1969.7 519 1968.6 520.8 1969.0 522.2 1969.7 523.6 1969.9 524.4 1971.0 525.4 1971.8 526 1972.9Z" fill="none" stroke="#000" stroke-width="0.8"/><path d="M524.9 1974.2 524.4 1975.2 523.9 1975.9 523.2 1976.6 522.4 1977.1 521.7 1977.7 520.5 1977.8 519.4 1977.6 518.4 1977.5 517.4 1977.1 516.3 1976.8 515.9 1976.0 515.5 1975.2 515.2 1974.2 515.5 1973.2 516 1972.4 516.2 1971.5 517.3 1971.1 518.1 1970.4 519.4 1970.7 520.6 1970.4 521.6 1970.7 522.5 1971.2 523.4 1971.7 523.8 1972.5 524.7 1973.2Z" fill="none" stroke="#000" stroke-width="0.8"/>
<path d="M598.2 1657.2 597.9 1660.9 597 1663.2 595.9 1665.4 593.4 1666.3 590.3 1666.9 585.5 1666.9 582.3 1666.5 580.4 1664.9 578.8 1663.2 577.7 1661.0 577.1 1657.2 577.9 1653.5 578.5 1651.0 580.5 1649.6 582.9 1648.9 585.4 1647.4 590.2 1648.0 593.4 1648.1 595.7 1649.2 597 1651.2 597.9 1653.5Z" fill="#000"/>
<path d="M598.2 1657.0 598 1659.1 596.3 1660.6 595.1 1662.0 594.2 1664.0 591.6 1664.3 589.4 1665.3 586.8 1664.4 584.2 1664.6 582 1663.8 580.3 1662.5 579.4 1660.7 578.3 1659.0 577.6 1657.0 577.6 1654.8 579.5 1653.3 580.7 1651.8 581.7 1649.8 584.2 1649.5 586.6 1648.5 589.4 1648.5 591.5 1650.0 593.4 1650.9 595.8 1651.4 596.4 1653.3 597.9 1654.9Z" fill="none" stroke="#fff" stroke-width="0.7"/><path d="M595.3 1657.0 595.5 1658.6 594.8 1660.0 593.7 1661.0 592.4 1662.0 590.5 1662.1 588.9 1662.5 587.1 1662.5 585.4 1662.1 584.1 1661.4 582.2 1661.1 581.6 1659.8 580.4 1658.6 580.8 1657.0 580.7 1655.5 581.5 1654.2 582.4 1653.0 583.7 1652.1 585.5 1652.1 587 1651.3 588.9 1651.8 590.5 1652.1 592 1652.4 593.1 1653.4 593.9 1654.4 595.4 1655.4Z" fill="none" stroke="#fff" stroke-width="0.7"/>
<path d="M688.1 1663.5 687.4 1666.4 687.1 1668.4 686.6 1670.4 684.9 1670.6 683.3 1671.1 680.5 1671.2 678.7 1671.0 677.4 1670.1 676.7 1668.4 675.9 1666.7 675.6 1663.6 676.4 1660.7 676.8 1658.8 677.8 1657.5 678.7 1656.1 680.5 1655.7 683.4 1655.2 685 1656.3 686.4 1657.0 687.2 1658.6 687.6 1660.6Z" fill="#000"/>
<path d="M690.9 1662.0 691.1 1663.1 690.6 1663.9 690.3 1664.9 689.5 1665.2 688.9 1666.0 688 1666.0 687.1 1665.8 686.3 1665.5 685.6 1665.0 684.8 1664.8 684.6 1663.8 684.4 1662.9 684.2 1662.0 684.3 1661.0 684.5 1660.1 685 1659.4 685.3 1658.4 686.3 1658.4 687.1 1658.3 688 1658.0 688.8 1658.2 689.6 1658.6 690.4 1659.1 690.6 1660.1 690.7 1661.0Z" fill="none" stroke="#000" stroke-width="0.8"/>
<path d="M594.8 1756.6 594.2 1759.0 594.4 1761.7 592.1 1763.0 590.8 1765.2 588.6 1766.5 585.8 1766.6 582.9 1765.9 580.3 1765.8 578.4 1764.3 575.8 1763.6 574.3 1761.6 574.2 1759.1 572.9 1756.6 574.8 1754.3 574 1751.4 575.8 1749.6 577.5 1747.7 580 1746.6 582.8 1746.6 585.8 1746.5 588 1748.1 590.5 1748.4 592.9 1749.5 594 1751.7 595.4 1753.9Z" fill="none" stroke="#000" stroke-width="0.8"/><path d="M591.6 1756.6 591.7 1758.4 591.7 1760.3 589.9 1761.2 588.9 1762.6 587.1 1763.0 585.3 1763.6 583.2 1763.8 581.2 1763.9 580 1762.3 578 1761.8 577.2 1760.2 576.3 1758.6 577.2 1756.6 576.8 1754.8 577 1752.9 578.2 1751.5 579.9 1750.8 581.5 1750.0 583.2 1749.2 585.4 1749.2 587.4 1749.5 588.9 1750.5 590.1 1751.8 591.7 1752.9 591.2 1754.9Z" fill="none" stroke="#000" stroke-width="0.8"/><path d="M588.6 1756.6 588.6 1757.7 588.2 1758.6 588.1 1759.7 587.2 1760.4 586 1760.6 585 1761.1 583.7 1760.6 582.6 1760.5 581.7 1760.0 580.4 1759.8 580.3 1758.6 580.1 1757.6 579.8 1756.6 580.1 1755.6 580.3 1754.6 580.8 1753.7 581.5 1752.9 582.5 1752.5 583.6 1752.1 584.9 1752.2 586 1752.6 587 1753.0 587.8 1753.7 588.7 1754.4 589 1755.5Z" fill="none" stroke="#000" stroke-width="0.8"/>
<path d="M711.5 1765.5 710.1 1768.5 710.4 1771.9 709.1 1774.6 706.4 1775.4 704.7 1778.2 701.9 1778.3 699.1 1777.5 696.9 1776.2 693.9 1776.7 692 1774.5 690.8 1771.7 690.7 1768.6 689.9 1765.5 690.7 1762.4 690.6 1759.1 691.9 1756.4 694.1 1754.6 696.8 1754.3 699.1 1753.3 701.9 1752.7 704.6 1753.3 706.2 1755.8 708.8 1756.7 709.9 1759.4 710.6 1762.3Z" fill="none" stroke="#000" stroke-width="0.8"/><path d="M708 1765.5 707.3 1767.6 707 1769.7 705.7 1771.1 704.9 1773.0 703.1 1773.4 701.5 1774.3 699.5 1773.9 697.8 1773.7 696 1773.0 695 1771.3 693.9 1769.8 692.9 1767.9 693.6 1765.5 692.7 1763.0 693.6 1761.1 694.6 1759.2 696.4 1758.6 697.5 1756.6 699.5 1756.7 701.6 1756.1 703.6 1756.3 705.2 1757.5 706.3 1759.4 706.9 1761.3 708.3 1763.0Z" fill="none" stroke="#000" stroke-width="0.8"/><path d="M705.1 1765.5 704.9 1766.9 704.4 1768.0 703.8 1769.1 703 1769.8 702.2 1770.7 701.1 1770.9 699.9 1770.6 698.8 1770.5 697.7 1770.2 697 1769.3 696.3 1768.2 695.7 1767.0 695.6 1765.5 696.1 1764.1 696.2 1762.7 696.7 1761.5 697.8 1761.0 698.8 1760.3 699.8 1759.7 701.2 1759.7 702.3 1760.1 703.4 1760.7 703.8 1762.0 704.3 1763.0 705 1764.1Z" fill="none" stroke="#000" stroke-width="0.8"/>
<path d="M695.8 1765.7 694.7 1771.3 694.1 1775.2 692.1 1777.6 689.6 1779.4 686.1 1780.0 680.5 1780.8 677.3 1779.2 675.5 1776.6 673.2 1774.7 672 1771.3 672.6 1765.7 671.9 1760.0 673.3 1756.7 674.8 1753.9 677.7 1753.1 680.7 1751.5 686.2 1750.8 689 1753.2 692.2 1753.6 693.7 1756.6 694.4 1760.3Z" fill="#000"/><ellipse cx="683.4" cy="1765.7" rx="6.4" ry="6.4" fill="none" stroke="#fff" stroke-width="0.8"/><ellipse cx="683.4" cy="1765.7" rx="4.5" ry="4.5" fill="none" stroke="#fff" stroke-width="0.8"/><ellipse cx="683.4" cy="1765.7" rx="2.7" ry="2.7" fill="none" stroke="#fff" stroke-width="0.9"/><ellipse cx="683.4" cy="1765.7" rx="1.0" ry="1.2" fill="#fff"/>
<ellipse cx="570.5" cy="1712.5" rx="1.2" ry="1.0" fill="#000"/>
<ellipse cx="731.0" cy="1756.0" rx="1.2" ry="1.0" fill="#000"/>
<text x="408.0" y="1654.5" font-size="22.5" font-weight="bold" fill="#e8231c" style="fill:#e8231c">2</text><ellipse cx="431.5" cy="1663.0" rx="12.5" ry="8.8" fill="none" stroke="#e8231c" stroke-width="2.6" stroke-dasharray="2.5 2" transform="rotate(0 431.5 1663.0)"/>
<rect x="17.4" y="1464.2" width="803.2" height="622.8" fill="none" stroke="#000" stroke-width="1.6"/>
<path d="M819.7 2087.0v10M811.2 2087.0v6.5M802.8 2087.0v6.5M794.3 2087.0v6.5M785.9 2087.0v6.5M777.4 2087.0v12.5M769.0 2087.0v6.5M760.5 2087.0v6.5M752.1 2087.0v6.5M743.6 2087.0v6.5M735.1 2087.0v10M726.7 2087.0v6.5M718.3 2087.0v6.5M709.8 2087.0v6.5M701.4 2087.0v6.5M692.9 2087.0v12.5M684.5 2087.0v6.5M676.0 2087.0v6.5M667.5 2087.0v6.5M659.1 2087.0v6.5M650.7 2087.0v10M642.2 2087.0v6.5M633.8 2087.0v6.5M625.3 2087.0v6.5M616.9 2087.0v6.5M608.4 2087.0v12.5M599.9 2087.0v6.5M591.5 2087.0v6.5M583.1 2087.0v6.5M574.6 2087.0v6.5M566.2 2087.0v10M557.7 2087.0v6.5M549.3 2087.0v6.5M540.8 2087.0v6.5M532.4 2087.0v6.5M523.9 2087.0v12.5M515.5 2087.0v6.5M507.0 2087.0v6.5M498.6 2087.0v6.5M490.1 2087.0v6.5M481.7 2087.0v10M473.2 2087.0v6.5M464.8 2087.0v6.5M456.3 2087.0v6.5M447.9 2087.0v6.5M439.4 2087.0v12.5M431.0 2087.0v6.5M422.5 2087.0v6.5M414.1 2087.0v6.5M405.6 2087.0v6.5M397.2 2087.0v10M388.7 2087.0v6.5M380.3 2087.0v6.5M371.8 2087.0v6.5M363.4 2087.0v6.5M354.9 2087.0v12.5M346.5 2087.0v6.5M338.0 2087.0v6.5M329.6 2087.0v6.5M321.1 2087.0v6.5M312.6 2087.0v10M304.2 2087.0v6.5M295.8 2087.0v6.5M287.3 2087.0v6.5M278.9 2087.0v6.5M270.4 2087.0v12.5M262.0 2087.0v6.5M253.5 2087.0v6.5M245.0 2087.0v6.5M236.6 2087.0v6.5M228.2 2087.0v10M219.7 2087.0v6.5M211.3 2087.0v6.5M202.8 2087.0v6.5M194.4 2087.0v6.5M185.9 2087.0v12.5M177.4 2087.0v6.5M169.0 2087.0v6.5M160.6 2087.0v6.5M152.1 2087.0v6.5M143.7 2087.0v10M135.2 2087.0v6.5M126.8 2087.0v6.5M118.3 2087.0v6.5M109.9 2087.0v6.5M101.4 2087.0v12.5M93.0 2087.0v6.5M84.5 2087.0v6.5M76.1 2087.0v6.5M67.6 2087.0v6.5M59.2 2087.0v10M50.7 2087.0v6.5M42.3 2087.0v6.5M33.8 2087.0v6.5M25.4 2087.0v6.5M820.6 1465.1h9.5M820.6 1471.0h6.5M820.6 1476.9h6.5M820.6 1482.8h6.5M820.6 1488.7h6.5M820.6 1494.6h13M820.6 1500.5h6.5M820.6 1506.4h6.5M820.6 1512.3h6.5M820.6 1518.2h6.5M820.6 1524.1h9.5M820.6 1530.0h6.5M820.6 1535.9h6.5M820.6 1541.8h6.5M820.6 1547.7h6.5M820.6 1553.6h13M820.6 1559.6h6.5M820.6 1565.5h6.5M820.6 1571.4h6.5M820.6 1577.3h6.5M820.6 1583.2h9.5M820.6 1589.1h6.5M820.6 1595.0h6.5M820.6 1600.9h6.5M820.6 1606.8h6.5M820.6 1612.7h13M820.6 1618.6h6.5M820.6 1624.5h6.5M820.6 1630.4h6.5M820.6 1636.3h6.5M820.6 1642.2h9.5M820.6 1648.1h6.5M820.6 1654.0h6.5M820.6 1659.9h6.5M820.6 1665.8h6.5M820.6 1671.7h13M820.6 1677.7h6.5M820.6 1683.6h6.5M820.6 1689.5h6.5M820.6 1695.4h6.5M820.6 1701.3h9.5M820.6 1707.2h6.5M820.6 1713.1h6.5M820.6 1719.0h6.5M820.6 1724.9h6.5M820.6 1730.8h13M820.6 1736.7h6.5M820.6 1742.6h6.5M820.6 1748.5h6.5M820.6 1754.4h6.5M820.6 1760.3h9.5M820.6 1766.2h6.5M820.6 1772.1h6.5M820.6 1778.0h6.5M820.6 1783.9h6.5M820.6 1789.8h13M820.6 1795.8h6.5M820.6 1801.7h6.5M820.6 1807.6h6.5M820.6 1813.5h6.5M820.6 1819.4h9.5M820.6 1825.3h6.5M820.6 1831.2h6.5M820.6 1837.1h6.5M820.6 1843.0h6.5M820.6 1848.9h13M820.6 1854.8h6.5M820.6 1860.7h6.5M820.6 1866.6h6.5M820.6 1872.5h6.5M820.6 1878.4h9.5M820.6 1884.3h6.5M820.6 1890.2h6.5M820.6 1896.1h6.5M820.6 1902.0h6.5M820.6 1908.0h13M820.6 1913.9h6.5M820.6 1919.8h6.5M820.6 1925.7h6.5M820.6 1931.6h6.5M820.6 1937.5h9.5M820.6 1943.4h6.5M820.6 1949.3h6.5M820.6 1955.2h6.5M820.6 1961.1h6.5M820.6 1967.0h13M820.6 1972.9h6.5M820.6 1978.8h6.5M820.6 1984.7h6.5M820.6 1990.6h6.5M820.6 1996.5h9.5M820.6 2002.4h6.5M820.6 2008.3h6.5M820.6 2014.2h6.5M820.6 2020.1h6.5M820.6 2026.1h13M820.6 2032.0h6.5M820.6 2037.9h6.5M820.6 2043.8h6.5M820.6 2049.7h6.5M820.6 2055.6h9.5M820.6 2061.5h6.5M820.6 2067.4h6.5M820.6 2073.3h6.5M820.6 2079.2h6.5M820.6 2085.1h13" stroke="#000" stroke-width="1.3" fill="none"/>
<text x="101.4" y="2120.7" text-anchor="middle" font-size="22">8.8</text>
<text x="185.9" y="2120.7" text-anchor="middle" font-size="22">8.7</text>
<text x="270.4" y="2120.7" text-anchor="middle" font-size="22">8.6</text>
<text x="354.9" y="2120.7" text-anchor="middle" font-size="22">8.5</text>
<text x="439.4" y="2120.7" text-anchor="middle" font-size="22">8.4</text>
<text x="523.9" y="2120.7" text-anchor="middle" font-size="22">8.3</text>
<text x="608.4" y="2120.7" text-anchor="middle" font-size="22">8.2</text>
<text x="692.9" y="2120.7" text-anchor="middle" font-size="22">8.1</text>
<text x="777.4" y="2120.7" text-anchor="middle" font-size="22">8.0</text>
<text x="840.0" y="1500.7" font-size="22">3.8</text>
<text x="840.0" y="1559.7" font-size="22">3.9</text>
<text x="840.0" y="1618.8" font-size="22">4.0</text>
<text x="840.0" y="1677.8" font-size="22">4.1</text>
<text x="840.0" y="1736.9" font-size="22">4.2</text>
<text x="840.0" y="1795.9" font-size="22">4.3</text>
<text x="840.0" y="1855.0" font-size="22">4.4</text>
<text x="840.0" y="1914.0" font-size="22">4.5</text>
<text x="840.0" y="1973.1" font-size="22">4.6</text>
<text x="840.0" y="2032.2" font-size="22">4.7</text>
<text x="365.0" y="2152.0" font-size="22"><tspan font-size="13" dy="-8">1</tspan><tspan dy="8">H ppm</tspan></text>
<text transform="translate(903.5,1809.0) rotate(-90)" font-size="22"><tspan font-size="13" dy="-8">1</tspan><tspan dy="8">H ppm</tspan></text>
<text transform="translate(117.5,2017.5) rotate(90)" font-size="17.5" text-anchor="start">E(+1)</text>
<text transform="translate(263.0,2017.5) rotate(90)" font-size="17.5" text-anchor="start">E(+2)</text>
<text transform="translate(286.9,2017.5) rotate(90)" font-size="17.5" text-anchor="start">E(-2)</text>
<text transform="translate(346.9,2021.0) rotate(90)" font-size="17.5" text-anchor="start">E(0)</text>
<text transform="translate(374.6,2019.8) rotate(90)" font-size="17.5" text-anchor="start">G(-4)</text>
<text transform="translate(397.8,2019.8) rotate(90)" font-size="17.5" text-anchor="start">E(-7)</text>
<text transform="translate(424.4,2017.5) rotate(90)" font-size="17.5" font-weight="bold" text-anchor="start">A(-1)</text>
<text transform="translate(448.7,2015.2) rotate(90)" font-size="17.5" text-anchor="start">E(-10)</text>
<text transform="translate(473.0,2017.5) rotate(90)" font-size="17.5" text-anchor="start">E(-8)</text>
<text transform="translate(498.5,2016.4) rotate(90)" font-size="17.5" text-anchor="start">F(-5)</text>
<text transform="translate(523.9,2018.7) rotate(90)" font-size="17.5" text-anchor="start">E(-9)</text>
<text transform="translate(545.9,2021.0) rotate(90)" font-size="17.5" text-anchor="start">A(-11)</text>
<text transform="translate(574.8,2018.7) rotate(90)" font-size="17.5" text-anchor="start">D(-6)</text>
<text transform="translate(598.0,2017.5) rotate(90)" font-size="17.5" text-anchor="start">E(-3)</text>
<text transform="translate(680.2,2013.0) rotate(90)" font-size="17.5" font-weight="bold" text-anchor="start">A(+3)</text>
<text transform="translate(645.4,2029.5) rotate(90)" font-size="17.5" text-anchor="middle">E(0)</text>
<text transform="translate(628.0,2025.0) rotate(90)" font-size="17.5" text-anchor="middle">glutamyl</text>
<polyline points="1191.1,1906.0 1191.1,2001.2" fill="none" stroke="#000" stroke-width="2.0"/>
<polyline points="1206.0,1896.4 1206.0,1993.9" fill="none" stroke="#000" stroke-width="0.9"/>
<polyline points="1293.5,1822.0 1293.5,1917.1 1250.3,1996.3" fill="none" stroke="#000" stroke-width="0.9"/>
<polyline points="1319.3,1808.0 1319.3,1902.5 1276.0,1984.0" fill="none" stroke="#000" stroke-width="0.9"/>
<polyline points="1344.2,1800.0 1344.2,1852.5 1317.3,1960.2" fill="none" stroke="#000" stroke-width="0.9"/>
<polyline points="1347.3,1800.0 1347.3,1938.4" fill="none" stroke="#000" stroke-width="2.0"/>
<polyline points="1352.0,1800.0 1352.0,1852.5 1374.2,1931.2" fill="none" stroke="#000" stroke-width="0.9"/>
<polyline points="1366.0,1795.0 1366.0,1839.0 1398.0,1916.7" fill="none" stroke="#000" stroke-width="0.9"/>
<polyline points="1377.0,1790.0 1377.0,1831.8 1420.8,1907.4" fill="none" stroke="#000" stroke-width="0.9"/>
<polyline points="1391.8,1780.0 1391.8,1816.2 1432.2,1879.4" fill="none" stroke="#000" stroke-width="0.9"/>
<polyline points="1393.5,1780.0 1393.5,1816.2 1459.0,1876.3" fill="none" stroke="#000" stroke-width="0.9"/>
<polyline points="1408.4,1770.0 1408.4,1805.9 1480.9,1866.0" fill="none" stroke="#000" stroke-width="0.9"/>
<polyline points="1445.0,1798.0 1510.9,1851.4" fill="none" stroke="#000" stroke-width="0.9"/>
<polyline points="1502.5,1673.5 1502.5,1751.4 1557.0,1793.0" fill="none" stroke="#000" stroke-width="0.9"/>
<polyline points="1599.8,1579.0 1599.8,1765.3" fill="none" stroke="#000" stroke-width="0.9"/>
<path d="M1370 1735 1369 1739 1364 1738 1361 1738 1358 1735 1360 1731 1364 1729 1367 1733ZM1313 1746 1314 1750 1308 1751 1304 1750 1304 1746 1303 1743 1308 1742 1314 1743ZM1323 1745 1323 1746 1321 1747 1320 1746 1319 1745 1320 1744 1321 1744 1323 1744ZM1387 1695 1385 1697 1384 1699 1381 1698 1380 1695 1382 1694 1384 1692 1385 1694ZM1368 1736 1368 1738 1366 1738 1365 1738 1364 1736 1365 1734 1366 1733 1368 1734ZM1387 1727 1386 1730 1383 1732 1381 1731 1381 1727 1381 1724 1383 1724 1385 1725ZM1363 1713 1360 1714 1358 1716 1354 1715 1351 1713 1354 1710 1358 1709 1362 1710ZM1352 1744 1352 1747 1348 1748 1345 1747 1344 1744 1345 1741 1348 1740 1352 1741ZM1302 1769 1300 1771 1299 1773 1297 1771 1296 1769 1297 1767 1299 1766 1300 1768ZM1323 1727 1321 1728 1319 1728 1315 1728 1314 1727 1316 1726 1319 1725 1322 1726ZM1372 1740 1371 1741 1369 1743 1367 1742 1365 1740 1366 1738 1369 1737 1371 1738ZM1345 1732 1344 1735 1342 1737 1341 1734 1339 1732 1340 1729 1342 1728 1345 1728ZM1302 1773 1300 1776 1298 1777 1297 1776 1295 1773 1297 1771 1298 1769 1300 1770ZM1364 1736 1364 1739 1362 1740 1361 1739 1360 1736 1361 1734 1362 1733 1364 1733ZM1356 1754 1357 1757 1353 1757 1349 1756 1347 1754 1349 1752 1353 1751 1358 1751ZM1305 1760 1305 1761 1303 1762 1302 1761 1302 1760 1302 1760 1303 1759 1304 1759ZM1324 1728 1323 1729 1320 1730 1316 1729 1315 1728 1317 1727 1320 1726 1322 1727ZM1339 1720 1337 1721 1336 1723 1334 1722 1334 1720 1334 1718 1336 1718 1337 1719ZM1369 1697 1368 1698 1366 1699 1363 1698 1362 1697 1364 1696 1366 1694 1369 1695ZM1353 1753 1352 1756 1349 1756 1347 1755 1346 1753 1347 1752 1349 1751 1352 1751ZM1316 1739 1314 1740 1313 1742 1312 1740 1310 1739 1311 1738 1313 1737 1315 1738ZM1316 1771 1314 1772 1313 1773 1311 1772 1311 1771 1311 1769 1313 1767 1315 1767ZM1300 1765 1299 1767 1298 1767 1297 1766 1296 1765 1297 1764 1298 1764 1299 1764ZM1301 1760 1300 1762 1299 1763 1298 1761 1298 1760 1298 1758 1299 1757 1300 1758ZM1369 1734 1369 1736 1364 1736 1361 1735 1359 1734 1361 1733 1364 1731 1369 1732ZM1310 1739 1309 1740 1308 1742 1306 1740 1305 1739 1306 1737 1308 1736 1309 1737ZM1339 1759 1337 1762 1334 1763 1332 1762 1330 1759 1331 1755 1334 1753 1337 1755ZM1344 1720 1342 1722 1338 1722 1336 1722 1332 1720 1335 1718 1338 1718 1341 1718ZM1393 1703 1393 1706 1389 1706 1386 1704 1381 1703 1386 1701 1389 1700 1392 1701ZM1329 1732 1328 1734 1326 1734 1325 1733 1324 1732 1325 1731 1326 1730 1328 1731ZM1356 1722 1355 1724 1354 1725 1353 1724 1351 1722 1352 1719 1354 1719 1355 1719ZM1377 1735 1375 1737 1374 1739 1371 1738 1370 1735 1371 1732 1374 1731 1375 1733ZM1339 1743 1337 1745 1333 1746 1329 1745 1328 1743 1330 1741 1333 1740 1336 1742ZM1365 1722 1365 1723 1363 1723 1361 1723 1360 1722 1362 1721 1363 1720 1365 1721ZM1396 1700 1394 1701 1393 1702 1390 1701 1389 1700 1390 1700 1393 1700 1394 1700ZM1310 1771 1308 1774 1304 1775 1301 1774 1298 1771 1301 1768 1304 1767 1308 1768ZM1312 1767 1312 1768 1309 1769 1306 1768 1305 1767 1307 1766 1309 1765 1313 1765ZM1335 1743 1334 1745 1332 1747 1329 1745 1328 1743 1328 1740 1332 1740 1335 1740ZM1362 1710 1362 1713 1361 1714 1359 1712 1359 1710 1359 1708 1361 1707 1362 1708ZM1324 1744 1324 1746 1320 1747 1316 1747 1317 1744 1317 1743 1320 1742 1324 1742ZM1351 1728 1350 1729 1346 1728 1341 1729 1341 1728 1343 1727 1346 1726 1349 1727ZM1336 1717 1335 1720 1333 1720 1332 1719 1330 1717 1332 1713 1333 1712 1335 1715ZM1375 1711 1373 1715 1370 1714 1368 1713 1366 1711 1368 1708 1370 1706 1374 1708ZM1384 1730 1384 1734 1382 1735 1380 1732 1380 1730 1380 1728 1382 1727 1383 1728ZM1332 1722 1330 1724 1328 1725 1326 1726 1324 1722 1326 1719 1328 1719 1330 1720ZM1314 1756 1314 1760 1312 1759 1310 1759 1309 1756 1310 1753 1312 1754 1313 1755ZM1334 1740 1331 1741 1329 1743 1327 1741 1325 1740 1326 1737 1329 1737 1331 1737ZM1340 1741 1340 1744 1337 1744 1335 1744 1334 1741 1335 1740 1337 1738 1340 1739ZM1388 1698 1386 1701 1383 1702 1380 1700 1380 1698 1379 1694 1383 1695 1385 1695ZM1302 1760 1301 1763 1300 1766 1298 1764 1298 1760 1298 1757 1300 1756 1301 1758ZM1320 1745 1316 1747 1313 1747 1311 1747 1307 1745 1309 1744 1313 1744 1316 1744ZM1357 1749 1357 1752 1355 1753 1354 1752 1354 1749 1354 1747 1355 1747 1356 1748ZM1349 1744 1350 1746 1346 1748 1343 1745 1339 1744 1342 1742 1346 1741 1348 1742ZM1361 1749 1360 1750 1358 1751 1357 1750 1356 1749 1356 1748 1358 1748 1361 1748ZM1352 1711 1351 1713 1350 1714 1348 1714 1349 1711 1349 1710 1350 1708 1352 1709ZM1359 1737 1357 1739 1355 1740 1353 1739 1352 1737 1352 1733 1355 1734 1358 1734ZM1369 1708 1368 1711 1367 1710 1365 1711 1365 1708 1365 1706 1367 1704 1368 1706ZM1318 1733 1318 1736 1316 1735 1315 1735 1315 1733 1315 1729 1316 1728 1318 1730ZM1306 1762 1305 1763 1304 1763 1302 1763 1301 1762 1302 1761 1304 1761 1305 1761ZM1310 1766 1310 1769 1308 1770 1307 1769 1306 1766 1307 1763 1308 1762 1310 1763ZM1344 1749 1341 1751 1337 1751 1335 1750 1330 1749 1334 1748 1337 1747 1342 1747ZM1343 1727 1343 1728 1339 1729 1336 1728 1335 1727 1335 1725 1339 1725 1341 1726ZM1341 1738 1339 1739 1335 1740 1332 1739 1327 1738 1331 1737 1335 1736 1339 1737ZM1386 1716 1386 1719 1383 1720 1381 1719 1381 1716 1381 1713 1383 1714 1386 1713ZM1370 1696 1369 1696 1368 1697 1367 1696 1366 1696 1367 1695 1368 1695 1369 1695ZM1381 1719 1379 1722 1375 1723 1372 1721 1368 1719 1370 1716 1375 1717 1377 1718ZM1303 1761 1303 1762 1302 1762 1301 1762 1300 1761 1301 1760 1302 1758 1304 1759ZM1317 1753 1317 1755 1314 1756 1312 1755 1310 1753 1312 1751 1314 1750 1317 1751ZM1370 1748 1366 1750 1363 1750 1361 1749 1360 1748 1360 1747 1363 1746 1367 1747ZM1356 1755 1355 1757 1353 1757 1349 1757 1349 1755 1350 1753 1353 1751 1355 1753ZM1327 1763 1325 1764 1322 1764 1319 1764 1318 1763 1320 1762 1322 1761 1325 1762ZM1312 1772 1312 1775 1308 1775 1305 1774 1304 1772 1305 1770 1308 1769 1311 1771ZM1316 1747 1315 1748 1314 1748 1313 1748 1311 1747 1313 1746 1314 1745 1315 1745ZM1335 1723 1333 1724 1329 1725 1327 1724 1325 1723 1326 1721 1329 1721 1334 1721ZM1335 1747 1334 1749 1330 1750 1327 1749 1325 1747 1328 1745 1330 1744 1335 1744ZM1339 1749 1338 1751 1335 1750 1333 1750 1330 1749 1331 1748 1335 1748 1337 1748ZM1378 1725 1378 1726 1376 1727 1374 1726 1373 1725 1373 1723 1376 1723 1378 1723ZM1383 1717 1383 1719 1381 1720 1379 1719 1379 1717 1379 1715 1381 1714 1382 1715ZM1385 1733 1384 1735 1381 1736 1378 1734 1377 1733 1377 1729 1381 1729 1383 1731ZM1300 1757 1299 1761 1297 1763 1294 1761 1294 1757 1295 1755 1297 1754 1299 1754ZM1345 1739 1344 1742 1343 1743 1341 1743 1341 1739 1342 1737 1343 1735 1344 1736ZM1345 1736 1344 1738 1343 1739 1341 1739 1340 1736 1341 1733 1343 1734 1344 1734ZM1337 1755 1336 1757 1334 1759 1331 1757 1330 1755 1331 1752 1334 1752 1336 1752ZM1322 1756 1321 1758 1318 1760 1316 1758 1314 1756 1315 1752 1318 1752 1321 1753ZM1318 1777 1316 1780 1313 1779 1310 1779 1308 1777 1309 1775 1313 1773 1316 1775ZM1307 1765 1304 1768 1300 1771 1296 1769 1294 1765 1296 1762 1300 1760 1305 1762ZM1373 1701 1371 1704 1368 1704 1365 1703 1364 1701 1366 1700 1368 1699 1370 1700ZM1326 1737 1325 1738 1323 1740 1322 1739 1321 1737 1321 1734 1323 1734 1325 1734ZM1362 1746 1363 1750 1360 1750 1359 1748 1358 1746 1358 1742 1360 1741 1363 1742ZM1361 1753 1358 1754 1354 1754 1351 1754 1349 1753 1350 1752 1354 1752 1357 1752ZM1341 1730 1339 1731 1337 1731 1332 1731 1332 1730 1333 1728 1337 1728 1341 1728ZM1323 1732 1322 1732 1322 1733 1321 1733 1320 1732 1321 1731 1322 1730 1322 1731ZM1332 1720 1332 1722 1331 1725 1330 1722 1328 1720 1329 1716 1331 1715 1331 1718ZM1357 1751 1357 1755 1355 1757 1352 1755 1352 1751 1353 1749 1355 1747 1357 1747ZM1351 1704 1351 1705 1349 1706 1347 1705 1347 1704 1347 1702 1349 1701 1351 1702ZM1327 1767 1326 1770 1322 1770 1320 1769 1319 1767 1320 1766 1322 1765 1327 1764ZM1330 1743 1329 1745 1328 1748 1325 1747 1326 1743 1326 1741 1328 1740 1330 1740ZM1323 1743 1323 1745 1319 1746 1316 1746 1316 1743 1316 1741 1319 1739 1323 1741ZM1381 1721 1381 1722 1380 1724 1378 1722 1378 1721 1379 1720 1380 1719 1381 1719ZM1348 1747 1349 1750 1344 1749 1340 1749 1338 1747 1341 1744 1344 1742 1348 1744ZM1323 1775 1321 1777 1320 1778 1318 1777 1316 1775 1317 1773 1320 1772 1321 1773ZM1311 1737 1311 1740 1309 1740 1308 1740 1307 1737 1308 1735 1309 1734 1311 1735ZM1375 1718 1374 1722 1373 1723 1371 1721 1371 1718 1372 1716 1373 1715 1374 1714ZM1322 1775 1320 1777 1318 1780 1315 1777 1313 1775 1314 1772 1318 1772 1320 1774ZM1383 1716 1380 1717 1376 1718 1373 1717 1371 1716 1372 1715 1376 1714 1381 1715ZM1353 1741 1353 1743 1349 1743 1348 1742 1346 1741 1347 1739 1349 1738 1353 1739ZM1374 1704 1373 1707 1371 1709 1369 1706 1368 1704 1368 1701 1371 1700 1372 1702ZM1355 1745 1355 1747 1352 1746 1350 1746 1349 1745 1350 1743 1352 1743 1355 1743ZM1350 1717 1348 1720 1346 1721 1343 1721 1343 1717 1344 1715 1346 1713 1348 1715ZM1348 1717 1348 1719 1345 1719 1343 1719 1344 1717 1344 1715 1345 1715 1347 1715ZM1337 1736 1337 1737 1333 1738 1330 1737 1329 1736 1330 1736 1333 1735 1336 1736ZM1388 1715 1385 1717 1382 1719 1379 1718 1377 1715 1377 1712 1382 1712 1386 1712ZM1353 1752 1353 1754 1349 1754 1347 1753 1345 1752 1347 1751 1349 1750 1353 1750ZM1321 1771 1320 1773 1317 1773 1315 1773 1314 1771 1314 1770 1317 1770 1320 1770ZM1310 1761 1312 1762 1307 1763 1304 1762 1304 1761 1304 1760 1307 1759 1311 1760ZM1347 1745 1346 1746 1343 1748 1339 1747 1336 1745 1340 1743 1343 1743 1347 1742ZM1339 1728 1337 1730 1333 1731 1330 1730 1329 1728 1331 1725 1333 1724 1338 1724ZM1321 1769 1319 1771 1314 1771 1311 1771 1310 1769 1311 1768 1314 1767 1319 1767ZM1379 1696 1380 1698 1376 1698 1373 1697 1369 1696 1372 1694 1376 1693 1380 1694ZM1354 1733 1353 1736 1351 1736 1349 1736 1348 1733 1349 1732 1351 1730 1352 1732Z" fill="none" stroke="#000" stroke-width="0.9"/><path d="M1325 1756 1324 1757 1322 1757 1318 1757 1319 1756 1318 1755 1322 1755 1325 1755ZM1332 1748 1328 1749 1326 1750 1323 1749 1324 1748 1323 1747 1326 1747 1330 1747ZM1371 1742 1370 1745 1368 1746 1367 1745 1366 1742 1367 1740 1368 1737 1371 1738ZM1349 1729 1347 1731 1345 1732 1344 1730 1342 1729 1344 1727 1345 1726 1348 1726ZM1369 1717 1369 1718 1367 1720 1364 1719 1364 1717 1365 1715 1367 1715 1368 1715ZM1338 1752 1338 1756 1334 1757 1331 1755 1328 1752 1330 1748 1334 1748 1338 1749ZM1346 1745 1345 1747 1344 1749 1342 1747 1342 1745 1342 1743 1344 1742 1345 1743ZM1318 1766 1316 1769 1313 1770 1309 1770 1310 1766 1311 1764 1313 1761 1316 1763ZM1348 1757 1346 1758 1345 1759 1343 1758 1343 1757 1343 1755 1345 1754 1347 1755ZM1347 1739 1347 1740 1344 1741 1343 1740 1341 1739 1341 1737 1344 1736 1347 1737ZM1326 1762 1325 1764 1322 1767 1319 1764 1316 1762 1318 1760 1322 1759 1326 1759ZM1335 1769 1332 1770 1331 1772 1329 1770 1328 1769 1327 1767 1331 1767 1333 1768ZM1358 1752 1356 1753 1354 1754 1351 1753 1350 1752 1351 1750 1354 1749 1356 1751ZM1329 1748 1327 1750 1326 1751 1324 1751 1322 1748 1324 1745 1326 1745 1328 1745ZM1327 1725 1325 1727 1323 1728 1321 1727 1318 1725 1320 1721 1323 1719 1325 1722ZM1334 1765 1333 1765 1332 1766 1329 1766 1329 1765 1330 1764 1332 1763 1334 1763ZM1346 1760 1345 1762 1342 1762 1338 1761 1338 1760 1338 1757 1342 1756 1346 1757ZM1316 1777 1314 1781 1311 1783 1307 1781 1306 1777 1308 1775 1311 1773 1315 1773ZM1359 1739 1358 1742 1357 1743 1354 1742 1353 1739 1355 1737 1357 1735 1359 1736ZM1341 1762 1341 1766 1338 1767 1335 1765 1335 1762 1335 1760 1338 1759 1340 1760ZM1350 1711 1349 1714 1345 1715 1340 1715 1338 1711 1341 1708 1345 1706 1347 1709ZM1350 1729 1349 1730 1345 1730 1341 1730 1339 1729 1341 1727 1345 1727 1348 1727ZM1301 1750 1301 1753 1299 1752 1298 1753 1298 1750 1298 1748 1299 1748 1301 1749ZM1360 1704 1359 1706 1355 1706 1351 1706 1349 1704 1353 1703 1355 1702 1360 1702ZM1350 1732 1350 1733 1348 1733 1346 1733 1346 1732 1347 1730 1348 1730 1349 1731ZM1363 1738 1363 1740 1360 1740 1357 1740 1356 1738 1358 1736 1360 1735 1362 1737ZM1377 1709 1375 1712 1371 1713 1369 1711 1367 1709 1369 1708 1371 1706 1375 1707ZM1362 1745 1360 1746 1358 1746 1357 1746 1356 1745 1357 1745 1358 1744 1360 1745ZM1330 1757 1330 1759 1329 1760 1327 1759 1327 1757 1327 1755 1329 1755 1330 1755ZM1342 1730 1340 1731 1337 1732 1333 1731 1332 1730 1335 1729 1337 1728 1341 1729ZM1302 1770 1302 1771 1301 1774 1298 1772 1299 1770 1299 1768 1301 1768 1302 1768ZM1395 1722 1393 1724 1390 1725 1386 1724 1386 1722 1387 1720 1390 1719 1393 1719ZM1370 1705 1369 1706 1367 1706 1366 1706 1366 1705 1366 1705 1367 1704 1369 1704ZM1365 1706 1363 1707 1359 1708 1355 1707 1352 1706 1355 1705 1359 1705 1361 1706ZM1325 1751 1325 1753 1323 1754 1320 1753 1320 1751 1319 1748 1323 1749 1325 1748ZM1314 1757 1313 1758 1309 1758 1307 1758 1305 1757 1306 1756 1309 1755 1313 1756ZM1347 1735 1348 1738 1344 1738 1341 1737 1341 1735 1342 1734 1344 1731 1347 1733ZM1382 1713 1382 1714 1381 1714 1379 1714 1378 1713 1379 1711 1381 1711 1383 1711ZM1364 1749 1364 1752 1361 1752 1359 1751 1359 1749 1359 1746 1361 1747 1364 1746ZM1310 1770 1308 1771 1305 1772 1302 1771 1300 1770 1302 1768 1305 1767 1307 1769ZM1392 1720 1392 1723 1391 1725 1390 1722 1390 1720 1389 1716 1391 1715 1392 1717ZM1349 1762 1348 1764 1345 1763 1343 1763 1341 1762 1342 1761 1345 1760 1347 1760ZM1346 1758 1345 1761 1341 1761 1338 1760 1337 1758 1338 1756 1341 1754 1345 1756ZM1312 1740 1312 1742 1310 1742 1309 1742 1309 1740 1309 1738 1310 1737 1312 1738ZM1391 1701 1389 1703 1386 1704 1383 1703 1379 1701 1382 1699 1386 1699 1388 1700ZM1361 1752 1361 1754 1358 1755 1354 1755 1352 1752 1354 1749 1358 1748 1359 1750ZM1342 1760 1341 1761 1339 1761 1337 1761 1334 1760 1337 1759 1339 1758 1342 1758ZM1363 1740 1363 1741 1361 1742 1359 1742 1359 1740 1360 1739 1361 1738 1363 1739ZM1327 1727 1325 1730 1322 1731 1318 1730 1317 1727 1319 1725 1322 1723 1325 1724ZM1354 1734 1355 1736 1351 1736 1347 1736 1347 1734 1348 1733 1351 1733 1353 1733Z" fill="#000"/>
<path d="M1316 1772 1317 1774 1315 1774 1312 1774 1312 1772 1312 1771 1315 1771 1317 1771ZM1300 1775 1299 1777 1296 1777 1293 1777 1292 1775 1292 1774 1296 1774 1298 1775ZM1309 1762 1309 1763 1307 1764 1306 1764 1306 1762 1306 1761 1307 1761 1309 1761ZM1306 1775 1303 1777 1301 1778 1299 1778 1298 1775 1299 1773 1301 1773 1305 1772ZM1290 1786 1289 1787 1288 1788 1286 1788 1285 1786 1287 1786 1288 1785 1289 1786ZM1317 1764 1316 1765 1314 1767 1313 1765 1312 1764 1312 1762 1314 1762 1317 1762ZM1315 1777 1314 1780 1312 1780 1309 1780 1309 1777 1310 1776 1312 1773 1313 1775ZM1303 1756 1302 1757 1301 1757 1300 1757 1299 1756 1301 1755 1301 1755 1303 1755ZM1292 1778 1291 1778 1289 1779 1288 1779 1286 1778 1287 1776 1289 1776 1291 1777ZM1294 1774 1292 1776 1290 1776 1288 1777 1288 1774 1288 1773 1290 1770 1291 1773ZM1289 1767 1289 1769 1286 1769 1284 1768 1282 1767 1284 1765 1286 1763 1289 1765ZM1294 1790 1293 1793 1292 1794 1290 1792 1290 1790 1290 1788 1292 1788 1293 1788ZM1305 1781 1303 1781 1301 1783 1299 1782 1299 1781 1299 1779 1301 1779 1304 1779ZM1316 1758 1317 1759 1313 1759 1310 1758 1310 1758 1310 1757 1313 1757 1315 1757ZM1303 1763 1303 1765 1302 1766 1301 1765 1301 1763 1301 1761 1302 1760 1303 1761ZM1283 1776 1283 1777 1282 1778 1280 1778 1279 1776 1280 1774 1282 1774 1283 1774ZM1309 1777 1308 1778 1306 1779 1304 1778 1302 1777 1304 1776 1306 1776 1309 1776ZM1287 1764 1287 1766 1284 1768 1282 1766 1281 1764 1282 1761 1284 1760 1286 1762ZM1322 1767 1320 1769 1317 1770 1315 1769 1313 1767 1314 1764 1317 1763 1320 1765ZM1300 1786 1298 1789 1295 1791 1293 1788 1291 1786 1293 1784 1295 1783 1297 1784ZM1294 1766 1292 1768 1289 1768 1286 1768 1285 1766 1287 1765 1289 1763 1291 1765ZM1315 1766 1313 1767 1310 1769 1307 1768 1304 1766 1307 1763 1310 1762 1314 1763ZM1291 1766 1291 1769 1286 1769 1283 1769 1282 1766 1284 1764 1286 1761 1290 1763ZM1317 1766 1316 1766 1314 1767 1310 1767 1311 1766 1311 1765 1314 1765 1317 1765ZM1306 1768 1305 1770 1301 1771 1297 1770 1298 1768 1299 1767 1301 1764 1303 1767ZM1290 1762 1290 1764 1288 1764 1286 1765 1286 1762 1286 1759 1288 1760 1290 1760ZM1315 1774 1314 1776 1311 1777 1308 1776 1306 1774 1307 1771 1311 1771 1315 1771ZM1315 1771 1313 1772 1310 1772 1306 1772 1306 1771 1308 1770 1310 1770 1314 1769ZM1297 1776 1297 1778 1295 1779 1293 1778 1292 1776 1293 1775 1295 1773 1297 1774ZM1313 1777 1311 1778 1310 1778 1308 1778 1307 1777 1308 1775 1310 1774 1311 1776ZM1302 1763 1301 1765 1300 1766 1297 1765 1297 1763 1297 1762 1300 1762 1302 1762ZM1301 1777 1298 1779 1296 1780 1292 1780 1290 1777 1294 1776 1296 1775 1298 1776ZM1294 1775 1293 1776 1290 1778 1288 1776 1288 1775 1289 1773 1290 1772 1292 1773ZM1298 1778 1296 1779 1294 1781 1291 1780 1291 1778 1292 1776 1294 1775 1296 1776ZM1313 1758 1311 1759 1309 1759 1307 1759 1306 1758 1306 1756 1309 1756 1312 1756ZM1302 1769 1302 1771 1301 1773 1299 1771 1299 1769 1299 1766 1301 1764 1301 1767ZM1306 1769 1305 1771 1301 1771 1299 1770 1298 1769 1298 1766 1301 1766 1303 1767ZM1285 1779 1285 1781 1282 1781 1278 1781 1277 1779 1280 1777 1282 1775 1284 1777ZM1302 1767 1301 1768 1301 1771 1300 1768 1299 1767 1300 1765 1301 1763 1302 1764ZM1314 1759 1313 1761 1313 1762 1310 1763 1311 1759 1311 1757 1313 1756 1314 1757ZM1294 1778 1294 1779 1293 1780 1291 1779 1291 1778 1291 1776 1293 1775 1295 1776ZM1320 1762 1319 1764 1316 1763 1314 1763 1312 1762 1314 1760 1316 1760 1318 1760ZM1282 1782 1282 1783 1280 1783 1278 1782 1277 1782 1279 1781 1280 1780 1281 1781ZM1311 1780 1310 1782 1309 1784 1308 1782 1307 1780 1307 1779 1309 1778 1311 1778ZM1300 1777 1299 1778 1295 1778 1292 1778 1292 1777 1293 1776 1295 1776 1298 1776ZM1303 1756 1302 1757 1301 1760 1300 1757 1299 1756 1300 1754 1301 1753 1302 1754ZM1298 1767 1297 1769 1295 1771 1293 1769 1291 1767 1292 1765 1295 1764 1297 1766Z" fill="none" stroke="#000" stroke-width="0.9"/><path d="M1305 1787 1306 1788 1302 1788 1299 1788 1297 1787 1298 1786 1302 1786 1305 1786ZM1309 1761 1309 1763 1306 1764 1304 1762 1304 1761 1303 1757 1306 1758 1309 1757ZM1315 1758 1314 1759 1312 1759 1310 1759 1307 1758 1310 1758 1312 1757 1315 1758ZM1290 1770 1289 1771 1287 1771 1286 1771 1286 1770 1286 1769 1287 1768 1289 1768ZM1299 1758 1299 1759 1296 1759 1295 1759 1293 1758 1294 1757 1296 1756 1298 1757ZM1287 1762 1287 1765 1285 1765 1282 1766 1281 1762 1283 1760 1285 1759 1287 1761ZM1307 1771 1307 1773 1306 1773 1305 1772 1305 1771 1305 1769 1306 1768 1307 1769ZM1314 1768 1314 1771 1311 1770 1308 1770 1307 1768 1308 1765 1311 1765 1313 1766ZM1301 1763 1300 1765 1298 1765 1296 1766 1296 1763 1297 1760 1298 1759 1300 1760ZM1309 1771 1309 1774 1307 1775 1306 1774 1305 1771 1306 1769 1307 1767 1309 1768ZM1302 1770 1301 1774 1297 1774 1294 1772 1292 1770 1294 1768 1297 1767 1299 1768ZM1292 1766 1292 1768 1290 1768 1288 1768 1288 1766 1288 1765 1290 1764 1291 1765ZM1301 1765 1300 1767 1297 1767 1294 1767 1295 1765 1294 1764 1297 1763 1300 1764Z" fill="#000"/>
<path d="M1385 1709 1384 1711 1382 1712 1380 1710 1377 1709 1379 1708 1382 1707 1385 1708ZM1400 1705 1399 1706 1397 1708 1394 1707 1394 1705 1393 1702 1397 1702 1401 1703ZM1398 1701 1398 1704 1397 1704 1396 1703 1396 1701 1396 1699 1397 1698 1398 1699ZM1380 1713 1378 1714 1377 1716 1376 1715 1376 1713 1375 1710 1377 1710 1378 1711ZM1383 1711 1382 1712 1380 1712 1379 1712 1378 1711 1378 1709 1380 1709 1383 1709ZM1378 1714 1378 1717 1375 1716 1372 1717 1373 1714 1372 1711 1375 1712 1378 1711ZM1423 1684 1422 1686 1421 1688 1419 1687 1419 1684 1420 1682 1421 1682 1422 1681ZM1379 1716 1378 1718 1375 1718 1373 1717 1372 1716 1373 1714 1375 1713 1378 1713ZM1395 1689 1396 1691 1394 1691 1392 1690 1391 1689 1392 1687 1394 1687 1395 1687ZM1412 1705 1409 1707 1407 1708 1404 1708 1401 1705 1404 1703 1407 1701 1410 1702ZM1413 1706 1410 1707 1408 1707 1404 1707 1403 1706 1406 1705 1408 1704 1411 1704ZM1415 1703 1413 1705 1411 1706 1408 1705 1407 1703 1407 1700 1411 1700 1413 1701ZM1384 1710 1383 1711 1382 1714 1381 1712 1381 1710 1381 1706 1382 1706 1383 1707ZM1416 1695 1415 1698 1413 1698 1411 1698 1411 1695 1412 1693 1413 1692 1415 1692ZM1382 1718 1382 1720 1378 1720 1375 1720 1376 1718 1375 1717 1378 1717 1381 1717ZM1377 1721 1376 1723 1373 1725 1370 1724 1369 1721 1370 1718 1373 1716 1377 1718ZM1377 1713 1375 1714 1374 1715 1372 1714 1371 1713 1372 1712 1374 1711 1376 1712ZM1423 1689 1423 1691 1419 1691 1416 1690 1414 1689 1416 1687 1419 1687 1423 1687ZM1423 1684 1423 1685 1419 1686 1415 1686 1414 1684 1417 1683 1419 1682 1421 1683ZM1418 1682 1418 1684 1415 1683 1413 1683 1411 1682 1413 1680 1415 1678 1418 1680ZM1409 1701 1406 1703 1402 1703 1400 1702 1399 1701 1399 1700 1402 1699 1405 1700ZM1392 1709 1392 1711 1391 1711 1390 1710 1389 1709 1390 1708 1391 1708 1392 1708ZM1411 1702 1409 1703 1407 1705 1404 1703 1402 1702 1404 1700 1407 1698 1409 1699ZM1392 1710 1391 1711 1388 1712 1386 1711 1384 1710 1385 1708 1388 1708 1390 1709ZM1408 1686 1406 1687 1404 1688 1402 1687 1400 1686 1402 1686 1404 1685 1407 1685ZM1412 1694 1410 1695 1408 1695 1406 1695 1403 1694 1407 1694 1408 1693 1410 1694ZM1406 1712 1404 1714 1401 1715 1399 1714 1397 1712 1398 1708 1401 1708 1404 1710ZM1402 1691 1401 1692 1399 1693 1396 1692 1396 1691 1397 1690 1399 1689 1401 1690ZM1401 1696 1400 1698 1399 1700 1397 1698 1396 1696 1397 1694 1399 1693 1401 1694ZM1413 1692 1413 1694 1412 1694 1411 1693 1409 1692 1410 1691 1412 1691 1413 1691ZM1377 1711 1375 1713 1373 1715 1371 1713 1370 1711 1370 1708 1373 1707 1375 1709ZM1398 1703 1399 1707 1395 1708 1392 1706 1391 1703 1392 1701 1395 1700 1398 1701ZM1386 1712 1386 1713 1384 1714 1383 1713 1382 1712 1383 1710 1384 1709 1386 1709ZM1397 1702 1397 1705 1393 1706 1391 1705 1389 1702 1391 1700 1393 1699 1396 1700ZM1421 1686 1419 1688 1417 1690 1414 1688 1413 1686 1414 1684 1417 1683 1420 1682ZM1391 1708 1392 1711 1388 1711 1385 1710 1384 1708 1386 1706 1388 1705 1390 1707ZM1393 1700 1391 1701 1389 1704 1387 1701 1385 1700 1386 1697 1389 1697 1392 1698ZM1407 1706 1408 1708 1403 1708 1399 1708 1400 1706 1399 1705 1403 1705 1406 1705ZM1417 1683 1417 1684 1415 1685 1413 1684 1412 1683 1413 1682 1415 1681 1418 1681ZM1379 1719 1379 1721 1376 1723 1373 1721 1373 1719 1373 1717 1376 1716 1378 1717ZM1402 1686 1402 1689 1400 1690 1399 1688 1399 1686 1399 1684 1400 1681 1402 1683ZM1395 1698 1394 1699 1392 1700 1390 1699 1389 1698 1389 1695 1392 1695 1395 1696ZM1408 1685 1407 1689 1403 1689 1401 1688 1401 1685 1401 1683 1403 1681 1406 1683ZM1409 1686 1408 1688 1407 1690 1406 1689 1405 1686 1406 1684 1407 1683 1409 1683ZM1396 1717 1396 1719 1394 1722 1392 1720 1391 1717 1392 1714 1394 1713 1396 1714ZM1407 1709 1407 1710 1403 1710 1402 1710 1399 1709 1400 1709 1403 1708 1407 1708ZM1409 1695 1409 1697 1406 1697 1403 1697 1402 1695 1402 1692 1406 1692 1408 1693ZM1382 1713 1381 1715 1379 1717 1378 1715 1377 1713 1378 1711 1379 1710 1381 1711ZM1398 1700 1396 1703 1393 1704 1390 1703 1389 1700 1391 1697 1393 1697 1395 1698ZM1402 1709 1402 1710 1400 1710 1399 1710 1398 1709 1398 1707 1400 1707 1402 1708ZM1418 1690 1416 1691 1414 1692 1412 1692 1411 1690 1413 1689 1414 1689 1416 1689Z" fill="none" stroke="#000" stroke-width="0.9"/><path d="M1382 1721 1380 1722 1379 1722 1378 1722 1378 1721 1378 1719 1379 1719 1381 1719ZM1387 1708 1384 1708 1382 1709 1379 1709 1376 1708 1378 1707 1382 1706 1384 1707ZM1419 1691 1418 1693 1415 1694 1414 1693 1413 1691 1414 1689 1415 1688 1417 1688ZM1406 1690 1405 1692 1404 1692 1403 1691 1402 1690 1403 1689 1404 1689 1406 1689ZM1400 1688 1399 1690 1397 1691 1394 1690 1393 1688 1395 1686 1397 1685 1398 1686ZM1406 1698 1406 1699 1405 1700 1403 1700 1402 1698 1403 1697 1405 1697 1407 1697ZM1385 1701 1384 1703 1382 1703 1380 1702 1379 1701 1380 1699 1382 1698 1384 1699ZM1378 1716 1377 1718 1375 1719 1374 1717 1373 1716 1374 1714 1375 1714 1377 1715ZM1405 1686 1404 1688 1403 1689 1402 1689 1402 1686 1402 1684 1403 1684 1405 1684Z" fill="#000"/>
<path d="M1400 1756 1400 1759 1399 1761 1398 1758 1397 1756 1397 1754 1399 1754 1400 1754ZM1409 1766 1408 1767 1406 1767 1404 1767 1404 1766 1404 1765 1406 1765 1408 1766ZM1402 1747 1402 1749 1400 1749 1398 1749 1396 1747 1398 1745 1400 1744 1401 1745ZM1403 1772 1401 1773 1400 1774 1398 1773 1397 1772 1397 1770 1400 1770 1402 1770ZM1391 1754 1391 1757 1387 1759 1385 1756 1382 1754 1385 1752 1387 1750 1391 1750ZM1413 1748 1412 1751 1410 1752 1407 1752 1407 1748 1409 1747 1410 1744 1411 1746ZM1405 1746 1405 1748 1404 1748 1403 1747 1403 1746 1403 1745 1404 1745 1405 1746ZM1401 1773 1402 1776 1399 1777 1397 1775 1396 1773 1397 1770 1399 1768 1401 1771ZM1404 1754 1405 1757 1402 1757 1399 1757 1397 1754 1400 1753 1402 1751 1404 1752ZM1395 1769 1392 1770 1390 1772 1387 1771 1386 1769 1388 1767 1390 1767 1392 1768ZM1399 1759 1397 1760 1395 1760 1393 1760 1390 1759 1392 1758 1395 1758 1398 1758ZM1388 1756 1387 1758 1386 1758 1385 1757 1383 1756 1384 1753 1386 1753 1388 1753ZM1393 1770 1393 1771 1391 1771 1388 1771 1386 1770 1388 1768 1391 1768 1394 1768ZM1388 1755 1387 1757 1385 1758 1384 1757 1384 1755 1384 1753 1385 1752 1387 1753ZM1400 1751 1400 1753 1398 1753 1396 1753 1395 1751 1396 1750 1398 1749 1400 1750ZM1407 1767 1407 1770 1404 1770 1402 1769 1399 1767 1401 1765 1404 1763 1407 1765ZM1404 1749 1402 1750 1401 1750 1397 1750 1398 1749 1399 1748 1401 1747 1402 1748ZM1400 1771 1398 1772 1396 1772 1394 1772 1393 1771 1395 1770 1396 1769 1399 1770ZM1388 1759 1386 1762 1383 1762 1380 1761 1379 1759 1379 1757 1383 1757 1385 1758Z" fill="none" stroke="#000" stroke-width="0.9"/><path d="M1400 1766 1400 1767 1398 1768 1397 1768 1396 1766 1397 1765 1398 1764 1399 1765ZM1392 1758 1391 1759 1390 1760 1389 1759 1387 1758 1388 1757 1390 1757 1392 1757ZM1411 1758 1410 1760 1409 1763 1407 1760 1406 1758 1407 1756 1409 1753 1410 1756ZM1411 1748 1409 1750 1407 1752 1405 1749 1404 1748 1405 1745 1407 1744 1409 1746ZM1385 1761 1385 1763 1384 1763 1383 1762 1382 1761 1382 1759 1384 1758 1385 1759ZM1404 1756 1403 1758 1401 1758 1398 1757 1396 1756 1399 1756 1401 1755 1404 1755Z" fill="#000"/>
<path d="M1332.4 1748.9 1332.2 1751.8 1331 1753.6 1329.4 1755.2 1326.6 1756.2 1322.5 1756.6 1316.4 1755.8 1312.2 1756.0 1310.2 1754.5 1307.7 1753.6 1306.8 1751.7 1306.8 1749.0 1306.9 1746.2 1307.8 1744.4 1309.5 1742.9 1312.3 1741.9 1316.1 1741.4 1322.6 1741.2 1326.6 1741.7 1328.9 1743.0 1330.7 1744.4 1331.5 1746.3Z" fill="#000"/><ellipse cx="1314.0" cy="1748.9" rx="3.7" ry="3.3" fill="none" stroke="#fff" stroke-width="0.8"/><ellipse cx="1314.0" cy="1748.9" rx="2.6" ry="2.3" fill="none" stroke="#fff" stroke-width="0.8"/><ellipse cx="1314.0" cy="1748.9" rx="1.5" ry="1.4" fill="none" stroke="#fff" stroke-width="0.9"/><ellipse cx="1314.0" cy="1748.9" rx="0.6" ry="0.6" fill="#fff"/><ellipse cx="1324.6" cy="1748.9" rx="3.7" ry="3.3" fill="none" stroke="#fff" stroke-width="0.8"/><ellipse cx="1324.6" cy="1748.9" rx="2.6" ry="2.3" fill="none" stroke="#fff" stroke-width="0.8"/><ellipse cx="1324.6" cy="1748.9" rx="1.5" ry="1.4" fill="none" stroke="#fff" stroke-width="0.9"/><ellipse cx="1324.6" cy="1748.9" rx="0.6" ry="0.6" fill="#fff"/>
<path d="M1352.8 1721.7 1352.1 1724.2 1351.3 1725.8 1349.8 1726.9 1348.5 1728.2 1345.7 1728.0 1341.9 1728.3 1339.6 1727.6 1337.7 1727.1 1336.4 1725.9 1335.8 1724.2 1335.2 1721.7 1335.5 1719.0 1335.9 1717.2 1337.7 1716.3 1339.3 1715.2 1341.8 1714.8 1345.7 1715.3 1348.4 1715.2 1349.7 1716.5 1351.5 1717.4 1352.1 1719.1Z" fill="#000"/><ellipse cx="1343.8" cy="1721.7" rx="4.6" ry="3.0" fill="none" stroke="#fff" stroke-width="0.8"/><ellipse cx="1343.8" cy="1721.7" rx="3.3" ry="2.1" fill="none" stroke="#fff" stroke-width="0.8"/><ellipse cx="1343.8" cy="1721.7" rx="2.0" ry="1.3" fill="none" stroke="#fff" stroke-width="0.9"/><ellipse cx="1343.8" cy="1721.7" rx="0.7" ry="0.6" fill="#fff"/>
<path d="M1398.4 1760.5 1398.7 1766.4 1397.5 1769.1 1396.9 1772.2 1395.5 1773.6 1393.9 1775.1 1391.2 1774.8 1389.3 1774.6 1388.2 1772.2 1387.6 1769.2 1386.5 1766.4 1386.3 1760.5 1386.4 1754.5 1387.5 1751.6 1388.2 1748.7 1389.4 1746.7 1391.2 1746.8 1393.9 1746.1 1395.7 1746.7 1396.9 1748.7 1398.1 1750.8 1398.5 1754.7Z" fill="#000"/>
<path d="M1694.3 1494.5 L1680.4 1502.9 L1664.6 1517.3 L1638.1 1535.6 L1603.3 1560.5 L1560.7 1592.8 L1518.3 1625.4 L1476.0 1658.1 L1433.1 1690.0 L1389.9 1721.5 L1346.6 1753.1 L1305.2 1786.9 L1264.5 1821.6 L1222.8 1855.0 L1181.4 1888.9 L1169.7 1900.0 L1160.4 1910.6 L1153.5 1919.1 L1148.7 1925.2 L1150.3 1927.1 L1157.2 1923.9 L1167.2 1919.2 L1179.7 1912.6 L1193.2 1903.8 L1235.8 1871.5 L1278.1 1838.8 L1321.4 1807.3 L1364.0 1775.0 L1404.7 1740.4 L1445.5 1705.7 L1486.6 1671.5 L1528.3 1638.0 L1570.0 1604.5 L1611.3 1570.7 L1643.7 1542.6 L1667.7 1521.2 L1685.4 1509.2 L1696.7 1497.7Z" fill="#000" stroke="#000" stroke-width="1.2" stroke-linejoin="round"/>
<path d="M1622.3 1550.1 L1615.7 1555.5 L1608.7 1560.4 L1601.4 1565.0 L1594.3 1569.8 L1587.5 1575.0 L1581.0 1580.6" fill="none" stroke="#fff" stroke-width="0.85" stroke-linecap="round" stroke-linejoin="round" opacity="1"/>
<path d="M1574.6 1586.3 L1568.1 1591.8 L1561.2 1596.9 L1554.0 1601.6 L1546.9 1606.4 L1540.1 1611.6" fill="none" stroke="#fff" stroke-width="0.85" stroke-linecap="round" stroke-linejoin="round" opacity="1"/>
<path d="M1533.7 1617.3 L1527.4 1623.1 L1520.8 1628.6 L1513.9 1633.6 L1506.7 1638.4 L1499.6 1643.2" fill="none" stroke="#fff" stroke-width="0.85" stroke-linecap="round" stroke-linejoin="round" opacity="1"/>
<path d="M1492.9 1648.4 L1486.4 1654.1 L1480.1 1659.8 L1473.5 1665.3 L1466.6 1670.3 L1459.3 1674.9 L1452.2 1679.7" fill="none" stroke="#fff" stroke-width="0.85" stroke-linecap="round" stroke-linejoin="round" opacity="1"/>
<path d="M1445.3 1684.8 L1438.9 1690.4 L1432.5 1696.1 L1425.8 1701.5 L1418.8 1706.4 L1411.5 1711.0" fill="none" stroke="#fff" stroke-width="0.85" stroke-linecap="round" stroke-linejoin="round" opacity="1"/>
<path d="M1404.4 1715.8 L1397.5 1720.9 L1391.0 1726.4 L1384.6 1732.1 L1377.9 1737.5 L1370.9 1742.4 L1363.8 1747.2" fill="none" stroke="#fff" stroke-width="0.85" stroke-linecap="round" stroke-linejoin="round" opacity="1"/>
<path d="M1356.7 1752.1 L1350.0 1757.3 L1343.6 1763.1 L1337.3 1768.9 L1330.8 1774.4 L1323.9 1779.5 L1316.8 1784.2" fill="none" stroke="#fff" stroke-width="0.85" stroke-linecap="round" stroke-linejoin="round" opacity="1"/>
<path d="M1309.7 1789.1 L1303.1 1794.5 L1296.8 1800.4 L1290.6 1806.4 L1284.2 1812.0 L1277.4 1817.2" fill="none" stroke="#fff" stroke-width="0.85" stroke-linecap="round" stroke-linejoin="round" opacity="1"/>
<path d="M1270.4 1822.1 L1263.4 1827.1 L1256.7 1832.5 L1250.4 1838.2 L1244.1 1844.1 L1237.6 1849.6" fill="none" stroke="#fff" stroke-width="0.85" stroke-linecap="round" stroke-linejoin="round" opacity="1"/>
<path d="M1230.7 1854.7 L1223.6 1859.5 L1216.6 1864.5 L1210.0 1869.9 L1203.7 1875.7" fill="none" stroke="#fff" stroke-width="0.85" stroke-linecap="round" stroke-linejoin="round" opacity="1"/>
<path d="M1197.4 1881.6 L1190.9 1887.1 L1184.1 1892.3" fill="none" stroke="#fff" stroke-width="0.85" stroke-linecap="round" stroke-linejoin="round" opacity="1"/>
<path d="M1622.5 1550.3 L1616.1 1555.9 L1609.6 1561.6 L1603.0 1567.0 L1595.9 1571.9 L1588.7 1576.6 L1581.7 1581.5" fill="none" stroke="#fff" stroke-width="0.85" stroke-linecap="round" stroke-linejoin="round" opacity="1"/>
<path d="M1575.1 1586.8 L1568.7 1592.6 L1562.3 1598.3 L1555.7 1603.7 L1548.7 1608.6 L1541.5 1613.4" fill="none" stroke="#fff" stroke-width="0.85" stroke-linecap="round" stroke-linejoin="round" opacity="1"/>
<path d="M1534.5 1618.3 L1527.9 1623.7 L1521.5 1629.5 L1515.2 1635.2 L1508.5 1640.6" fill="none" stroke="#fff" stroke-width="0.85" stroke-linecap="round" stroke-linejoin="round" opacity="1"/>
<path d="M1501.5 1645.5 L1494.3 1650.3 L1487.3 1655.2 L1480.7 1660.6 L1474.3 1666.3 L1467.9 1672.0" fill="none" stroke="#fff" stroke-width="0.85" stroke-linecap="round" stroke-linejoin="round" opacity="1"/>
<path d="M1461.3 1677.4 L1454.2 1682.2 L1447.0 1686.9 L1440.0 1691.8 L1433.3 1697.2 L1426.9 1702.9 L1420.5 1708.6" fill="none" stroke="#fff" stroke-width="0.85" stroke-linecap="round" stroke-linejoin="round" opacity="1"/>
<path d="M1413.8 1713.9 L1406.7 1718.7 L1399.5 1723.4 L1392.4 1728.2 L1385.8 1733.6 L1379.4 1739.3" fill="none" stroke="#fff" stroke-width="0.85" stroke-linecap="round" stroke-linejoin="round" opacity="1"/>
<path d="M1373.0 1745.0 L1366.3 1750.4 L1359.3 1755.3 L1352.1 1760.1 L1345.2 1765.0" fill="none" stroke="#fff" stroke-width="0.85" stroke-linecap="round" stroke-linejoin="round" opacity="1"/>
<path d="M1338.6 1770.5 L1332.3 1776.3 L1325.9 1782.1 L1319.3 1787.4 L1312.3 1792.3" fill="none" stroke="#fff" stroke-width="0.85" stroke-linecap="round" stroke-linejoin="round" opacity="1"/>
<path d="M1305.2 1797.2 L1298.3 1802.2 L1291.8 1807.8 L1285.5 1813.7 L1279.2 1819.5" fill="none" stroke="#fff" stroke-width="0.85" stroke-linecap="round" stroke-linejoin="round" opacity="1"/>
<path d="M1272.6 1825.0 L1265.7 1830.0 L1258.5 1834.7 L1251.6 1839.8 L1245.0 1845.3 L1238.7 1851.1 L1232.4 1856.9" fill="none" stroke="#fff" stroke-width="0.85" stroke-linecap="round" stroke-linejoin="round" opacity="1"/>
<path d="M1225.8 1862.2 L1218.8 1867.2 L1211.6 1872.0 L1204.7 1877.0 L1198.2 1882.6 L1191.9 1888.4 L1185.6 1894.2" fill="none" stroke="#fff" stroke-width="0.85" stroke-linecap="round" stroke-linejoin="round" opacity="1"/>
<path d="M1623.4 1551.4 L1616.4 1556.4 L1609.9 1562.0 L1603.6 1567.8 L1597.2 1573.4 L1590.4 1578.7" fill="none" stroke="#fff" stroke-width="0.85" stroke-linecap="round" stroke-linejoin="round" opacity="1"/>
<path d="M1583.3 1583.5 L1576.2 1588.3 L1569.3 1593.3 L1562.8 1598.9 L1556.5 1604.7 L1550.1 1610.4 L1543.3 1615.6 L1536.2 1620.5" fill="none" stroke="#fff" stroke-width="0.85" stroke-linecap="round" stroke-linejoin="round" opacity="1"/>
<path d="M1529.1 1625.2 L1522.2 1630.3 L1515.7 1635.9 L1509.4 1641.7 L1503.0 1647.4 L1496.2 1652.6" fill="none" stroke="#fff" stroke-width="0.85" stroke-linecap="round" stroke-linejoin="round" opacity="1"/>
<path d="M1489.1 1657.5 L1482.0 1662.2 L1475.1 1667.3 L1468.6 1672.9 L1462.3 1678.7 L1455.9 1684.4 L1449.1 1689.6 L1442.0 1694.4" fill="none" stroke="#fff" stroke-width="0.85" stroke-linecap="round" stroke-linejoin="round" opacity="1"/>
<path d="M1434.8 1699.1 L1427.9 1704.2 L1421.4 1709.8 L1415.1 1715.6 L1408.7 1721.2 L1401.9 1726.4 L1394.8 1731.2 L1387.6 1735.9 L1380.7 1741.1" fill="none" stroke="#fff" stroke-width="0.85" stroke-linecap="round" stroke-linejoin="round" opacity="1"/>
<path d="M1374.2 1746.6 L1368.0 1752.5 L1361.5 1758.1 L1354.7 1763.3 L1347.6 1768.1 L1340.5 1772.9 L1333.7 1778.1 L1327.2 1783.7" fill="none" stroke="#fff" stroke-width="0.85" stroke-linecap="round" stroke-linejoin="round" opacity="1"/>
<path d="M1320.9 1789.5 L1314.5 1795.2 L1307.7 1800.4 L1300.6 1805.2 L1293.5 1810.1 L1286.7 1815.2" fill="none" stroke="#fff" stroke-width="0.85" stroke-linecap="round" stroke-linejoin="round" opacity="1"/>
<path d="M1280.3 1820.9 L1274.0 1826.8 L1267.6 1832.4 L1260.8 1837.6 L1253.7 1842.4 L1246.6 1847.2 L1239.8 1852.4 L1233.3 1858.0 L1227.1 1863.9" fill="none" stroke="#fff" stroke-width="0.85" stroke-linecap="round" stroke-linejoin="round" opacity="1"/>
<path d="M1220.6 1869.5 L1213.8 1874.7 L1206.7 1879.5 L1199.6 1884.4 L1192.8 1889.5 L1186.4 1895.2" fill="none" stroke="#fff" stroke-width="0.85" stroke-linecap="round" stroke-linejoin="round" opacity="1"/>
<path d="M1624.8 1553.3 L1617.7 1558.1 L1610.7 1563.0 L1604.0 1568.2 L1597.6 1574.0 L1591.3 1579.8 L1584.8 1585.4" fill="none" stroke="#fff" stroke-width="0.85" stroke-linecap="round" stroke-linejoin="round" opacity="1"/>
<path d="M1577.9 1590.5 L1570.8 1595.3 L1563.7 1600.1 L1557.0 1605.4 L1550.6 1611.1 L1544.3 1616.9 L1537.8 1622.5" fill="none" stroke="#fff" stroke-width="0.85" stroke-linecap="round" stroke-linejoin="round" opacity="1"/>
<path d="M1530.9 1627.6 L1523.8 1632.4 L1516.7 1637.2 L1510.0 1642.5 L1503.6 1648.2 L1497.3 1654.1 L1490.8 1659.6" fill="none" stroke="#fff" stroke-width="0.85" stroke-linecap="round" stroke-linejoin="round" opacity="1"/>
<path d="M1483.9 1664.7 L1476.8 1669.5 L1469.8 1674.3 L1463.1 1679.6 L1456.7 1685.4 L1450.4 1691.2" fill="none" stroke="#fff" stroke-width="0.85" stroke-linecap="round" stroke-linejoin="round" opacity="1"/>
<path d="M1443.9 1696.8 L1437.0 1701.9 L1429.9 1706.7 L1422.9 1711.6 L1416.2 1716.9 L1409.8 1722.6" fill="none" stroke="#fff" stroke-width="0.85" stroke-linecap="round" stroke-linejoin="round" opacity="1"/>
<path d="M1403.5 1728.5 L1397.0 1734.0 L1390.1 1739.1 L1383.0 1743.9 L1376.0 1748.8 L1369.3 1754.1 L1362.9 1759.8 L1356.6 1765.7 L1350.0 1771.2 L1343.1 1776.2" fill="none" stroke="#fff" stroke-width="0.85" stroke-linecap="round" stroke-linejoin="round" opacity="1"/>
<path d="M1336.0 1781.0 L1328.9 1785.9 L1322.2 1791.2 L1315.9 1796.9 L1309.5 1802.7 L1303.0 1808.2" fill="none" stroke="#fff" stroke-width="0.85" stroke-linecap="round" stroke-linejoin="round" opacity="1"/>
<path d="M1296.0 1813.2 L1288.8 1817.9 L1281.8 1822.8 L1275.1 1828.1 L1268.7 1833.8 L1262.4 1839.6" fill="none" stroke="#fff" stroke-width="0.85" stroke-linecap="round" stroke-linejoin="round" opacity="1"/>
<path d="M1255.8 1845.1 L1248.9 1850.1 L1241.7 1854.8 L1234.7 1859.7 L1228.0 1865.0" fill="none" stroke="#fff" stroke-width="0.85" stroke-linecap="round" stroke-linejoin="round" opacity="1"/>
<path d="M1221.6 1870.8 L1215.3 1876.6 L1208.7 1882.0 L1201.7 1887.0 L1194.6 1891.8 L1187.5 1896.7" fill="none" stroke="#fff" stroke-width="0.85" stroke-linecap="round" stroke-linejoin="round" opacity="1"/>
<path d="M1625.7 1554.4 L1619.2 1559.9 L1612.3 1565.0 L1605.2 1569.8 L1598.2 1574.8 L1591.7 1580.3 L1585.4 1586.1 L1579.1 1591.9 L1572.5 1597.4" fill="none" stroke="#fff" stroke-width="0.85" stroke-linecap="round" stroke-linejoin="round" opacity="1"/>
<path d="M1565.5 1602.3 L1558.4 1607.1 L1551.4 1612.1 L1544.8 1617.6 L1538.5 1623.4 L1532.2 1629.2 L1525.6 1634.6" fill="none" stroke="#fff" stroke-width="0.85" stroke-linecap="round" stroke-linejoin="round" opacity="1"/>
<path d="M1518.6 1639.5 L1511.4 1644.3 L1504.5 1649.3 L1497.9 1654.8 L1491.6 1660.6 L1485.3 1666.4" fill="none" stroke="#fff" stroke-width="0.85" stroke-linecap="round" stroke-linejoin="round" opacity="1"/>
<path d="M1478.7 1671.8 L1471.7 1676.8 L1464.6 1681.6 L1457.7 1686.7 L1451.2 1692.2 L1444.9 1698.1 L1438.6 1703.9" fill="none" stroke="#fff" stroke-width="0.85" stroke-linecap="round" stroke-linejoin="round" opacity="1"/>
<path d="M1432.0 1709.4 L1425.1 1714.4 L1418.0 1719.2 L1411.1 1724.3 L1404.6 1729.9 L1398.4 1735.8 L1392.1 1741.6 L1385.5 1747.1 L1378.5 1752.0" fill="none" stroke="#fff" stroke-width="0.85" stroke-linecap="round" stroke-linejoin="round" opacity="1"/>
<path d="M1371.4 1756.8 L1364.4 1761.8 L1357.9 1767.3 L1351.5 1773.1 L1345.2 1778.8 L1338.5 1784.2 L1331.5 1789.1" fill="none" stroke="#fff" stroke-width="0.85" stroke-linecap="round" stroke-linejoin="round" opacity="1"/>
<path d="M1324.3 1793.8 L1317.4 1798.8 L1310.8 1804.3 L1304.4 1810.0 L1298.0 1815.6 L1291.2 1820.9" fill="none" stroke="#fff" stroke-width="0.85" stroke-linecap="round" stroke-linejoin="round" opacity="1"/>
<path d="M1284.1 1825.7 L1276.9 1830.4 L1269.9 1835.3 L1263.3 1840.8 L1257.0 1846.6 L1250.6 1852.3" fill="none" stroke="#fff" stroke-width="0.85" stroke-linecap="round" stroke-linejoin="round" opacity="1"/>
<path d="M1243.9 1857.6 L1236.8 1862.5 L1229.7 1867.2 L1222.7 1872.2 L1216.1 1877.6 L1209.8 1883.4 L1203.4 1889.1 L1196.6 1894.4" fill="none" stroke="#fff" stroke-width="0.85" stroke-linecap="round" stroke-linejoin="round" opacity="1"/>
<path d="M1625.9 1554.6 L1619.7 1560.6 L1613.5 1566.5 L1606.8 1571.8 L1599.8 1576.7 L1592.7 1581.6 L1585.9 1586.8" fill="none" stroke="#fff" stroke-width="0.85" stroke-linecap="round" stroke-linejoin="round" opacity="1"/>
<path d="M1579.5 1592.5 L1573.3 1598.4 L1566.9 1604.1 L1560.1 1609.4 L1553.1 1614.2 L1546.0 1619.0 L1539.2 1624.2" fill="none" stroke="#fff" stroke-width="0.85" stroke-linecap="round" stroke-linejoin="round" opacity="1"/>
<path d="M1532.7 1629.8 L1526.5 1635.7 L1520.1 1641.4 L1513.3 1646.7 L1506.2 1651.5 L1499.2 1656.3 L1492.3 1661.5" fill="none" stroke="#fff" stroke-width="0.85" stroke-linecap="round" stroke-linejoin="round" opacity="1"/>
<path d="M1485.9 1667.2 L1479.7 1673.1 L1473.3 1678.9 L1466.6 1684.2 L1459.6 1689.1 L1452.6 1694.0" fill="none" stroke="#fff" stroke-width="0.85" stroke-linecap="round" stroke-linejoin="round" opacity="1"/>
<path d="M1445.8 1699.3 L1439.5 1705.0 L1433.3 1711.0 L1427.0 1716.8 L1420.3 1722.1 L1413.3 1727.1 L1406.3 1732.1" fill="none" stroke="#fff" stroke-width="0.85" stroke-linecap="round" stroke-linejoin="round" opacity="1"/>
<path d="M1399.6 1737.4 L1393.3 1743.1 L1387.1 1749.1 L1380.8 1754.9 L1374.0 1760.1 L1366.9 1764.9 L1359.8 1769.7" fill="none" stroke="#fff" stroke-width="0.85" stroke-linecap="round" stroke-linejoin="round" opacity="1"/>
<path d="M1352.9 1774.8 L1346.5 1780.5 L1340.2 1786.3 L1333.7 1791.9 L1326.9 1797.1 L1319.8 1801.9 L1312.6 1806.6 L1305.7 1811.6" fill="none" stroke="#fff" stroke-width="0.85" stroke-linecap="round" stroke-linejoin="round" opacity="1"/>
<path d="M1299.1 1817.1 L1292.7 1822.8 L1286.1 1828.3 L1279.2 1833.3 L1272.0 1838.0 L1264.9 1842.8 L1258.0 1847.9" fill="none" stroke="#fff" stroke-width="0.85" stroke-linecap="round" stroke-linejoin="round" opacity="1"/>
<path d="M1251.6 1853.5 L1245.2 1859.3 L1238.8 1864.9 L1231.9 1870.0 L1224.7 1874.7" fill="none" stroke="#fff" stroke-width="0.85" stroke-linecap="round" stroke-linejoin="round" opacity="1"/>
<path d="M1217.6 1879.5 L1210.7 1884.6 L1204.2 1890.1 L1197.8 1895.9 L1191.3 1901.5" fill="none" stroke="#fff" stroke-width="0.85" stroke-linecap="round" stroke-linejoin="round" opacity="1"/>
<ellipse cx="1653.5" cy="1529.2" rx="5" ry="2.2" transform="rotate(-38 1653.5 1529.2)" fill="none" stroke="#fff" stroke-width="0.8"/>
<ellipse cx="1573.7" cy="1592.0" rx="5" ry="2.2" transform="rotate(-38 1573.7 1592.0)" fill="none" stroke="#fff" stroke-width="0.8"/>
<ellipse cx="1464.5" cy="1678.0" rx="5" ry="2.2" transform="rotate(-38 1464.5 1678.0)" fill="none" stroke="#fff" stroke-width="0.8"/>
<ellipse cx="1414.1" cy="1717.7" rx="5" ry="2.2" transform="rotate(-38 1414.1 1717.7)" fill="none" stroke="#fff" stroke-width="0.8"/>
<ellipse cx="1313.3" cy="1797.1" rx="5" ry="2.2" transform="rotate(-38 1313.3 1797.1)" fill="none" stroke="#fff" stroke-width="0.8"/>
<ellipse cx="1254.5" cy="1843.4" rx="5" ry="2.2" transform="rotate(-38 1254.5 1843.4)" fill="none" stroke="#fff" stroke-width="0.8"/>
<ellipse cx="1212.5" cy="1876.5" rx="5" ry="2.2" transform="rotate(-38 1212.5 1876.5)" fill="none" stroke="#fff" stroke-width="0.8"/>
<path d="M1139 1937 1139 1938 1137 1939 1134 1939 1133 1937 1134 1936 1137 1936 1140 1936ZM1139 1935 1136 1936 1134 1936 1131 1936 1130 1935 1130 1934 1134 1934 1136 1934ZM1138 1933 1138 1936 1135 1936 1132 1936 1130 1933 1133 1931 1135 1929 1137 1932ZM1146 1930 1145 1932 1143 1932 1141 1932 1140 1930 1141 1927 1143 1927 1145 1928ZM1144 1934 1143 1935 1142 1936 1141 1935 1141 1934 1140 1932 1142 1932 1143 1933ZM1139 1937 1137 1937 1135 1938 1133 1937 1131 1937 1132 1936 1135 1935 1137 1936ZM1135 1942 1134 1943 1133 1944 1131 1943 1130 1942 1131 1941 1133 1941 1135 1941Z" fill="none" stroke="#000" stroke-width="0.9"/><path d="M1132 1940 1132 1943 1129 1942 1127 1943 1127 1940 1128 1938 1129 1935 1132 1936Z" fill="#000"/>
<g transform="rotate(-38 1099.9 1965.2)"><path d="M1117.2 1965.2 1114.9 1966.2 1115.1 1967.2 1111.9 1967.8 1108.5 1968.2 1106.1 1969.0 1102 1969.1 1097.9 1968.9 1093.8 1969.0 1090.2 1968.6 1087 1968.0 1084.6 1967.2 1084.6 1966.2 1082.9 1965.2 1085 1964.2 1084.7 1963.1 1088.7 1962.7 1089.8 1961.5 1093.6 1961.2 1097.9 1961.3 1102.1 1961.2 1105.5 1961.7 1109.7 1961.7 1113 1962.2 1113.3 1963.4 1116.5 1964.1Z" fill="none" stroke="#000" stroke-width="0.8"/><path d="M1111.6 1965.2 1110.3 1965.9 1109.9 1966.5 1108.3 1967.0 1106.5 1967.5 1104.5 1968.0 1101.6 1968.2 1098.5 1967.9 1095.6 1967.9 1092.8 1967.7 1090.7 1967.2 1090.6 1966.4 1088 1966.0 1087.4 1965.2 1088.4 1964.4 1090 1963.8 1090.8 1963.1 1093.2 1962.8 1095.3 1962.3 1098.5 1962.4 1101.4 1962.4 1104.2 1962.5 1106.8 1962.7 1108.8 1963.2 1109.4 1963.9 1111.1 1964.4Z" fill="none" stroke="#000" stroke-width="0.8"/><path d="M1107.3 1965.2 1107.4 1965.7 1106.6 1966.1 1104.9 1966.3 1104.4 1966.7 1102.7 1966.9 1100.8 1966.8 1098.9 1967.0 1097.3 1966.8 1095.6 1966.7 1094.3 1966.4 1093.2 1966.1 1093 1965.6 1092.4 1965.2 1092.8 1964.7 1093.8 1964.3 1095 1964.1 1096.1 1963.8 1097.1 1963.4 1098.9 1963.3 1100.9 1963.4 1102.5 1963.6 1104 1963.7 1105.2 1964.0 1106.5 1964.3 1107 1964.7Z" fill="none" stroke="#000" stroke-width="0.8"/></g>
<path d="M1084.8 1977.1 L1065.5 1992.3 L1044.5 2008.8 L1012.6 2034.0" fill="none" stroke="#000" stroke-width="11" stroke-linecap="round" stroke-linejoin="round" opacity="1"/>
<path d="M1079.9 1977.8 L1051.4 2000.3" fill="none" stroke="#fff" stroke-width="0.8" stroke-linecap="round" stroke-linejoin="round" opacity="1"/>
<path d="M1081.5 1979.7 L1052.9 2002.2" fill="none" stroke="#fff" stroke-width="0.8" stroke-linecap="round" stroke-linejoin="round" opacity="1"/>
<path d="M1083.0 1981.7 L1054.5 2004.2" fill="none" stroke="#fff" stroke-width="0.8" stroke-linecap="round" stroke-linejoin="round" opacity="1"/>
<g transform="rotate(-38 1141.1 1932.7)"><path d="M1153.3 1932.7 1152 1933.7 1151.3 1934.6 1151 1935.7 1148 1936.0 1145.5 1936.5 1142.8 1937.1 1139.6 1936.4 1136.8 1936.3 1134.4 1935.9 1132.6 1935.3 1130.3 1934.7 1130.1 1933.7 1129.2 1932.7 1130.1 1931.8 1130.2 1930.8 1131.2 1929.8 1133.8 1929.3 1136.4 1928.8 1139.6 1929.0 1142.6 1929.1 1145.9 1928.8 1147.6 1929.7 1150.5 1930.0 1152.4 1930.7 1152.5 1931.7Z" fill="none" stroke="#000" stroke-width="0.8"/><path d="M1149.7 1932.7 1149.9 1933.5 1148.3 1934.1 1148.1 1934.8 1146.6 1935.3 1144.1 1935.2 1142.2 1935.5 1139.9 1935.8 1137.6 1935.6 1136.1 1935.1 1134.3 1934.8 1133.9 1934.0 1133.2 1933.4 1132.7 1932.7 1132.9 1932.0 1133.7 1931.4 1134.8 1930.9 1136.3 1930.5 1137.9 1930.1 1140 1929.9 1142.3 1929.7 1144.4 1930.0 1146.1 1930.4 1147.4 1930.9 1148.8 1931.3 1149.5 1932.0Z" fill="none" stroke="#000" stroke-width="0.8"/><path d="M1146.3 1932.7 1146.3 1933.2 1145.5 1933.5 1145.2 1934.0 1144.3 1934.3 1143.1 1934.4 1141.9 1934.6 1140.3 1934.6 1139 1934.5 1138 1934.2 1137.2 1933.9 1136.1 1933.6 1136 1933.2 1135.5 1932.7 1136.4 1932.3 1136.3 1931.9 1136.7 1931.5 1138.2 1931.4 1139.2 1931.2 1140.4 1931.1 1141.8 1931.0 1143.2 1931.0 1144.5 1931.2 1145.3 1931.5 1145.7 1931.9 1146 1932.3Z" fill="none" stroke="#000" stroke-width="0.8"/></g>
<path d="M1035 2023 1034 2025 1032 2027 1029 2025 1029 2023 1029 2020 1032 2019 1035 2020ZM1043 2021 1042 2022 1040 2022 1038 2022 1037 2021 1038 2020 1040 2019 1041 2020ZM1075 1987 1075 1989 1070 1989 1068 1988 1065 1987 1067 1985 1070 1985 1073 1986ZM1050 2001 1048 2002 1046 2002 1044 2003 1044 2001 1045 2000 1046 2000 1049 2000ZM1049 1999 1048 2001 1046 2002 1044 2001 1043 1999 1044 1998 1046 1997 1048 1998ZM1038 2021 1037 2022 1034 2022 1032 2022 1030 2021 1031 2020 1034 2020 1036 2021ZM1031 2015 1030 2017 1029 2019 1027 2018 1027 2015 1027 2012 1029 2012 1031 2012ZM1056 2010 1054 2011 1052 2012 1051 2011 1049 2010 1050 2008 1052 2008 1055 2008ZM1041 2008 1040 2009 1039 2010 1038 2010 1037 2008 1038 2007 1039 2007 1040 2008ZM1044 2004 1043 2004 1041 2005 1040 2004 1039 2004 1040 2003 1041 2002 1044 2002ZM1050 1998 1050 1999 1047 2000 1046 1999 1044 1998 1044 1996 1047 1996 1048 1997ZM1056 2014 1052 2016 1050 2018 1047 2016 1047 2014 1047 2012 1050 2011 1052 2013ZM1066 1995 1064 1996 1062 1997 1060 1996 1060 1995 1059 1993 1062 1993 1065 1993ZM1045 2009 1045 2010 1043 2013 1041 2012 1040 2009 1041 2005 1043 2005 1046 2005ZM1051 2009 1050 2011 1047 2011 1044 2010 1044 2009 1043 2007 1047 2007 1049 2007Z" fill="none" stroke="#000" stroke-width="0.9"/><path d="M1056 2000 1056 2002 1054 2003 1053 2002 1053 2000 1052 1998 1054 1999 1056 1999Z" fill="#000"/>
<path d="M1048.7 2010.4 1048.5 2015.1 1047.6 2018.2 1046.1 2020.5 1044 2022.5 1040.7 2023.3 1035.2 2023.6 1032.1 2022.1 1029.1 2021.5 1027.8 2018.5 1026.4 2015.5 1027 2010.4 1027.6 2005.8 1028.6 2002.9 1029.6 2000.0 1031.8 1998.1 1035.1 1996.9 1040.7 1997.0 1043.7 1998.9 1046.8 1999.4 1047.3 2002.9 1049.7 2005.2Z" fill="#000"/><ellipse cx="1038.0" cy="2010.4" rx="6.3" ry="5.8" fill="none" stroke="#fff" stroke-width="0.8"/><ellipse cx="1038.0" cy="2010.4" rx="4.4" ry="4.0" fill="none" stroke="#fff" stroke-width="0.8"/><ellipse cx="1038.0" cy="2010.4" rx="2.6" ry="2.4" fill="none" stroke="#fff" stroke-width="0.9"/><ellipse cx="1038.0" cy="2010.4" rx="0.9" ry="1.0" fill="#fff"/>
<path d="M1222.4 1893.0 1221.2 1899.5 1217.7 1904.8 1214.2 1910.1 1208.9 1914.6 1200.3 1915.2 1192.9 1917.6 1183.8 1918.9 1176.7 1915.1 1170.7 1911.9 1162.1 1910.5 1158.2 1905.3 1158.8 1898.9 1154.5 1893.0 1153.5 1886.1 1157.6 1880.5 1162.4 1875.6 1167.4 1870.7 1175.5 1868.7 1183.7 1866.6 1193.1 1867.5 1200.5 1870.4 1207.9 1872.5 1212.6 1877.0 1215.8 1881.9 1220.8 1886.6Z" fill="none" stroke="#000" stroke-width="0.8"/><path d="M1213.8 1893.0 1215 1898.2 1214.4 1903.5 1209.3 1906.8 1204.3 1909.8 1199.5 1913.5 1192 1912.6 1185.1 1911.7 1177.5 1913.6 1171.2 1911.4 1169.2 1905.8 1166 1902.1 1159.6 1898.7 1163.1 1893.0 1160.1 1887.4 1164.3 1883.2 1167.9 1879.3 1173.1 1876.7 1178.1 1873.5 1184.7 1871.9 1192.1 1873.1 1198.9 1873.6 1203.8 1876.8 1208.7 1879.6 1212.3 1883.4 1217.7 1887.2Z" fill="none" stroke="#000" stroke-width="0.8"/><path d="M1208.8 1893.0 1208.4 1896.9 1207.2 1900.6 1206.1 1904.7 1200.5 1905.7 1196.9 1908.7 1191.6 1910.0 1185.5 1909.6 1180.3 1908.4 1176.5 1905.8 1172.8 1903.4 1170.7 1900.2 1166.5 1897.3 1166.8 1893.0 1165.7 1888.5 1167.5 1884.5 1170.9 1881.3 1175.5 1879.3 1181 1879.0 1185.5 1876.5 1191.4 1877.0 1196.8 1877.4 1201 1879.8 1204 1882.7 1206.4 1885.8 1208.2 1889.1Z" fill="none" stroke="#000" stroke-width="0.8"/><path d="M1205 1893.0 1203.2 1895.9 1201.9 1898.4 1201.3 1901.5 1198.4 1903.5 1194.2 1903.6 1190.5 1903.8 1186.3 1905.0 1182.2 1904.8 1179.9 1902.2 1175.5 1901.7 1174.2 1898.8 1174.3 1895.8 1173.9 1893.0 1172.9 1889.9 1174.4 1887.3 1177.1 1885.4 1180 1884.0 1183 1882.6 1186.3 1881.0 1190.5 1882.2 1194.4 1882.0 1196.9 1884.1 1199.7 1885.5 1203.3 1887.0 1204.8 1889.8Z" fill="none" stroke="#000" stroke-width="0.8"/><path d="M1197.5 1893.0 1198.7 1895.0 1196.9 1896.4 1195.9 1897.9 1193.9 1898.8 1192 1899.6 1189.7 1899.9 1187.1 1900.8 1184.6 1900.2 1182.7 1899.2 1180.9 1898.0 1179 1896.8 1179 1894.9 1178.4 1893.0 1178.6 1891.0 1179.2 1889.2 1181 1888.0 1182.4 1886.5 1184.9 1886.2 1187.2 1885.7 1189.9 1885.2 1192 1886.4 1194 1887.2 1195.5 1888.4 1197 1889.6 1197.7 1891.2Z" fill="none" stroke="#000" stroke-width="0.8"/>
<path d="M1200.6 1896.0 1200 1902.4 1197.9 1906.1 1195.4 1909.1 1191.3 1910.5 1186.3 1910.8 1178.5 1911.6 1174 1910.0 1169.6 1909.1 1167 1906.2 1164.4 1902.6 1163.9 1896.0 1164.6 1889.5 1167.8 1886.3 1170 1883.2 1173.4 1881.0 1178.6 1880.9 1186.3 1881.1 1191.3 1881.6 1195.8 1882.5 1198.1 1885.7 1199.5 1889.8Z" fill="#000"/><ellipse cx="1182.5" cy="1896.0" rx="9.6" ry="7.2" fill="none" stroke="#fff" stroke-width="0.8"/><ellipse cx="1182.5" cy="1896.0" rx="6.7" ry="5.0" fill="none" stroke="#fff" stroke-width="0.8"/><ellipse cx="1182.5" cy="1896.0" rx="4.0" ry="3.0" fill="none" stroke="#fff" stroke-width="0.9"/><ellipse cx="1182.5" cy="1896.0" rx="1.4" ry="1.3" fill="#fff"/>
<path d="M1205.5 1896.5 1204.3 1900.8 1203.6 1903.7 1202.6 1906.5 1199.6 1907.0 1196.5 1907.8 1191.4 1908.3 1188.4 1907.0 1185.8 1906.0 1184.6 1903.5 1182.8 1901.2 1182.8 1896.5 1182.7 1891.8 1184.4 1889.3 1186.2 1887.4 1188.5 1886.1 1191.5 1885.1 1196.5 1885.1 1200.1 1885.1 1202 1887.2 1203.3 1889.5 1204.4 1892.2Z" fill="#000"/><ellipse cx="1194.0" cy="1896.5" rx="6.1" ry="5.2" fill="none" stroke="#fff" stroke-width="0.8"/><ellipse cx="1194.0" cy="1896.5" rx="4.2" ry="3.6" fill="none" stroke="#fff" stroke-width="0.8"/><ellipse cx="1194.0" cy="1896.5" rx="2.5" ry="2.2" fill="none" stroke="#fff" stroke-width="0.9"/><ellipse cx="1194.0" cy="1896.5" rx="0.9" ry="0.9" fill="#fff"/>
<path d="M1215.6 1885.0 1214.5 1888.8 1213.7 1891.2 1212.3 1893.2 1210.1 1894.2 1207.4 1895.3 1202.8 1894.6 1200 1894.0 1197.6 1893.2 1196 1891.5 1195.3 1888.9 1195.3 1885.0 1195.6 1881.2 1195.8 1878.4 1197.5 1876.7 1199.9 1875.9 1202.7 1875.3 1207.2 1875.4 1210.2 1875.6 1212.7 1876.5 1213.9 1878.6 1215.1 1881.0Z" fill="#000"/><ellipse cx="1205.0" cy="1885.0" rx="5.5" ry="4.5" fill="none" stroke="#fff" stroke-width="0.8"/><ellipse cx="1205.0" cy="1885.0" rx="3.8" ry="3.1" fill="none" stroke="#fff" stroke-width="0.8"/><ellipse cx="1205.0" cy="1885.0" rx="2.3" ry="1.9" fill="none" stroke="#fff" stroke-width="0.9"/><ellipse cx="1205.0" cy="1885.0" rx="0.8" ry="0.8" fill="#fff"/>
<path d="M1703.3 1500.0 1701.9 1502.2 1701.5 1504.2 1700.6 1506.3 1698 1507.3 1696 1508.9 1693.1 1509.2 1690 1508.8 1687.4 1508.0 1684.6 1507.7 1683.1 1505.9 1680.4 1504.7 1681.3 1502.1 1679.4 1500.0 1680.5 1497.7 1681.1 1495.6 1682.7 1493.9 1684.8 1492.6 1687.1 1491.3 1690 1491.3 1693 1491.4 1695.6 1492.0 1698.2 1492.6 1700.3 1493.8 1701.5 1495.7 1702.3 1497.8Z" fill="none" stroke="#000" stroke-width="0.8"/><path d="M1701.1 1500.0 1699.7 1501.7 1699.3 1503.3 1698.1 1504.6 1696.4 1505.5 1694.6 1506.1 1692.7 1506.9 1690.3 1506.9 1688.2 1506.6 1686.7 1505.4 1684.7 1504.7 1683.8 1503.3 1683.4 1501.7 1682 1500.0 1682.5 1498.1 1683.2 1496.5 1685 1495.5 1685.8 1493.7 1687.9 1492.9 1690.4 1493.5 1692.7 1493.0 1695 1493.1 1696.9 1494.0 1698.4 1495.2 1700.2 1496.3 1700 1498.2Z" fill="none" stroke="#000" stroke-width="0.8"/><path d="M1697.5 1500.0 1698 1501.3 1697.1 1502.4 1696.4 1503.4 1695.5 1504.5 1694 1504.9 1692.4 1505.4 1690.7 1504.9 1688.9 1505.0 1687.6 1504.4 1686.9 1503.2 1685.5 1502.6 1685.5 1501.2 1684.6 1500.0 1685 1498.7 1685.3 1497.4 1686.9 1496.8 1687.8 1495.9 1689 1495.1 1690.6 1494.8 1692.3 1495.3 1694 1495.0 1695.3 1495.8 1696.7 1496.4 1697.1 1497.6 1698.1 1498.6Z" fill="none" stroke="#000" stroke-width="0.8"/><path d="M1695.3 1500.0 1695.4 1500.8 1694.7 1501.4 1694.3 1501.9 1693.7 1502.5 1692.9 1502.8 1692.1 1503.3 1691 1502.9 1690 1502.9 1689.3 1502.5 1688.4 1502.1 1688.3 1501.4 1687.4 1500.8 1687.8 1500.0 1687.8 1499.2 1687.8 1498.4 1688.7 1498.0 1689.2 1497.4 1690 1497.0 1691 1497.1 1692 1497.2 1693 1497.0 1693.8 1497.5 1694.6 1497.8 1694.9 1498.6 1695.5 1499.2Z" fill="none" stroke="#000" stroke-width="0.8"/>
<ellipse cx="1691" cy="1500" rx="9" ry="6" fill="none" stroke="#000" stroke-width="2.2"/>
<path d="M1618.7 1571.0 1616.5 1574.8 1613.7 1577.9 1610.4 1580.7 1607.5 1584.3 1599.5 1583.8 1593.4 1584.6 1586.1 1586.4 1580.3 1584.1 1574.2 1583.0 1567.2 1581.9 1563.7 1578.6 1563.6 1574.7 1560.8 1571.0 1561.7 1567.0 1565.9 1564.0 1567.1 1560.1 1574.3 1559.0 1579.2 1556.5 1586.6 1557.4 1593.5 1557.2 1600.6 1556.7 1605 1559.6 1611.6 1560.7 1614.4 1563.9 1617.1 1567.2Z" fill="none" stroke="#000" stroke-width="0.8"/><path d="M1615.5 1571.0 1613.6 1574.3 1609.7 1576.7 1606.7 1579.0 1603.4 1581.2 1598.6 1582.6 1593.1 1583.3 1587.1 1582.6 1581.5 1582.5 1576.3 1581.5 1573 1579.1 1569 1577.1 1566.1 1574.4 1565.4 1571.0 1567.8 1567.9 1567.5 1564.5 1571 1561.9 1576.4 1560.7 1580.9 1558.8 1587 1558.9 1593.4 1557.6 1598.4 1559.7 1602.8 1561.3 1608.8 1562.0 1613.1 1564.3 1612.3 1567.8Z" fill="none" stroke="#000" stroke-width="0.8"/><path d="M1608.8 1571.0 1608.4 1573.6 1607.9 1576.2 1604.1 1577.7 1602.5 1580.5 1598 1581.8 1592.8 1582.1 1587.4 1581.2 1582.3 1581.4 1579.1 1579.3 1576 1577.7 1572.3 1576.1 1571 1573.7 1569.6 1571.0 1572.1 1568.5 1571.6 1565.6 1575 1563.8 1578.6 1562.3 1582.8 1561.3 1587.2 1559.9 1592.8 1560.0 1597.7 1560.7 1602.5 1561.5 1604.3 1564.2 1608 1565.8 1609 1568.3Z" fill="none" stroke="#000" stroke-width="0.8"/><path d="M1607 1571.0 1605.9 1573.2 1604.2 1575.1 1601.6 1576.5 1598.4 1577.4 1595.9 1579.0 1592.2 1579.9 1587.7 1579.9 1584.5 1578.4 1580.4 1578.3 1578.7 1576.4 1577.1 1574.7 1574.7 1573.2 1573.6 1571.0 1576 1569.0 1577.1 1567.2 1577.6 1565.1 1581 1564.1 1583.8 1562.6 1588 1563.0 1592.2 1562.2 1596.3 1562.5 1599.4 1563.8 1601.4 1565.6 1603.9 1567.0 1605.8 1568.8Z" fill="none" stroke="#000" stroke-width="0.8"/><path d="M1602.2 1571.0 1601.5 1572.6 1599.5 1573.8 1599.3 1575.5 1596.8 1576.2 1594.7 1577.3 1591.6 1577.4 1588.6 1576.8 1585.9 1576.5 1583 1576.3 1580.9 1575.3 1579.9 1573.9 1578.1 1572.7 1577.4 1571.0 1579.3 1569.5 1579.3 1567.9 1581.4 1566.9 1583 1565.6 1585.5 1565.0 1588.5 1565.2 1591.5 1565.1 1594.4 1565.0 1596.9 1565.8 1599.6 1566.4 1599.7 1568.2 1601.7 1569.3Z" fill="none" stroke="#000" stroke-width="0.8"/><path d="M1597 1571.0 1597.5 1572.1 1596.1 1572.8 1595.9 1573.8 1594.2 1574.2 1592.7 1574.7 1591 1574.9 1588.9 1575.3 1587 1575.0 1585.3 1574.6 1584.4 1573.7 1583.5 1572.9 1582.6 1572.0 1583 1571.0 1582.1 1569.9 1583 1569.0 1584.6 1568.4 1585.5 1567.6 1587.1 1567.1 1589 1566.9 1591 1567.0 1593 1567.0 1594.3 1567.7 1595.8 1568.2 1596.4 1569.1 1597.5 1569.9Z" fill="none" stroke="#000" stroke-width="0.8"/>
<path d="M1609.6 1570.0 1609.7 1574.7 1608.5 1577.6 1607 1580.1 1604.2 1581.6 1600.5 1582.3 1594.6 1582.0 1591.4 1580.6 1588 1580.1 1587.1 1577.2 1585.5 1574.6 1585.2 1570.0 1586.2 1565.7 1586.9 1562.7 1588.8 1560.7 1591.3 1559.4 1594.7 1558.6 1600.6 1557.3 1603.9 1558.9 1606.4 1560.5 1608 1562.7 1609.1 1565.5Z" fill="#000"/><ellipse cx="1592.5" cy="1570.0" rx="3.4" ry="5.4" fill="none" stroke="#fff" stroke-width="0.8"/><ellipse cx="1592.5" cy="1570.0" rx="2.4" ry="3.8" fill="none" stroke="#fff" stroke-width="0.8"/><ellipse cx="1592.5" cy="1570.0" rx="1.4" ry="2.3" fill="none" stroke="#fff" stroke-width="0.9"/><ellipse cx="1592.5" cy="1570.0" rx="0.6" ry="1.0" fill="#fff"/><ellipse cx="1602.5" cy="1570.0" rx="3.4" ry="5.4" fill="none" stroke="#fff" stroke-width="0.8"/><ellipse cx="1602.5" cy="1570.0" rx="2.4" ry="3.8" fill="none" stroke="#fff" stroke-width="0.8"/><ellipse cx="1602.5" cy="1570.0" rx="1.4" ry="2.3" fill="none" stroke="#fff" stroke-width="0.9"/><ellipse cx="1602.5" cy="1570.0" rx="0.6" ry="1.0" fill="#fff"/>
<path d="M1537.4 1645.0 1536.5 1648.5 1533.6 1651.5 1526.9 1653.2 1524.4 1656.6 1515.6 1656.2 1509.2 1658.0 1500.6 1658.7 1493.2 1657.5 1487.5 1655.4 1481.6 1653.7 1476.8 1651.4 1473.2 1648.5 1471.4 1645.0 1477.2 1641.9 1477.5 1638.7 1482.3 1636.5 1485.8 1633.6 1492.8 1632.2 1501.1 1633.0 1508.9 1632.8 1517.6 1631.7 1522.7 1634.5 1529.6 1635.8 1530.8 1639.1 1536.2 1641.5Z" fill="none" stroke="#000" stroke-width="0.8"/><path d="M1531.8 1645.0 1529.2 1647.7 1529.6 1650.6 1525.6 1652.7 1519.4 1653.6 1514.9 1655.4 1508.4 1655.5 1501.5 1656.0 1494.5 1656.0 1490.8 1653.4 1484 1652.8 1481.4 1650.4 1478 1648.0 1478 1645.0 1478.3 1642.0 1480.5 1639.4 1486.2 1638.0 1490 1636.1 1495.8 1635.3 1501.3 1633.5 1508.8 1633.1 1515.5 1633.9 1521.3 1635.3 1524 1637.9 1526.7 1640.1 1530.1 1642.2Z" fill="none" stroke="#000" stroke-width="0.8"/><path d="M1528 1645.0 1524.7 1647.2 1524.4 1649.4 1521.5 1651.2 1517.2 1652.3 1512.8 1653.2 1508 1654.2 1502 1654.4 1496.6 1653.8 1492.6 1652.4 1486.9 1651.8 1486.9 1649.1 1484.7 1647.3 1481.9 1645.0 1481.8 1642.4 1486.1 1640.7 1488.1 1638.7 1492.5 1637.5 1497.5 1637.1 1501.9 1635.3 1508.1 1635.3 1513 1636.6 1517.7 1637.4 1521 1639.0 1526.2 1640.2 1525.1 1642.8Z" fill="none" stroke="#000" stroke-width="0.8"/><path d="M1522.3 1645.0 1521.1 1646.8 1520.3 1648.5 1517.2 1649.6 1514.5 1650.7 1511.5 1651.8 1507.2 1651.8 1502.9 1651.7 1498.9 1651.4 1494.8 1651.1 1492.3 1649.8 1490.1 1648.4 1486.8 1647.0 1486.5 1645.0 1487.1 1643.0 1490.2 1641.6 1491.8 1640.1 1494.7 1638.8 1498.2 1637.9 1502.8 1638.0 1507.3 1637.8 1512 1637.7 1514.7 1639.2 1517.1 1640.5 1519.8 1641.6 1521.2 1643.2Z" fill="none" stroke="#000" stroke-width="0.8"/><path d="M1518.3 1645.0 1517.9 1646.4 1517.1 1647.7 1514.5 1648.6 1512.3 1649.3 1509.9 1650.2 1506.7 1650.2 1503.2 1650.7 1500.6 1649.6 1497.7 1649.4 1494.9 1648.8 1494.4 1647.4 1493 1646.3 1492.3 1645.0 1492.4 1643.6 1494.2 1642.5 1495.3 1641.4 1497.1 1640.3 1500.1 1639.9 1503.2 1639.5 1506.6 1639.9 1509.8 1640.0 1513 1640.2 1515 1641.3 1515.6 1642.6 1516.4 1643.7Z" fill="none" stroke="#000" stroke-width="0.8"/><path d="M1512.6 1645.0 1513.5 1645.9 1512.2 1646.6 1511.3 1647.3 1509.6 1647.7 1508.3 1648.5 1506 1648.2 1503.9 1648.5 1502 1648.2 1500 1648.0 1499.1 1647.2 1498.2 1646.5 1496.9 1645.9 1496.6 1645.0 1497.3 1644.1 1497.9 1643.4 1499.3 1642.9 1499.9 1641.9 1501.7 1641.5 1504 1641.8 1506.1 1641.5 1508 1641.8 1509.6 1642.2 1511.3 1642.6 1512.7 1643.2 1513.5 1644.1Z" fill="none" stroke="#000" stroke-width="0.8"/>
<path d="M1513.7 1645.0 1513 1649.0 1512.4 1651.9 1510.1 1653.6 1508.1 1655.8 1503.9 1655.4 1497.9 1656.2 1493.8 1655.9 1491.6 1653.9 1489.3 1652.1 1488 1649.4 1487.5 1645.0 1488.3 1640.7 1489.6 1638.1 1491.5 1636.0 1494.4 1634.9 1498 1634.3 1503.9 1634.6 1507.8 1634.7 1510.8 1635.8 1512.9 1637.8 1512.8 1641.0Z" fill="#000"/><ellipse cx="1495.8" cy="1645.0" rx="3.6" ry="5.0" fill="none" stroke="#fff" stroke-width="0.8"/><ellipse cx="1495.8" cy="1645.0" rx="2.5" ry="3.5" fill="none" stroke="#fff" stroke-width="0.8"/><ellipse cx="1495.8" cy="1645.0" rx="1.5" ry="2.1" fill="none" stroke="#fff" stroke-width="0.9"/><ellipse cx="1495.8" cy="1645.0" rx="0.6" ry="0.9" fill="#fff"/><ellipse cx="1506.2" cy="1645.0" rx="3.6" ry="5.0" fill="none" stroke="#fff" stroke-width="0.8"/><ellipse cx="1506.2" cy="1645.0" rx="2.5" ry="3.5" fill="none" stroke="#fff" stroke-width="0.8"/><ellipse cx="1506.2" cy="1645.0" rx="1.5" ry="2.1" fill="none" stroke="#fff" stroke-width="0.9"/><ellipse cx="1506.2" cy="1645.0" rx="0.6" ry="0.9" fill="#fff"/>
<path d="M1418.4 1772.2 1418.4 1775.0 1418 1777.0 1415.9 1778.1 1414.1 1779.4 1410.7 1779.0 1406.1 1779.2 1403.3 1778.7 1401.1 1777.9 1399.5 1776.7 1398.6 1775.0 1398.4 1772.3 1398.8 1769.6 1398.9 1767.5 1400.6 1766.2 1403.2 1765.8 1405.9 1764.8 1410.9 1764.8 1413.4 1765.9 1415.5 1766.7 1417.2 1767.8 1418.6 1769.4Z" fill="#000"/><ellipse cx="1408.4" cy="1772.2" rx="5.7" ry="3.3" fill="none" stroke="#fff" stroke-width="0.8"/><ellipse cx="1408.4" cy="1772.2" rx="4.0" ry="2.3" fill="none" stroke="#fff" stroke-width="0.8"/><ellipse cx="1408.4" cy="1772.2" rx="2.4" ry="1.4" fill="none" stroke="#fff" stroke-width="0.9"/><ellipse cx="1408.4" cy="1772.2" rx="0.9" ry="0.6" fill="#fff"/>
<ellipse cx="1593.5" cy="1524.0" rx="1.4" ry="3.0" fill="#000"/><ellipse cx="1593.5" cy="1530.1" rx="1.6" ry="3.1" fill="#000"/><ellipse cx="1593.5" cy="1536.0" rx="1.6" ry="3.0" fill="#000"/><ellipse cx="1593.5" cy="1541.4" rx="1.6" ry="2.4" fill="#000"/><ellipse cx="1593.5" cy="1547.5" rx="2.0" ry="2.5" fill="#000"/><ellipse cx="1593.5" cy="1553.4" rx="2.0" ry="2.4" fill="#000"/><ellipse cx="1593.5" cy="1559.6" rx="1.5" ry="2.6" fill="#000"/><ellipse cx="1593.5" cy="1565.4" rx="1.5" ry="2.4" fill="#000"/><ellipse cx="1593.5" cy="1571.7" rx="1.6" ry="2.7" fill="#000"/><ellipse cx="1593.5" cy="1577.5" rx="1.9" ry="2.5" fill="#000"/><ellipse cx="1593.5" cy="1583.7" rx="1.8" ry="2.7" fill="#000"/><ellipse cx="1593.5" cy="1589.8" rx="1.7" ry="2.8" fill="#000"/><ellipse cx="1593.5" cy="1595.8" rx="1.6" ry="2.8" fill="#000"/><ellipse cx="1593.5" cy="1601.8" rx="1.8" ry="2.8" fill="#000"/><ellipse cx="1593.5" cy="1607.8" rx="2.0" ry="2.8" fill="#000"/><ellipse cx="1593.5" cy="1613.8" rx="2.0" ry="2.8" fill="#000"/><ellipse cx="1593.5" cy="1620.1" rx="1.5" ry="3.1" fill="#000"/>
<ellipse cx="1601.0" cy="1541.1" rx="1.4" ry="3.1" fill="#000"/><ellipse cx="1601.0" cy="1547.1" rx="1.4" ry="3.1" fill="#000"/><ellipse cx="1601.0" cy="1553.1" rx="1.1" ry="3.1" fill="#000"/><ellipse cx="1601.0" cy="1558.5" rx="1.4" ry="2.5" fill="#000"/><ellipse cx="1601.0" cy="1564.5" rx="1.4" ry="2.5" fill="#000"/><ellipse cx="1601.0" cy="1570.6" rx="1.3" ry="2.6" fill="#000"/><ellipse cx="1601.0" cy="1576.5" rx="1.5" ry="2.5" fill="#000"/><ellipse cx="1601.0" cy="1583.1" rx="1.6" ry="3.1" fill="#000"/><ellipse cx="1601.0" cy="1588.5" rx="1.4" ry="2.5" fill="#000"/><ellipse cx="1601.0" cy="1594.9" rx="1.5" ry="2.9" fill="#000"/><ellipse cx="1601.0" cy="1600.4" rx="1.6" ry="2.4" fill="#000"/><ellipse cx="1601.0" cy="1606.4" rx="1.2" ry="2.4" fill="#000"/>
<ellipse cx="1496.0" cy="1593.9" rx="1.5" ry="2.9" fill="#000"/><ellipse cx="1496.0" cy="1600.0" rx="1.5" ry="3.0" fill="#000"/><ellipse cx="1496.0" cy="1606.0" rx="2.0" ry="3.0" fill="#000"/><ellipse cx="1496.0" cy="1611.9" rx="1.9" ry="2.9" fill="#000"/><ellipse cx="1496.0" cy="1618.0" rx="2.0" ry="3.0" fill="#000"/><ellipse cx="1496.0" cy="1623.6" rx="1.7" ry="2.6" fill="#000"/><ellipse cx="1496.0" cy="1629.4" rx="1.7" ry="2.4" fill="#000"/><ellipse cx="1496.0" cy="1635.4" rx="1.8" ry="2.4" fill="#000"/><ellipse cx="1496.0" cy="1641.6" rx="1.8" ry="2.6" fill="#000"/><ellipse cx="1496.0" cy="1647.8" rx="1.5" ry="2.8" fill="#000"/><ellipse cx="1496.0" cy="1653.6" rx="1.4" ry="2.6" fill="#000"/><ellipse cx="1496.0" cy="1660.0" rx="2.0" ry="3.0" fill="#000"/><ellipse cx="1496.0" cy="1666.1" rx="1.7" ry="3.1" fill="#000"/><ellipse cx="1496.0" cy="1672.1" rx="1.8" ry="3.1" fill="#000"/><ellipse cx="1496.0" cy="1677.8" rx="1.9" ry="2.8" fill="#000"/><ellipse cx="1496.0" cy="1683.7" rx="1.6" ry="2.7" fill="#000"/><ellipse cx="1496.0" cy="1689.5" rx="1.9" ry="2.5" fill="#000"/><ellipse cx="1496.0" cy="1695.7" rx="1.4" ry="2.7" fill="#000"/><ellipse cx="1496.0" cy="1702.0" rx="1.9" ry="3.0" fill="#000"/>
<ellipse cx="1505.0" cy="1615.1" rx="1.7" ry="3.1" fill="#000"/><ellipse cx="1505.0" cy="1620.9" rx="1.6" ry="2.9" fill="#000"/><ellipse cx="1505.0" cy="1626.7" rx="1.5" ry="2.7" fill="#000"/><ellipse cx="1505.0" cy="1632.9" rx="1.2" ry="2.9" fill="#000"/><ellipse cx="1505.0" cy="1639.0" rx="1.4" ry="3.0" fill="#000"/><ellipse cx="1505.0" cy="1644.6" rx="1.3" ry="2.6" fill="#000"/><ellipse cx="1505.0" cy="1650.5" rx="1.5" ry="2.5" fill="#000"/><ellipse cx="1505.0" cy="1656.6" rx="1.4" ry="2.6" fill="#000"/><ellipse cx="1505.0" cy="1662.8" rx="1.5" ry="2.8" fill="#000"/><ellipse cx="1505.0" cy="1668.6" rx="1.7" ry="2.6" fill="#000"/><ellipse cx="1505.0" cy="1674.4" rx="1.3" ry="2.4" fill="#000"/><ellipse cx="1505.0" cy="1680.5" rx="1.1" ry="2.5" fill="#000"/><ellipse cx="1505.0" cy="1687.0" rx="1.3" ry="3.0" fill="#000"/>
<ellipse cx="1426.0" cy="1702.7" rx="1.6" ry="2.7" fill="#000"/><ellipse cx="1426.0" cy="1708.5" rx="1.5" ry="2.5" fill="#000"/><ellipse cx="1426.0" cy="1714.6" rx="1.4" ry="2.6" fill="#000"/><ellipse cx="1426.0" cy="1720.7" rx="1.6" ry="2.7" fill="#000"/><ellipse cx="1426.0" cy="1727.1" rx="1.7" ry="3.1" fill="#000"/><ellipse cx="1426.0" cy="1732.8" rx="1.6" ry="2.8" fill="#000"/><ellipse cx="1426.0" cy="1739.1" rx="1.2" ry="3.1" fill="#000"/><ellipse cx="1426.0" cy="1744.8" rx="1.1" ry="2.8" fill="#000"/><ellipse cx="1426.0" cy="1750.5" rx="1.4" ry="2.5" fill="#000"/><ellipse cx="1426.0" cy="1756.6" rx="1.4" ry="2.6" fill="#000"/>
<path d="M1200.7 1573.8 1200.2 1576.5 1198.9 1577.9 1198.5 1579.8 1196.6 1580.6 1194 1580.4 1190.1 1580.9 1187.5 1580.7 1185.8 1579.6 1184.5 1578.4 1184.6 1576.3 1184.1 1573.9 1184.3 1571.3 1184.4 1569.3 1186.1 1568.3 1188 1567.8 1190 1566.6 1194.1 1567.0 1196.5 1567.3 1197.8 1568.6 1199.8 1569.3 1200 1571.3Z" fill="#000"/><ellipse cx="1192.1" cy="1573.8" rx="4.6" ry="3.1" fill="none" stroke="#fff" stroke-width="0.8"/><ellipse cx="1192.1" cy="1573.8" rx="3.2" ry="2.2" fill="none" stroke="#fff" stroke-width="0.8"/><ellipse cx="1192.1" cy="1573.8" rx="1.9" ry="1.3" fill="none" stroke="#fff" stroke-width="0.9"/><ellipse cx="1192.1" cy="1573.8" rx="0.7" ry="0.6" fill="#fff"/>
<path d="M1214.6 1701.0 1214 1703.9 1213.5 1705.9 1212 1707.2 1209.6 1707.5 1207.3 1708.1 1203.2 1708.2 1200.4 1708.2 1198.9 1706.9 1197.1 1705.9 1196.8 1703.8 1196.1 1701.1 1196 1698.0 1196.7 1696.0 1198.5 1694.8 1200.7 1694.3 1203.1 1693.4 1207.4 1693.5 1209.9 1694.1 1211.9 1695.0 1213.1 1696.4 1213.5 1698.3Z" fill="#000"/><ellipse cx="1205.2" cy="1701.0" rx="5.0" ry="3.4" fill="none" stroke="#fff" stroke-width="0.8"/><ellipse cx="1205.2" cy="1701.0" rx="3.5" ry="2.3" fill="none" stroke="#fff" stroke-width="0.8"/><ellipse cx="1205.2" cy="1701.0" rx="2.1" ry="1.4" fill="none" stroke="#fff" stroke-width="0.9"/><ellipse cx="1205.2" cy="1701.0" rx="0.7" ry="0.6" fill="#fff"/>
<path d="M1215.5 1771.0 1215.4 1774.2 1213.6 1775.8 1212 1777.1 1210 1778.3 1206.9 1779.1 1201.7 1778.9 1198.3 1778.6 1196.3 1777.3 1194.1 1776.2 1193.1 1774.2 1193.7 1771.0 1193.6 1768.0 1193.9 1765.7 1196.6 1764.9 1198.2 1763.2 1201.6 1762.8 1206.9 1763.0 1210.3 1763.2 1212.1 1764.8 1214.4 1765.8 1215 1768.0Z" fill="#000"/><ellipse cx="1204.2" cy="1771.0" rx="6.2" ry="3.6" fill="none" stroke="#fff" stroke-width="0.8"/><ellipse cx="1204.2" cy="1771.0" rx="4.3" ry="2.5" fill="none" stroke="#fff" stroke-width="0.8"/><ellipse cx="1204.2" cy="1771.0" rx="2.6" ry="1.5" fill="none" stroke="#fff" stroke-width="0.9"/><ellipse cx="1204.2" cy="1771.0" rx="0.9" ry="0.6" fill="#fff"/>
<path d="M1333.9 1702.0 1333.9 1705.8 1332.6 1708.1 1330 1709.3 1327.7 1710.5 1324.2 1711.0 1318.7 1711.3 1315.4 1710.4 1311.9 1710.2 1310.4 1708.2 1309.2 1705.8 1309.3 1702.1 1308.8 1698.2 1310 1695.7 1312.6 1694.5 1315.3 1693.6 1318.6 1692.6 1324.3 1692.8 1327.6 1693.6 1331.2 1693.8 1333 1695.8 1333.6 1698.4Z" fill="#000"/><ellipse cx="1321.5" cy="1702.0" rx="6.9" ry="4.3" fill="none" stroke="#fff" stroke-width="0.8"/><ellipse cx="1321.5" cy="1702.0" rx="4.8" ry="3.0" fill="none" stroke="#fff" stroke-width="0.8"/><ellipse cx="1321.5" cy="1702.0" rx="2.9" ry="1.8" fill="none" stroke="#fff" stroke-width="0.9"/><ellipse cx="1321.5" cy="1702.0" rx="1.0" ry="0.8" fill="#fff"/>
<path d="M1355 1813.2 1353.9 1815.7 1354.1 1817.8 1352.2 1818.6 1350.3 1819.4 1347.9 1820.0 1343.7 1820.3 1341.5 1819.3 1339.8 1818.4 1337.8 1817.7 1337.2 1815.9 1336.8 1813.2 1337.7 1810.7 1338.1 1809.0 1339.2 1807.5 1341.5 1807.2 1343.8 1806.5 1348 1806.3 1350.2 1807.2 1352.7 1807.3 1353.6 1808.9 1354.3 1810.6Z" fill="#000"/><ellipse cx="1345.8" cy="1813.2" rx="4.9" ry="3.1" fill="none" stroke="#fff" stroke-width="0.8"/><ellipse cx="1345.8" cy="1813.2" rx="3.4" ry="2.1" fill="none" stroke="#fff" stroke-width="0.8"/><ellipse cx="1345.8" cy="1813.2" rx="2.0" ry="1.3" fill="none" stroke="#fff" stroke-width="0.9"/><ellipse cx="1345.8" cy="1813.2" rx="0.7" ry="0.6" fill="#fff"/>
<path d="M1389.1 1792.4 1388.5 1795.8 1386.7 1797.6 1385.2 1799.3 1383.4 1801.1 1379.6 1801.0 1374 1801.5 1371 1800.2 1368 1799.8 1367.1 1797.6 1365 1795.9 1364.5 1792.4 1364.6 1788.8 1366.9 1787.1 1368.2 1785.2 1370.5 1783.9 1374.2 1784.0 1379.7 1783.7 1382.9 1784.5 1385.7 1785.1 1387.4 1786.8 1388.9 1788.9Z" fill="#000"/><ellipse cx="1376.9" cy="1792.4" rx="6.5" ry="4.0" fill="none" stroke="#fff" stroke-width="0.8"/><ellipse cx="1376.9" cy="1792.4" rx="4.6" ry="2.8" fill="none" stroke="#fff" stroke-width="0.8"/><ellipse cx="1376.9" cy="1792.4" rx="2.7" ry="1.7" fill="none" stroke="#fff" stroke-width="0.9"/><ellipse cx="1376.9" cy="1792.4" rx="1.0" ry="0.7" fill="#fff"/>
<path d="M1448 1792.4 1448.2 1796.0 1446.6 1797.9 1445.5 1799.9 1442.9 1800.4 1440 1800.6 1435.7 1800.6 1432.9 1800.4 1430.7 1799.5 1428.7 1798.3 1428.5 1795.8 1428.1 1792.4 1428.9 1789.2 1429.7 1787.2 1430.4 1784.9 1433.1 1784.7 1435.5 1783.2 1440.1 1784.2 1442.9 1784.4 1445.4 1785.0 1446.7 1786.8 1447.8 1788.9Z" fill="#000"/><ellipse cx="1437.9" cy="1792.4" rx="5.4" ry="4.0" fill="none" stroke="#fff" stroke-width="0.8"/><ellipse cx="1437.9" cy="1792.4" rx="3.8" ry="2.8" fill="none" stroke="#fff" stroke-width="0.8"/><ellipse cx="1437.9" cy="1792.4" rx="2.3" ry="1.7" fill="none" stroke="#fff" stroke-width="0.9"/><ellipse cx="1437.9" cy="1792.4" rx="0.8" ry="0.7" fill="#fff"/>
<path d="M1301.7 2013.3 1301.1 2015.6 1301 2017.4 1299.8 2018.5 1297.9 2018.8 1295.9 2019.4 1292.5 2019.2 1290.7 2018.6 1288.9 2018.2 1287.9 2017.1 1287.4 2015.6 1287.4 2013.4 1286.9 2010.9 1287.4 2009.3 1288.6 2008.2 1290.6 2007.9 1292.5 2007.2 1295.8 2007.7 1298.1 2007.6 1299.8 2008.2 1300.3 2009.7 1300.9 2011.2Z" fill="#000"/><ellipse cx="1294.2" cy="2013.3" rx="4.0" ry="2.7" fill="none" stroke="#fff" stroke-width="0.8"/><ellipse cx="1294.2" cy="2013.3" rx="2.8" ry="1.9" fill="none" stroke="#fff" stroke-width="0.8"/><ellipse cx="1294.2" cy="2013.3" rx="1.7" ry="1.1" fill="none" stroke="#fff" stroke-width="0.9"/><ellipse cx="1294.2" cy="2013.3" rx="0.6" ry="0.6" fill="#fff"/>
<path d="M1047 1813.6 1046.7 1816.0 1046.3 1817.6 1044.9 1818.6 1043 1819.1 1040.7 1819.3 1037.1 1820.0 1035.1 1819.0 1033.3 1818.4 1031.6 1817.6 1031.4 1815.9 1031.3 1813.6 1031 1811.2 1032.4 1810.0 1033.1 1808.6 1035 1808.2 1037.1 1807.5 1040.8 1807.7 1042.9 1808.3 1045 1808.5 1045.8 1809.9 1047.1 1811.1Z" fill="#000"/><ellipse cx="1039.0" cy="1813.6" rx="4.4" ry="2.7" fill="none" stroke="#fff" stroke-width="0.8"/><ellipse cx="1039.0" cy="1813.6" rx="3.1" ry="1.9" fill="none" stroke="#fff" stroke-width="0.8"/><ellipse cx="1039.0" cy="1813.6" rx="1.8" ry="1.2" fill="none" stroke="#fff" stroke-width="0.9"/><ellipse cx="1039.0" cy="1813.6" rx="0.7" ry="0.6" fill="#fff"/>
<path d="M1355.4 1883.5 1355.2 1886.3 1354.5 1888.0 1353.9 1889.8 1352.1 1890.7 1349.6 1890.8 1346 1890.8 1343.6 1890.5 1342.3 1889.2 1340.7 1888.3 1340 1886.5 1340.2 1883.6 1340.7 1880.9 1340.5 1878.7 1342.1 1877.6 1343.5 1876.4 1346 1876.4 1349.5 1876.6 1351.7 1877.1 1353.5 1877.6 1355 1878.7 1355.1 1880.8Z" fill="#000"/><ellipse cx="1347.8" cy="1883.5" rx="4.3" ry="3.3" fill="none" stroke="#fff" stroke-width="0.8"/><ellipse cx="1347.8" cy="1883.5" rx="3.0" ry="2.3" fill="none" stroke="#fff" stroke-width="0.8"/><ellipse cx="1347.8" cy="1883.5" rx="1.8" ry="1.4" fill="none" stroke="#fff" stroke-width="0.9"/><ellipse cx="1347.8" cy="1883.5" rx="0.6" ry="0.6" fill="#fff"/>
<path d="M1447.3 1883.5 1447 1886.5 1445.5 1888.0 1444.2 1889.3 1442.7 1890.6 1439.9 1890.9 1435.8 1890.7 1433.2 1890.4 1431.5 1889.3 1429.8 1888.3 1429.6 1886.3 1429.5 1883.6 1428.8 1880.6 1430.4 1879.2 1431.7 1877.9 1433.1 1876.6 1435.7 1876.0 1439.8 1876.7 1442.4 1876.8 1444.1 1877.9 1445.8 1878.9 1446.8 1880.6Z" fill="#000"/><ellipse cx="1437.8" cy="1883.5" rx="4.9" ry="3.3" fill="none" stroke="#fff" stroke-width="0.8"/><ellipse cx="1437.8" cy="1883.5" rx="3.4" ry="2.3" fill="none" stroke="#fff" stroke-width="0.8"/><ellipse cx="1437.8" cy="1883.5" rx="2.0" ry="1.4" fill="none" stroke="#fff" stroke-width="0.9"/><ellipse cx="1437.8" cy="1883.5" rx="0.7" ry="0.6" fill="#fff"/>
<path d="M1512.9 2014.0 1511.6 2016.5 1511.5 2018.5 1509.6 2019.5 1508.1 2020.9 1504.9 2020.5 1500.6 2020.6 1497.6 2020.7 1495.8 2019.5 1494.1 2018.4 1492.8 2016.9 1493.3 2014.0 1493.3 2011.3 1494 2009.5 1495.5 2008.2 1497.6 2007.4 1500.5 2007.1 1505.1 2006.8 1507.8 2007.4 1509.9 2008.3 1510.8 2009.8 1511.6 2011.5Z" fill="#000"/><ellipse cx="1502.8" cy="2014.0" rx="5.4" ry="3.1" fill="none" stroke="#fff" stroke-width="0.8"/><ellipse cx="1502.8" cy="2014.0" rx="3.8" ry="2.2" fill="none" stroke="#fff" stroke-width="0.8"/><ellipse cx="1502.8" cy="2014.0" rx="2.3" ry="1.3" fill="none" stroke="#fff" stroke-width="0.9"/><ellipse cx="1502.8" cy="2014.0" rx="0.8" ry="0.6" fill="#fff"/>
<path d="M1298.8 1648.0 1297.9 1648.7 1297.3 1649.4 1297.2 1650.2 1295.5 1650.5 1294.1 1650.7 1292.7 1651.0 1290.9 1650.9 1289.3 1650.9 1288.3 1650.3 1286.9 1650.0 1285.6 1649.6 1286 1648.7 1284.8 1648.0 1285.9 1647.3 1286.4 1646.7 1286.6 1645.9 1288.3 1645.7 1289.5 1645.4 1291 1645.2 1292.6 1645.2 1294.2 1645.3 1295.3 1645.7 1296.5 1646.0 1297.9 1646.5 1297.8 1647.3Z" fill="none" stroke="#000" stroke-width="0.8"/><path d="M1296.4 1648.0 1296.4 1648.6 1296 1649.1 1295.2 1649.4 1294.7 1649.9 1293.4 1649.9 1292.5 1650.3 1291.2 1650.2 1290 1650.0 1289 1649.9 1288 1649.5 1287.7 1649.0 1286.9 1648.6 1287 1648.0 1287.2 1647.4 1287.8 1647.0 1288.2 1646.5 1289.3 1646.3 1290 1645.9 1291.1 1645.8 1292.4 1645.9 1293.7 1645.8 1294.5 1646.2 1295.4 1646.5 1295.8 1647.0 1296 1647.5Z" fill="none" stroke="#000" stroke-width="0.8"/>
<path d="M1199.6 2012.5 1198.4 2013.8 1198 2015.0 1197.4 2016.2 1195.9 2016.8 1194.4 2017.2 1192.8 2017.6 1190.8 2018.4 1189.2 2017.7 1188 2016.7 1186.5 2016.1 1184.8 2015.4 1184.5 2014.0 1184.4 2012.5 1185.4 2011.2 1185.3 2009.8 1186.4 2008.8 1187.5 2007.8 1189.2 2007.3 1191 2007.5 1192.9 2006.9 1194.7 2007.2 1196.3 2007.8 1197.2 2009.0 1198.5 2009.8 1198.5 2011.2Z" fill="none" stroke="#000" stroke-width="0.8"/><path d="M1196.8 2012.5 1197.4 2013.6 1196.4 2014.3 1196 2015.3 1195.2 2016.0 1194 2016.5 1192.5 2016.1 1191.1 2016.8 1190 2016.1 1189.1 2015.5 1187.7 2015.3 1187.6 2014.3 1186.7 2013.5 1186.2 2012.5 1186.6 2011.4 1187.5 2010.7 1187.7 2009.7 1188.8 2009.2 1189.9 2008.7 1191.2 2008.5 1192.6 2008.5 1193.8 2009.0 1194.8 2009.4 1196 2009.7 1196.7 2010.5 1197.1 2011.5Z" fill="none" stroke="#000" stroke-width="0.8"/><path d="M1195.3 2012.5 1195 2013.1 1194.6 2013.6 1194.1 2014.0 1193.9 2014.6 1193 2014.7 1192.3 2014.8 1191.5 2015.0 1190.7 2014.7 1189.9 2014.6 1189.6 2014.0 1189 2013.7 1188.9 2013.1 1189 2012.5 1188.6 2011.8 1188.8 2011.2 1189.4 2010.8 1190.2 2010.6 1190.8 2010.4 1191.5 2010.0 1192.3 2010.1 1193.2 2010.1 1193.7 2010.5 1194.3 2010.9 1194.9 2011.3 1195.1 2011.9Z" fill="none" stroke="#000" stroke-width="0.8"/>
<path d="M1193 2012.5 1193.1 2013.9 1192.7 2014.8 1191.9 2015.2 1191.3 2015.7 1190.3 2016.1 1188.7 2016.1 1187.6 2015.9 1186.9 2015.4 1186.3 2014.8 1186.1 2013.9 1186.2 2012.5 1185.9 2011.1 1186.6 2010.4 1186.8 2009.5 1187.6 2009.0 1188.7 2009.0 1190.3 2009.2 1191.4 2009.0 1192.1 2009.7 1192.8 2010.2 1193.1 2011.1Z" fill="#000"/>
<path d="M1047 1894.4 1046.4 1895.9 1046.6 1897.7 1045.6 1899.0 1043.7 1899.4 1042.6 1900.8 1040.6 1900.7 1038.7 1900.2 1037.1 1900.0 1035.3 1899.8 1034 1898.8 1032.7 1897.7 1032.1 1896.1 1032.1 1894.4 1031.9 1892.6 1032.5 1891.0 1034.4 1890.3 1035 1888.7 1036.9 1888.5 1038.7 1888.6 1040.7 1887.9 1042.2 1888.9 1043.8 1889.2 1045.2 1890.1 1046.1 1891.3 1047.4 1892.6Z" fill="none" stroke="#000" stroke-width="0.8"/><path d="M1045.1 1894.4 1045.4 1895.7 1044.7 1896.8 1043.8 1897.6 1043.1 1898.7 1041.9 1899.4 1040.4 1899.3 1038.9 1899.4 1037.6 1898.9 1036.4 1898.4 1035.6 1897.5 1034.8 1896.7 1034 1895.7 1034 1894.4 1034.3 1893.2 1034.8 1892.1 1034.9 1890.7 1036.2 1890.1 1037.7 1890.1 1038.8 1889.2 1040.5 1889.1 1041.7 1889.8 1042.9 1890.4 1044.3 1890.8 1044.6 1892.1 1045.6 1893.0Z" fill="none" stroke="#000" stroke-width="0.8"/><path d="M1044 1894.4 1044 1895.4 1043.3 1896.1 1042.8 1896.8 1041.9 1897.2 1041.2 1897.9 1040.2 1897.8 1039.1 1898.1 1038.1 1897.8 1037.2 1897.4 1036.5 1896.8 1036.1 1896.1 1035.6 1895.3 1035.2 1894.4 1035.5 1893.4 1035.8 1892.6 1036.4 1891.9 1037.1 1891.2 1038 1890.8 1039.1 1891.0 1040.2 1890.8 1041.2 1891.0 1041.9 1891.6 1043 1891.8 1043.3 1892.7 1043.9 1893.4Z" fill="none" stroke="#000" stroke-width="0.8"/><path d="M1042.2 1894.4 1041.9 1894.9 1041.8 1895.4 1041.4 1895.7 1041 1896.1 1040.6 1896.5 1040 1896.4 1039.3 1896.6 1038.7 1896.4 1038.2 1896.2 1037.8 1895.8 1037.5 1895.4 1037.4 1894.9 1036.9 1894.4 1037.4 1893.9 1037.5 1893.4 1037.9 1893.0 1038.1 1892.5 1038.7 1892.2 1039.3 1892.3 1040 1892.4 1040.5 1892.5 1041 1892.7 1041.4 1893.1 1041.8 1893.4 1042.2 1893.8Z" fill="none" stroke="#000" stroke-width="0.8"/>
<path d="M982.3 2064.5 981.8 2065.7 981.7 2066.9 980.7 2067.9 979 2068.4 977.7 2069.5 975.5 2069.1 973.4 2069.4 971.3 2069.4 970 2068.4 968.2 2067.9 967.8 2066.7 966.6 2065.8 966.2 2064.5 966.4 2063.2 967.1 2062.1 968.7 2061.3 970 2060.6 971.7 2060.2 973.4 2059.9 975.6 2059.3 977.5 2059.7 979.3 2060.2 980.4 2061.2 981.1 2062.3 982.8 2063.1Z" fill="none" stroke="#000" stroke-width="0.8"/><path d="M980.5 2064.5 979.7 2065.4 979.4 2066.2 979 2067.0 977.9 2067.5 976.6 2067.8 975.2 2067.8 973.7 2067.8 972.3 2067.9 971.1 2067.4 969.8 2067.1 969 2066.3 969 2065.4 968.5 2064.5 968.9 2063.6 969.5 2062.9 969.8 2061.9 971.1 2061.6 972.1 2060.9 973.6 2060.7 975.2 2061.1 976.6 2061.1 978 2061.4 978.5 2062.3 979.2 2062.9 979.7 2063.6Z" fill="none" stroke="#000" stroke-width="0.8"/>
<path d="M1608.8 1893.3 1608.6 1894.9 1607.3 1896.0 1606.4 1897.2 1605.2 1898.3 1603.3 1898.6 1601.4 1898.5 1599.5 1898.7 1597.4 1898.9 1595.8 1898.2 1594.8 1897.0 1593.6 1896.1 1592.5 1894.9 1592.7 1893.3 1592.6 1891.8 1593.6 1890.6 1594.4 1889.5 1596 1888.7 1597.6 1888.1 1599.4 1887.8 1601.5 1887.4 1603.6 1887.7 1604.6 1889.0 1606.1 1889.7 1607.3 1890.6 1607.5 1892.0Z" fill="none" stroke="#000" stroke-width="0.8"/><path d="M1605.8 1893.3 1605.9 1894.4 1605.4 1895.3 1604.7 1896.1 1603.9 1897.0 1602.4 1897.0 1601.2 1897.2 1599.8 1897.1 1598.4 1897.1 1597.2 1896.7 1596.4 1896.0 1595.3 1895.4 1595.5 1894.3 1594.5 1893.3 1594.7 1892.2 1595.7 1891.5 1596.2 1890.6 1597.4 1890.2 1598.4 1889.6 1599.7 1889.1 1601.2 1889.5 1602.6 1889.4 1603.5 1890.2 1605 1890.4 1605.2 1891.5 1606.1 1892.3Z" fill="none" stroke="#000" stroke-width="0.8"/><path d="M1604 1893.3 1603.6 1894.0 1603.2 1894.4 1602.8 1894.9 1602.6 1895.5 1601.7 1895.6 1600.9 1895.7 1600 1895.8 1599.2 1895.6 1598.4 1895.5 1597.8 1895.1 1597.2 1894.6 1597.2 1894.0 1597.2 1893.3 1597 1892.7 1597.5 1892.2 1597.7 1891.5 1598.5 1891.4 1599.2 1891.1 1600 1891.1 1600.9 1890.9 1601.6 1891.2 1602.3 1891.4 1602.9 1891.8 1603.7 1892.1 1603.8 1892.7Z" fill="none" stroke="#000" stroke-width="0.8"/>
<ellipse cx="1030.0" cy="1970.0" rx="1.2" ry="1.0" fill="#000"/>
<ellipse cx="1350.0" cy="1829.0" rx="1.2" ry="1.0" fill="#000"/>
<ellipse cx="1398.0" cy="1783.0" rx="1.2" ry="1.0" fill="#000"/>
<text x="1330.5" y="1925.0" font-size="26" font-weight="bold" fill="#e8231c" style="fill:#e8231c" font-style="italic">1</text><ellipse cx="1347.0" cy="1893.4" rx="11.4" ry="8.8" fill="none" stroke="#e8231c" stroke-width="2.6" stroke-dasharray="2.5 2" transform="rotate(0 1347.0 1893.4)"/>
<rect x="935.0" y="1466.1" width="801.5" height="628.3" fill="none" stroke="#000" stroke-width="1.6"/>
<path d="M1733.3 2094.4v10M1724.9 2094.4v6.5M1716.5 2094.4v6.5M1708.1 2094.4v6.5M1699.7 2094.4v6.5M1691.3 2094.4v12.5M1682.9 2094.4v6.5M1674.5 2094.4v6.5M1666.1 2094.4v6.5M1657.7 2094.4v6.5M1649.3 2094.4v10M1640.9 2094.4v6.5M1632.5 2094.4v6.5M1624.1 2094.4v6.5M1615.7 2094.4v6.5M1607.3 2094.4v12.5M1598.9 2094.4v6.5M1590.5 2094.4v6.5M1582.1 2094.4v6.5M1573.7 2094.4v6.5M1565.3 2094.4v10M1556.9 2094.4v6.5M1548.5 2094.4v6.5M1540.1 2094.4v6.5M1531.7 2094.4v6.5M1523.3 2094.4v12.5M1514.9 2094.4v6.5M1506.5 2094.4v6.5M1498.1 2094.4v6.5M1489.7 2094.4v6.5M1481.3 2094.4v10M1472.9 2094.4v6.5M1464.5 2094.4v6.5M1456.1 2094.4v6.5M1447.7 2094.4v6.5M1439.3 2094.4v12.5M1430.9 2094.4v6.5M1422.5 2094.4v6.5M1414.1 2094.4v6.5M1405.7 2094.4v6.5M1397.3 2094.4v10M1388.9 2094.4v6.5M1380.5 2094.4v6.5M1372.1 2094.4v6.5M1363.7 2094.4v6.5M1355.3 2094.4v12.5M1346.9 2094.4v6.5M1338.5 2094.4v6.5M1330.1 2094.4v6.5M1321.7 2094.4v6.5M1313.3 2094.4v10M1304.9 2094.4v6.5M1296.5 2094.4v6.5M1288.1 2094.4v6.5M1279.7 2094.4v6.5M1271.3 2094.4v12.5M1262.9 2094.4v6.5M1254.5 2094.4v6.5M1246.1 2094.4v6.5M1237.7 2094.4v6.5M1229.3 2094.4v10M1220.9 2094.4v6.5M1212.5 2094.4v6.5M1204.1 2094.4v6.5M1195.7 2094.4v6.5M1187.3 2094.4v12.5M1178.9 2094.4v6.5M1170.5 2094.4v6.5M1162.1 2094.4v6.5M1153.7 2094.4v6.5M1145.3 2094.4v10M1136.9 2094.4v6.5M1128.5 2094.4v6.5M1120.1 2094.4v6.5M1111.7 2094.4v6.5M1103.3 2094.4v12.5M1094.9 2094.4v6.5M1086.5 2094.4v6.5M1078.1 2094.4v6.5M1069.7 2094.4v6.5M1061.3 2094.4v10M1052.9 2094.4v6.5M1044.5 2094.4v6.5M1036.1 2094.4v6.5M1027.7 2094.4v6.5M1019.3 2094.4v12.5M1010.9 2094.4v6.5M1002.5 2094.4v6.5M994.1 2094.4v6.5M985.7 2094.4v6.5M977.3 2094.4v10M968.9 2094.4v6.5M960.5 2094.4v6.5M952.1 2094.4v6.5M943.7 2094.4v6.5M1736.5 1472.9h6.5M1736.5 1479.6h6.5M1736.5 1486.2h6.5M1736.5 1492.8h6.5M1736.5 1499.4h13M1736.5 1506.0h6.5M1736.5 1512.6h6.5M1736.5 1519.2h6.5M1736.5 1525.9h6.5M1736.5 1532.5h9.5M1736.5 1539.1h6.5M1736.5 1545.7h6.5M1736.5 1552.3h6.5M1736.5 1558.9h6.5M1736.5 1565.6h13M1736.5 1572.2h6.5M1736.5 1578.8h6.5M1736.5 1585.4h6.5M1736.5 1592.0h6.5M1736.5 1598.6h9.5M1736.5 1605.3h6.5M1736.5 1611.9h6.5M1736.5 1618.5h6.5M1736.5 1625.1h6.5M1736.5 1631.7h13M1736.5 1638.3h6.5M1736.5 1645.0h6.5M1736.5 1651.6h6.5M1736.5 1658.2h6.5M1736.5 1664.8h9.5M1736.5 1671.4h6.5M1736.5 1678.0h6.5M1736.5 1684.6h6.5M1736.5 1691.3h6.5M1736.5 1697.9h13M1736.5 1704.5h6.5M1736.5 1711.1h6.5M1736.5 1717.7h6.5M1736.5 1724.3h6.5M1736.5 1731.0h9.5M1736.5 1737.6h6.5M1736.5 1744.2h6.5M1736.5 1750.8h6.5M1736.5 1757.4h6.5M1736.5 1764.0h13M1736.5 1770.7h6.5M1736.5 1777.3h6.5M1736.5 1783.9h6.5M1736.5 1790.5h6.5M1736.5 1797.1h9.5M1736.5 1803.7h6.5M1736.5 1810.4h6.5M1736.5 1817.0h6.5M1736.5 1823.6h6.5M1736.5 1830.2h13M1736.5 1836.8h6.5M1736.5 1843.4h6.5M1736.5 1850.0h6.5M1736.5 1856.7h6.5M1736.5 1863.3h9.5M1736.5 1869.9h6.5M1736.5 1876.5h6.5M1736.5 1883.1h6.5M1736.5 1889.7h6.5M1736.5 1896.4h13M1736.5 1903.0h6.5M1736.5 1909.6h6.5M1736.5 1916.2h6.5M1736.5 1922.8h6.5M1736.5 1929.4h9.5M1736.5 1936.1h6.5M1736.5 1942.7h6.5M1736.5 1949.3h6.5M1736.5 1955.9h6.5M1736.5 1962.5h13M1736.5 1969.1h6.5M1736.5 1975.8h6.5M1736.5 1982.4h6.5M1736.5 1989.0h6.5M1736.5 1995.6h9.5M1736.5 2002.2h6.5M1736.5 2008.8h6.5M1736.5 2015.4h6.5M1736.5 2022.1h6.5M1736.5 2028.7h13M1736.5 2035.3h6.5M1736.5 2041.9h6.5M1736.5 2048.5h6.5M1736.5 2055.1h6.5M1736.5 2061.8h9.5M1736.5 2068.4h6.5M1736.5 2075.0h6.5M1736.5 2081.6h6.5M1736.5 2088.2h6.5" stroke="#000" stroke-width="1.3" fill="none"/>
<text x="1019.3" y="2128.1" text-anchor="middle" font-size="22">8.8</text>
<text x="1103.3" y="2128.1" text-anchor="middle" font-size="22">8.7</text>
<text x="1187.3" y="2128.1" text-anchor="middle" font-size="22">8.6</text>
<text x="1271.3" y="2128.1" text-anchor="middle" font-size="22">8.5</text>
<text x="1355.3" y="2128.1" text-anchor="middle" font-size="22">8.4</text>
<text x="1439.3" y="2128.1" text-anchor="middle" font-size="22">8.3</text>
<text x="1523.3" y="2128.1" text-anchor="middle" font-size="22">8.2</text>
<text x="1607.3" y="2128.1" text-anchor="middle" font-size="22">8.1</text>
<text x="1691.3" y="2128.1" text-anchor="middle" font-size="22">8.0</text>
<text x="1756.6" y="1505.4" font-size="22">8.0</text>
<text x="1756.6" y="1571.6" font-size="22">8.1</text>
<text x="1756.6" y="1637.7" font-size="22">8.2</text>
<text x="1756.6" y="1703.9" font-size="22">8.3</text>
<text x="1756.6" y="1770.0" font-size="22">8.4</text>
<text x="1756.6" y="1836.2" font-size="22">8.5</text>
<text x="1756.6" y="1902.4" font-size="22">8.6</text>
<text x="1756.6" y="1968.5" font-size="22">8.7</text>
<text x="1756.6" y="2034.7" font-size="22">8.8</text>
<text x="1283.0" y="2156.0" font-size="22"><tspan font-size="13" dy="-8">1</tspan><tspan dy="8">H ppm</tspan></text>
<text transform="translate(1820.5,1812.5) rotate(-90)" font-size="22"><tspan font-size="13" dy="-8">1</tspan><tspan dy="8">H ppm</tspan></text>
<text transform="translate(1034.2,2046.0) rotate(90)" font-size="17.5" text-anchor="start">E(+1)</text>
<text transform="translate(1181.5,2025.5) rotate(90)" font-size="17.5" font-weight="bold" text-anchor="start">E(+2)</text>
<text transform="translate(1207.1,2015.8) rotate(90)" font-size="17.5" text-anchor="start">E(-2)</text>
<text transform="translate(1244.8,2001.0) rotate(90)" font-size="17.5" text-anchor="start">E(0)</text>
<text transform="translate(1270.4,1993.9) rotate(90)" font-size="17.5" text-anchor="start">G(-4)</text>
<text transform="translate(1309.4,1966.4) rotate(90)" font-size="17.5" text-anchor="start">E(-7)</text>
<text transform="translate(1341.7,1947.7) rotate(90)" font-size="17.5" font-weight="bold" text-anchor="start">A(-1)</text>
<text transform="translate(1369.7,1939.5) rotate(90)" font-size="17.5" text-anchor="start">E(-10)</text>
<text transform="translate(1395.6,1925.0) rotate(90)" font-size="17.5" text-anchor="start">E(-8)</text>
<text transform="translate(1419.4,1917.7) rotate(90)" font-size="17.5" text-anchor="start">F(-5)</text>
<text transform="translate(1440.2,1901.0) rotate(90)" font-size="17.5" text-anchor="start">E(-9)</text>
<text transform="translate(1459.8,1889.8) rotate(90)" font-size="17.5" text-anchor="start">A(-11)</text>
<text transform="translate(1478.4,1879.4) rotate(90)" font-size="17.5" text-anchor="start">D(-6)</text>
<text transform="translate(1507.4,1862.8) rotate(90)" font-size="17.5" text-anchor="start">E(-3)</text>
<text transform="translate(1556.1,1800.7) rotate(90)" font-size="17.5" text-anchor="start">E(0) glutamyl</text>
<text transform="translate(1589.2,1782.0) rotate(90)" font-size="17.5" text-anchor="start">A(+3)</text>
<text x="-1" y="21.8" font-size="30.5" font-weight="bold">a</text>
<text x="919" y="22" font-size="30.5" font-weight="bold">b</text>
<text x="-0.5" y="363.4" font-size="30.5" font-weight="bold">c</text>
<text x="920.7" y="363.6" font-size="30.5" font-weight="bold">d</text>
<text x="0.5" y="1102.5" font-size="30.5" font-weight="bold">e</text>
<text x="921.6" y="1102" font-size="30.5" font-weight="bold">f</text>
<text x="1.5" y="1456" font-size="30.5" font-weight="bold">g</text>
<text x="922.3" y="1462.5" font-size="30.5" font-weight="bold">h</text>
<text x="3" y="2182.8" font-size="30.5" font-weight="bold">i</text>
<text x="924.3" y="2182.8" font-size="30.5" font-weight="bold">j</text>
</svg>
</body></html>
